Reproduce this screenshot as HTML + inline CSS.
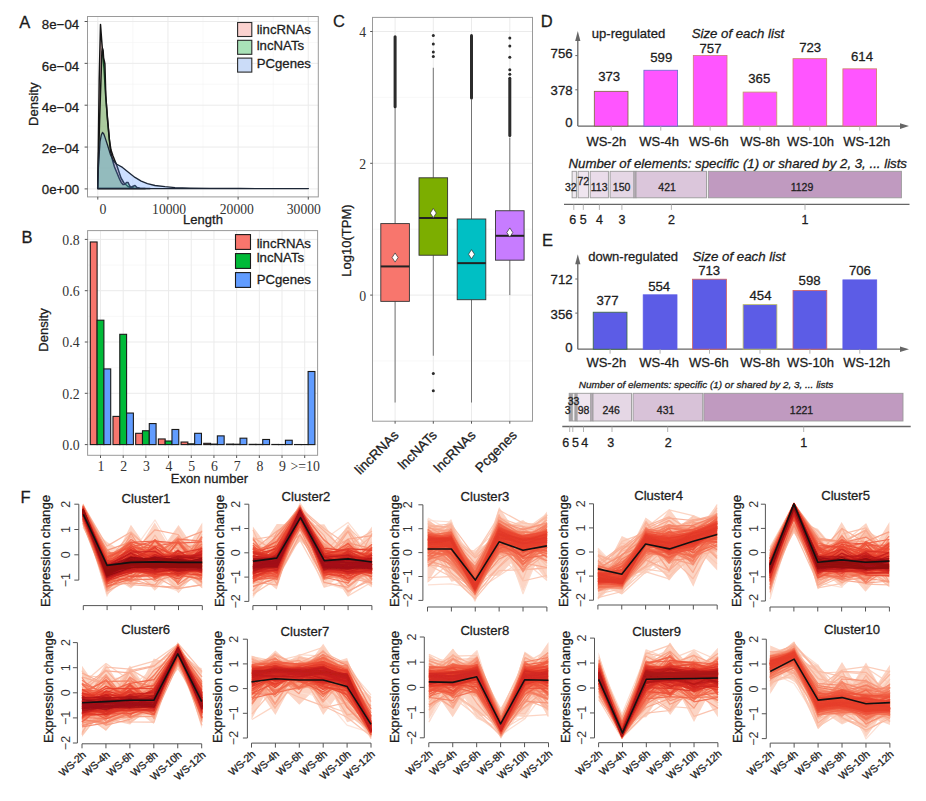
<!DOCTYPE html>
<html><head><meta charset="utf-8"><title>Figure</title>
<style>
html,body{margin:0;padding:0;background:#fff;width:926px;height:801px;overflow:hidden;}
svg{display:block;}
svg text{stroke:#222;stroke-width:0.28px;}
svg text[font-family*="Serif"],svg text.ns{stroke:none;}

</style></head><body>
<svg width="926" height="801" viewBox="0 0 926 801">
<rect x="0" y="0" width="926" height="801" fill="#fff"/>
<defs><filter id="bl" x="-5%" y="-5%" width="110%" height="110%"><feGaussianBlur stdDeviation="0.45"/></filter></defs>
<line x1="132.88" y1="16.50" x2="132.88" y2="196.90" stroke="#f4f4f4" stroke-width="0.6"/>
<line x1="203.03" y1="16.50" x2="203.03" y2="196.90" stroke="#f4f4f4" stroke-width="0.6"/>
<line x1="273.18" y1="16.50" x2="273.18" y2="196.90" stroke="#f4f4f4" stroke-width="0.6"/>
<line x1="87.50" y1="167.97" x2="318.30" y2="167.97" stroke="#f4f4f4" stroke-width="0.6"/>
<line x1="87.50" y1="126.13" x2="318.30" y2="126.13" stroke="#f4f4f4" stroke-width="0.6"/>
<line x1="87.50" y1="84.28" x2="318.30" y2="84.28" stroke="#f4f4f4" stroke-width="0.6"/>
<line x1="87.50" y1="42.43" x2="318.30" y2="42.43" stroke="#f4f4f4" stroke-width="0.6"/>
<line x1="97.80" y1="16.50" x2="97.80" y2="196.90" stroke="#ebebeb" stroke-width="1"/>
<line x1="167.95" y1="16.50" x2="167.95" y2="196.90" stroke="#ebebeb" stroke-width="1"/>
<line x1="238.10" y1="16.50" x2="238.10" y2="196.90" stroke="#ebebeb" stroke-width="1"/>
<line x1="308.25" y1="16.50" x2="308.25" y2="196.90" stroke="#ebebeb" stroke-width="1"/>
<line x1="87.50" y1="188.90" x2="318.30" y2="188.90" stroke="#ebebeb" stroke-width="1"/>
<line x1="87.50" y1="147.05" x2="318.30" y2="147.05" stroke="#ebebeb" stroke-width="1"/>
<line x1="87.50" y1="105.20" x2="318.30" y2="105.20" stroke="#ebebeb" stroke-width="1"/>
<line x1="87.50" y1="63.35" x2="318.30" y2="63.35" stroke="#ebebeb" stroke-width="1"/>
<line x1="87.50" y1="21.50" x2="318.30" y2="21.50" stroke="#ebebeb" stroke-width="1"/>
<path d="M97.7,188.6 L98.3,150.0 L99.2,80.0 L100.5,24.5 L101.5,38.0 L102.6,52.0 L104.0,68.0 L105.6,95.0 L107.5,118.0 L109.4,140.0 L111.0,150.0 L113.0,156.0 L115.0,161.0 L117.0,166.0 L119.0,172.0 L121.0,178.0 L124.0,183.0 L128.0,186.5 L134.0,188.2 L145.0,188.6 Z" fill="rgba(248,118,109,0.33)" stroke="#151515" stroke-width="1.5" stroke-linejoin="round"/>
<path d="M97.7,188.6 L99.6,120.0 L101.2,72.0 L101.9,52.0 L102.5,48.5 L103.1,50.5 L103.6,58.0 L104.3,61.0 L104.9,64.0 L105.8,96.0 L107.5,120.0 L109.4,140.0 L110.6,152.0 L112.5,160.0 L114.5,167.0 L117.0,173.0 L119.5,179.0 L121.2,182.4 L123.0,184.5 L125.0,184.2 L126.5,182.6 L128.0,182.4 L129.5,185.5 L130.6,187.4 L132.5,186.5 L135.0,185.5 L137.0,187.5 L140.0,188.3 L150.0,188.6 Z" fill="rgba(0,186,56,0.32)" stroke="#151515" stroke-width="1.5" stroke-linejoin="round"/>
<path d="M97.7,188.6 L98.5,165.0 L100.0,142.0 L101.3,135.0 L102.5,132.4 L103.8,134.0 L105.0,137.4 L107.5,145.0 L110.6,155.0 L113.7,161.0 L116.8,164.3 L122.5,167.4 L128.7,172.4 L135.0,177.4 L141.2,181.1 L147.4,183.6 L155.0,185.5 L165.0,186.7 L175.0,187.6 L190.0,188.1 L210.0,188.4 L240.0,188.5 L280.0,188.6 L308.4,188.6 Z" fill="rgba(97,156,255,0.32)" stroke="#1c2636" stroke-width="1.3" stroke-linejoin="round"/>
<rect x="87.50" y="16.50" width="230.80" height="180.40" fill="none" stroke="#9a9a9a" stroke-width="1"/>
<line x1="84.60" y1="188.90" x2="87.50" y2="188.90" stroke="#555" stroke-width="1"/>
<text x="79.20" y="194.19" font-size="13.3" text-anchor="end" font-family='"Liberation Sans", sans-serif' fill="#1a1a1a">0e+00</text>
<line x1="84.60" y1="147.05" x2="87.50" y2="147.05" stroke="#555" stroke-width="1"/>
<text x="79.20" y="152.79" font-size="13.3" text-anchor="end" font-family='"Liberation Sans", sans-serif' fill="#1a1a1a">2e−04</text>
<line x1="84.60" y1="105.20" x2="87.50" y2="105.20" stroke="#555" stroke-width="1"/>
<text x="79.20" y="112.49" font-size="13.3" text-anchor="end" font-family='"Liberation Sans", sans-serif' fill="#1a1a1a">4e−04</text>
<line x1="84.60" y1="63.35" x2="87.50" y2="63.35" stroke="#555" stroke-width="1"/>
<text x="79.20" y="70.79" font-size="13.3" text-anchor="end" font-family='"Liberation Sans", sans-serif' fill="#1a1a1a">6e−04</text>
<line x1="84.60" y1="21.50" x2="87.50" y2="21.50" stroke="#555" stroke-width="1"/>
<text x="79.20" y="28.69" font-size="13.3" text-anchor="end" font-family='"Liberation Sans", sans-serif' fill="#1a1a1a">8e−04</text>
<line x1="97.80" y1="196.90" x2="97.80" y2="199.60" stroke="#555" stroke-width="1"/>
<text x="102.90" y="213.77" font-size="13.8" text-anchor="middle" font-family='"Liberation Serif", serif' fill="#333">0</text>
<line x1="167.95" y1="196.90" x2="167.95" y2="199.60" stroke="#555" stroke-width="1"/>
<text x="169.10" y="213.77" font-size="13.8" text-anchor="middle" font-family='"Liberation Serif", serif' fill="#333" textLength="34.0" lengthAdjust="spacingAndGlyphs">10000</text>
<line x1="238.10" y1="196.90" x2="238.10" y2="199.60" stroke="#555" stroke-width="1"/>
<text x="236.80" y="213.77" font-size="13.8" text-anchor="middle" font-family='"Liberation Serif", serif' fill="#333" textLength="34.0" lengthAdjust="spacingAndGlyphs">20000</text>
<line x1="308.25" y1="196.90" x2="308.25" y2="199.60" stroke="#555" stroke-width="1"/>
<text x="303.80" y="213.77" font-size="13.8" text-anchor="middle" font-family='"Liberation Serif", serif' fill="#333" textLength="34.0" lengthAdjust="spacingAndGlyphs">30000</text>
<text x="203.00" y="223.98" font-size="13" text-anchor="middle" font-family='"Liberation Sans", sans-serif' fill="#1a1a1a">Length</text>
<text x="33.20" y="108.88" font-size="13" text-anchor="middle" font-family='"Liberation Sans", sans-serif' fill="#1a1a1a" transform="rotate(-90 33.20 104.20)">Density</text>
<rect x="237.60" y="22.50" width="14.20" height="14.00" fill="#fbd2cf" stroke="#2a2a2a" stroke-width="1.1"/>
<text x="256.70" y="34.15" font-size="13.2" text-anchor="start" font-family='"Liberation Sans", sans-serif' fill="#1a1a1a">lincRNAs</text>
<rect x="237.60" y="40.30" width="14.20" height="14.00" fill="#a9e2b8" stroke="#2a2a2a" stroke-width="1.1"/>
<text x="256.70" y="49.55" font-size="13.2" text-anchor="start" font-family='"Liberation Sans", sans-serif' fill="#1a1a1a">lncNATs</text>
<rect x="237.60" y="58.10" width="14.20" height="14.00" fill="#cbdcf8" stroke="#2a2a2a" stroke-width="1.1"/>
<text x="256.70" y="67.75" font-size="13.2" text-anchor="start" font-family='"Liberation Sans", sans-serif' fill="#1a1a1a">PCgenes</text>
<text x="24.70" y="27.94" font-size="16.5" text-anchor="middle" font-family='"Liberation Sans", sans-serif' fill="#1a1a1a">A</text>
<line x1="87.60" y1="418.95" x2="317.60" y2="418.95" stroke="#f4f4f4" stroke-width="0.6"/>
<line x1="87.60" y1="367.65" x2="317.60" y2="367.65" stroke="#f4f4f4" stroke-width="0.6"/>
<line x1="87.60" y1="316.35" x2="317.60" y2="316.35" stroke="#f4f4f4" stroke-width="0.6"/>
<line x1="87.60" y1="265.05" x2="317.60" y2="265.05" stroke="#f4f4f4" stroke-width="0.6"/>
<line x1="87.60" y1="444.60" x2="317.60" y2="444.60" stroke="#ebebeb" stroke-width="1"/>
<line x1="87.60" y1="393.30" x2="317.60" y2="393.30" stroke="#ebebeb" stroke-width="1"/>
<line x1="87.60" y1="342.00" x2="317.60" y2="342.00" stroke="#ebebeb" stroke-width="1"/>
<line x1="87.60" y1="290.70" x2="317.60" y2="290.70" stroke="#ebebeb" stroke-width="1"/>
<line x1="87.60" y1="239.40" x2="317.60" y2="239.40" stroke="#ebebeb" stroke-width="1"/>
<line x1="100.50" y1="230.60" x2="100.50" y2="455.30" stroke="#ebebeb" stroke-width="1"/>
<line x1="123.19" y1="230.60" x2="123.19" y2="455.30" stroke="#ebebeb" stroke-width="1"/>
<line x1="145.88" y1="230.60" x2="145.88" y2="455.30" stroke="#ebebeb" stroke-width="1"/>
<line x1="168.57" y1="230.60" x2="168.57" y2="455.30" stroke="#ebebeb" stroke-width="1"/>
<line x1="191.26" y1="230.60" x2="191.26" y2="455.30" stroke="#ebebeb" stroke-width="1"/>
<line x1="213.95" y1="230.60" x2="213.95" y2="455.30" stroke="#ebebeb" stroke-width="1"/>
<line x1="236.64" y1="230.60" x2="236.64" y2="455.30" stroke="#ebebeb" stroke-width="1"/>
<line x1="259.33" y1="230.60" x2="259.33" y2="455.30" stroke="#ebebeb" stroke-width="1"/>
<line x1="282.02" y1="230.60" x2="282.02" y2="455.30" stroke="#ebebeb" stroke-width="1"/>
<line x1="304.71" y1="230.60" x2="304.71" y2="455.30" stroke="#ebebeb" stroke-width="1"/>
<rect x="90.30" y="241.97" width="6.80" height="202.63" fill="#f8766d" stroke="#1a1a1a" stroke-width="1.1"/>
<rect x="97.10" y="320.20" width="6.80" height="124.40" fill="#00ba38" stroke="#1a1a1a" stroke-width="1.1"/>
<rect x="103.90" y="368.93" width="6.80" height="75.67" fill="#619cff" stroke="#1a1a1a" stroke-width="1.1"/>
<rect x="112.99" y="416.39" width="6.80" height="28.21" fill="#f8766d" stroke="#1a1a1a" stroke-width="1.1"/>
<rect x="119.79" y="334.31" width="6.80" height="110.29" fill="#00ba38" stroke="#1a1a1a" stroke-width="1.1"/>
<rect x="126.59" y="413.05" width="6.80" height="31.55" fill="#619cff" stroke="#1a1a1a" stroke-width="1.1"/>
<rect x="135.68" y="433.31" width="6.80" height="11.29" fill="#f8766d" stroke="#1a1a1a" stroke-width="1.1"/>
<rect x="142.48" y="430.75" width="6.80" height="13.85" fill="#00ba38" stroke="#1a1a1a" stroke-width="1.1"/>
<rect x="149.28" y="423.57" width="6.80" height="21.03" fill="#619cff" stroke="#1a1a1a" stroke-width="1.1"/>
<rect x="158.37" y="438.96" width="6.80" height="5.64" fill="#f8766d" stroke="#1a1a1a" stroke-width="1.1"/>
<rect x="165.17" y="441.01" width="6.80" height="3.59" fill="#00ba38" stroke="#1a1a1a" stroke-width="1.1"/>
<rect x="171.97" y="429.47" width="6.80" height="15.13" fill="#619cff" stroke="#1a1a1a" stroke-width="1.1"/>
<rect x="181.06" y="442.04" width="6.80" height="2.56" fill="#f8766d" stroke="#1a1a1a" stroke-width="1.1"/>
<rect x="187.86" y="443.83" width="6.80" height="0.77" fill="#00ba38" stroke="#1a1a1a" stroke-width="1.1"/>
<rect x="194.66" y="433.31" width="6.80" height="11.29" fill="#619cff" stroke="#1a1a1a" stroke-width="1.1"/>
<rect x="203.75" y="443.32" width="6.80" height="1.28" fill="#f8766d" stroke="#1a1a1a" stroke-width="1.1"/>
<rect x="210.55" y="444.09" width="6.80" height="0.51" fill="#00ba38" stroke="#1a1a1a" stroke-width="1.1"/>
<rect x="217.35" y="435.88" width="6.80" height="8.72" fill="#619cff" stroke="#1a1a1a" stroke-width="1.1"/>
<rect x="226.44" y="444.09" width="6.80" height="0.51" fill="#f8766d" stroke="#1a1a1a" stroke-width="1.1"/>
<rect x="233.24" y="444.22" width="6.80" height="0.38" fill="#00ba38" stroke="#1a1a1a" stroke-width="1.1"/>
<rect x="240.04" y="438.19" width="6.80" height="6.41" fill="#619cff" stroke="#1a1a1a" stroke-width="1.1"/>
<rect x="249.13" y="444.34" width="6.80" height="0.26" fill="#f8766d" stroke="#1a1a1a" stroke-width="1.1"/>
<rect x="255.93" y="444.39" width="6.80" height="0.21" fill="#00ba38" stroke="#1a1a1a" stroke-width="1.1"/>
<rect x="262.73" y="439.47" width="6.80" height="5.13" fill="#619cff" stroke="#1a1a1a" stroke-width="1.1"/>
<rect x="271.82" y="444.45" width="6.80" height="0.15" fill="#f8766d" stroke="#1a1a1a" stroke-width="1.1"/>
<rect x="278.62" y="444.50" width="6.80" height="0.10" fill="#00ba38" stroke="#1a1a1a" stroke-width="1.1"/>
<rect x="285.42" y="440.24" width="6.80" height="4.36" fill="#619cff" stroke="#1a1a1a" stroke-width="1.1"/>
<rect x="294.51" y="444.52" width="6.80" height="0.08" fill="#f8766d" stroke="#1a1a1a" stroke-width="1.1"/>
<rect x="301.31" y="444.55" width="6.80" height="0.05" fill="#00ba38" stroke="#1a1a1a" stroke-width="1.1"/>
<rect x="308.11" y="371.50" width="6.80" height="73.10" fill="#619cff" stroke="#1a1a1a" stroke-width="1.1"/>
<rect x="87.60" y="230.60" width="230.00" height="224.70" fill="none" stroke="#9a9a9a" stroke-width="1"/>
<line x1="84.80" y1="444.60" x2="87.60" y2="444.60" stroke="#555" stroke-width="1"/>
<text x="79.60" y="450.07" font-size="13.8" text-anchor="end" font-family='"Liberation Serif", serif' fill="#333">0.0</text>
<line x1="84.80" y1="393.30" x2="87.60" y2="393.30" stroke="#555" stroke-width="1"/>
<text x="79.60" y="398.77" font-size="13.8" text-anchor="end" font-family='"Liberation Serif", serif' fill="#333">0.2</text>
<line x1="84.80" y1="342.00" x2="87.60" y2="342.00" stroke="#555" stroke-width="1"/>
<text x="79.60" y="347.47" font-size="13.8" text-anchor="end" font-family='"Liberation Serif", serif' fill="#333">0.4</text>
<line x1="84.80" y1="290.70" x2="87.60" y2="290.70" stroke="#555" stroke-width="1"/>
<text x="79.60" y="296.17" font-size="13.8" text-anchor="end" font-family='"Liberation Serif", serif' fill="#333">0.6</text>
<line x1="84.80" y1="239.40" x2="87.60" y2="239.40" stroke="#555" stroke-width="1"/>
<text x="79.60" y="244.87" font-size="13.8" text-anchor="end" font-family='"Liberation Serif", serif' fill="#333">0.8</text>
<line x1="100.50" y1="455.30" x2="100.50" y2="458.00" stroke="#555" stroke-width="1"/>
<text x="101.00" y="471.27" font-size="13.8" text-anchor="middle" font-family='"Liberation Serif", serif' fill="#333">1</text>
<line x1="123.19" y1="455.30" x2="123.19" y2="458.00" stroke="#555" stroke-width="1"/>
<text x="123.69" y="471.27" font-size="13.8" text-anchor="middle" font-family='"Liberation Serif", serif' fill="#333">2</text>
<line x1="145.88" y1="455.30" x2="145.88" y2="458.00" stroke="#555" stroke-width="1"/>
<text x="146.38" y="471.27" font-size="13.8" text-anchor="middle" font-family='"Liberation Serif", serif' fill="#333">3</text>
<line x1="168.57" y1="455.30" x2="168.57" y2="458.00" stroke="#555" stroke-width="1"/>
<text x="169.07" y="471.27" font-size="13.8" text-anchor="middle" font-family='"Liberation Serif", serif' fill="#333">4</text>
<line x1="191.26" y1="455.30" x2="191.26" y2="458.00" stroke="#555" stroke-width="1"/>
<text x="191.76" y="471.27" font-size="13.8" text-anchor="middle" font-family='"Liberation Serif", serif' fill="#333">5</text>
<line x1="213.95" y1="455.30" x2="213.95" y2="458.00" stroke="#555" stroke-width="1"/>
<text x="214.45" y="471.27" font-size="13.8" text-anchor="middle" font-family='"Liberation Serif", serif' fill="#333">6</text>
<line x1="236.64" y1="455.30" x2="236.64" y2="458.00" stroke="#555" stroke-width="1"/>
<text x="237.14" y="471.27" font-size="13.8" text-anchor="middle" font-family='"Liberation Serif", serif' fill="#333">7</text>
<line x1="259.33" y1="455.30" x2="259.33" y2="458.00" stroke="#555" stroke-width="1"/>
<text x="259.83" y="471.27" font-size="13.8" text-anchor="middle" font-family='"Liberation Serif", serif' fill="#333">8</text>
<line x1="282.02" y1="455.30" x2="282.02" y2="458.00" stroke="#555" stroke-width="1"/>
<text x="282.52" y="471.27" font-size="13.8" text-anchor="middle" font-family='"Liberation Serif", serif' fill="#333">9</text>
<line x1="304.71" y1="455.30" x2="304.71" y2="458.00" stroke="#555" stroke-width="1"/>
<text x="305.21" y="471.27" font-size="13.8" text-anchor="middle" font-family='"Liberation Serif", serif' fill="#333">&gt;=10</text>
<text x="209.50" y="483.28" font-size="13" text-anchor="middle" font-family='"Liberation Sans", sans-serif' fill="#1a1a1a">Exon number</text>
<text x="43.60" y="334.68" font-size="13" text-anchor="middle" font-family='"Liberation Sans", sans-serif' fill="#1a1a1a" transform="rotate(-90 43.60 330.00)">Density</text>
<rect x="235.50" y="234.60" width="15.00" height="14.80" fill="#f8766d" stroke="#1a1a1a" stroke-width="1.1"/>
<text x="256.70" y="247.95" font-size="13.2" text-anchor="start" font-family='"Liberation Sans", sans-serif' fill="#1a1a1a">lincRNAs</text>
<rect x="235.50" y="253.60" width="15.00" height="14.80" fill="#00ba38" stroke="#1a1a1a" stroke-width="1.1"/>
<text x="256.70" y="262.35" font-size="13.2" text-anchor="start" font-family='"Liberation Sans", sans-serif' fill="#1a1a1a">lncNATs</text>
<rect x="235.50" y="272.60" width="15.00" height="14.80" fill="#619cff" stroke="#1a1a1a" stroke-width="1.1"/>
<text x="256.70" y="283.75" font-size="13.2" text-anchor="start" font-family='"Liberation Sans", sans-serif' fill="#1a1a1a">PCgenes</text>
<text x="27.00" y="243.24" font-size="16.5" text-anchor="middle" font-family='"Liberation Sans", sans-serif' fill="#1a1a1a">B</text>
<line x1="372.50" y1="361.00" x2="532.50" y2="361.00" stroke="#f4f4f4" stroke-width="0.6"/>
<line x1="372.50" y1="229.20" x2="532.50" y2="229.20" stroke="#f4f4f4" stroke-width="0.6"/>
<line x1="372.50" y1="97.40" x2="532.50" y2="97.40" stroke="#f4f4f4" stroke-width="0.6"/>
<line x1="372.50" y1="295.10" x2="532.50" y2="295.10" stroke="#ebebeb" stroke-width="1"/>
<line x1="372.50" y1="163.30" x2="532.50" y2="163.30" stroke="#ebebeb" stroke-width="1"/>
<line x1="372.50" y1="31.50" x2="532.50" y2="31.50" stroke="#ebebeb" stroke-width="1"/>
<line x1="395.10" y1="17.40" x2="395.10" y2="421.20" stroke="#ebebeb" stroke-width="1"/>
<line x1="433.30" y1="17.40" x2="433.30" y2="421.20" stroke="#ebebeb" stroke-width="1"/>
<line x1="471.50" y1="17.40" x2="471.50" y2="421.20" stroke="#ebebeb" stroke-width="1"/>
<line x1="509.80" y1="17.40" x2="509.80" y2="421.20" stroke="#ebebeb" stroke-width="1"/>
<line x1="395.10" y1="107.94" x2="395.10" y2="223.60" stroke="#666" stroke-width="0.9"/>
<line x1="395.10" y1="301.36" x2="395.10" y2="402.52" stroke="#666" stroke-width="0.9"/>
<rect x="380.80" y="223.60" width="28.60" height="77.76" fill="#f8766d" stroke="#333" stroke-width="0.9"/>
<line x1="380.80" y1="266.43" x2="409.40" y2="266.43" stroke="#222" stroke-width="2.0"/>
<path d="M395.10,252.94 L398.10,257.54 L395.10,262.14 L392.10,257.54 Z" fill="#fff" stroke="#333" stroke-width="0.7"/>
<line x1="395.10" y1="36.77" x2="395.10" y2="106.63" stroke="#2b2b2b" stroke-width="3" stroke-linecap="round"/>
<line x1="433.30" y1="67.75" x2="433.30" y2="177.80" stroke="#666" stroke-width="0.9"/>
<line x1="433.30" y1="255.23" x2="433.30" y2="355.73" stroke="#666" stroke-width="0.9"/>
<rect x="419.00" y="177.80" width="28.60" height="77.43" fill="#7cae00" stroke="#333" stroke-width="0.9"/>
<line x1="419.00" y1="218.00" x2="447.60" y2="218.00" stroke="#222" stroke-width="2.0"/>
<path d="M433.30,208.45 L436.30,213.05 L433.30,217.65 L430.30,213.05 Z" fill="#fff" stroke="#333" stroke-width="0.7"/>
<circle cx="433.30" cy="56.54" r="1.5" fill="#2b2b2b"/>
<circle cx="433.30" cy="51.93" r="1.5" fill="#2b2b2b"/>
<circle cx="433.30" cy="44.02" r="1.5" fill="#2b2b2b"/>
<circle cx="433.30" cy="35.45" r="1.5" fill="#2b2b2b"/>
<circle cx="433.30" cy="373.52" r="1.5" fill="#2b2b2b"/>
<circle cx="433.30" cy="390.66" r="1.5" fill="#2b2b2b"/>
<line x1="471.50" y1="99.38" x2="471.50" y2="218.99" stroke="#666" stroke-width="0.9"/>
<line x1="471.50" y1="299.71" x2="471.50" y2="402.52" stroke="#666" stroke-width="0.9"/>
<rect x="457.20" y="218.99" width="28.60" height="80.73" fill="#00bfc4" stroke="#333" stroke-width="0.9"/>
<line x1="457.20" y1="263.14" x2="485.80" y2="263.14" stroke="#222" stroke-width="2.0"/>
<path d="M471.50,249.64 L474.50,254.24 L471.50,258.84 L468.50,254.24 Z" fill="#fff" stroke="#333" stroke-width="0.7"/>
<line x1="471.50" y1="35.45" x2="471.50" y2="98.06" stroke="#2b2b2b" stroke-width="3" stroke-linecap="round"/>
<line x1="509.80" y1="137.60" x2="509.80" y2="210.75" stroke="#666" stroke-width="0.9"/>
<line x1="509.80" y1="260.17" x2="509.80" y2="295.10" stroke="#666" stroke-width="0.9"/>
<rect x="495.50" y="210.75" width="28.60" height="49.42" fill="#c77cff" stroke="#333" stroke-width="0.9"/>
<line x1="495.50" y1="235.79" x2="524.10" y2="235.79" stroke="#222" stroke-width="2.0"/>
<path d="M509.80,227.90 L512.80,232.50 L509.80,237.09 L506.80,232.50 Z" fill="#fff" stroke="#333" stroke-width="0.7"/>
<line x1="509.80" y1="78.29" x2="509.80" y2="135.62" stroke="#2b2b2b" stroke-width="3" stroke-linecap="round"/>
<circle cx="509.80" cy="74.34" r="1.5" fill="#2b2b2b"/>
<circle cx="509.80" cy="69.72" r="1.5" fill="#2b2b2b"/>
<circle cx="509.80" cy="57.20" r="1.5" fill="#2b2b2b"/>
<circle cx="509.80" cy="46.00" r="1.5" fill="#2b2b2b"/>
<circle cx="509.80" cy="38.09" r="1.5" fill="#2b2b2b"/>
<rect x="372.50" y="17.40" width="160.00" height="403.80" fill="none" stroke="#9a9a9a" stroke-width="1"/>
<line x1="370.20" y1="295.10" x2="372.50" y2="295.10" stroke="#555" stroke-width="1"/>
<text x="362.80" y="300.87" font-size="13.8" text-anchor="middle" font-family='"Liberation Serif", serif' fill="#333">0</text>
<line x1="370.20" y1="163.30" x2="372.50" y2="163.30" stroke="#555" stroke-width="1"/>
<text x="362.80" y="169.07" font-size="13.8" text-anchor="middle" font-family='"Liberation Serif", serif' fill="#333">2</text>
<line x1="370.20" y1="31.50" x2="372.50" y2="31.50" stroke="#555" stroke-width="1"/>
<text x="362.80" y="37.27" font-size="13.8" text-anchor="middle" font-family='"Liberation Serif", serif' fill="#333">4</text>
<line x1="395.10" y1="421.20" x2="395.10" y2="423.70" stroke="#555" stroke-width="1"/>
<line x1="433.30" y1="421.20" x2="433.30" y2="423.70" stroke="#555" stroke-width="1"/>
<line x1="471.50" y1="421.20" x2="471.50" y2="423.70" stroke="#555" stroke-width="1"/>
<line x1="509.80" y1="421.20" x2="509.80" y2="423.70" stroke="#555" stroke-width="1"/>
<text x="399.60" y="436.00" font-size="13.5" text-anchor="end" font-family='"Liberation Sans", sans-serif' fill="#1a1a1a" transform="rotate(-45 399.60 436.0)">lincRNAs</text>
<text x="437.80" y="436.00" font-size="13.5" text-anchor="end" font-family='"Liberation Sans", sans-serif' fill="#1a1a1a" transform="rotate(-45 437.80 436.0)">lncNATs</text>
<text x="476.50" y="436.00" font-size="13.5" text-anchor="end" font-family='"Liberation Sans", sans-serif' fill="#1a1a1a" transform="rotate(-45 476.50 436.0)">lncRNAs</text>
<text x="517.80" y="436.00" font-size="13.5" text-anchor="end" font-family='"Liberation Sans", sans-serif' fill="#1a1a1a" transform="rotate(-45 517.80 436.0)">Pcgenes</text>
<text x="346.00" y="245.18" font-size="13" text-anchor="middle" font-family='"Liberation Sans", sans-serif' fill="#1a1a1a" transform="rotate(-90 346.00 240.50)">Log10(TPM)</text>
<text x="338.90" y="26.84" font-size="16.5" text-anchor="middle" font-family='"Liberation Sans", sans-serif' fill="#1a1a1a">C</text>
<text x="546.60" y="27.14" font-size="16.5" text-anchor="middle" font-family='"Liberation Sans", sans-serif' fill="#1a1a1a">D</text>
<line x1="577.80" y1="126.10" x2="577.80" y2="38.10" stroke="#666" stroke-width="1.3"/>
<path d="M575.20,41.10 L577.80,31.10 L580.40,41.10 Z" fill="#666"/>
<line x1="577.80" y1="126.10" x2="902.00" y2="126.10" stroke="#666" stroke-width="1.3"/>
<path d="M900.00,123.30 L909.00,126.10 L900.00,128.90 Z" fill="#666"/>
<line x1="575.30" y1="55.60" x2="577.80" y2="55.60" stroke="#666" stroke-width="1"/>
<text x="572.60" y="58.15" font-size="13.2" text-anchor="end" font-family='"Liberation Sans", sans-serif' fill="#1a1a1a">756</text>
<line x1="575.30" y1="89.80" x2="577.80" y2="89.80" stroke="#666" stroke-width="1"/>
<text x="572.60" y="95.05" font-size="13.2" text-anchor="end" font-family='"Liberation Sans", sans-serif' fill="#1a1a1a">378</text>
<text x="572.60" y="126.95" font-size="13.2" text-anchor="end" font-family='"Liberation Sans", sans-serif' fill="#1a1a1a">0</text>
<rect x="594.30" y="91.32" width="33.70" height="34.78" fill="#ff55ff" stroke="#7a6a3a" stroke-width="0.8"/>
<text x="609.20" y="80.85" font-size="13.2" text-anchor="middle" font-family='"Liberation Sans", sans-serif' fill="#1a1a1a">373</text>
<rect x="643.90" y="70.24" width="33.70" height="55.86" fill="#ff55ff" stroke="#6a6ad0" stroke-width="0.8"/>
<text x="661.30" y="61.65" font-size="13.2" text-anchor="middle" font-family='"Liberation Sans", sans-serif' fill="#1a1a1a">599</text>
<rect x="693.30" y="55.51" width="33.70" height="70.59" fill="#ff55ff" stroke="#d07a7a" stroke-width="0.8"/>
<text x="710.50" y="52.55" font-size="13.2" text-anchor="middle" font-family='"Liberation Sans", sans-serif' fill="#1a1a1a">757</text>
<rect x="743.10" y="92.06" width="33.70" height="34.04" fill="#ff55ff" stroke="#c0a060" stroke-width="0.8"/>
<text x="759.30" y="82.75" font-size="13.2" text-anchor="middle" font-family='"Liberation Sans", sans-serif' fill="#1a1a1a">365</text>
<rect x="793.00" y="58.68" width="33.70" height="67.42" fill="#ff55ff" stroke="#d08060" stroke-width="0.8"/>
<text x="810.20" y="51.95" font-size="13.2" text-anchor="middle" font-family='"Liberation Sans", sans-serif' fill="#1a1a1a">723</text>
<rect x="842.90" y="68.84" width="33.70" height="57.26" fill="#ff55ff" stroke="#d08060" stroke-width="0.8"/>
<text x="862.00" y="61.15" font-size="13.2" text-anchor="middle" font-family='"Liberation Sans", sans-serif' fill="#1a1a1a">614</text>
<line x1="611.15" y1="126.10" x2="611.15" y2="130.60" stroke="#aaa" stroke-width="0.9"/>
<text x="606.30" y="146.08" font-size="13" text-anchor="middle" font-family='"Liberation Sans", sans-serif' fill="#1a1a1a">WS-2h</text>
<line x1="660.75" y1="126.10" x2="660.75" y2="130.60" stroke="#aaa" stroke-width="0.9"/>
<text x="659.20" y="146.08" font-size="13" text-anchor="middle" font-family='"Liberation Sans", sans-serif' fill="#1a1a1a">WS-4h</text>
<line x1="710.15" y1="126.10" x2="710.15" y2="130.60" stroke="#aaa" stroke-width="0.9"/>
<text x="708.80" y="146.08" font-size="13" text-anchor="middle" font-family='"Liberation Sans", sans-serif' fill="#1a1a1a">WS-6h</text>
<line x1="759.95" y1="126.10" x2="759.95" y2="130.60" stroke="#aaa" stroke-width="0.9"/>
<text x="760.00" y="146.08" font-size="13" text-anchor="middle" font-family='"Liberation Sans", sans-serif' fill="#1a1a1a">WS-8h</text>
<line x1="809.85" y1="126.10" x2="809.85" y2="130.60" stroke="#aaa" stroke-width="0.9"/>
<text x="810.60" y="146.08" font-size="13" text-anchor="middle" font-family='"Liberation Sans", sans-serif' fill="#1a1a1a">WS-10h</text>
<line x1="859.75" y1="126.10" x2="859.75" y2="130.60" stroke="#aaa" stroke-width="0.9"/>
<text x="866.80" y="146.08" font-size="13" text-anchor="middle" font-family='"Liberation Sans", sans-serif' fill="#1a1a1a">WS-12h</text>
<text x="591.80" y="38.28" font-size="13" text-anchor="start" font-family='"Liberation Sans", sans-serif' fill="#1a1a1a" textLength="73.5" lengthAdjust="spacingAndGlyphs">up-regulated</text>
<text x="691.70" y="38.28" font-size="13" text-anchor="start" font-family='"Liberation Sans", sans-serif' fill="#1a1a1a" font-style="italic" textLength="92.5" lengthAdjust="spacingAndGlyphs">Size of each list</text>
<text x="568.50" y="168.18" font-size="13" text-anchor="start" font-family='"Liberation Sans", sans-serif' fill="#1a1a1a" font-style="italic" textLength="338.5" lengthAdjust="spacingAndGlyphs">Number of elements: specific (1) or shared by 2, 3, ... lists</text>
<rect x="572.10" y="171.30" width="4.30" height="26.50" fill="#efe9ef" stroke="#9a9a9a" stroke-width="0.9"/>
<rect x="578.10" y="171.30" width="10.40" height="26.50" fill="#efe5ef" stroke="#9a9a9a" stroke-width="0.9"/>
<rect x="590.20" y="171.30" width="18.20" height="26.50" fill="#eadcea" stroke="#9a9a9a" stroke-width="0.9"/>
<rect x="610.10" y="171.30" width="23.90" height="26.50" fill="#e5d7e5" stroke="#9a9a9a" stroke-width="0.9"/>
<rect x="634.00" y="171.30" width="2.00" height="26.50" fill="#c9b9c9" stroke="#9a9a9a" stroke-width="0.9"/>
<rect x="636.00" y="171.30" width="70.50" height="26.50" fill="#dbc6db" stroke="#9a9a9a" stroke-width="0.9"/>
<rect x="708.30" y="171.30" width="193.10" height="26.50" fill="#c09ac0" stroke="#9a9a9a" stroke-width="0.9"/>
<text x="570.80" y="190.88" font-size="10.5" text-anchor="middle" font-family='"Liberation Sans", sans-serif' fill="#1a1a1a">32</text>
<text x="583.30" y="184.88" font-size="10.5" text-anchor="middle" font-family='"Liberation Sans", sans-serif' fill="#1a1a1a">72</text>
<text x="599.20" y="190.88" font-size="10.5" text-anchor="middle" font-family='"Liberation Sans", sans-serif' fill="#1a1a1a">113</text>
<text x="621.60" y="190.88" font-size="10.5" text-anchor="middle" font-family='"Liberation Sans", sans-serif' fill="#1a1a1a">150</text>
<text x="667.10" y="190.88" font-size="10.5" text-anchor="middle" font-family='"Liberation Sans", sans-serif' fill="#1a1a1a">421</text>
<text x="802.00" y="190.88" font-size="10.5" text-anchor="middle" font-family='"Liberation Sans", sans-serif' fill="#1a1a1a">1129</text>
<line x1="564.00" y1="204.40" x2="909.50" y2="204.40" stroke="#666" stroke-width="1.3"/>
<line x1="573.80" y1="204.40" x2="573.80" y2="209.90" stroke="#aaa" stroke-width="0.9"/>
<text x="572.80" y="224.30" font-size="12.5" text-anchor="middle" font-family='"Liberation Sans", sans-serif' fill="#1a1a1a">6</text>
<line x1="583.30" y1="204.40" x2="583.30" y2="209.90" stroke="#aaa" stroke-width="0.9"/>
<text x="583.30" y="224.30" font-size="12.5" text-anchor="middle" font-family='"Liberation Sans", sans-serif' fill="#1a1a1a">5</text>
<line x1="599.40" y1="204.40" x2="599.40" y2="209.90" stroke="#aaa" stroke-width="0.9"/>
<text x="599.40" y="224.30" font-size="12.5" text-anchor="middle" font-family='"Liberation Sans", sans-serif' fill="#1a1a1a">4</text>
<line x1="621.90" y1="204.40" x2="621.90" y2="209.90" stroke="#aaa" stroke-width="0.9"/>
<text x="621.90" y="224.30" font-size="12.5" text-anchor="middle" font-family='"Liberation Sans", sans-serif' fill="#1a1a1a">3</text>
<line x1="671.40" y1="204.40" x2="671.40" y2="209.90" stroke="#aaa" stroke-width="0.9"/>
<text x="671.40" y="224.30" font-size="12.5" text-anchor="middle" font-family='"Liberation Sans", sans-serif' fill="#1a1a1a">2</text>
<line x1="805.00" y1="204.40" x2="805.00" y2="209.90" stroke="#aaa" stroke-width="0.9"/>
<text x="805.00" y="224.30" font-size="12.5" text-anchor="middle" font-family='"Liberation Sans", sans-serif' fill="#1a1a1a">1</text>
<text x="547.50" y="245.94" font-size="16.5" text-anchor="middle" font-family='"Liberation Sans", sans-serif' fill="#1a1a1a">E</text>
<line x1="577.80" y1="349.20" x2="577.80" y2="261.20" stroke="#666" stroke-width="1.3"/>
<path d="M575.20,264.20 L577.80,254.20 L580.40,264.20 Z" fill="#666"/>
<line x1="577.80" y1="349.20" x2="902.00" y2="349.20" stroke="#666" stroke-width="1.3"/>
<path d="M900.00,346.40 L909.00,349.20 L900.00,352.00 Z" fill="#666"/>
<line x1="575.30" y1="279.00" x2="577.80" y2="279.00" stroke="#666" stroke-width="1"/>
<text x="572.60" y="284.15" font-size="13.2" text-anchor="end" font-family='"Liberation Sans", sans-serif' fill="#1a1a1a">712</text>
<line x1="575.30" y1="313.10" x2="577.80" y2="313.10" stroke="#666" stroke-width="1"/>
<text x="572.60" y="318.65" font-size="13.2" text-anchor="end" font-family='"Liberation Sans", sans-serif' fill="#1a1a1a">356</text>
<text x="572.60" y="351.55" font-size="13.2" text-anchor="end" font-family='"Liberation Sans", sans-serif' fill="#1a1a1a">0</text>
<rect x="593.20" y="312.19" width="33.80" height="37.01" fill="#5c5ce6" stroke="#3a6a3a" stroke-width="0.8"/>
<text x="607.50" y="304.85" font-size="13.2" text-anchor="middle" font-family='"Liberation Sans", sans-serif' fill="#1a1a1a">377</text>
<rect x="643.20" y="294.81" width="33.80" height="54.39" fill="#5c5ce6" stroke="#5c5ce6" stroke-width="0.8"/>
<text x="659.20" y="290.65" font-size="13.2" text-anchor="middle" font-family='"Liberation Sans", sans-serif' fill="#1a1a1a">554</text>
<rect x="692.60" y="279.20" width="33.80" height="70.00" fill="#5c5ce6" stroke="#d06060" stroke-width="0.8"/>
<text x="709.20" y="274.95" font-size="13.2" text-anchor="middle" font-family='"Liberation Sans", sans-serif' fill="#1a1a1a">713</text>
<rect x="743.10" y="304.63" width="33.80" height="44.57" fill="#5c5ce6" stroke="#c0c060" stroke-width="0.8"/>
<text x="760.50" y="300.25" font-size="13.2" text-anchor="middle" font-family='"Liberation Sans", sans-serif' fill="#1a1a1a">454</text>
<rect x="793.00" y="290.49" width="33.80" height="58.71" fill="#5c5ce6" stroke="#d06060" stroke-width="0.8"/>
<text x="809.60" y="285.05" font-size="13.2" text-anchor="middle" font-family='"Liberation Sans", sans-serif' fill="#1a1a1a">598</text>
<rect x="842.90" y="279.89" width="33.80" height="69.31" fill="#5c5ce6" stroke="#5c5ce6" stroke-width="0.8"/>
<text x="859.90" y="275.15" font-size="13.2" text-anchor="middle" font-family='"Liberation Sans", sans-serif' fill="#1a1a1a">706</text>
<line x1="610.10" y1="349.20" x2="610.10" y2="353.70" stroke="#aaa" stroke-width="0.9"/>
<text x="606.30" y="366.58" font-size="13" text-anchor="middle" font-family='"Liberation Sans", sans-serif' fill="#1a1a1a">WS-2h</text>
<line x1="660.10" y1="349.20" x2="660.10" y2="353.70" stroke="#aaa" stroke-width="0.9"/>
<text x="659.20" y="366.58" font-size="13" text-anchor="middle" font-family='"Liberation Sans", sans-serif' fill="#1a1a1a">WS-4h</text>
<line x1="709.50" y1="349.20" x2="709.50" y2="353.70" stroke="#aaa" stroke-width="0.9"/>
<text x="708.80" y="366.58" font-size="13" text-anchor="middle" font-family='"Liberation Sans", sans-serif' fill="#1a1a1a">WS-6h</text>
<line x1="760.00" y1="349.20" x2="760.00" y2="353.70" stroke="#aaa" stroke-width="0.9"/>
<text x="760.00" y="366.58" font-size="13" text-anchor="middle" font-family='"Liberation Sans", sans-serif' fill="#1a1a1a">WS-8h</text>
<line x1="809.90" y1="349.20" x2="809.90" y2="353.70" stroke="#aaa" stroke-width="0.9"/>
<text x="810.60" y="366.58" font-size="13" text-anchor="middle" font-family='"Liberation Sans", sans-serif' fill="#1a1a1a">WS-10h</text>
<line x1="859.80" y1="349.20" x2="859.80" y2="353.70" stroke="#aaa" stroke-width="0.9"/>
<text x="866.80" y="366.58" font-size="13" text-anchor="middle" font-family='"Liberation Sans", sans-serif' fill="#1a1a1a">WS-12h</text>
<text x="588.20" y="261.38" font-size="13" text-anchor="start" font-family='"Liberation Sans", sans-serif' fill="#1a1a1a" textLength="89.8" lengthAdjust="spacingAndGlyphs">down-regulated</text>
<text x="692.50" y="261.38" font-size="13" text-anchor="start" font-family='"Liberation Sans", sans-serif' fill="#1a1a1a" font-style="italic" textLength="93.0" lengthAdjust="spacingAndGlyphs">Size of each list</text>
<text x="578.80" y="388.13" font-size="9.8" text-anchor="start" font-family='"Liberation Sans", sans-serif' fill="#1a1a1a" font-style="italic" textLength="254.5" lengthAdjust="spacingAndGlyphs">Number of elements: specific (1) or shared by 2, 3, ... lists</text>
<rect x="569.20" y="393.30" width="2.20" height="27.70" fill="#a8a0a8" stroke="#9a9a9a" stroke-width="0.9"/>
<rect x="572.30" y="393.30" width="2.60" height="27.70" fill="#f0ecf0" stroke="#9a9a9a" stroke-width="0.9"/>
<rect x="575.40" y="393.30" width="1.70" height="27.70" fill="#b8aeb8" stroke="#9a9a9a" stroke-width="0.9"/>
<rect x="577.10" y="393.30" width="13.80" height="27.70" fill="#efe5ef" stroke="#9a9a9a" stroke-width="0.9"/>
<rect x="590.90" y="393.30" width="2.10" height="27.70" fill="#c0b2c0" stroke="#9a9a9a" stroke-width="0.9"/>
<rect x="593.00" y="393.30" width="38.50" height="27.70" fill="#e5d7e5" stroke="#9a9a9a" stroke-width="0.9"/>
<rect x="633.10" y="393.30" width="69.60" height="27.70" fill="#d8c2d8" stroke="#9a9a9a" stroke-width="0.9"/>
<rect x="703.90" y="393.30" width="199.10" height="27.70" fill="#c09ac0" stroke="#9a9a9a" stroke-width="0.9"/>
<text x="583.60" y="413.78" font-size="10.5" text-anchor="middle" font-family='"Liberation Sans", sans-serif' fill="#1a1a1a">98</text>
<text x="611.20" y="413.78" font-size="10.5" text-anchor="middle" font-family='"Liberation Sans", sans-serif' fill="#1a1a1a">246</text>
<text x="665.60" y="413.78" font-size="10.5" text-anchor="middle" font-family='"Liberation Sans", sans-serif' fill="#1a1a1a">431</text>
<text x="801.50" y="413.78" font-size="10.5" text-anchor="middle" font-family='"Liberation Sans", sans-serif' fill="#1a1a1a">1221</text>
<line x1="562.30" y1="426.50" x2="910.70" y2="426.50" stroke="#666" stroke-width="1.3"/>
<line x1="569.70" y1="426.50" x2="569.70" y2="432.00" stroke="#aaa" stroke-width="0.9"/>
<text x="565.70" y="446.50" font-size="12.5" text-anchor="middle" font-family='"Liberation Sans", sans-serif' fill="#1a1a1a">6</text>
<line x1="572.80" y1="426.50" x2="572.80" y2="432.00" stroke="#aaa" stroke-width="0.9"/>
<text x="575.40" y="446.50" font-size="12.5" text-anchor="middle" font-family='"Liberation Sans", sans-serif' fill="#1a1a1a">5</text>
<line x1="583.50" y1="426.50" x2="583.50" y2="432.00" stroke="#aaa" stroke-width="0.9"/>
<text x="584.70" y="446.50" font-size="12.5" text-anchor="middle" font-family='"Liberation Sans", sans-serif' fill="#1a1a1a">4</text>
<line x1="612.00" y1="426.50" x2="612.00" y2="432.00" stroke="#aaa" stroke-width="0.9"/>
<text x="610.80" y="446.50" font-size="12.5" text-anchor="middle" font-family='"Liberation Sans", sans-serif' fill="#1a1a1a">3</text>
<line x1="667.70" y1="426.50" x2="667.70" y2="432.00" stroke="#aaa" stroke-width="0.9"/>
<text x="668.20" y="446.50" font-size="12.5" text-anchor="middle" font-family='"Liberation Sans", sans-serif' fill="#1a1a1a">2</text>
<line x1="803.70" y1="426.50" x2="803.70" y2="432.00" stroke="#aaa" stroke-width="0.9"/>
<text x="803.70" y="446.50" font-size="12.5" text-anchor="middle" font-family='"Liberation Sans", sans-serif' fill="#1a1a1a">1</text>
<text x="567.60" y="413.78" font-size="10.5" text-anchor="middle" font-family='"Liberation Sans", sans-serif' fill="#1a1a1a">3</text>
<text x="573.60" y="404.88" font-size="10.5" text-anchor="middle" font-family='"Liberation Sans", sans-serif' fill="#1a1a1a">33</text>
<text x="25.60" y="502.54" font-size="16.5" text-anchor="middle" font-family='"Liberation Sans", sans-serif' fill="#1a1a1a">F</text>
<polygon points="83.3,503.5 95.2,531.2 107.1,541.9 119.0,549.0 130.9,524.8 142.8,541.7 154.7,522.5 166.6,542.0 178.5,524.9 190.4,542.3 202.3,522.6 202.3,588.4 190.4,579.2 178.5,593.2 166.6,579.5 154.7,590.7 142.8,577.9 130.9,588.4 119.0,581.0 107.1,594.9 95.2,552.5 83.3,528.2" fill="#fcd5c5" filter="url(#bl)"/>
<polygon points="83.3,506.7 95.2,534.4 107.1,556.1 119.0,555.0 130.9,542.8 142.8,548.6 154.7,541.5 166.6,549.0 178.5,543.4 190.4,549.4 202.3,542.1 202.3,577.6 190.4,574.7 178.5,580.1 166.6,574.7 154.7,578.2 142.8,573.4 130.9,576.9 119.0,576.9 107.1,584.5 95.2,549.0 83.3,520.0" fill="#f7a083" filter="url(#bl)"/>
<g fill="none" stroke-width="1.25" stroke-linejoin="round" stroke-opacity="0.9" filter="url(#bl)">
<polyline points="83,508.8 107,560.3 131,553.8 155,520.0 178,558.9 202,556.3" stroke="#fcded1"/>
<polyline points="83,510.1 107,571.1 131,567.5 155,582.9 178,591.0 202,567.7" stroke="#fcded1"/>
<polyline points="83,506.1 107,546.7 131,555.8 155,582.2 178,579.4 202,555.5" stroke="#fcddd0"/>
<polyline points="83,507.5 107,596.1 131,540.9 155,576.9 178,572.7 202,553.7" stroke="#fcdcce"/>
<polyline points="83,507.6 107,568.9 131,573.8 155,535.9 178,561.8 202,578.5" stroke="#fcdbcd"/>
<polyline points="83,509.0 107,565.1 131,557.4 155,575.6 178,558.9 202,572.4" stroke="#fcdacb"/>
<polyline points="83,507.9 107,574.9 131,576.7 155,574.1 178,568.7 202,560.2" stroke="#fcd8c9"/>
<polyline points="83,527.1 107,565.2 131,559.6 155,568.7 178,563.6 202,573.2" stroke="#fcd3c2"/>
<polyline points="83,508.2 107,591.3 131,575.6 155,551.8 178,588.5 202,557.5" stroke="#fcd0bd"/>
<polyline points="83,509.4 107,585.2 131,566.3 155,567.5 178,589.3 202,558.1" stroke="#fccfbd"/>
<polyline points="83,506.0 107,563.7 131,566.6 155,564.4 178,528.1 202,571.5" stroke="#fbcebb"/>
<polyline points="83,510.9 107,565.5 131,561.3 155,548.3 178,547.0 202,570.7" stroke="#fbccb9"/>
<polyline points="83,514.4 107,562.8 131,577.7 155,574.5 178,562.0 202,584.1" stroke="#fbcab6"/>
<polyline points="83,517.6 107,558.3 131,558.7 155,557.7 178,574.0 202,534.2" stroke="#fbc8b2"/>
<polyline points="83,516.2 107,593.9 131,574.0 155,570.0 178,565.7 202,587.4" stroke="#fbc7b2"/>
<polyline points="83,523.4 107,583.4 131,559.1 155,554.8 178,569.4 202,582.6" stroke="#fbc7b1"/>
<polyline points="83,510.6 107,561.6 131,547.7 155,546.7 178,549.7 202,571.1" stroke="#fbc4ae"/>
<polyline points="83,509.4 107,579.1 131,557.8 155,578.7 178,564.1 202,571.6" stroke="#fbc3ad"/>
<polyline points="83,509.6 107,582.0 131,576.0 155,573.8 178,568.7 202,575.2" stroke="#fbc3ac"/>
<polyline points="83,510.3 107,570.5 131,586.5 155,564.2 178,588.5 202,584.6" stroke="#fabfa9"/>
<polyline points="83,504.1 107,561.7 131,551.6 155,560.4 178,581.2 202,554.7" stroke="#fabda5"/>
<polyline points="83,507.5 107,563.5 131,572.8 155,535.2 178,571.5 202,569.0" stroke="#fab9a1"/>
<polyline points="83,518.5 107,582.7 131,546.0 155,567.2 178,567.7 202,574.0" stroke="#f9b59c"/>
<polyline points="83,512.2 107,561.4 131,533.0 155,553.4 178,559.7 202,545.6" stroke="#f9b39b"/>
<polyline points="83,518.1 107,569.7 131,564.5 155,574.6 178,570.2 202,570.6" stroke="#f9b39a"/>
<polyline points="83,509.8 107,576.7 131,581.8 155,539.2 178,559.5 202,544.7" stroke="#f9b198"/>
<polyline points="83,518.8 107,588.3 131,572.5 155,587.0 178,563.9 202,567.9" stroke="#f9b097"/>
<polyline points="83,522.0 107,585.0 131,564.4 155,565.1 178,573.0 202,547.0" stroke="#f9b097"/>
<polyline points="83,505.0 107,546.1 131,532.0 155,554.6 178,569.9 202,563.6" stroke="#f9b097"/>
<polyline points="83,512.2 107,558.5 131,566.2 155,543.7 178,558.0 202,556.0" stroke="#f9af96"/>
<polyline points="83,508.6 107,557.6 131,545.3 155,576.6 178,553.5 202,548.5" stroke="#f9ae94"/>
<polyline points="83,511.0 107,563.3 131,584.6 155,586.3 178,586.9 202,572.7" stroke="#f9ad93"/>
<polyline points="83,517.2 107,566.7 131,536.5 155,573.8 178,549.0 202,554.3" stroke="#f8ac92"/>
<polyline points="83,516.8 107,558.3 131,571.3 155,576.6 178,588.7 202,584.8" stroke="#f8ac92"/>
<polyline points="83,515.4 107,582.8 131,556.4 155,579.7 178,559.7 202,557.3" stroke="#f8ab91"/>
<polyline points="83,513.1 107,591.2 131,579.1 155,586.0 178,588.6 202,563.0" stroke="#f8aa90"/>
<polyline points="83,509.3 107,579.2 131,549.7 155,562.9 178,538.0 202,568.6" stroke="#f8a88e"/>
<polyline points="83,510.3 107,578.2 131,574.8 155,565.2 178,555.2 202,577.0" stroke="#f8a88d"/>
<polyline points="83,511.3 107,559.3 131,554.2 155,529.8 178,534.5 202,565.8" stroke="#f8a78d"/>
<polyline points="83,512.7 107,550.5 131,566.0 155,569.8 178,571.6 202,530.8" stroke="#f8a388"/>
<polyline points="83,510.4 107,559.4 131,551.7 155,559.6 178,569.5 202,555.4" stroke="#f8a287"/>
<polyline points="83,505.8 107,590.3 131,568.5 155,577.6 178,574.1 202,556.7" stroke="#f8a286"/>
<polyline points="83,509.3 107,557.5 131,568.8 155,563.8 178,564.3 202,541.1" stroke="#f7a185"/>
<polyline points="83,521.0 107,560.9 131,548.5 155,555.6 178,542.4 202,561.9" stroke="#f79f83"/>
<polyline points="83,510.0 107,585.2 131,559.4 155,571.7 178,540.9 202,531.7" stroke="#f79f83"/>
<polyline points="83,524.3 107,585.7 131,582.9 155,584.8 178,555.6 202,583.3" stroke="#f79e82"/>
<polyline points="83,505.9 107,575.6 131,533.7 155,570.9 178,552.2 202,556.5" stroke="#f79c80"/>
<polyline points="83,522.7 107,581.3 131,572.2 155,564.7 178,574.0 202,576.3" stroke="#f79a7e"/>
<polyline points="83,507.7 107,574.1 131,555.5 155,558.4 178,536.7 202,565.7" stroke="#f79a7e"/>
<polyline points="83,518.5 107,573.2 131,560.8 155,570.5 178,575.3 202,575.0" stroke="#f7987c"/>
<polyline points="83,505.2 107,569.9 131,553.9 155,550.2 178,573.3 202,569.7" stroke="#f6977b"/>
<polyline points="83,516.1 107,549.6 131,570.4 155,540.1 178,548.2 202,544.5" stroke="#f69579"/>
<polyline points="83,513.3 107,554.0 131,570.3 155,564.1 178,572.1 202,569.0" stroke="#f69477"/>
<polyline points="83,505.3 107,550.4 131,541.8 155,550.0 178,563.5 202,552.8" stroke="#f69377"/>
<polyline points="83,511.8 107,555.6 131,565.0 155,581.2 178,574.4 202,551.9" stroke="#f69377"/>
<polyline points="83,519.4 107,589.0 131,571.6 155,548.5 178,568.6 202,566.3" stroke="#f69175"/>
<polyline points="83,509.8 107,558.6 131,548.6 155,576.3 178,559.0 202,557.2" stroke="#f69073"/>
<polyline points="83,513.8 107,570.2 131,581.7 155,569.8 178,560.0 202,545.8" stroke="#f68e72"/>
<polyline points="83,515.6 107,566.9 131,549.4 155,559.0 178,573.8 202,561.3" stroke="#f58c70"/>
<polyline points="83,521.5 107,575.1 131,559.6 155,574.3 178,557.1 202,559.4" stroke="#f58c6f"/>
<polyline points="83,509.9 107,581.0 131,556.5 155,548.2 178,570.1 202,577.6" stroke="#f58b6e"/>
<polyline points="83,509.3 107,556.0 131,550.8 155,552.9 178,557.2 202,566.4" stroke="#f58a6e"/>
<polyline points="83,507.9 107,584.4 131,554.0 155,566.1 178,543.5 202,560.1" stroke="#f58a6e"/>
<polyline points="83,515.2 107,583.3 131,548.9 155,551.0 178,572.8 202,553.8" stroke="#f58a6e"/>
<polyline points="83,508.3 107,566.1 131,567.6 155,567.6 178,569.3 202,581.6" stroke="#f5886b"/>
<polyline points="83,508.5 107,551.8 131,567.4 155,562.8 178,581.1 202,548.7" stroke="#f5886b"/>
<polyline points="83,523.0 107,567.9 131,573.9 155,548.2 178,560.2 202,567.1" stroke="#f5876b"/>
<polyline points="83,507.4 107,563.3 131,565.2 155,573.5 178,565.8 202,568.7" stroke="#f5866a"/>
<polyline points="83,510.4 107,555.8 131,545.8 155,553.5 178,538.4 202,556.6" stroke="#f58669"/>
<polyline points="83,518.0 107,578.5 131,558.9 155,556.0 178,582.1 202,556.0" stroke="#f58568"/>
<polyline points="83,508.1 107,563.5 131,567.6 155,568.7 178,555.1 202,556.8" stroke="#f58367"/>
<polyline points="83,507.6 107,577.3 131,547.7 155,566.5 178,565.9 202,536.5" stroke="#f48366"/>
<polyline points="83,515.4 107,575.6 131,580.8 155,567.5 178,561.1 202,571.4" stroke="#f48366"/>
<polyline points="83,520.4 107,566.6 131,572.6 155,547.6 178,584.5 202,567.8" stroke="#f48366"/>
<polyline points="83,508.0 107,566.5 131,558.9 155,557.8 178,572.8 202,568.4" stroke="#f48165"/>
<polyline points="83,509.7 107,575.8 131,562.2 155,565.8 178,574.1 202,538.5" stroke="#f47b5e"/>
<polyline points="83,510.4 107,587.4 131,564.1 155,562.9 178,567.1 202,554.7" stroke="#f47b5e"/>
<polyline points="83,506.2 107,576.5 131,570.3 155,540.2 178,574.3 202,536.9" stroke="#f4795c"/>
<polyline points="83,510.3 107,577.9 131,579.8 155,579.2 178,568.2 202,575.1" stroke="#f3775a"/>
<polyline points="83,506.5 107,554.4 131,548.2 155,575.1 178,562.4 202,544.0" stroke="#f37558"/>
<polyline points="83,510.6 107,556.7 131,542.6 155,565.4 178,539.2 202,541.2" stroke="#f37457"/>
<polyline points="83,508.4 107,586.9 131,575.3 155,569.4 178,567.6 202,572.6" stroke="#f37457"/>
<polyline points="83,512.1 107,571.7 131,559.8 155,564.7 178,583.1 202,549.3" stroke="#f37457"/>
<polyline points="83,516.3 107,562.4 131,571.4 155,573.6 178,574.9 202,559.8" stroke="#f37457"/>
<polyline points="83,514.9 107,583.8 131,568.0 155,564.0 178,560.6 202,572.8" stroke="#f37356"/>
<polyline points="83,509.7 107,567.0 131,569.1 155,557.3 178,560.5 202,568.3" stroke="#f37255"/>
<polyline points="83,509.4 107,583.8 131,567.4 155,558.3 178,574.0 202,579.9" stroke="#f37255"/>
<polyline points="83,508.7 107,568.3 131,573.4 155,555.5 178,560.6 202,562.7" stroke="#f37053"/>
<polyline points="83,506.1 107,553.2 131,552.6 155,551.2 178,558.1 202,549.1" stroke="#f37053"/>
<polyline points="83,509.0 107,564.6 131,539.5 155,554.4 178,540.0 202,567.6" stroke="#f26e51"/>
<polyline points="83,507.0 107,559.3 131,577.5 155,571.9 178,541.4 202,566.9" stroke="#f26d50"/>
<polyline points="83,519.9 107,586.3 131,578.9 155,563.4 178,571.5 202,573.1" stroke="#f26c4f"/>
<polyline points="83,510.5 107,569.9 131,556.6 155,554.2 178,574.5 202,571.3" stroke="#f2694c"/>
<polyline points="83,515.6 107,562.6 131,556.0 155,539.7 178,560.1 202,548.0" stroke="#f2684b"/>
<polyline points="83,506.3 107,561.7 131,558.8 155,559.5 178,554.2 202,555.3" stroke="#f2684b"/>
<polyline points="83,516.0 107,578.1 131,558.9 155,565.2 178,567.4 202,567.7" stroke="#f1684b"/>
<polyline points="83,511.2 107,569.5 131,551.4 155,579.2 178,564.1 202,578.1" stroke="#f1664a"/>
<polyline points="83,511.1 107,574.7 131,576.3 155,575.3 178,562.9 202,566.7" stroke="#f16449"/>
<polyline points="83,510.3 107,574.0 131,548.4 155,546.8 178,575.3 202,578.7" stroke="#f16448"/>
<polyline points="83,509.1 107,563.8 131,554.4 155,568.9 178,567.1 202,564.8" stroke="#f16448"/>
<polyline points="83,509.1 107,564.8 131,543.1 155,556.2 178,551.6 202,553.6" stroke="#f06448"/>
<polyline points="83,507.9 107,565.6 131,565.4 155,561.1 178,571.2 202,567.6" stroke="#f06347"/>
<polyline points="83,511.8 107,578.5 131,550.7 155,549.4 178,553.8 202,557.2" stroke="#f06347"/>
<polyline points="83,520.8 107,581.7 131,578.0 155,553.3 178,567.5 202,571.2" stroke="#f06347"/>
<polyline points="83,512.5 107,572.0 131,565.7 155,573.1 178,541.7 202,570.5" stroke="#f06347"/>
<polyline points="83,511.4 107,560.6 131,542.1 155,546.3 178,542.0 202,571.3" stroke="#f06146"/>
<polyline points="83,508.9 107,557.9 131,565.9 155,570.0 178,542.2 202,574.3" stroke="#f06045"/>
<polyline points="83,514.3 107,564.3 131,565.2 155,576.8 178,567.2 202,576.1" stroke="#ef5f44"/>
<polyline points="83,510.2 107,572.9 131,569.9 155,540.5 178,563.8 202,563.2" stroke="#ef5e44"/>
<polyline points="83,514.5 107,564.9 131,542.3 155,541.0 178,560.3 202,546.8" stroke="#ee5b41"/>
<polyline points="83,510.2 107,572.9 131,560.4 155,550.3 178,575.6 202,557.9" stroke="#ee5b41"/>
<polyline points="83,506.8 107,556.8 131,547.0 155,541.2 178,543.1 202,541.8" stroke="#ee5a41"/>
<polyline points="83,508.7 107,569.5 131,569.3 155,556.0 178,561.5 202,553.9" stroke="#ee5a41"/>
<polyline points="83,509.8 107,567.3 131,559.8 155,552.1 178,567.0 202,550.4" stroke="#ee5a40"/>
<polyline points="83,520.0 107,578.4 131,549.7 155,573.2 178,568.7 202,569.3" stroke="#ee593f"/>
<polyline points="83,509.4 107,569.7 131,565.2 155,558.6 178,555.5 202,563.8" stroke="#ee583f"/>
<polyline points="83,514.2 107,569.4 131,564.1 155,562.2 178,566.6 202,568.7" stroke="#ed563e"/>
<polyline points="83,509.4 107,568.3 131,567.5 155,552.0 178,564.7 202,575.5" stroke="#ed563e"/>
<polyline points="83,507.9 107,573.8 131,557.7 155,550.1 178,568.8 202,564.4" stroke="#ed563d"/>
<polyline points="83,506.8 107,569.9 131,551.2 155,570.0 178,576.9 202,565.1" stroke="#ed553c"/>
<polyline points="83,512.1 107,564.9 131,560.5 155,574.1 178,575.5 202,564.1" stroke="#ed543c"/>
<polyline points="83,510.3 107,560.4 131,550.9 155,556.2 178,568.2 202,569.0" stroke="#ed543c"/>
<polyline points="83,510.0 107,558.3 131,546.0 155,553.8 178,562.7 202,553.0" stroke="#ed533b"/>
<polyline points="83,509.7 107,575.7 131,573.5 155,559.0 178,551.7 202,569.7" stroke="#ec533b"/>
<polyline points="83,512.7 107,584.0 131,576.0 155,575.9 178,574.0 202,567.4" stroke="#ec533b"/>
<polyline points="83,519.0 107,575.5 131,566.8 155,577.5 178,567.5 202,561.9" stroke="#ec523a"/>
<polyline points="83,509.8 107,578.1 131,564.9 155,577.5 178,567.2 202,559.8" stroke="#ec523a"/>
<polyline points="83,510.4 107,579.3 131,555.4 155,573.1 178,568.7 202,557.5" stroke="#ec5038"/>
<polyline points="83,513.8 107,580.1 131,558.8 155,570.6 178,578.9 202,563.3" stroke="#eb4f38"/>
<polyline points="83,510.0 107,575.0 131,544.5 155,574.1 178,559.4 202,564.6" stroke="#eb4e37"/>
<polyline points="83,510.6 107,562.9 131,568.5 155,561.3 178,566.8 202,565.8" stroke="#eb4d36"/>
<polyline points="83,512.1 107,569.0 131,568.0 155,566.6 178,564.4 202,556.3" stroke="#ea4a34"/>
<polyline points="83,507.2 107,564.3 131,557.1 155,552.7 178,557.6 202,559.4" stroke="#ea4832"/>
<polyline points="83,518.2 107,576.5 131,559.5 155,576.3 178,572.2 202,570.4" stroke="#ea4832"/>
<polyline points="83,514.8 107,582.7 131,557.0 155,572.4 178,574.6 202,559.6" stroke="#e94530"/>
<polyline points="83,510.4 107,567.8 131,569.7 155,564.1 178,573.0 202,557.3" stroke="#e94530"/>
<polyline points="83,508.7 107,568.8 131,564.6 155,557.8 178,570.7 202,552.4" stroke="#e9442f"/>
<polyline points="83,518.4 107,568.6 131,570.5 155,568.6 178,572.4 202,566.7" stroke="#e9422e"/>
<polyline points="83,518.4 107,576.1 131,571.9 155,571.9 178,569.3 202,568.3" stroke="#e9422e"/>
<polyline points="83,510.2 107,560.9 131,560.3 155,546.2 178,557.3 202,572.0" stroke="#e9422e"/>
<polyline points="83,510.2 107,572.0 131,559.5 155,573.8 178,553.1 202,570.0" stroke="#e8412d"/>
<polyline points="83,510.3 107,573.3 131,560.4 155,570.7 178,564.5 202,554.5" stroke="#e8412d"/>
<polyline points="83,516.1 107,581.5 131,565.2 155,561.9 178,573.1 202,575.2" stroke="#e8412c"/>
<polyline points="83,508.7 107,574.4 131,568.9 155,556.4 178,565.0 202,558.2" stroke="#e8402c"/>
<polyline points="83,509.1 107,576.2 131,566.2 155,551.7 178,568.8 202,566.6" stroke="#e8402c"/>
<polyline points="83,509.5 107,561.6 131,564.4 155,565.6 178,558.1 202,555.9" stroke="#e63e2b"/>
<polyline points="83,510.0 107,572.4 131,565.3 155,569.9 178,567.0 202,553.0" stroke="#e63d2b"/>
<polyline points="83,518.0 107,572.4 131,571.9 155,566.6 178,567.0 202,572.7" stroke="#e53d2b"/>
<polyline points="83,509.1 107,567.1 131,547.5 155,562.0 178,567.9 202,557.7" stroke="#e53c2a"/>
<polyline points="83,513.5 107,572.5 131,556.8 155,554.4 178,562.0 202,555.4" stroke="#e43c2a"/>
<polyline points="83,508.7 107,571.2 131,558.0 155,571.3 178,564.5 202,572.3" stroke="#e43c2a"/>
<polyline points="83,512.0 107,563.8 131,569.1 155,560.3 178,569.4 202,547.7" stroke="#e23a29"/>
<polyline points="83,511.6 107,579.4 131,562.0 155,565.9 178,563.6 202,565.6" stroke="#e23a29"/>
<polyline points="83,516.7 107,575.4 131,565.1 155,564.8 178,572.9 202,562.1" stroke="#e23a29"/>
<polyline points="83,517.0 107,564.5 131,568.2 155,555.8 178,554.7 202,559.9" stroke="#e13929"/>
<polyline points="83,514.1 107,570.7 131,564.7 155,569.7 178,566.1 202,563.2" stroke="#e03828"/>
<polyline points="83,515.3 107,573.7 131,570.7 155,574.3 178,573.1 202,569.9" stroke="#e03828"/>
<polyline points="83,509.2 107,560.7 131,565.3 155,569.4 178,557.7 202,561.6" stroke="#e03828"/>
<polyline points="83,509.7 107,573.7 131,560.4 155,547.6 178,566.3 202,551.4" stroke="#df3728"/>
<polyline points="83,513.2 107,576.0 131,567.5 155,562.4 178,553.5 202,548.6" stroke="#de3627"/>
<polyline points="83,512.7 107,569.4 131,565.7 155,570.8 178,564.9 202,561.8" stroke="#de3527"/>
<polyline points="83,510.1 107,576.7 131,568.9 155,565.6 178,567.7 202,566.6" stroke="#dd3427"/>
<polyline points="83,509.9 107,574.3 131,565.2 155,564.9 178,566.8 202,559.6" stroke="#dd3427"/>
<polyline points="83,510.0 107,572.4 131,571.4 155,572.4 178,569.4 202,565.0" stroke="#dc3426"/>
<polyline points="83,510.3 107,580.9 131,572.9 155,564.6 178,575.5 202,566.6" stroke="#dc3426"/>
<polyline points="83,508.5 107,573.1 131,554.8 155,568.8 178,550.1 202,569.5" stroke="#db3226"/>
<polyline points="83,508.6 107,574.2 131,553.5 155,563.8 178,564.0 202,567.2" stroke="#da3226"/>
<polyline points="83,514.1 107,573.0 131,567.6 155,573.6 178,550.9 202,564.2" stroke="#da3226"/>
<polyline points="83,510.5 107,563.8 131,549.5 155,558.0 178,556.2 202,554.0" stroke="#da3225"/>
<polyline points="83,508.8 107,573.9 131,558.9 155,563.3 178,569.5 202,562.9" stroke="#d82f24"/>
<polyline points="83,510.3 107,572.8 131,560.5 155,557.2 178,568.2 202,551.2" stroke="#d82f24"/>
<polyline points="83,511.4 107,566.9 131,565.7 155,560.0 178,561.4 202,563.5" stroke="#d72f24"/>
<polyline points="83,512.8 107,580.2 131,566.5 155,573.2 178,566.8 202,550.0" stroke="#d72f24"/>
<polyline points="83,509.7 107,567.0 131,550.1 155,561.9 178,567.5 202,562.8" stroke="#d62e24"/>
<polyline points="83,513.0 107,573.2 131,571.8 155,566.8 178,563.4 202,568.5" stroke="#d52d23"/>
<polyline points="83,510.3 107,574.4 131,567.4 155,569.1 178,565.8 202,568.7" stroke="#d42b23"/>
<polyline points="83,516.0 107,574.7 131,563.9 155,568.4 178,571.2 202,564.8" stroke="#d42b22"/>
<polyline points="83,513.3 107,566.3 131,559.4 155,566.3 178,563.3 202,572.7" stroke="#d42b22"/>
<polyline points="83,516.4 107,571.9 131,568.2 155,570.2 178,567.4 202,565.6" stroke="#d32b22"/>
<polyline points="83,509.0 107,572.9 131,565.5 155,561.0 178,574.0 202,565.0" stroke="#d12921"/>
<polyline points="83,509.6 107,562.9 131,571.4 155,554.7 178,563.7 202,563.4" stroke="#d02721"/>
<polyline points="83,513.8 107,577.5 131,570.5 155,560.7 178,561.4 202,569.7" stroke="#d02721"/>
<polyline points="83,509.6 107,566.1 131,565.6 155,568.3 178,561.6 202,551.7" stroke="#cf2620"/>
<polyline points="83,514.9 107,579.4 131,570.6 155,572.0 178,569.7 202,560.9" stroke="#ce2520"/>
<polyline points="83,510.2 107,573.1 131,559.0 155,565.1 178,559.1 202,563.8" stroke="#cd241f"/>
<polyline points="83,510.1 107,565.8 131,565.2 155,561.3 178,568.4 202,558.8" stroke="#cd241f"/>
<polyline points="83,509.6 107,577.6 131,571.1 155,565.4 178,571.0 202,570.7" stroke="#cd241f"/>
<polyline points="83,515.6 107,567.0 131,571.1 155,569.2 178,569.5 202,567.8" stroke="#cd241f"/>
<polyline points="83,509.3 107,564.7 131,563.5 155,569.1 178,563.3 202,553.5" stroke="#cd241f"/>
<polyline points="83,510.8 107,570.1 131,552.1 155,551.4 178,565.3 202,564.9" stroke="#cc231f"/>
<polyline points="83,510.0 107,568.3 131,556.1 155,561.8 178,563.4 202,569.0" stroke="#cc231f"/>
<polyline points="83,510.6 107,573.2 131,566.6 155,569.6 178,564.7 202,558.9" stroke="#cc231f"/>
<polyline points="83,510.5 107,564.7 131,564.5 155,554.7 178,564.3 202,559.1" stroke="#cc231f"/>
<polyline points="83,508.5 107,569.1 131,564.2 155,561.0 178,565.9 202,560.0" stroke="#cb221e"/>
<polyline points="83,510.3 107,574.6 131,567.6 155,564.0 178,562.8 202,564.2" stroke="#cb221e"/>
<polyline points="83,510.2 107,572.9 131,567.9 155,566.4 178,560.2 202,567.2" stroke="#cb221e"/>
<polyline points="83,515.3 107,576.9 131,564.0 155,568.6 178,558.3 202,571.6" stroke="#c9201e"/>
<polyline points="83,510.1 107,575.0 131,566.7 155,571.2 178,570.0 202,559.5" stroke="#c81f1d"/>
<polyline points="83,514.1 107,575.1 131,562.4 155,562.0 178,570.2 202,570.6" stroke="#c81f1d"/>
<polyline points="83,510.4 107,565.1 131,553.0 155,563.0 178,559.0 202,554.4" stroke="#c61e1d"/>
<polyline points="83,509.1 107,565.9 131,553.3 155,570.2 178,559.4 202,564.5" stroke="#c41d1c"/>
<polyline points="83,511.9 107,575.8 131,566.7 155,566.2 178,559.0 202,563.3" stroke="#c31d1c"/>
<polyline points="83,515.2 107,573.2 131,561.8 155,560.1 178,565.7 202,567.1" stroke="#c21d1c"/>
<polyline points="83,512.3 107,566.3 131,565.3 155,561.1 178,565.3 202,562.1" stroke="#c11c1b"/>
<polyline points="83,511.5 107,575.3 131,567.4 155,567.6 178,567.7 202,566.7" stroke="#c01c1b"/>
<polyline points="83,511.1 107,569.5 131,566.0 155,557.0 178,555.9 202,555.9" stroke="#bf1c1b"/>
<polyline points="83,509.2 107,567.3 131,569.9 155,565.3 178,562.8 202,570.9" stroke="#be1b1b"/>
<polyline points="83,512.3 107,575.2 131,565.2 155,562.3 178,570.6 202,565.7" stroke="#bd1b1b"/>
<polyline points="83,509.5 107,570.8 131,564.3 155,561.7 178,563.3 202,561.3" stroke="#bd1b1b"/>
<polyline points="83,511.8 107,574.7 131,564.7 155,559.4 178,567.8 202,557.5" stroke="#bc1b1a"/>
<polyline points="83,510.9 107,576.7 131,568.6 155,560.2 178,565.6 202,565.6" stroke="#bc1b1a"/>
<polyline points="83,510.9 107,570.0 131,568.4 155,565.6 178,562.5 202,568.3" stroke="#bb1a1a"/>
<polyline points="83,510.4 107,572.8 131,564.1 155,563.1 178,557.0 202,566.6" stroke="#bb1a1a"/>
<polyline points="83,510.5 107,565.0 131,566.6 155,564.1 178,565.0 202,564.9" stroke="#bb1a1a"/>
<polyline points="83,510.5 107,575.3 131,559.2 155,564.0 178,571.7 202,567.4" stroke="#b91a1a"/>
<polyline points="83,509.8 107,568.2 131,558.9 155,558.9 178,562.3 202,560.1" stroke="#b9191a"/>
<polyline points="83,512.5 107,577.8 131,567.5 155,561.3 178,568.9 202,566.1" stroke="#b81919"/>
<polyline points="83,510.1 107,574.9 131,559.9 155,560.3 178,562.8 202,565.9" stroke="#b81919"/>
<polyline points="83,511.5 107,570.4 131,564.3 155,565.6 178,570.3 202,569.0" stroke="#b71919"/>
<polyline points="83,511.6 107,574.4 131,564.2 155,564.7 178,566.0 202,567.9" stroke="#b51819"/>
<polyline points="83,509.0 107,571.7 131,565.9 155,566.1 178,570.5 202,562.3" stroke="#b41819"/>
<polyline points="83,509.7 107,572.9 131,564.4 155,556.7 178,567.5 202,565.6" stroke="#b41818"/>
<polyline points="83,511.9 107,572.7 131,564.6 155,568.3 178,559.3 202,566.0" stroke="#b31718"/>
<polyline points="83,510.8 107,574.5 131,558.6 155,562.8 178,565.9 202,567.6" stroke="#b31718"/>
<polyline points="83,510.9 107,574.8 131,562.9 155,559.3 178,565.8 202,569.2" stroke="#b21718"/>
<polyline points="83,513.1 107,569.0 131,560.7 155,564.4 178,566.7 202,570.1" stroke="#b11718"/>
<polyline points="83,510.3 107,576.1 131,565.1 155,566.2 178,557.3 202,557.3" stroke="#b11718"/>
<polyline points="83,509.0 107,565.7 131,558.7 155,564.0 178,556.1 202,560.1" stroke="#b01618"/>
<polyline points="83,510.4 107,572.8 131,562.5 155,559.9 178,557.4 202,565.3" stroke="#ad1517"/>
<polyline points="83,513.4 107,571.6 131,566.6 155,566.7 178,565.0 202,562.1" stroke="#ad1517"/>
<polyline points="83,509.6 107,577.2 131,561.6 155,558.5 178,562.1 202,562.9" stroke="#ac1517"/>
<polyline points="83,509.0 107,570.2 131,565.0 155,560.8 178,565.4 202,561.5" stroke="#ab1517"/>
<polyline points="83,509.9 107,566.1 131,557.3 155,560.1 178,561.8 202,566.4" stroke="#ab1416"/>
<polyline points="83,510.5 107,571.9 131,565.0 155,565.3 178,560.6 202,564.3" stroke="#a91416"/>
<polyline points="83,514.1 107,576.0 131,562.0 155,566.5 178,567.7 202,568.5" stroke="#a81416"/>
<polyline points="83,510.1 107,571.6 131,562.2 155,563.7 178,564.3 202,562.0" stroke="#a51215"/>
<polyline points="83,510.6 107,572.0 131,563.3 155,557.9 178,561.5 202,561.7" stroke="#a41215"/>
<polyline points="83,512.7 107,575.1 131,561.0 155,563.9 178,564.8 202,568.8" stroke="#a41215"/>
<polyline points="83,509.2 107,575.2 131,560.5 155,568.8 178,559.1 202,567.0" stroke="#a31215"/>
<polyline points="83,510.0 107,567.2 131,557.2 155,565.6 178,566.5 202,565.3" stroke="#a31215"/>
<polyline points="83,510.3 107,572.2 131,563.7 155,563.9 178,562.5 202,568.5" stroke="#a31215"/>
<polyline points="83,510.5 107,572.5 131,558.0 155,563.0 178,559.1 202,562.6" stroke="#a11114"/>
<polyline points="83,512.5 107,568.2 131,568.0 155,562.9 178,561.7 202,564.2" stroke="#9b0f13"/>
<polyline points="83,509.3 107,567.2 131,562.9 155,562.9 178,562.1 202,568.6" stroke="#9a0e13"/>
<polyline points="83,513.5 107,573.9 131,560.8 155,558.9 178,561.3 202,563.6" stroke="#990e12"/>
<polyline points="83,510.9 107,570.4 131,565.9 155,561.0 178,559.4 202,565.0" stroke="#990e12"/>
<polyline points="83,512.2 107,567.4 131,563.5 155,564.9 178,564.0 202,564.6" stroke="#970d12"/>
<polyline points="83,511.1 107,574.1 131,563.9 155,566.8 178,567.4 202,566.2" stroke="#970d12"/>
<polyline points="83,511.9 107,572.7 131,565.2 155,564.8 178,566.7 202,567.4" stroke="#970d12"/>
<polyline points="83,510.6 107,572.7 131,557.3 155,559.3 178,565.7 202,565.0" stroke="#950d12"/>
<polyline points="83,510.3 107,567.8 131,562.6 155,557.2 178,560.2 202,562.9" stroke="#950c12"/>
<polyline points="83,510.2 107,574.7 131,564.5 155,565.6 178,565.4 202,559.9" stroke="#950c12"/>
<polyline points="83,510.2 107,570.1 131,560.4 155,561.5 178,562.9 202,564.3" stroke="#940c11"/>
<polyline points="83,511.8 107,571.3 131,567.4 155,566.8 178,567.1 202,566.2" stroke="#940c11"/>
<polyline points="83,510.3 107,570.3 131,559.6 155,564.5 178,567.6 202,566.3" stroke="#940c11"/>
<polyline points="83,510.2 107,571.9 131,562.6 155,562.3 178,565.0 202,563.3" stroke="#920c11"/>
<polyline points="83,510.8 107,576.0 131,567.5 155,566.5 178,565.2 202,566.9" stroke="#920b11"/>
<polyline points="83,509.7 107,573.3 131,560.9 155,566.7 178,563.8 202,558.3" stroke="#920b11"/>
<polyline points="83,509.8 107,571.6 131,564.4 155,562.8 178,567.4 202,561.4" stroke="#920b11"/>
<polyline points="83,511.0 107,570.0 131,563.7 155,564.1 178,564.7 202,566.6" stroke="#910b11"/>
</g>
<polyline points="83.3,514.3 107.1,565.4 130.9,562.4 154.7,561.9 178.5,562.4 202.3,562.4" fill="none" stroke="#111" stroke-width="1.6" stroke-linejoin="round"/>
<line x1="78.80" y1="504.20" x2="78.80" y2="580.10" stroke="#555" stroke-width="1"/>
<line x1="74.30" y1="504.20" x2="78.80" y2="504.20" stroke="#555" stroke-width="1"/>
<text class="ns" x="65.30" y="504.20" font-size="12.5" text-anchor="middle" font-family='"Liberation Sans", sans-serif' fill="#333" transform="rotate(-90 65.30 504.20)" dy="4.4">2</text>
<line x1="74.30" y1="529.50" x2="78.80" y2="529.50" stroke="#555" stroke-width="1"/>
<text class="ns" x="65.30" y="529.50" font-size="12.5" text-anchor="middle" font-family='"Liberation Sans", sans-serif' fill="#333" transform="rotate(-90 65.30 529.50)" dy="4.4">1</text>
<line x1="74.30" y1="554.80" x2="78.80" y2="554.80" stroke="#555" stroke-width="1"/>
<text class="ns" x="65.30" y="554.80" font-size="12.5" text-anchor="middle" font-family='"Liberation Sans", sans-serif' fill="#333" transform="rotate(-90 65.30 554.80)" dy="4.4">0</text>
<line x1="74.30" y1="580.10" x2="78.80" y2="580.10" stroke="#555" stroke-width="1"/>
<text class="ns" x="65.30" y="580.10" font-size="12.5" text-anchor="middle" font-family='"Liberation Sans", sans-serif' fill="#333" transform="rotate(-90 65.30 580.10)" dy="4.4">−1</text>
<line x1="83.30" y1="605.60" x2="202.30" y2="605.60" stroke="#555" stroke-width="1"/>
<line x1="83.30" y1="605.60" x2="83.30" y2="610.10" stroke="#555" stroke-width="1"/>
<line x1="107.10" y1="605.60" x2="107.10" y2="610.10" stroke="#555" stroke-width="1"/>
<line x1="130.90" y1="605.60" x2="130.90" y2="610.10" stroke="#555" stroke-width="1"/>
<line x1="154.70" y1="605.60" x2="154.70" y2="610.10" stroke="#555" stroke-width="1"/>
<line x1="178.50" y1="605.60" x2="178.50" y2="610.10" stroke="#555" stroke-width="1"/>
<line x1="202.30" y1="605.60" x2="202.30" y2="610.10" stroke="#555" stroke-width="1"/>
<text x="146.00" y="502.72" font-size="13.1" text-anchor="middle" font-family='"Liberation Sans", sans-serif' fill="#1a1a1a">Cluster1</text>
<text x="45.60" y="551.00" font-size="13.2" text-anchor="middle" font-family='"Liberation Sans", sans-serif' fill="#1a1a1a" transform="rotate(-90 45.60 551.00)" dy="4.75">Expression change</text>
<polygon points="252.9,526.5 264.8,542.6 276.7,524.1 288.6,524.3 300.5,503.6 312.4,524.9 324.3,524.3 336.2,542.3 348.1,524.2 360.0,542.9 371.9,526.5 371.9,587.5 360.0,579.6 348.1,596.5 336.2,579.6 324.3,587.5 312.4,552.5 300.5,540.9 288.6,552.5 276.7,589.6 264.8,579.9 252.9,596.6" fill="#fcd5c5" filter="url(#bl)"/>
<polygon points="252.9,544.3 264.8,549.3 276.7,541.9 288.6,528.3 300.5,507.2 312.4,529.1 324.3,543.1 336.2,549.2 348.1,542.5 360.0,549.7 371.9,544.3 371.9,577.1 360.0,574.8 348.1,581.4 336.2,574.8 324.3,577.1 312.4,548.0 300.5,527.3 288.6,547.6 276.7,577.1 264.8,574.8 252.9,582.0" fill="#f7a083" filter="url(#bl)"/>
<g fill="none" stroke-width="1.25" stroke-linejoin="round" stroke-opacity="0.9" filter="url(#bl)">
<polyline points="253,597.5 277,559.8 300,526.3 324,582.3 348,590.4 372,562.9" stroke="#fddfd2"/>
<polyline points="253,539.2 277,558.1 300,503.2 324,539.5 348,522.4 372,552.3" stroke="#fcdacb"/>
<polyline points="253,569.1 277,564.1 300,507.2 324,561.4 348,526.2 372,569.2" stroke="#fcd7c8"/>
<polyline points="253,548.0 277,556.1 300,530.1 324,550.0 348,560.4 372,555.2" stroke="#fcd3c2"/>
<polyline points="253,574.8 277,549.1 300,504.6 324,577.3 348,563.5 372,577.8" stroke="#fcd0be"/>
<polyline points="253,548.5 277,554.7 300,529.9 324,587.1 348,580.4 372,551.9" stroke="#fccfbd"/>
<polyline points="253,569.1 277,579.3 300,529.8 324,558.0 348,595.9 372,582.0" stroke="#fccfbc"/>
<polyline points="253,555.4 277,576.7 300,516.4 324,582.0 348,589.0 372,561.0" stroke="#fccfbc"/>
<polyline points="253,595.7 277,567.7 300,540.1 324,583.5 348,544.6 372,568.9" stroke="#fbcbb6"/>
<polyline points="253,591.2 277,547.3 300,526.1 324,549.8 348,558.3 372,542.0" stroke="#fbcab5"/>
<polyline points="253,562.8 277,551.1 300,512.2 324,570.0 348,573.1 372,548.7" stroke="#fbc9b4"/>
<polyline points="253,549.0 277,571.1 300,508.9 324,568.3 348,527.2 372,550.4" stroke="#fbc1aa"/>
<polyline points="253,594.1 277,579.0 300,537.6 324,570.8 348,576.1 372,581.1" stroke="#fac0a9"/>
<polyline points="253,568.6 277,553.9 300,517.5 324,553.2 348,527.3 372,576.0" stroke="#fac0a9"/>
<polyline points="253,530.1 277,583.9 300,514.4 324,568.3 348,565.5 372,551.2" stroke="#fabda6"/>
<polyline points="253,551.9 277,574.5 300,515.4 324,576.6 348,573.3 372,565.5" stroke="#fabca4"/>
<polyline points="253,562.3 277,580.2 300,510.8 324,547.2 348,556.5 372,585.1" stroke="#fabaa2"/>
<polyline points="253,539.7 277,535.5 300,507.8 324,528.5 348,545.3 372,531.2" stroke="#fabaa2"/>
<polyline points="253,551.1 277,555.7 300,506.8 324,571.9 348,557.7 372,567.8" stroke="#fab8a0"/>
<polyline points="253,577.0 277,557.9 300,509.3 324,574.4 348,565.3 372,577.1" stroke="#fab8a0"/>
<polyline points="253,572.6 277,535.5 300,506.4 324,572.1 348,556.2 372,535.6" stroke="#f9b39b"/>
<polyline points="253,558.0 277,577.2 300,516.3 324,561.2 348,592.0 372,577.4" stroke="#f9b29a"/>
<polyline points="253,545.4 277,562.0 300,511.0 324,535.4 348,582.9 372,554.8" stroke="#f9b299"/>
<polyline points="253,537.3 277,552.6 300,510.8 324,559.6 348,570.1 372,555.3" stroke="#f9ae95"/>
<polyline points="253,579.5 277,567.5 300,508.6 324,575.1 348,567.4 372,565.2" stroke="#f9ad93"/>
<polyline points="253,560.8 277,556.6 300,525.3 324,560.1 348,530.6 372,560.4" stroke="#f9ad93"/>
<polyline points="253,568.6 277,561.4 300,508.9 324,530.9 348,553.7 372,574.6" stroke="#f9ad93"/>
<polyline points="253,581.2 277,558.8 300,511.2 324,567.3 348,556.1 372,563.3" stroke="#f9ac92"/>
<polyline points="253,581.7 277,585.1 300,511.5 324,565.2 348,591.0 372,579.6" stroke="#f8ab92"/>
<polyline points="253,583.4 277,574.6 300,525.7 324,572.1 348,572.1 372,562.0" stroke="#f8ab91"/>
<polyline points="253,586.1 277,577.7 300,510.6 324,540.7 348,570.6 372,583.7" stroke="#f8ab91"/>
<polyline points="253,550.3 277,531.1 300,516.9 324,570.6 348,569.7 372,572.3" stroke="#f8a98e"/>
<polyline points="253,590.8 277,565.4 300,522.6 324,556.7 348,581.2 372,566.9" stroke="#f8a88e"/>
<polyline points="253,565.0 277,555.5 300,510.1 324,560.1 348,578.0 372,533.5" stroke="#f8a88e"/>
<polyline points="253,546.0 277,549.3 300,535.3 324,565.9 348,531.7 372,576.4" stroke="#f8a78c"/>
<polyline points="253,576.8 277,562.0 300,507.2 324,564.4 348,559.9 372,583.1" stroke="#f8a58a"/>
<polyline points="253,557.0 277,564.6 300,507.9 324,545.8 348,560.8 372,570.1" stroke="#f8a489"/>
<polyline points="253,573.7 277,536.0 300,506.6 324,553.7 348,539.2 372,535.6" stroke="#f8a489"/>
<polyline points="253,548.6 277,584.1 300,518.9 324,575.6 348,578.0 372,582.9" stroke="#f8a489"/>
<polyline points="253,556.2 277,539.0 300,505.9 324,572.0 348,579.8 372,574.7" stroke="#f8a287"/>
<polyline points="253,578.6 277,532.4 300,509.5 324,565.1 348,563.1 372,573.3" stroke="#f8a186"/>
<polyline points="253,549.5 277,570.8 300,508.1 324,564.5 348,578.2 372,559.7" stroke="#f7a186"/>
<polyline points="253,561.4 277,574.8 300,507.9 324,560.5 348,583.5 372,547.2" stroke="#f7a186"/>
<polyline points="253,565.9 277,578.6 300,534.4 324,579.3 348,540.7 372,573.8" stroke="#f7a185"/>
<polyline points="253,551.5 277,571.6 300,528.7 324,567.5 348,569.3 372,566.9" stroke="#f7a084"/>
<polyline points="253,569.7 277,571.6 300,512.3 324,582.4 348,587.3 372,568.5" stroke="#f79f84"/>
<polyline points="253,581.7 277,570.9 300,525.9 324,576.1 348,569.3 372,575.3" stroke="#f79f83"/>
<polyline points="253,549.4 277,571.6 300,511.2 324,565.5 348,566.2 372,556.0" stroke="#f79c80"/>
<polyline points="253,564.5 277,574.6 300,520.4 324,566.1 348,563.1 372,574.7" stroke="#f79b7f"/>
<polyline points="253,577.4 277,562.7 300,505.5 324,570.0 348,564.8 372,573.7" stroke="#f79b7f"/>
<polyline points="253,568.9 277,557.7 300,511.1 324,565.1 348,551.1 372,562.2" stroke="#f79b7f"/>
<polyline points="253,575.0 277,546.4 300,507.0 324,577.8 348,564.7 372,573.4" stroke="#f7997d"/>
<polyline points="253,554.4 277,549.1 300,508.7 324,564.6 348,539.1 372,569.3" stroke="#f7977b"/>
<polyline points="253,566.1 277,577.7 300,523.4 324,563.0 348,585.9 372,568.3" stroke="#f69377"/>
<polyline points="253,563.2 277,571.9 300,509.5 324,567.1 348,542.9 372,548.7" stroke="#f69377"/>
<polyline points="253,566.8 277,570.2 300,509.3 324,571.0 348,546.8 372,569.3" stroke="#f69074"/>
<polyline points="253,545.6 277,566.9 300,509.0 324,563.8 348,567.4 372,547.8" stroke="#f68f72"/>
<polyline points="253,572.3 277,573.9 300,528.9 324,579.4 348,573.4 372,576.1" stroke="#f58c70"/>
<polyline points="253,582.8 277,565.0 300,513.9 324,573.8 348,580.4 372,571.6" stroke="#f58b6f"/>
<polyline points="253,553.7 277,556.5 300,506.0 324,566.6 348,566.5 372,557.9" stroke="#f5896c"/>
<polyline points="253,555.5 277,579.8 300,513.7 324,568.0 348,550.7 372,580.1" stroke="#f5886c"/>
<polyline points="253,538.4 277,571.9 300,509.9 324,570.1 348,566.8 372,566.9" stroke="#f5876b"/>
<polyline points="253,586.7 277,578.1 300,510.9 324,568.2 348,547.2 372,579.0" stroke="#f5866a"/>
<polyline points="253,557.5 277,536.1 300,508.2 324,550.8 348,554.0 372,567.5" stroke="#f5866a"/>
<polyline points="253,551.4 277,564.2 300,515.7 324,574.0 348,574.3 372,568.2" stroke="#f5866a"/>
<polyline points="253,583.5 277,542.1 300,507.8 324,555.7 348,559.0 372,550.5" stroke="#f48366"/>
<polyline points="253,556.8 277,566.4 300,508.4 324,566.0 348,558.9 372,562.6" stroke="#f48165"/>
<polyline points="253,558.2 277,555.5 300,507.2 324,560.0 348,559.2 372,562.7" stroke="#f47e62"/>
<polyline points="253,539.6 277,568.3 300,510.7 324,546.9 348,553.3 372,573.1" stroke="#f47e62"/>
<polyline points="253,573.5 277,560.7 300,519.1 324,563.7 348,544.6 372,567.6" stroke="#f47d61"/>
<polyline points="253,565.6 277,564.6 300,509.9 324,558.7 348,561.7 372,560.0" stroke="#f47d60"/>
<polyline points="253,577.9 277,555.3 300,517.4 324,576.1 348,543.1 372,569.9" stroke="#f47b5f"/>
<polyline points="253,563.5 277,551.0 300,508.5 324,567.2 348,574.0 372,550.2" stroke="#f37558"/>
<polyline points="253,572.1 277,579.5 300,519.3 324,564.5 348,549.4 372,572.7" stroke="#f37558"/>
<polyline points="253,551.6 277,558.5 300,511.5 324,565.3 348,570.7 372,565.4" stroke="#f37458"/>
<polyline points="253,560.1 277,571.4 300,517.9 324,565.8 348,564.2 372,563.0" stroke="#f37357"/>
<polyline points="253,572.3 277,568.4 300,509.5 324,539.8 348,560.0 372,555.0" stroke="#f37255"/>
<polyline points="253,570.9 277,564.3 300,510.6 324,552.1 348,559.6 372,565.2" stroke="#f37154"/>
<polyline points="253,567.2 277,571.8 300,511.3 324,577.0 348,583.0 372,557.3" stroke="#f26f52"/>
<polyline points="253,568.6 277,570.8 300,510.7 324,578.6 348,568.8 372,565.5" stroke="#f26e51"/>
<polyline points="253,552.1 277,541.7 300,512.6 324,572.8 348,556.1 372,552.5" stroke="#f2694d"/>
<polyline points="253,579.2 277,573.7 300,516.7 324,572.7 348,564.0 372,572.6" stroke="#f1664a"/>
<polyline points="253,578.8 277,562.3 300,509.7 324,571.1 348,562.3 372,553.2" stroke="#f1664a"/>
<polyline points="253,568.9 277,572.0 300,515.7 324,568.3 348,568.7 372,564.7" stroke="#f1664a"/>
<polyline points="253,543.1 277,563.4 300,508.2 324,552.5 348,561.8 372,553.2" stroke="#f16549"/>
<polyline points="253,556.2 277,540.9 300,507.0 324,567.2 348,546.2 372,559.9" stroke="#f16448"/>
<polyline points="253,564.0 277,562.0 300,515.7 324,577.6 348,550.9 372,569.1" stroke="#f06448"/>
<polyline points="253,579.8 277,577.7 300,515.8 324,573.1 348,567.1 372,565.2" stroke="#f06348"/>
<polyline points="253,577.9 277,564.8 300,526.7 324,567.4 348,554.2 372,558.5" stroke="#f06347"/>
<polyline points="253,568.5 277,550.0 300,510.0 324,571.9 348,557.3 372,555.5" stroke="#f06046"/>
<polyline points="253,559.2 277,559.5 300,511.6 324,562.8 348,550.2 372,548.6" stroke="#f06045"/>
<polyline points="253,572.9 277,546.2 300,509.4 324,569.1 348,566.4 372,558.2" stroke="#ef5e44"/>
<polyline points="253,556.0 277,560.0 300,520.5 324,559.6 348,564.9 372,544.3" stroke="#ef5e44"/>
<polyline points="253,570.5 277,576.8 300,510.5 324,558.3 348,562.0 372,566.3" stroke="#ef5d43"/>
<polyline points="253,558.4 277,566.3 300,521.7 324,566.1 348,565.4 372,561.4" stroke="#ef5d43"/>
<polyline points="253,581.6 277,569.3 300,514.0 324,569.0 348,564.5 372,571.8" stroke="#ef5c42"/>
<polyline points="253,571.5 277,559.6 300,517.7 324,556.8 348,552.5 372,569.4" stroke="#ef5c42"/>
<polyline points="253,579.1 277,566.5 300,523.6 324,569.1 348,567.2 372,562.6" stroke="#ee5a41"/>
<polyline points="253,559.1 277,563.6 300,516.5 324,566.7 348,566.7 372,563.3" stroke="#ee5a41"/>
<polyline points="253,566.9 277,572.9 300,517.9 324,574.2 348,558.8 372,568.8" stroke="#ee5a41"/>
<polyline points="253,565.6 277,558.1 300,520.9 324,567.3 348,580.8 372,564.4" stroke="#ee5a40"/>
<polyline points="253,564.3 277,563.2 300,510.0 324,572.0 348,557.6 372,566.2" stroke="#ee5940"/>
<polyline points="253,563.7 277,562.7 300,511.1 324,567.0 348,553.6 372,564.6" stroke="#ee5940"/>
<polyline points="253,575.1 277,576.5 300,512.6 324,569.7 348,569.2 372,576.6" stroke="#ee593f"/>
<polyline points="253,556.6 277,557.4 300,512.1 324,560.2 348,570.8 372,568.0" stroke="#ee583f"/>
<polyline points="253,545.2 277,569.1 300,514.0 324,558.6 348,543.5 372,565.3" stroke="#ee583f"/>
<polyline points="253,581.1 277,573.9 300,518.3 324,575.7 348,568.5 372,563.5" stroke="#ee583f"/>
<polyline points="253,571.3 277,557.8 300,519.8 324,565.6 348,575.3 372,555.0" stroke="#ee583f"/>
<polyline points="253,563.8 277,576.3 300,518.5 324,569.8 348,554.7 372,569.6" stroke="#ed573e"/>
<polyline points="253,559.8 277,555.9 300,517.8 324,553.0 348,567.4 372,560.8" stroke="#ed543c"/>
<polyline points="253,566.9 277,548.4 300,510.9 324,566.7 348,553.4 372,571.2" stroke="#ed533b"/>
<polyline points="253,560.3 277,554.4 300,511.2 324,558.6 348,556.3 372,570.1" stroke="#ec523a"/>
<polyline points="253,573.9 277,551.1 300,511.3 324,566.6 348,574.8 372,560.8" stroke="#ec523a"/>
<polyline points="253,567.1 277,567.2 300,522.3 324,565.6 348,578.5 372,558.3" stroke="#ec5139"/>
<polyline points="253,569.6 277,564.9 300,525.5 324,566.8 348,560.0 372,573.5" stroke="#ec5039"/>
<polyline points="253,571.7 277,555.4 300,509.8 324,554.3 348,552.9 372,570.3" stroke="#ec5039"/>
<polyline points="253,574.1 277,563.2 300,516.9 324,575.6 348,567.8 372,571.8" stroke="#eb4e37"/>
<polyline points="253,558.3 277,547.8 300,507.8 324,553.3 348,570.0 372,546.9" stroke="#eb4e37"/>
<polyline points="253,567.8 277,568.7 300,510.3 324,569.7 348,567.7 372,571.2" stroke="#eb4d36"/>
<polyline points="253,574.8 277,572.9 300,517.1 324,564.4 348,578.9 372,568.8" stroke="#eb4d36"/>
<polyline points="253,561.7 277,555.9 300,511.1 324,549.8 348,566.4 372,559.9" stroke="#eb4c35"/>
<polyline points="253,558.0 277,557.9 300,511.3 324,557.6 348,560.1 372,566.0" stroke="#eb4b35"/>
<polyline points="253,576.7 277,549.7 300,509.8 324,556.2 348,569.3 372,561.1" stroke="#eb4b35"/>
<polyline points="253,547.5 277,555.5 300,509.1 324,549.7 348,555.3 372,569.3" stroke="#eb4b34"/>
<polyline points="253,547.5 277,566.1 300,513.3 324,562.1 348,555.3 372,563.3" stroke="#eb4b34"/>
<polyline points="253,565.2 277,552.1 300,514.3 324,562.8 348,565.7 372,556.0" stroke="#ea4a34"/>
<polyline points="253,567.1 277,549.5 300,514.2 324,550.6 348,558.3 372,569.5" stroke="#ea4a34"/>
<polyline points="253,579.2 277,562.0 300,514.9 324,573.0 348,578.5 372,568.1" stroke="#ea4a34"/>
<polyline points="253,551.1 277,558.2 300,522.7 324,568.1 348,550.9 372,554.7" stroke="#ea4933"/>
<polyline points="253,548.2 277,565.8 300,510.4 324,566.4 348,566.3 372,569.2" stroke="#ea4833"/>
<polyline points="253,552.9 277,545.5 300,508.0 324,563.6 348,566.4 372,559.6" stroke="#ea4832"/>
<polyline points="253,562.3 277,562.8 300,515.5 324,568.0 348,562.4 372,564.9" stroke="#ea4732"/>
<polyline points="253,560.4 277,563.1 300,511.1 324,561.8 348,559.7 372,556.3" stroke="#ea4731"/>
<polyline points="253,570.2 277,560.7 300,509.4 324,551.1 348,552.3 372,570.7" stroke="#e94631"/>
<polyline points="253,566.6 277,566.1 300,508.1 324,562.8 348,572.5 372,548.5" stroke="#e94530"/>
<polyline points="253,570.6 277,564.6 300,518.1 324,560.7 348,571.1 372,568.8" stroke="#e9442f"/>
<polyline points="253,556.2 277,568.4 300,511.1 324,565.4 348,557.9 372,564.9" stroke="#e9442f"/>
<polyline points="253,568.9 277,551.0 300,509.7 324,572.0 348,564.5 372,568.3" stroke="#e9432f"/>
<polyline points="253,566.1 277,572.5 300,516.0 324,564.1 348,568.7 372,567.2" stroke="#e9432e"/>
<polyline points="253,562.8 277,546.5 300,511.4 324,558.5 348,569.3 372,552.7" stroke="#e9432e"/>
<polyline points="253,549.2 277,567.8 300,514.8 324,559.9 348,556.1 372,568.9" stroke="#e8412d"/>
<polyline points="253,574.7 277,554.0 300,512.1 324,548.3 348,550.5 372,561.7" stroke="#e8412d"/>
<polyline points="253,577.8 277,569.5 300,509.3 324,568.2 348,574.2 372,566.3" stroke="#e8402c"/>
<polyline points="253,570.5 277,569.5 300,511.2 324,559.0 348,567.4 372,562.7" stroke="#e8402c"/>
<polyline points="253,564.5 277,568.6 300,514.6 324,567.3 348,552.3 372,570.7" stroke="#e73f2c"/>
<polyline points="253,561.8 277,559.2 300,509.4 324,565.0 348,554.4 372,566.9" stroke="#e73f2c"/>
<polyline points="253,566.2 277,562.5 300,512.4 324,571.6 348,574.0 372,570.8" stroke="#e73f2c"/>
<polyline points="253,556.3 277,566.3 300,516.5 324,565.0 348,573.4 372,564.1" stroke="#e73f2c"/>
<polyline points="253,566.9 277,555.8 300,510.2 324,566.3 348,568.5 372,573.9" stroke="#e63e2b"/>
<polyline points="253,564.0 277,559.9 300,513.0 324,556.5 348,563.0 372,573.8" stroke="#e53d2b"/>
<polyline points="253,559.2 277,573.1 300,515.2 324,573.8 348,576.2 372,567.8" stroke="#e53d2b"/>
<polyline points="253,551.3 277,561.6 300,517.5 324,565.5 348,565.2 372,564.3" stroke="#e43c2a"/>
<polyline points="253,562.0 277,556.9 300,513.4 324,567.5 348,564.1 372,571.7" stroke="#e33b2a"/>
<polyline points="253,552.7 277,558.9 300,518.9 324,554.0 348,548.7 372,550.3" stroke="#e33b2a"/>
<polyline points="253,560.2 277,571.7 300,516.7 324,563.0 348,563.5 372,560.7" stroke="#e23a29"/>
<polyline points="253,563.6 277,566.8 300,509.9 324,566.4 348,555.8 372,563.3" stroke="#e23929"/>
<polyline points="253,557.0 277,567.4 300,510.7 324,567.7 348,565.6 372,563.8" stroke="#e13929"/>
<polyline points="253,576.6 277,568.0 300,515.0 324,571.8 348,567.6 372,570.6" stroke="#e13929"/>
<polyline points="253,556.4 277,562.1 300,511.9 324,564.0 348,562.8 372,568.3" stroke="#e03828"/>
<polyline points="253,555.5 277,560.2 300,514.8 324,557.2 348,555.5 372,565.6" stroke="#e03828"/>
<polyline points="253,560.9 277,553.1 300,508.6 324,553.9 348,549.3 372,557.7" stroke="#e03728"/>
<polyline points="253,565.7 277,551.8 300,514.3 324,571.7 348,571.5 372,562.3" stroke="#df3728"/>
<polyline points="253,555.0 277,548.7 300,517.7 324,560.5 348,563.7 372,559.9" stroke="#df3628"/>
<polyline points="253,568.8 277,556.3 300,509.2 324,554.3 348,565.0 372,563.6" stroke="#de3628"/>
<polyline points="253,568.1 277,549.7 300,515.8 324,561.5 348,563.9 372,570.0" stroke="#de3627"/>
<polyline points="253,567.3 277,563.9 300,509.1 324,565.0 348,554.2 372,563.0" stroke="#de3627"/>
<polyline points="253,552.6 277,564.1 300,510.9 324,555.4 348,555.9 372,565.1" stroke="#de3527"/>
<polyline points="253,573.0 277,569.2 300,517.5 324,567.0 348,569.8 372,566.2" stroke="#dd3527"/>
<polyline points="253,560.5 277,568.0 300,509.1 324,555.1 348,554.4 372,558.9" stroke="#dd3527"/>
<polyline points="253,557.9 277,565.1 300,510.4 324,566.0 348,568.6 372,572.8" stroke="#dd3427"/>
<polyline points="253,564.4 277,563.5 300,511.0 324,562.6 348,552.6 372,565.0" stroke="#dc3427"/>
<polyline points="253,551.6 277,556.3 300,510.3 324,552.9 348,559.1 372,565.5" stroke="#dc3426"/>
<polyline points="253,571.5 277,565.8 300,513.0 324,572.8 348,568.5 372,565.8" stroke="#dc3426"/>
<polyline points="253,565.5 277,564.1 300,510.1 324,563.1 348,556.4 372,565.4" stroke="#db3326"/>
<polyline points="253,575.8 277,568.6 300,512.1 324,568.3 348,568.9 372,570.8" stroke="#db3326"/>
<polyline points="253,570.6 277,555.7 300,510.6 324,559.8 348,552.8 372,567.6" stroke="#db3226"/>
<polyline points="253,566.0 277,564.1 300,511.2 324,561.2 348,560.3 372,563.2" stroke="#db3226"/>
<polyline points="253,561.0 277,559.4 300,510.2 324,568.0 348,562.4 372,566.5" stroke="#da3226"/>
<polyline points="253,573.3 277,566.9 300,521.4 324,570.2 348,573.3 372,572.5" stroke="#da3225"/>
<polyline points="253,569.4 277,560.7 300,511.0 324,557.0 348,572.4 372,566.4" stroke="#d93125"/>
<polyline points="253,568.4 277,555.2 300,510.7 324,556.1 348,574.0 372,560.7" stroke="#d93025"/>
<polyline points="253,566.8 277,556.4 300,510.7 324,564.4 348,558.7 372,563.6" stroke="#d93025"/>
<polyline points="253,552.4 277,560.6 300,508.9 324,566.3 348,550.9 372,563.5" stroke="#d83025"/>
<polyline points="253,567.4 277,563.7 300,511.6 324,567.3 348,568.1 372,568.9" stroke="#d82f24"/>
<polyline points="253,570.1 277,560.1 300,510.4 324,567.1 348,564.1 372,563.9" stroke="#d72f24"/>
<polyline points="253,568.2 277,564.9 300,509.7 324,559.3 348,561.3 372,565.0" stroke="#d72e24"/>
<polyline points="253,553.1 277,557.5 300,511.2 324,565.8 348,563.7 372,554.6" stroke="#d52c23"/>
<polyline points="253,563.7 277,567.0 300,511.5 324,562.5 348,563.8 372,566.9" stroke="#d42b22"/>
<polyline points="253,565.2 277,565.7 300,510.2 324,558.8 348,564.4 372,561.6" stroke="#d32a22"/>
<polyline points="253,564.2 277,557.7 300,511.2 324,570.1 348,554.7 372,567.6" stroke="#d22a22"/>
<polyline points="253,557.8 277,555.9 300,509.6 324,560.2 348,559.4 372,568.5" stroke="#d22922"/>
<polyline points="253,574.2 277,561.0 300,511.3 324,569.9 348,570.9 372,554.7" stroke="#d12921"/>
<polyline points="253,568.0 277,568.2 300,512.1 324,569.5 348,566.2 372,571.5" stroke="#d12821"/>
<polyline points="253,571.7 277,570.3 300,514.3 324,560.9 348,573.1 372,570.3" stroke="#d02821"/>
<polyline points="253,563.3 277,562.9 300,516.1 324,563.7 348,562.9 372,565.8" stroke="#cf2620"/>
<polyline points="253,560.4 277,570.1 300,513.5 324,555.3 348,558.0 372,565.1" stroke="#cf2620"/>
<polyline points="253,564.2 277,562.8 300,514.1 324,559.9 348,559.6 372,566.0" stroke="#cf2620"/>
<polyline points="253,561.1 277,562.3 300,511.1 324,567.1 348,568.3 372,566.4" stroke="#cf2620"/>
<polyline points="253,564.1 277,567.1 300,518.9 324,566.2 348,560.2 372,566.2" stroke="#cd241f"/>
<polyline points="253,567.6 277,564.2 300,512.6 324,565.9 348,554.4 372,563.8" stroke="#cd241f"/>
<polyline points="253,572.3 277,553.8 300,516.8 324,569.5 348,559.5 372,567.6" stroke="#cd241f"/>
<polyline points="253,560.4 277,564.4 300,511.0 324,565.5 348,564.7 372,565.3" stroke="#cc231f"/>
<polyline points="253,573.4 277,565.3 300,518.2 324,565.0 348,572.0 372,570.4" stroke="#cc231f"/>
<polyline points="253,573.3 277,553.5 300,511.4 324,566.8 348,565.6 372,570.9" stroke="#cc231f"/>
<polyline points="253,559.7 277,556.8 300,510.1 324,563.1 348,564.1 372,561.8" stroke="#c9201e"/>
<polyline points="253,565.3 277,565.3 300,512.2 324,569.1 348,561.3 372,557.6" stroke="#c81f1d"/>
<polyline points="253,564.7 277,565.5 300,511.0 324,570.5 348,561.5 372,562.2" stroke="#c81f1d"/>
<polyline points="253,565.7 277,559.2 300,511.9 324,565.0 348,556.0 372,559.0" stroke="#c81f1d"/>
<polyline points="253,570.4 277,567.2 300,518.1 324,562.1 348,563.7 372,569.0" stroke="#c71f1d"/>
<polyline points="253,559.7 277,561.7 300,517.3 324,569.7 348,559.2 372,560.6" stroke="#c71f1d"/>
<polyline points="253,565.2 277,560.7 300,512.6 324,566.6 348,562.1 372,559.1" stroke="#c71e1d"/>
<polyline points="253,561.8 277,563.4 300,512.3 324,565.9 348,563.7 372,562.7" stroke="#c51e1c"/>
<polyline points="253,561.2 277,561.3 300,510.3 324,560.2 348,563.9 372,565.7" stroke="#c51e1c"/>
<polyline points="253,566.8 277,562.3 300,515.4 324,567.4 348,560.8 372,567.2" stroke="#c41e1c"/>
<polyline points="253,569.8 277,563.8 300,517.9 324,567.7 348,571.5 372,566.1" stroke="#c41d1c"/>
<polyline points="253,555.9 277,559.8 300,511.5 324,556.9 348,563.9 372,562.5" stroke="#c31d1c"/>
<polyline points="253,565.7 277,565.7 300,511.2 324,566.9 348,563.6 372,565.9" stroke="#c31d1c"/>
<polyline points="253,562.9 277,563.3 300,511.7 324,557.2 348,564.8 372,567.2" stroke="#c11d1c"/>
<polyline points="253,572.0 277,560.9 300,511.3 324,564.4 348,562.3 372,569.7" stroke="#c11c1b"/>
<polyline points="253,559.8 277,564.6 300,511.0 324,563.3 348,560.6 372,561.8" stroke="#bf1c1b"/>
<polyline points="253,563.5 277,564.0 300,510.5 324,559.8 348,566.6 372,561.6" stroke="#bf1c1b"/>
<polyline points="253,568.7 277,559.6 300,516.4 324,568.9 348,569.0 372,567.6" stroke="#bd1b1b"/>
<polyline points="253,560.1 277,556.6 300,514.3 324,557.3 348,555.1 372,569.1" stroke="#bc1b1a"/>
<polyline points="253,562.4 277,560.9 300,510.5 324,556.1 348,567.8 372,565.8" stroke="#bc1b1a"/>
<polyline points="253,561.6 277,565.1 300,511.3 324,562.6 348,564.0 372,568.3" stroke="#bc1b1a"/>
<polyline points="253,565.5 277,555.4 300,514.2 324,562.8 348,560.7 372,564.3" stroke="#bb1a1a"/>
<polyline points="253,565.4 277,560.2 300,510.7 324,564.2 348,559.6 372,562.5" stroke="#b91a1a"/>
<polyline points="253,567.0 277,559.4 300,511.3 324,560.7 348,566.2 372,564.5" stroke="#b9191a"/>
<polyline points="253,566.3 277,564.2 300,516.8 324,564.3 348,566.0 372,565.3" stroke="#b9191a"/>
<polyline points="253,565.8 277,560.9 300,511.0 324,562.7 348,558.1 372,562.2" stroke="#b71919"/>
<polyline points="253,567.0 277,561.9 300,513.4 324,568.8 348,559.2 372,564.7" stroke="#b61919"/>
<polyline points="253,567.6 277,561.6 300,511.1 324,562.2 348,562.9 372,561.3" stroke="#b61819"/>
<polyline points="253,560.7 277,565.1 300,512.3 324,567.4 348,568.5 372,560.9" stroke="#b51819"/>
<polyline points="253,562.8 277,561.3 300,515.3 324,569.2 348,567.7 372,565.4" stroke="#b41819"/>
<polyline points="253,571.0 277,563.3 300,514.5 324,563.9 348,557.9 372,565.3" stroke="#b31818"/>
<polyline points="253,560.1 277,564.2 300,515.4 324,564.1 348,565.5 372,565.9" stroke="#b21718"/>
<polyline points="253,567.5 277,564.3 300,511.3 324,564.0 348,561.4 372,558.6" stroke="#b21718"/>
<polyline points="253,566.7 277,566.9 300,514.1 324,567.0 348,562.5 372,564.6" stroke="#b11718"/>
<polyline points="253,565.4 277,565.6 300,511.4 324,567.9 348,568.4 372,562.8" stroke="#b01618"/>
<polyline points="253,563.0 277,560.0 300,514.7 324,563.6 348,559.8 372,565.4" stroke="#b01618"/>
<polyline points="253,570.1 277,562.6 300,512.2 324,565.4 348,566.2 372,567.3" stroke="#b01618"/>
<polyline points="253,567.6 277,567.4 300,515.1 324,563.7 348,568.0 372,568.7" stroke="#ab1517"/>
<polyline points="253,563.1 277,561.6 300,510.9 324,563.9 348,566.6 372,565.5" stroke="#aa1416"/>
<polyline points="253,567.2 277,563.8 300,512.1 324,562.9 348,564.7 372,566.8" stroke="#a81316"/>
<polyline points="253,568.6 277,565.4 300,510.9 324,567.0 348,564.4 372,563.1" stroke="#a81316"/>
<polyline points="253,560.3 277,562.3 300,511.1 324,565.1 348,563.6 372,566.3" stroke="#a71316"/>
<polyline points="253,564.8 277,556.7 300,510.7 324,564.8 348,567.4 372,565.6" stroke="#a71316"/>
<polyline points="253,566.3 277,560.3 300,513.4 324,564.0 348,560.1 372,564.1" stroke="#a71316"/>
<polyline points="253,558.5 277,558.6 300,512.4 324,562.4 348,562.7 372,561.4" stroke="#a61315"/>
<polyline points="253,566.7 277,564.3 300,515.2 324,568.7 348,565.9 372,568.2" stroke="#a61315"/>
<polyline points="253,560.7 277,563.0 300,511.5 324,566.0 348,564.4 372,564.3" stroke="#a61315"/>
<polyline points="253,561.6 277,565.5 300,515.9 324,564.9 348,566.4 372,567.1" stroke="#a51215"/>
<polyline points="253,563.1 277,560.9 300,511.3 324,567.4 348,569.1 372,564.9" stroke="#a41215"/>
<polyline points="253,565.4 277,566.8 300,510.2 324,566.9 348,567.7 372,568.6" stroke="#a41215"/>
<polyline points="253,567.1 277,557.2 300,511.3 324,562.2 348,562.0 372,564.8" stroke="#a41215"/>
<polyline points="253,561.4 277,564.4 300,512.7 324,565.3 348,564.6 372,565.4" stroke="#a31215"/>
<polyline points="253,567.7 277,565.9 300,511.8 324,561.1 348,566.6 372,566.6" stroke="#a31115"/>
<polyline points="253,559.4 277,562.4 300,512.7 324,562.2 348,559.5 372,562.4" stroke="#a01114"/>
<polyline points="253,565.3 277,563.2 300,516.0 324,566.3 348,567.8 372,563.6" stroke="#a01114"/>
<polyline points="253,567.7 277,560.2 300,510.9 324,560.5 348,562.6 372,563.2" stroke="#9e1013"/>
</g>
<polyline points="252.9,561.3 276.7,558.1 300.5,517.6 324.3,560.6 348.1,558.9 371.9,562.0" fill="none" stroke="#111" stroke-width="1.6" stroke-linejoin="round"/>
<line x1="248.80" y1="504.20" x2="248.80" y2="601.40" stroke="#555" stroke-width="1"/>
<line x1="244.30" y1="504.20" x2="248.80" y2="504.20" stroke="#555" stroke-width="1"/>
<text class="ns" x="235.30" y="504.20" font-size="12.5" text-anchor="middle" font-family='"Liberation Sans", sans-serif' fill="#333" transform="rotate(-90 235.30 504.20)" dy="4.4">2</text>
<line x1="244.30" y1="528.50" x2="248.80" y2="528.50" stroke="#555" stroke-width="1"/>
<text class="ns" x="235.30" y="528.50" font-size="12.5" text-anchor="middle" font-family='"Liberation Sans", sans-serif' fill="#333" transform="rotate(-90 235.30 528.50)" dy="4.4">1</text>
<line x1="244.30" y1="552.80" x2="248.80" y2="552.80" stroke="#555" stroke-width="1"/>
<text class="ns" x="235.30" y="552.80" font-size="12.5" text-anchor="middle" font-family='"Liberation Sans", sans-serif' fill="#333" transform="rotate(-90 235.30 552.80)" dy="4.4">0</text>
<line x1="244.30" y1="577.10" x2="248.80" y2="577.10" stroke="#555" stroke-width="1"/>
<text class="ns" x="235.30" y="577.10" font-size="12.5" text-anchor="middle" font-family='"Liberation Sans", sans-serif' fill="#333" transform="rotate(-90 235.30 577.10)" dy="4.4">−1</text>
<line x1="244.30" y1="601.40" x2="248.80" y2="601.40" stroke="#555" stroke-width="1"/>
<text class="ns" x="235.30" y="601.40" font-size="12.5" text-anchor="middle" font-family='"Liberation Sans", sans-serif' fill="#333" transform="rotate(-90 235.30 601.40)" dy="4.4">−2</text>
<line x1="252.90" y1="605.60" x2="371.90" y2="605.60" stroke="#555" stroke-width="1"/>
<line x1="252.90" y1="605.60" x2="252.90" y2="610.10" stroke="#555" stroke-width="1"/>
<line x1="276.70" y1="605.60" x2="276.70" y2="610.10" stroke="#555" stroke-width="1"/>
<line x1="300.50" y1="605.60" x2="300.50" y2="610.10" stroke="#555" stroke-width="1"/>
<line x1="324.30" y1="605.60" x2="324.30" y2="610.10" stroke="#555" stroke-width="1"/>
<line x1="348.10" y1="605.60" x2="348.10" y2="610.10" stroke="#555" stroke-width="1"/>
<line x1="371.90" y1="605.60" x2="371.90" y2="610.10" stroke="#555" stroke-width="1"/>
<text x="306.00" y="500.72" font-size="13.1" text-anchor="middle" font-family='"Liberation Sans", sans-serif' fill="#1a1a1a">Cluster2</text>
<text x="219.70" y="551.00" font-size="13.2" text-anchor="middle" font-family='"Liberation Sans", sans-serif' fill="#1a1a1a" transform="rotate(-90 219.70 551.00)" dy="4.75">Expression change</text>
<polygon points="427.5,518.4 439.4,529.0 451.4,520.6 463.3,548.4 475.3,550.6 487.2,543.2 499.1,506.9 511.1,524.8 523.0,520.7 535.0,526.9 546.9,511.6 546.9,580.5 535.0,565.4 523.0,591.9 511.1,563.3 499.1,575.8 487.2,575.9 475.3,600.6 463.3,578.9 451.4,581.8 439.4,563.6 427.5,582.9" fill="#fcd5c5" filter="url(#bl)"/>
<polygon points="427.5,528.7 439.4,532.7 451.4,529.9 463.3,553.3 475.3,567.5 487.2,548.8 499.1,519.7 511.1,529.1 523.0,530.5 535.0,531.1 546.9,523.9 546.9,561.0 535.0,557.4 523.0,568.7 511.1,555.4 499.1,556.8 487.2,571.2 475.3,594.4 463.3,574.2 451.4,562.8 439.4,556.3 427.5,563.4" fill="#f7a083" filter="url(#bl)"/>
<g fill="none" stroke-width="1.25" stroke-linejoin="round" stroke-opacity="0.9" filter="url(#bl)">
<polyline points="428,531.8 451,527.7 475,588.3 499,548.2 523,546.8 547,557.2" stroke="#fde4d9"/>
<polyline points="428,518.1 451,531.0 475,565.9 499,528.0 523,532.1 547,528.2" stroke="#fde0d4"/>
<polyline points="428,584.9 451,583.8 475,588.1 499,548.2 523,568.5 547,533.5" stroke="#fcddcf"/>
<polyline points="428,520.5 451,521.8 475,581.2 499,523.5 523,524.8 547,522.8" stroke="#fcdbcd"/>
<polyline points="428,541.3 451,552.8 475,601.1 499,531.6 523,547.6 547,547.8" stroke="#fcdbcc"/>
<polyline points="428,544.9 451,519.9 475,589.2 499,524.0 523,593.7 547,533.8" stroke="#fcdbcc"/>
<polyline points="428,539.1 451,575.1 475,549.8 499,530.0 523,532.9 547,524.8" stroke="#fcd8c8"/>
<polyline points="428,533.9 451,531.8 475,556.3 499,530.7 523,520.5 547,553.9" stroke="#fcd6c5"/>
<polyline points="428,525.1 451,528.0 475,589.0 499,521.1 523,582.8 547,546.1" stroke="#fcd5c4"/>
<polyline points="428,544.8 451,541.1 475,583.7 499,548.6 523,548.7 547,526.8" stroke="#fcd5c4"/>
<polyline points="428,534.1 451,534.8 475,581.2 499,554.3 523,579.6 547,523.9" stroke="#fcd4c3"/>
<polyline points="428,534.9 451,562.7 475,591.4 499,575.7 523,560.1 547,580.4" stroke="#fcd4c3"/>
<polyline points="428,565.3 451,548.7 475,584.2 499,542.3 523,541.5 547,564.1" stroke="#fcd3c2"/>
<polyline points="428,550.7 451,534.4 475,600.4 499,528.4 523,545.2 547,558.5" stroke="#fcd2c0"/>
<polyline points="428,581.8 451,561.8 475,585.2 499,550.7 523,531.1 547,513.9" stroke="#fcd0be"/>
<polyline points="428,538.8 451,523.6 475,566.8 499,562.0 523,542.1 547,560.7" stroke="#fcd0be"/>
<polyline points="428,526.3 451,538.8 475,575.3 499,535.1 523,521.6 547,531.7" stroke="#fccebb"/>
<polyline points="428,558.9 451,545.4 475,577.8 499,518.5 523,532.9 547,577.6" stroke="#fbcbb6"/>
<polyline points="428,539.4 451,539.2 475,555.1 499,520.2 523,531.9 547,525.6" stroke="#fbc9b5"/>
<polyline points="428,552.0 451,561.3 475,586.1 499,535.9 523,529.0 547,531.1" stroke="#fbc8b3"/>
<polyline points="428,554.3 451,522.5 475,587.6 499,528.2 523,535.8 547,514.7" stroke="#fbc8b2"/>
<polyline points="428,522.9 451,535.9 475,554.2 499,516.1 523,533.0 547,529.3" stroke="#fbc7b1"/>
<polyline points="428,550.3 451,551.9 475,566.8 499,532.7 523,540.9 547,544.6" stroke="#fbc7b1"/>
<polyline points="428,553.3 451,540.5 475,591.7 499,547.9 523,540.4 547,536.4" stroke="#fbc6b1"/>
<polyline points="428,523.0 451,535.6 475,586.8 499,521.7 523,526.6 547,531.3" stroke="#fbc5af"/>
<polyline points="428,540.6 451,543.9 475,588.2 499,510.0 523,523.1 547,525.7" stroke="#fbc5af"/>
<polyline points="428,532.6 451,537.5 475,585.4 499,535.3 523,579.5 547,514.7" stroke="#fbc4ae"/>
<polyline points="428,526.6 451,534.1 475,575.8 499,516.5 523,536.4 547,529.4" stroke="#fbc3ad"/>
<polyline points="428,564.8 451,576.8 475,591.9 499,539.2 523,581.0 547,575.4" stroke="#fbc3ad"/>
<polyline points="428,553.7 451,549.8 475,593.2 499,551.5 523,542.0 547,566.2" stroke="#fbc3ac"/>
<polyline points="428,577.5 451,576.6 475,598.9 499,570.6 523,569.6 547,568.3" stroke="#fbc2ac"/>
<polyline points="428,521.4 451,534.3 475,581.2 499,517.7 523,526.1 547,527.3" stroke="#fbc1aa"/>
<polyline points="428,523.0 451,537.9 475,580.5 499,562.2 523,534.0 547,515.3" stroke="#fac0a9"/>
<polyline points="428,538.3 451,523.7 475,573.4 499,527.6 523,538.4 547,531.0" stroke="#fabea6"/>
<polyline points="428,545.3 451,575.3 475,598.5 499,542.6 523,565.4 547,549.1" stroke="#fabda5"/>
<polyline points="428,526.4 451,524.0 475,556.7 499,531.2 523,531.2 547,522.3" stroke="#fabba4"/>
<polyline points="428,542.2 451,526.1 475,584.3 499,536.0 523,545.6 547,517.8" stroke="#fabba3"/>
<polyline points="428,543.7 451,559.5 475,587.9 499,545.3 523,562.0 547,532.0" stroke="#fab79f"/>
<polyline points="428,555.7 451,559.9 475,588.6 499,524.2 523,570.0 547,567.5" stroke="#fab69e"/>
<polyline points="428,532.4 451,536.4 475,572.3 499,518.4 523,536.4 547,532.6" stroke="#f9b69d"/>
<polyline points="428,532.9 451,524.6 475,590.5 499,546.8 523,533.3 547,516.9" stroke="#f9b69d"/>
<polyline points="428,524.3 451,535.9 475,557.9 499,540.5 523,531.6 547,516.9" stroke="#f9b69d"/>
<polyline points="428,553.3 451,543.3 475,594.7 499,516.5 523,557.5 547,544.3" stroke="#f9b59d"/>
<polyline points="428,559.8 451,573.3 475,589.3 499,567.3 523,545.8 547,563.1" stroke="#f9b59c"/>
<polyline points="428,532.1 451,524.8 475,579.9 499,534.0 523,529.4 547,538.6" stroke="#f9b49c"/>
<polyline points="428,527.0 451,534.5 475,585.1 499,553.2 523,541.4 547,552.1" stroke="#f9b49c"/>
<polyline points="428,554.2 451,531.9 475,582.4 499,548.0 523,537.0 547,558.0" stroke="#f9b49b"/>
<polyline points="428,538.3 451,539.7 475,592.5 499,538.6 523,535.9 547,556.5" stroke="#f9b39b"/>
<polyline points="428,564.6 451,568.1 475,582.6 499,520.3 523,558.9 547,555.0" stroke="#f9b39a"/>
<polyline points="428,538.0 451,572.4 475,596.1 499,566.4 523,541.5 547,535.8" stroke="#f9b198"/>
<polyline points="428,525.9 451,527.1 475,582.5 499,514.6 523,571.3 547,553.4" stroke="#f9af96"/>
<polyline points="428,561.4 451,556.8 475,575.7 499,557.6 523,539.1 547,539.6" stroke="#f9ad94"/>
<polyline points="428,535.5 451,553.1 475,588.9 499,523.2 523,535.5 547,541.8" stroke="#f9ad93"/>
<polyline points="428,537.2 451,548.5 475,580.6 499,546.4 523,550.6 547,534.1" stroke="#f9ac92"/>
<polyline points="428,534.1 451,528.6 475,590.5 499,548.4 523,528.6 547,524.7" stroke="#f8ab91"/>
<polyline points="428,534.2 451,546.1 475,583.8 499,554.2 523,554.5 547,550.1" stroke="#f8aa90"/>
<polyline points="428,565.1 451,535.9 475,563.3 499,523.9 523,526.5 547,534.9" stroke="#f8aa90"/>
<polyline points="428,560.4 451,530.0 475,586.3 499,533.4 523,549.1 547,532.2" stroke="#f8a98f"/>
<polyline points="428,551.7 451,564.1 475,593.6 499,539.3 523,549.0 547,539.1" stroke="#f8a98f"/>
<polyline points="428,540.1 451,528.3 475,587.5 499,528.7 523,538.8 547,526.3" stroke="#f8a78d"/>
<polyline points="428,538.9 451,536.6 475,587.3 499,523.9 523,560.3 547,531.6" stroke="#f8a78c"/>
<polyline points="428,536.0 451,537.9 475,589.3 499,545.0 523,534.8 547,557.3" stroke="#f8a58a"/>
<polyline points="428,556.6 451,546.8 475,588.0 499,527.9 523,538.6 547,538.1" stroke="#f8a48a"/>
<polyline points="428,539.9 451,534.1 475,590.0 499,531.3 523,562.8 547,567.5" stroke="#f8a48a"/>
<polyline points="428,552.8 451,540.4 475,588.8 499,536.6 523,540.6 547,519.8" stroke="#f8a48a"/>
<polyline points="428,548.5 451,530.1 475,594.3 499,517.3 523,532.9 547,557.6" stroke="#f8a388"/>
<polyline points="428,542.0 451,533.3 475,591.3 499,529.5 523,553.9 547,532.0" stroke="#f8a388"/>
<polyline points="428,538.9 451,563.2 475,586.7 499,550.5 523,539.7 547,535.2" stroke="#f8a388"/>
<polyline points="428,535.9 451,534.6 475,590.0 499,547.3 523,536.1 547,541.8" stroke="#f8a287"/>
<polyline points="428,528.2 451,531.7 475,576.4 499,523.2 523,543.1 547,525.8" stroke="#f8a286"/>
<polyline points="428,537.7 451,540.7 475,568.3 499,543.0 523,527.7 547,548.3" stroke="#f8a186"/>
<polyline points="428,540.4 451,529.9 475,572.6 499,535.2 523,531.6 547,537.3" stroke="#f7a185"/>
<polyline points="428,560.4 451,568.0 475,589.1 499,553.5 523,551.4 547,532.1" stroke="#f7a085"/>
<polyline points="428,556.5 451,536.3 475,592.6 499,537.7 523,538.0 547,529.5" stroke="#f7a085"/>
<polyline points="428,526.7 451,539.3 475,577.8 499,551.6 523,536.6 547,530.8" stroke="#f79e82"/>
<polyline points="428,534.2 451,535.4 475,590.3 499,534.9 523,544.5 547,530.1" stroke="#f79b7f"/>
<polyline points="428,535.1 451,549.2 475,579.9 499,537.5 523,549.5 547,525.7" stroke="#f79a7e"/>
<polyline points="428,543.8 451,566.3 475,589.4 499,535.2 523,535.0 547,553.0" stroke="#f7997d"/>
<polyline points="428,532.1 451,537.9 475,578.6 499,530.1 523,541.4 547,523.0" stroke="#f7997d"/>
<polyline points="428,540.8 451,544.6 475,594.6 499,549.7 523,534.7 547,541.3" stroke="#f7987c"/>
<polyline points="428,542.7 451,562.5 475,590.2 499,553.3 523,538.7 547,547.8" stroke="#f6977b"/>
<polyline points="428,546.1 451,565.8 475,594.4 499,549.6 523,556.6 547,535.0" stroke="#f6977a"/>
<polyline points="428,536.0 451,543.6 475,589.7 499,535.1 523,543.3 547,535.2" stroke="#f6967a"/>
<polyline points="428,566.4 451,547.7 475,590.2 499,527.8 523,567.0 547,552.6" stroke="#f6967a"/>
<polyline points="428,531.4 451,537.9 475,588.7 499,528.0 523,572.0 547,531.4" stroke="#f6967a"/>
<polyline points="428,539.3 451,538.8 475,588.4 499,522.4 523,537.5 547,534.0" stroke="#f69579"/>
<polyline points="428,545.8 451,562.7 475,579.3 499,530.1 523,550.0 547,535.6" stroke="#f69478"/>
<polyline points="428,548.9 451,540.4 475,581.5 499,532.5 523,538.7 547,533.3" stroke="#f69377"/>
<polyline points="428,539.4 451,549.6 475,587.9 499,559.1 523,547.4 547,560.7" stroke="#f69276"/>
<polyline points="428,555.6 451,561.0 475,589.2 499,538.3 523,540.8 547,531.0" stroke="#f69175"/>
<polyline points="428,534.1 451,533.7 475,583.8 499,528.5 523,536.9 547,530.2" stroke="#f68f73"/>
<polyline points="428,565.2 451,548.5 475,591.7 499,533.1 523,550.0 547,542.6" stroke="#f68f73"/>
<polyline points="428,537.3 451,535.3 475,589.9 499,521.5 523,529.7 547,522.8" stroke="#f68f73"/>
<polyline points="428,547.5 451,542.0 475,566.0 499,526.4 523,543.2 547,543.5" stroke="#f68f73"/>
<polyline points="428,553.6 451,545.8 475,589.3 499,542.9 523,570.7 547,539.9" stroke="#f68e72"/>
<polyline points="428,551.0 451,529.3 475,589.7 499,529.8 523,539.0 547,532.9" stroke="#f58d70"/>
<polyline points="428,547.5 451,542.3 475,591.7 499,523.9 523,537.0 547,539.6" stroke="#f58c70"/>
<polyline points="428,555.3 451,563.8 475,593.6 499,544.2 523,553.4 547,533.6" stroke="#f58c6f"/>
<polyline points="428,556.1 451,541.6 475,590.3 499,519.8 523,536.1 547,531.7" stroke="#f58b6f"/>
<polyline points="428,545.2 451,544.2 475,566.8 499,530.1 523,554.7 547,523.4" stroke="#f58a6e"/>
<polyline points="428,529.4 451,548.3 475,585.1 499,527.9 523,533.1 547,551.4" stroke="#f5896c"/>
<polyline points="428,538.6 451,544.6 475,591.7 499,541.4 523,531.3 547,535.5" stroke="#f5896c"/>
<polyline points="428,534.4 451,536.3 475,590.3 499,537.6 523,547.1 547,540.3" stroke="#f5886c"/>
<polyline points="428,538.9 451,555.1 475,581.3 499,546.0 523,569.0 547,536.3" stroke="#f5886c"/>
<polyline points="428,547.1 451,546.4 475,590.3 499,540.2 523,548.4 547,526.6" stroke="#f5876b"/>
<polyline points="428,539.2 451,548.9 475,591.9 499,538.9 523,545.3 547,537.0" stroke="#f5866a"/>
<polyline points="428,545.0 451,531.8 475,590.7 499,524.5 523,551.2 547,561.0" stroke="#f5866a"/>
<polyline points="428,538.1 451,548.5 475,592.3 499,543.4 523,561.3 547,542.4" stroke="#f58569"/>
<polyline points="428,536.6 451,537.1 475,584.5 499,525.6 523,539.1 547,524.1" stroke="#f58468"/>
<polyline points="428,542.0 451,562.3 475,587.5 499,536.2 523,558.1 547,539.0" stroke="#f58367"/>
<polyline points="428,540.1 451,545.0 475,585.2 499,528.9 523,554.5 547,540.9" stroke="#f58367"/>
<polyline points="428,549.2 451,538.1 475,570.4 499,520.7 523,534.6 547,551.4" stroke="#f48366"/>
<polyline points="428,539.5 451,539.0 475,588.4 499,543.7 523,548.5 547,538.0" stroke="#f48266"/>
<polyline points="428,537.0 451,537.8 475,568.4 499,523.9 523,538.1 547,534.9" stroke="#f48164"/>
<polyline points="428,536.6 451,534.9 475,590.8 499,529.8 523,543.7 547,531.1" stroke="#f47f63"/>
<polyline points="428,542.2 451,546.7 475,587.9 499,548.4 523,538.6 547,536.2" stroke="#f47f62"/>
<polyline points="428,546.9 451,543.0 475,568.8 499,537.4 523,550.1 547,534.0" stroke="#f47e62"/>
<polyline points="428,547.5 451,538.5 475,582.1 499,530.1 523,532.3 547,531.7" stroke="#f47e61"/>
<polyline points="428,529.6 451,549.1 475,573.3 499,526.5 523,537.5 547,525.0" stroke="#f47d60"/>
<polyline points="428,538.5 451,551.2 475,587.8 499,550.6 523,539.5 547,547.8" stroke="#f47d60"/>
<polyline points="428,552.3 451,538.3 475,593.9 499,550.2 523,552.5 547,546.8" stroke="#f47c60"/>
<polyline points="428,537.6 451,538.1 475,579.0 499,530.3 523,536.9 547,529.6" stroke="#f47b5f"/>
<polyline points="428,538.3 451,534.7 475,593.8 499,531.9 523,536.7 547,547.4" stroke="#f47b5f"/>
<polyline points="428,536.3 451,532.1 475,574.5 499,533.4 523,542.1 547,536.2" stroke="#f47b5e"/>
<polyline points="428,550.6 451,539.5 475,590.7 499,531.0 523,539.2 547,533.3" stroke="#f47b5e"/>
<polyline points="428,548.1 451,536.4 475,591.3 499,534.9 523,534.3 547,534.6" stroke="#f47a5e"/>
<polyline points="428,540.1 451,545.7 475,585.5 499,544.7 523,543.2 547,525.4" stroke="#f4795d"/>
<polyline points="428,560.6 451,542.1 475,589.6 499,534.5 523,539.9 547,548.1" stroke="#f3775b"/>
<polyline points="428,538.0 451,544.5 475,589.1 499,551.3 523,558.0 547,551.2" stroke="#f3775a"/>
<polyline points="428,541.3 451,552.4 475,592.1 499,524.0 523,537.1 547,546.1" stroke="#f3765a"/>
<polyline points="428,532.4 451,559.5 475,589.8 499,543.6 523,541.2 547,545.4" stroke="#f37659"/>
<polyline points="428,550.7 451,556.5 475,593.4 499,534.5 523,565.0 547,535.3" stroke="#f37559"/>
<polyline points="428,553.3 451,534.3 475,575.1 499,550.6 523,541.0 547,537.0" stroke="#f37558"/>
<polyline points="428,548.8 451,543.6 475,581.4 499,549.0 523,537.4 547,537.7" stroke="#f37458"/>
<polyline points="428,559.4 451,552.8 475,591.5 499,529.8 523,542.0 547,536.3" stroke="#f37457"/>
<polyline points="428,534.5 451,539.1 475,589.0 499,542.0 523,564.5 547,547.2" stroke="#f37356"/>
<polyline points="428,550.6 451,540.9 475,580.2 499,529.9 523,538.1 547,544.9" stroke="#f37356"/>
<polyline points="428,541.1 451,541.7 475,580.7 499,524.6 523,536.1 547,538.7" stroke="#f37255"/>
<polyline points="428,556.2 451,552.7 475,589.7 499,538.2 523,542.4 547,557.1" stroke="#f37255"/>
<polyline points="428,548.5 451,552.6 475,588.8 499,530.0 523,564.0 547,542.3" stroke="#f37154"/>
<polyline points="428,544.6 451,555.7 475,588.0 499,541.2 523,555.2 547,539.1" stroke="#f37154"/>
<polyline points="428,546.4 451,543.0 475,576.6 499,533.8 523,536.0 547,533.8" stroke="#f37053"/>
<polyline points="428,540.1 451,558.7 475,586.3 499,552.8 523,540.2 547,537.7" stroke="#f37053"/>
<polyline points="428,537.8 451,539.2 475,583.9 499,539.5 523,546.5 547,527.6" stroke="#f37053"/>
<polyline points="428,543.5 451,534.3 475,589.5 499,536.0 523,537.0 547,543.9" stroke="#f37053"/>
<polyline points="428,545.6 451,544.5 475,585.9 499,528.8 523,539.0 547,535.1" stroke="#f26f52"/>
<polyline points="428,535.4 451,532.0 475,578.2 499,532.8 523,536.3 547,532.4" stroke="#f26e51"/>
<polyline points="428,533.2 451,539.2 475,575.7 499,538.7 523,545.8 547,538.1" stroke="#f26d50"/>
<polyline points="428,558.5 451,545.8 475,592.9 499,538.4 523,547.5 547,551.2" stroke="#f26d50"/>
<polyline points="428,538.7 451,543.1 475,588.5 499,530.5 523,540.4 547,544.1" stroke="#f26d50"/>
<polyline points="428,544.0 451,540.0 475,571.8 499,534.2 523,561.9 547,538.0" stroke="#f26c4f"/>
<polyline points="428,548.6 451,547.9 475,579.6 499,536.0 523,550.2 547,547.3" stroke="#f26c4f"/>
<polyline points="428,552.9 451,554.4 475,586.5 499,537.7 523,536.8 547,542.3" stroke="#f26a4d"/>
<polyline points="428,542.7 451,532.4 475,587.9 499,523.3 523,539.5 547,529.2" stroke="#f26a4d"/>
<polyline points="428,539.3 451,544.5 475,585.4 499,549.0 523,549.5 547,542.6" stroke="#f26a4d"/>
<polyline points="428,539.7 451,557.3 475,591.4 499,551.3 523,549.9 547,546.4" stroke="#f2694c"/>
<polyline points="428,538.9 451,554.5 475,589.3 499,537.1 523,546.8 547,553.7" stroke="#f2694c"/>
<polyline points="428,540.2 451,532.6 475,572.5 499,527.9 523,540.3 547,533.9" stroke="#f2694c"/>
<polyline points="428,536.7 451,540.8 475,588.5 499,532.8 523,539.5 547,537.1" stroke="#f2694c"/>
<polyline points="428,540.0 451,535.2 475,583.7 499,533.5 523,552.2 547,540.3" stroke="#f2684c"/>
<polyline points="428,544.2 451,536.0 475,588.6 499,530.7 523,549.3 547,532.1" stroke="#f1684b"/>
<polyline points="428,541.3 451,539.9 475,591.1 499,544.7 523,541.6 547,543.6" stroke="#f1684b"/>
<polyline points="428,552.7 451,539.8 475,587.5 499,533.8 523,558.3 547,555.0" stroke="#f1674b"/>
<polyline points="428,549.4 451,539.1 475,582.0 499,524.8 523,537.5 547,536.6" stroke="#f1674b"/>
<polyline points="428,537.8 451,551.3 475,572.8 499,523.7 523,541.2 547,536.9" stroke="#f1674b"/>
<polyline points="428,538.7 451,542.4 475,581.1 499,527.4 523,540.4 547,532.0" stroke="#f1664a"/>
<polyline points="428,555.7 451,540.2 475,590.3 499,545.8 523,553.3 547,533.5" stroke="#f1664a"/>
<polyline points="428,538.0 451,541.7 475,582.8 499,533.4 523,540.0 547,544.2" stroke="#f16449"/>
<polyline points="428,538.1 451,539.9 475,583.5 499,549.3 523,536.6 547,549.2" stroke="#f16448"/>
<polyline points="428,537.8 451,538.4 475,574.2 499,524.2 523,546.4 547,529.5" stroke="#f16448"/>
<polyline points="428,537.9 451,535.8 475,587.7 499,546.2 523,538.5 547,533.9" stroke="#f16448"/>
<polyline points="428,544.5 451,539.4 475,589.9 499,524.5 523,537.6 547,540.6" stroke="#f06347"/>
<polyline points="428,532.5 451,538.7 475,590.1 499,535.1 523,538.9 547,535.8" stroke="#f06247"/>
<polyline points="428,538.2 451,534.0 475,590.7 499,539.3 523,544.7 547,534.0" stroke="#f06146"/>
<polyline points="428,546.2 451,538.5 475,583.3 499,526.3 523,541.9 547,543.2" stroke="#f06045"/>
<polyline points="428,545.9 451,554.0 475,584.2 499,533.6 523,542.0 547,542.4" stroke="#ef5f44"/>
<polyline points="428,534.6 451,545.9 475,576.0 499,536.7 523,544.9 547,532.1" stroke="#ef5e44"/>
<polyline points="428,539.5 451,546.1 475,589.7 499,540.0 523,546.6 547,550.1" stroke="#ef5e44"/>
<polyline points="428,539.0 451,537.3 475,577.2 499,530.3 523,536.1 547,536.5" stroke="#ef5e43"/>
<polyline points="428,539.9 451,547.1 475,582.7 499,534.9 523,537.4 547,538.3" stroke="#ef5e43"/>
<polyline points="428,537.9 451,536.9 475,589.3 499,526.3 523,551.2 547,550.7" stroke="#ef5d43"/>
<polyline points="428,534.9 451,537.1 475,589.9 499,527.6 523,536.6 547,537.2" stroke="#ee5b41"/>
<polyline points="428,539.3 451,554.1 475,587.9 499,532.0 523,536.2 547,531.0" stroke="#ee5b41"/>
<polyline points="428,545.8 451,547.4 475,589.9 499,548.1 523,543.0 547,545.3" stroke="#ee5b41"/>
<polyline points="428,541.5 451,546.3 475,591.6 499,532.0 523,549.2 547,532.4" stroke="#ee5a40"/>
<polyline points="428,535.2 451,553.2 475,585.2 499,537.0 523,540.0 547,540.3" stroke="#ed573e"/>
<polyline points="428,543.0 451,535.7 475,587.5 499,526.3 523,547.0 547,535.3" stroke="#ed563e"/>
<polyline points="428,541.6 451,537.1 475,580.4 499,531.4 523,539.3 547,537.5" stroke="#ed563e"/>
<polyline points="428,550.1 451,544.2 475,588.4 499,535.3 523,542.7 547,548.2" stroke="#ed563d"/>
<polyline points="428,538.6 451,552.8 475,583.8 499,539.9 523,545.6 547,543.0" stroke="#ed563d"/>
<polyline points="428,540.6 451,537.0 475,587.1 499,530.5 523,548.5 547,546.2" stroke="#ed563d"/>
<polyline points="428,544.8 451,541.1 475,586.2 499,543.7 523,556.7 547,541.6" stroke="#ed553d"/>
<polyline points="428,542.4 451,537.9 475,589.3 499,529.6 523,542.8 547,544.1" stroke="#ed553c"/>
<polyline points="428,546.1 451,543.3 475,585.7 499,534.7 523,538.8 547,532.0" stroke="#ed553c"/>
<polyline points="428,544.9 451,544.6 475,580.4 499,532.8 523,535.7 547,531.9" stroke="#ed543c"/>
<polyline points="428,549.2 451,548.0 475,590.1 499,537.8 523,556.4 547,545.3" stroke="#ed543c"/>
<polyline points="428,540.1 451,534.9 475,588.0 499,539.9 523,540.5 547,530.6" stroke="#ed533b"/>
<polyline points="428,543.0 451,540.4 475,587.5 499,540.7 523,545.0 547,534.6" stroke="#ec523a"/>
<polyline points="428,546.0 451,539.2 475,586.0 499,537.3 523,548.4 547,546.3" stroke="#ec523a"/>
<polyline points="428,539.0 451,540.3 475,586.7 499,534.1 523,541.4 547,541.4" stroke="#ec523a"/>
<polyline points="428,545.1 451,544.9 475,591.0 499,538.9 523,550.3 547,540.0" stroke="#ec523a"/>
<polyline points="428,539.6 451,535.5 475,580.1 499,533.5 523,540.7 547,536.5" stroke="#ec513a"/>
<polyline points="428,534.6 451,537.5 475,590.3 499,527.1 523,542.0 547,534.8" stroke="#ec5139"/>
<polyline points="428,548.4 451,546.0 475,583.3 499,533.3 523,540.8 547,541.5" stroke="#ec4f38"/>
<polyline points="428,538.2 451,545.9 475,585.0 499,545.2 523,538.7 547,538.3" stroke="#ec4f38"/>
<polyline points="428,538.7 451,545.6 475,584.9 499,528.1 523,537.8 547,537.4" stroke="#ec4f38"/>
<polyline points="428,535.6 451,540.0 475,581.8 499,538.1 523,536.3 547,533.8" stroke="#eb4f37"/>
<polyline points="428,543.3 451,537.0 475,586.1 499,527.7 523,536.5 547,531.5" stroke="#eb4e37"/>
<polyline points="428,541.7 451,546.0 475,587.4 499,545.2 523,542.9 547,544.2" stroke="#eb4d37"/>
<polyline points="428,540.1 451,542.9 475,584.5 499,538.5 523,542.5 547,537.1" stroke="#eb4b35"/>
<polyline points="428,540.2 451,539.5 475,586.7 499,540.8 523,545.8 547,531.8" stroke="#eb4b35"/>
<polyline points="428,539.0 451,537.8 475,584.7 499,528.1 523,540.3 547,540.4" stroke="#eb4b34"/>
<polyline points="428,546.0 451,549.7 475,582.8 499,537.5 523,542.6 547,540.6" stroke="#ea4933"/>
<polyline points="428,545.3 451,536.2 475,581.7 499,528.3 523,537.0 547,541.1" stroke="#ea4933"/>
<polyline points="428,543.9 451,543.8 475,589.8 499,530.8 523,541.1 547,537.9" stroke="#ea4832"/>
<polyline points="428,536.7 451,538.0 475,586.4 499,530.4 523,543.5 547,533.1" stroke="#ea4832"/>
<polyline points="428,543.9 451,538.5 475,585.8 499,535.9 523,540.5 547,536.9" stroke="#ea4732"/>
<polyline points="428,538.8 451,537.3 475,587.3 499,533.5 523,552.1 547,540.6" stroke="#ea4631"/>
<polyline points="428,541.5 451,538.3 475,589.3 499,529.0 523,541.6 547,539.6" stroke="#e94631"/>
<polyline points="428,543.4 451,540.2 475,588.1 499,532.2 523,549.5 547,540.1" stroke="#e94530"/>
<polyline points="428,539.8 451,540.2 475,588.6 499,533.9 523,538.9 547,541.6" stroke="#e94530"/>
<polyline points="428,539.6 451,537.6 475,585.0 499,529.5 523,539.2 547,534.8" stroke="#e94530"/>
<polyline points="428,542.9 451,542.4 475,585.0 499,536.9 523,540.8 547,537.9" stroke="#e9442f"/>
<polyline points="428,549.4 451,543.2 475,590.0 499,541.0 523,548.6 547,547.0" stroke="#e9442f"/>
<polyline points="428,541.2 451,539.5 475,585.3 499,533.8 523,538.9 547,538.3" stroke="#e9442f"/>
<polyline points="428,537.4 451,539.5 475,580.0 499,528.9 523,537.5 547,538.1" stroke="#e9442f"/>
<polyline points="428,542.5 451,542.4 475,585.1 499,537.5 523,539.7 547,540.1" stroke="#e9442f"/>
<polyline points="428,536.3 451,539.9 475,585.9 499,534.3 523,539.4 547,533.7" stroke="#e9432f"/>
<polyline points="428,543.2 451,544.6 475,584.1 499,532.7 523,543.1 547,538.8" stroke="#e9432e"/>
<polyline points="428,539.8 451,548.2 475,588.0 499,540.7 523,547.5 547,546.7" stroke="#e9432e"/>
<polyline points="428,539.6 451,540.4 475,589.9 499,538.5 523,541.8 547,538.2" stroke="#e9432e"/>
<polyline points="428,543.4 451,542.3 475,586.5 499,532.8 523,548.1 547,534.4" stroke="#e9432e"/>
<polyline points="428,537.5 451,538.1 475,586.5 499,529.7 523,548.0 547,538.4" stroke="#e9432e"/>
<polyline points="428,540.6 451,543.7 475,588.1 499,531.7 523,543.8 547,539.2" stroke="#e9432e"/>
<polyline points="428,541.3 451,541.0 475,588.2 499,536.8 523,539.1 547,542.8" stroke="#e9432e"/>
<polyline points="428,544.9 451,538.6 475,589.0 499,534.6 523,546.8 547,544.0" stroke="#e9432e"/>
<polyline points="428,537.9 451,538.0 475,587.6 499,535.6 523,540.5 547,545.7" stroke="#e9432e"/>
<polyline points="428,537.0 451,540.2 475,584.6 499,536.4 523,537.7 547,536.8" stroke="#e9422e"/>
<polyline points="428,545.1 451,545.7 475,588.1 499,538.7 523,547.7 547,541.9" stroke="#e8422e"/>
<polyline points="428,538.7 451,539.4 475,580.3 499,538.3 523,539.7 547,537.7" stroke="#e8412d"/>
<polyline points="428,543.3 451,538.3 475,581.9 499,531.5 523,545.8 547,537.2" stroke="#e8402c"/>
<polyline points="428,540.5 451,546.8 475,588.6 499,542.2 523,543.7 547,537.9" stroke="#e8402c"/>
<polyline points="428,547.5 451,545.1 475,582.8 499,530.5 523,546.4 547,545.0" stroke="#e8402c"/>
<polyline points="428,543.0 451,537.0 475,586.9 499,535.5 523,539.6 547,541.2" stroke="#e73f2c"/>
<polyline points="428,548.3 451,538.4 475,587.6 499,532.2 523,544.9 547,545.9" stroke="#e73f2c"/>
<polyline points="428,538.7 451,540.6 475,588.5 499,538.7 523,542.8 547,540.4" stroke="#e73f2c"/>
<polyline points="428,543.6 451,543.1 475,587.4 499,530.0 523,549.9 547,537.9" stroke="#e63e2b"/>
<polyline points="428,536.8 451,547.8 475,589.6 499,532.2 523,540.6 547,539.3" stroke="#e63e2b"/>
<polyline points="428,539.1 451,539.5 475,587.3 499,535.9 523,540.1 547,540.5" stroke="#e63e2b"/>
<polyline points="428,544.1 451,544.8 475,588.4 499,539.8 523,546.8 547,542.2" stroke="#e63e2b"/>
<polyline points="428,541.5 451,542.4 475,587.3 499,535.5 523,540.1 547,541.5" stroke="#e53d2a"/>
<polyline points="428,539.7 451,539.6 475,589.5 499,534.0 523,546.1 547,539.8" stroke="#e53c2a"/>
<polyline points="428,545.5 451,539.7 475,585.8 499,538.9 523,540.1 547,541.2" stroke="#e43c2a"/>
<polyline points="428,547.4 451,546.4 475,589.2 499,536.0 523,543.4 547,540.7" stroke="#e43c2a"/>
<polyline points="428,537.1 451,540.5 475,585.2 499,534.3 523,539.3 547,539.3" stroke="#e43c2a"/>
<polyline points="428,539.3 451,537.4 475,584.2 499,533.2 523,541.2 547,534.0" stroke="#e43c2a"/>
<polyline points="428,540.4 451,538.5 475,586.6 499,530.9 523,540.5 547,534.6" stroke="#e23a29"/>
<polyline points="428,540.6 451,540.2 475,585.3 499,534.2 523,544.2 547,536.5" stroke="#e13929"/>
<polyline points="428,542.8 451,540.6 475,587.5 499,537.6 523,542.6 547,542.6" stroke="#e13929"/>
<polyline points="428,538.5 451,538.8 475,587.6 499,533.6 523,539.7 547,538.4" stroke="#e13829"/>
</g>
<polyline points="427.5,549.0 451.4,549.0 475.3,580.1 499.1,541.8 523.0,550.2 546.9,545.9" fill="none" stroke="#111" stroke-width="1.6" stroke-linejoin="round"/>
<line x1="422.90" y1="504.80" x2="422.90" y2="600.40" stroke="#555" stroke-width="1"/>
<line x1="418.40" y1="504.80" x2="422.90" y2="504.80" stroke="#555" stroke-width="1"/>
<text class="ns" x="407.80" y="504.80" font-size="12.5" text-anchor="middle" font-family='"Liberation Sans", sans-serif' fill="#333" transform="rotate(-90 407.80 504.80)" dy="4.4">2</text>
<line x1="418.40" y1="528.70" x2="422.90" y2="528.70" stroke="#555" stroke-width="1"/>
<text class="ns" x="407.80" y="528.70" font-size="12.5" text-anchor="middle" font-family='"Liberation Sans", sans-serif' fill="#333" transform="rotate(-90 407.80 528.70)" dy="4.4">1</text>
<line x1="418.40" y1="552.60" x2="422.90" y2="552.60" stroke="#555" stroke-width="1"/>
<text class="ns" x="407.80" y="552.60" font-size="12.5" text-anchor="middle" font-family='"Liberation Sans", sans-serif' fill="#333" transform="rotate(-90 407.80 552.60)" dy="4.4">0</text>
<line x1="418.40" y1="576.50" x2="422.90" y2="576.50" stroke="#555" stroke-width="1"/>
<text class="ns" x="407.80" y="576.50" font-size="12.5" text-anchor="middle" font-family='"Liberation Sans", sans-serif' fill="#333" transform="rotate(-90 407.80 576.50)" dy="4.4">−1</text>
<line x1="418.40" y1="600.40" x2="422.90" y2="600.40" stroke="#555" stroke-width="1"/>
<text class="ns" x="407.80" y="600.40" font-size="12.5" text-anchor="middle" font-family='"Liberation Sans", sans-serif' fill="#333" transform="rotate(-90 407.80 600.40)" dy="4.4">−2</text>
<line x1="427.50" y1="607.00" x2="546.90" y2="607.00" stroke="#555" stroke-width="1"/>
<line x1="427.50" y1="607.00" x2="427.50" y2="611.50" stroke="#555" stroke-width="1"/>
<line x1="451.38" y1="607.00" x2="451.38" y2="611.50" stroke="#555" stroke-width="1"/>
<line x1="475.26" y1="607.00" x2="475.26" y2="611.50" stroke="#555" stroke-width="1"/>
<line x1="499.14" y1="607.00" x2="499.14" y2="611.50" stroke="#555" stroke-width="1"/>
<line x1="523.02" y1="607.00" x2="523.02" y2="611.50" stroke="#555" stroke-width="1"/>
<line x1="546.90" y1="607.00" x2="546.90" y2="611.50" stroke="#555" stroke-width="1"/>
<text x="484.90" y="501.32" font-size="13.1" text-anchor="middle" font-family='"Liberation Sans", sans-serif' fill="#1a1a1a">Cluster3</text>
<text x="393.90" y="551.00" font-size="13.2" text-anchor="middle" font-family='"Liberation Sans", sans-serif' fill="#1a1a1a" transform="rotate(-90 393.90 551.00)" dy="4.75">Expression change</text>
<polygon points="597.9,549.4 609.8,559.4 621.8,536.1 633.7,541.6 645.6,517.5 657.5,526.0 669.5,508.9 681.4,524.8 693.3,515.0 705.3,519.8 717.2,504.4 717.2,570.5 705.3,557.7 693.3,586.8 681.4,564.3 669.5,580.6 657.5,561.2 645.6,573.5 633.7,573.1 621.8,594.4 609.8,589.3 597.9,599.8" fill="#fcd5c5" filter="url(#bl)"/>
<polygon points="597.9,562.8 609.8,565.8 621.8,556.8 633.7,547.4 645.6,527.3 657.5,531.0 669.5,525.5 681.4,529.8 693.3,524.9 705.3,523.7 717.2,515.2 717.2,550.8 705.3,549.6 693.3,563.4 681.4,556.8 669.5,564.0 657.5,555.0 645.6,557.4 633.7,568.9 621.8,588.1 609.8,586.3 597.9,590.0" fill="#f7a083" filter="url(#bl)"/>
<g fill="none" stroke-width="1.25" stroke-linejoin="round" stroke-opacity="0.9" filter="url(#bl)">
<polyline points="598,594.5 622,582.6 646,534.4 669,532.9 693,551.4 717,534.7" stroke="#fde0d4"/>
<polyline points="598,548.1 622,572.9 646,533.4 669,556.3 693,531.7 717,547.3" stroke="#fdded1"/>
<polyline points="598,574.7 622,578.9 646,558.3 669,523.7 693,571.5 717,522.5" stroke="#fcddcf"/>
<polyline points="598,589.5 622,579.7 646,572.8 669,560.9 693,535.8 717,550.2" stroke="#fcdacc"/>
<polyline points="598,548.7 622,582.0 646,562.4 669,526.6 693,557.0 717,527.5" stroke="#fcd8c9"/>
<polyline points="598,567.9 622,576.9 646,531.4 669,538.2 693,546.7 717,504.5" stroke="#fcd3c2"/>
<polyline points="598,550.8 622,581.7 646,527.8 669,509.9 693,515.6 717,531.7" stroke="#fcd0be"/>
<polyline points="598,587.4 622,590.0 646,547.6 669,579.6 693,515.7 717,527.2" stroke="#fcd0bd"/>
<polyline points="598,582.5 622,589.3 646,553.8 669,537.8 693,563.9 717,519.8" stroke="#fccebc"/>
<polyline points="598,578.3 622,593.7 646,571.8 669,578.9 693,554.1 717,545.4" stroke="#fbcdba"/>
<polyline points="598,568.4 622,573.2 646,540.3 669,550.8 693,523.4 717,522.9" stroke="#fbcdb9"/>
<polyline points="598,589.4 622,583.8 646,538.2 669,558.6 693,550.9 717,526.7" stroke="#fbcdb9"/>
<polyline points="598,598.6 622,559.2 646,540.0 669,557.5 693,524.5 717,535.3" stroke="#fbccb8"/>
<polyline points="598,584.4 622,548.1 646,532.4 669,552.0 693,568.4 717,513.7" stroke="#fbccb8"/>
<polyline points="598,566.6 622,587.9 646,525.1 669,567.5 693,542.3 717,563.8" stroke="#fbcbb6"/>
<polyline points="598,568.1 622,592.2 646,537.1 669,547.0 693,516.5 717,527.0" stroke="#fbcab6"/>
<polyline points="598,578.1 622,589.5 646,529.9 669,531.7 693,570.9 717,534.1" stroke="#fbc9b4"/>
<polyline points="598,582.6 622,589.7 646,545.9 669,544.3 693,535.7 717,511.1" stroke="#fbc9b4"/>
<polyline points="598,569.0 622,590.5 646,569.2 669,572.5 693,558.3 717,539.2" stroke="#fbc9b4"/>
<polyline points="598,586.2 622,561.0 646,554.7 669,556.6 693,529.2 717,516.2" stroke="#fbc8b3"/>
<polyline points="598,597.7 622,591.5 646,561.4 669,558.4 693,564.7 717,542.3" stroke="#fbc8b2"/>
<polyline points="598,597.8 622,573.7 646,557.0 669,577.2 693,546.4 717,528.2" stroke="#fbc7b2"/>
<polyline points="598,569.4 622,542.9 646,553.4 669,543.5 693,549.4 717,527.4" stroke="#fbc7b1"/>
<polyline points="598,594.0 622,588.7 646,559.7 669,575.9 693,557.6 717,522.5" stroke="#fbc7b1"/>
<polyline points="598,579.2 622,541.3 646,532.4 669,534.5 693,539.2 717,522.8" stroke="#fbc4ae"/>
<polyline points="598,586.1 622,549.9 646,535.8 669,524.4 693,531.0 717,510.3" stroke="#fbc4ae"/>
<polyline points="598,582.3 622,572.4 646,543.0 669,544.5 693,566.2 717,544.1" stroke="#fac1aa"/>
<polyline points="598,582.8 622,583.2 646,531.2 669,559.2 693,547.5 717,507.8" stroke="#fabfa7"/>
<polyline points="598,559.4 622,557.5 646,541.7 669,529.3 693,536.6 717,512.8" stroke="#fabda5"/>
<polyline points="598,582.6 622,589.6 646,551.3 669,555.3 693,578.7 717,538.8" stroke="#fabca5"/>
<polyline points="598,589.3 622,548.5 646,537.8 669,570.3 693,540.0 717,517.5" stroke="#fabba3"/>
<polyline points="598,588.4 622,582.0 646,567.4 669,556.4 693,541.5 717,533.6" stroke="#fabaa2"/>
<polyline points="598,586.2 622,586.4 646,559.3 669,549.2 693,555.3 717,516.9" stroke="#fab9a1"/>
<polyline points="598,578.5 622,570.2 646,549.1 669,551.1 693,552.7 717,541.6" stroke="#fab9a1"/>
<polyline points="598,554.7 622,564.4 646,521.4 669,550.4 693,554.8 717,540.7" stroke="#fab8a0"/>
<polyline points="598,569.6 622,559.5 646,536.2 669,549.2 693,530.0 717,556.2" stroke="#fab79e"/>
<polyline points="598,583.8 622,578.2 646,527.9 669,543.2 693,521.3 717,541.1" stroke="#fab79e"/>
<polyline points="598,570.7 622,551.2 646,543.2 669,527.5 693,545.6 717,518.7" stroke="#f9b69e"/>
<polyline points="598,571.9 622,583.8 646,554.9 669,530.8 693,531.3 717,539.2" stroke="#f9b69e"/>
<polyline points="598,576.4 622,585.3 646,530.0 669,555.0 693,535.3 717,556.5" stroke="#f9b49c"/>
<polyline points="598,555.4 622,564.2 646,528.2 669,544.2 693,519.5 717,516.9" stroke="#f9b49c"/>
<polyline points="598,584.4 622,583.1 646,546.5 669,562.8 693,545.8 717,537.5" stroke="#f9b49b"/>
<polyline points="598,571.8 622,582.2 646,566.1 669,544.9 693,555.5 717,551.5" stroke="#f9b49b"/>
<polyline points="598,563.3 622,546.0 646,549.5 669,529.4 693,519.8 717,517.8" stroke="#f9b299"/>
<polyline points="598,585.5 622,572.6 646,528.7 669,537.1 693,535.9 717,522.5" stroke="#f9b299"/>
<polyline points="598,581.5 622,559.4 646,531.8 669,524.7 693,528.0 717,514.3" stroke="#f9b299"/>
<polyline points="598,555.9 622,576.4 646,526.2 669,516.9 693,532.0 717,519.9" stroke="#f9b299"/>
<polyline points="598,585.8 622,581.9 646,565.7 669,526.0 693,545.1 717,532.2" stroke="#f9b198"/>
<polyline points="598,582.2 622,570.1 646,547.6 669,548.5 693,560.0 717,533.8" stroke="#f9b198"/>
<polyline points="598,573.2 622,586.7 646,538.2 669,536.0 693,525.2 717,548.1" stroke="#f9b096"/>
<polyline points="598,579.0 622,581.5 646,545.9 669,520.3 693,537.6 717,513.2" stroke="#f9af96"/>
<polyline points="598,581.2 622,588.1 646,533.3 669,561.1 693,524.9 717,530.3" stroke="#f9ae95"/>
<polyline points="598,588.0 622,583.9 646,541.0 669,539.7 693,530.2 717,558.7" stroke="#f9ae94"/>
<polyline points="598,585.7 622,582.1 646,549.0 669,551.3 693,551.1 717,527.9" stroke="#f9ae94"/>
<polyline points="598,582.5 622,566.5 646,536.8 669,571.5 693,534.8 717,521.7" stroke="#f9ad93"/>
<polyline points="598,565.7 622,547.6 646,528.5 669,518.1 693,520.5 717,514.3" stroke="#f9ac93"/>
<polyline points="598,589.7 622,587.1 646,522.9 669,551.7 693,561.4 717,526.7" stroke="#f9ac92"/>
<polyline points="598,587.4 622,583.9 646,531.2 669,545.8 693,525.8 717,518.1" stroke="#f9ac92"/>
<polyline points="598,591.1 622,585.9 646,546.3 669,549.9 693,541.9 717,515.5" stroke="#f9ac92"/>
<polyline points="598,568.8 622,581.3 646,557.3 669,535.8 693,534.7 717,528.5" stroke="#f8ab91"/>
<polyline points="598,570.8 622,575.5 646,536.8 669,554.7 693,539.2 717,524.1" stroke="#f8aa90"/>
<polyline points="598,582.8 622,585.3 646,559.9 669,570.6 693,550.1 717,549.9" stroke="#f8aa90"/>
<polyline points="598,567.9 622,571.0 646,533.3 669,563.3 693,523.2 717,520.0" stroke="#f8a98f"/>
<polyline points="598,560.1 622,581.2 646,537.8 669,532.1 693,529.9 717,539.0" stroke="#f8a98f"/>
<polyline points="598,568.4 622,581.6 646,547.3 669,547.2 693,534.0 717,529.5" stroke="#f8a98f"/>
<polyline points="598,569.4 622,565.7 646,535.9 669,540.9 693,572.6 717,522.9" stroke="#f8a88e"/>
<polyline points="598,586.1 622,572.5 646,539.5 669,528.6 693,527.0 717,539.5" stroke="#f8a88e"/>
<polyline points="598,575.9 622,587.8 646,539.5 669,570.3 693,522.3 717,535.2" stroke="#f8a78d"/>
<polyline points="598,581.7 622,587.0 646,540.0 669,549.2 693,547.5 717,533.9" stroke="#f8a68c"/>
<polyline points="598,570.5 622,574.5 646,543.5 669,541.3 693,541.2 717,520.1" stroke="#f8a68b"/>
<polyline points="598,563.2 622,572.5 646,558.2 669,524.8 693,536.6 717,557.7" stroke="#f8a68b"/>
<polyline points="598,582.4 622,549.7 646,530.4 669,529.3 693,521.5 717,515.5" stroke="#f8a58a"/>
<polyline points="598,567.2 622,586.3 646,531.2 669,520.4 693,542.3 717,528.6" stroke="#f8a388"/>
<polyline points="598,579.3 622,585.3 646,533.5 669,538.7 693,542.0 717,517.7" stroke="#f8a287"/>
<polyline points="598,581.4 622,570.7 646,537.5 669,556.6 693,530.5 717,523.2" stroke="#f8a186"/>
<polyline points="598,579.4 622,563.5 646,538.4 669,558.1 693,564.3 717,526.2" stroke="#f7a085"/>
<polyline points="598,587.5 622,582.4 646,549.0 669,548.5 693,556.2 717,538.0" stroke="#f7a084"/>
<polyline points="598,578.5 622,563.1 646,538.4 669,546.1 693,536.5 717,530.0" stroke="#f79f84"/>
<polyline points="598,578.4 622,586.5 646,547.7 669,542.3 693,542.4 717,523.5" stroke="#f79f83"/>
<polyline points="598,580.7 622,573.1 646,531.0 669,541.1 693,549.2 717,533.4" stroke="#f79f83"/>
<polyline points="598,584.5 622,584.4 646,557.6 669,543.5 693,539.8 717,528.1" stroke="#f79e82"/>
<polyline points="598,572.7 622,584.2 646,538.2 669,540.8 693,548.0 717,518.1" stroke="#f7977b"/>
<polyline points="598,582.1 622,570.3 646,550.8 669,549.0 693,551.7 717,525.8" stroke="#f6977b"/>
<polyline points="598,560.8 622,585.1 646,544.1 669,551.5 693,533.0 717,513.6" stroke="#f6967a"/>
<polyline points="598,576.2 622,585.1 646,544.4 669,544.5 693,540.0 717,531.0" stroke="#f69478"/>
<polyline points="598,575.2 622,578.1 646,531.4 669,534.7 693,530.7 717,527.3" stroke="#f69477"/>
<polyline points="598,578.7 622,586.5 646,527.7 669,545.3 693,536.2 717,534.8" stroke="#f69377"/>
<polyline points="598,578.0 622,586.2 646,559.5 669,543.3 693,558.8 717,523.3" stroke="#f69377"/>
<polyline points="598,591.2 622,580.6 646,535.3 669,540.8 693,542.3 717,525.6" stroke="#f69377"/>
<polyline points="598,578.9 622,581.4 646,530.4 669,542.4 693,535.1 717,539.9" stroke="#f69377"/>
<polyline points="598,586.9 622,555.3 646,529.9 669,555.6 693,527.5 717,527.1" stroke="#f69276"/>
<polyline points="598,582.3 622,554.4 646,544.8 669,531.7 693,537.2 717,521.7" stroke="#f69276"/>
<polyline points="598,585.6 622,585.9 646,539.3 669,560.5 693,558.0 717,531.5" stroke="#f68e72"/>
<polyline points="598,578.5 622,580.5 646,541.2 669,540.1 693,539.9 717,521.3" stroke="#f68e72"/>
<polyline points="598,587.0 622,588.7 646,538.2 669,537.1 693,533.0 717,543.2" stroke="#f68e72"/>
<polyline points="598,568.4 622,555.1 646,537.1 669,545.4 693,563.3 717,534.1" stroke="#f68e72"/>
<polyline points="598,570.5 622,571.6 646,531.8 669,524.8 693,530.2 717,516.7" stroke="#f68d71"/>
<polyline points="598,576.0 622,563.8 646,539.0 669,555.2 693,536.9 717,537.3" stroke="#f68d71"/>
<polyline points="598,570.7 622,574.8 646,534.8 669,541.6 693,530.7 717,541.9" stroke="#f68d71"/>
<polyline points="598,569.7 622,583.2 646,535.6 669,546.8 693,533.4 717,514.5" stroke="#f68d71"/>
<polyline points="598,587.5 622,585.9 646,533.3 669,537.9 693,564.9 717,525.9" stroke="#f58c70"/>
<polyline points="598,590.4 622,580.8 646,537.5 669,545.9 693,532.4 717,522.8" stroke="#f58a6e"/>
<polyline points="598,588.7 622,585.9 646,534.7 669,552.9 693,544.0 717,532.7" stroke="#f58a6e"/>
<polyline points="598,569.9 622,577.3 646,538.3 669,524.9 693,532.6 717,539.4" stroke="#f58a6d"/>
<polyline points="598,575.5 622,585.3 646,539.4 669,548.7 693,540.7 717,517.1" stroke="#f5896d"/>
<polyline points="598,586.4 622,585.0 646,539.1 669,542.4 693,541.5 717,536.8" stroke="#f5896c"/>
<polyline points="598,570.8 622,581.8 646,533.5 669,562.5 693,532.3 717,526.6" stroke="#f5886c"/>
<polyline points="598,582.0 622,569.2 646,536.4 669,556.4 693,541.1 717,542.4" stroke="#f5886c"/>
<polyline points="598,581.7 622,576.1 646,539.3 669,553.2 693,541.3 717,528.1" stroke="#f58467"/>
<polyline points="598,584.7 622,559.0 646,545.0 669,560.1 693,534.6 717,540.8" stroke="#f48265"/>
<polyline points="598,571.7 622,577.9 646,536.7 669,526.3 693,525.4 717,515.8" stroke="#f48164"/>
<polyline points="598,565.3 622,573.1 646,527.8 669,556.2 693,536.2 717,549.7" stroke="#f48064"/>
<polyline points="598,573.1 622,571.0 646,532.2 669,545.2 693,529.5 717,515.9" stroke="#f48063"/>
<polyline points="598,579.0 622,563.4 646,547.0 669,548.9 693,540.7 717,519.3" stroke="#f47f62"/>
<polyline points="598,577.4 622,580.0 646,532.5 669,551.1 693,535.3 717,525.9" stroke="#f47e62"/>
<polyline points="598,583.8 622,587.5 646,536.3 669,551.4 693,547.7 717,537.0" stroke="#f47e61"/>
<polyline points="598,579.3 622,567.4 646,537.8 669,562.8 693,536.2 717,533.7" stroke="#f47e61"/>
<polyline points="598,578.7 622,570.7 646,534.7 669,550.3 693,542.6 717,527.8" stroke="#f47e61"/>
<polyline points="598,580.0 622,582.8 646,536.8 669,550.9 693,561.5 717,522.9" stroke="#f47d60"/>
<polyline points="598,585.8 622,585.9 646,547.3 669,540.3 693,525.9 717,538.5" stroke="#f47c5f"/>
<polyline points="598,583.9 622,584.7 646,553.3 669,555.2 693,537.0 717,527.6" stroke="#f47a5e"/>
<polyline points="598,578.6 622,586.2 646,555.5 669,546.4 693,560.7 717,522.0" stroke="#f47a5d"/>
<polyline points="598,573.8 622,561.5 646,549.1 669,535.3 693,537.9 717,535.1" stroke="#f47a5d"/>
<polyline points="598,577.9 622,576.3 646,548.4 669,540.8 693,546.3 717,520.6" stroke="#f4795d"/>
<polyline points="598,588.6 622,564.7 646,548.7 669,553.6 693,554.9 717,541.8" stroke="#f3785b"/>
<polyline points="598,567.6 622,583.9 646,545.8 669,527.8 693,533.2 717,520.7" stroke="#f3785b"/>
<polyline points="598,571.8 622,581.0 646,538.9 669,527.9 693,530.6 717,516.8" stroke="#f3775a"/>
<polyline points="598,572.6 622,582.1 646,553.2 669,544.7 693,534.2 717,520.6" stroke="#f3775a"/>
<polyline points="598,575.2 622,570.9 646,537.3 669,541.6 693,534.5 717,522.8" stroke="#f37457"/>
<polyline points="598,572.8 622,582.4 646,542.0 669,545.0 693,539.0 717,531.2" stroke="#f37457"/>
<polyline points="598,574.5 622,574.3 646,529.1 669,532.6 693,549.4 717,517.2" stroke="#f37356"/>
<polyline points="598,578.5 622,583.2 646,542.6 669,528.7 693,556.8 717,545.9" stroke="#f37256"/>
<polyline points="598,583.3 622,583.6 646,548.0 669,542.2 693,534.5 717,526.8" stroke="#f37255"/>
<polyline points="598,580.7 622,579.0 646,534.5 669,545.2 693,536.8 717,525.0" stroke="#f37255"/>
<polyline points="598,575.0 622,583.7 646,538.6 669,560.6 693,541.1 717,530.1" stroke="#f37154"/>
<polyline points="598,580.9 622,585.2 646,549.6 669,558.8 693,534.8 717,546.5" stroke="#f37053"/>
<polyline points="598,579.4 622,582.8 646,548.5 669,542.3 693,558.1 717,536.5" stroke="#f26f52"/>
<polyline points="598,586.7 622,585.0 646,543.7 669,538.5 693,530.3 717,533.8" stroke="#f26e51"/>
<polyline points="598,566.1 622,572.7 646,533.5 669,541.1 693,539.9 717,528.5" stroke="#f26e51"/>
<polyline points="598,582.1 622,583.1 646,539.1 669,542.3 693,556.2 717,534.5" stroke="#f26e51"/>
<polyline points="598,568.7 622,583.9 646,533.1 669,539.1 693,536.6 717,520.3" stroke="#f26e51"/>
<polyline points="598,570.0 622,578.0 646,531.7 669,548.5 693,532.8 717,539.1" stroke="#f26d50"/>
<polyline points="598,568.1 622,581.3 646,537.9 669,542.5 693,545.5 717,525.9" stroke="#f26d50"/>
<polyline points="598,587.4 622,586.5 646,547.4 669,545.7 693,531.9 717,532.8" stroke="#f26b4e"/>
<polyline points="598,572.9 622,566.5 646,534.1 669,548.7 693,535.6 717,518.2" stroke="#f26a4d"/>
<polyline points="598,584.3 622,572.2 646,538.6 669,540.1 693,545.6 717,537.1" stroke="#f26a4d"/>
<polyline points="598,585.3 622,575.6 646,535.9 669,550.5 693,556.6 717,528.2" stroke="#f26a4d"/>
<polyline points="598,579.6 622,580.6 646,540.0 669,548.1 693,546.5 717,541.5" stroke="#f1674b"/>
<polyline points="598,574.4 622,563.2 646,537.7 669,537.3 693,537.7 717,529.1" stroke="#f1674b"/>
<polyline points="598,572.1 622,584.4 646,530.4 669,535.2 693,532.7 717,530.3" stroke="#f1674b"/>
<polyline points="598,581.3 622,580.5 646,539.8 669,542.6 693,535.2 717,527.5" stroke="#f1674a"/>
<polyline points="598,571.1 622,582.7 646,541.4 669,535.1 693,552.9 717,544.6" stroke="#f1674a"/>
<polyline points="598,579.4 622,583.1 646,546.3 669,544.3 693,543.1 717,536.8" stroke="#f1664a"/>
<polyline points="598,575.1 622,582.4 646,548.2 669,557.3 693,539.7 717,530.2" stroke="#f16549"/>
<polyline points="598,572.7 622,582.6 646,549.8 669,538.4 693,535.5 717,529.8" stroke="#f16549"/>
<polyline points="598,567.5 622,577.6 646,541.2 669,537.8 693,533.2 717,530.3" stroke="#f16448"/>
<polyline points="598,575.3 622,577.6 646,544.0 669,539.3 693,533.9 717,535.3" stroke="#f16448"/>
<polyline points="598,581.8 622,578.5 646,535.2 669,541.4 693,544.2 717,536.6" stroke="#f16448"/>
<polyline points="598,567.9 622,582.1 646,543.7 669,537.6 693,544.7 717,536.2" stroke="#f06348"/>
<polyline points="598,575.9 622,584.5 646,551.7 669,552.3 693,534.9 717,519.1" stroke="#f06348"/>
<polyline points="598,572.9 622,581.8 646,544.6 669,531.4 693,539.9 717,527.1" stroke="#f06348"/>
<polyline points="598,582.1 622,582.0 646,532.4 669,538.3 693,535.5 717,527.4" stroke="#f06247"/>
<polyline points="598,579.5 622,585.5 646,549.0 669,557.9 693,545.6 717,521.4" stroke="#f06247"/>
<polyline points="598,572.3 622,577.8 646,543.8 669,554.1 693,532.3 717,526.6" stroke="#f06247"/>
<polyline points="598,572.2 622,583.3 646,540.0 669,534.1 693,541.4 717,541.9" stroke="#f06146"/>
<polyline points="598,578.1 622,583.7 646,534.1 669,554.6 693,534.9 717,533.1" stroke="#f06146"/>
<polyline points="598,581.2 622,585.8 646,536.9 669,540.2 693,552.4 717,533.1" stroke="#f06146"/>
<polyline points="598,580.5 622,575.9 646,538.5 669,545.4 693,530.0 717,533.3" stroke="#f06045"/>
<polyline points="598,575.7 622,574.2 646,533.9 669,539.1 693,534.7 717,525.9" stroke="#f06045"/>
<polyline points="598,573.6 622,583.7 646,533.6 669,552.0 693,537.2 717,531.7" stroke="#ef5f45"/>
<polyline points="598,569.6 622,583.0 646,550.9 669,532.2 693,543.5 717,523.7" stroke="#ef5f44"/>
<polyline points="598,584.5 622,582.7 646,533.4 669,544.6 693,536.7 717,542.7" stroke="#ef5f44"/>
<polyline points="598,583.2 622,582.2 646,536.0 669,539.6 693,535.6 717,524.0" stroke="#ef5f44"/>
<polyline points="598,570.9 622,571.8 646,538.4 669,545.0 693,533.0 717,537.9" stroke="#ef5f44"/>
<polyline points="598,574.3 622,575.0 646,531.6 669,534.7 693,529.7 717,524.5" stroke="#ef5c42"/>
<polyline points="598,576.1 622,566.1 646,541.3 669,532.9 693,529.3 717,521.3" stroke="#ef5c42"/>
<polyline points="598,581.8 622,584.8 646,544.6 669,543.7 693,541.7 717,523.8" stroke="#ee5b41"/>
<polyline points="598,578.6 622,581.8 646,544.7 669,547.4 693,539.2 717,541.6" stroke="#ee5a40"/>
<polyline points="598,583.3 622,582.2 646,534.4 669,548.2 693,537.1 717,535.8" stroke="#ee5a40"/>
<polyline points="598,576.2 622,582.5 646,542.2 669,548.6 693,538.7 717,527.3" stroke="#ee5940"/>
<polyline points="598,581.0 622,566.7 646,539.5 669,541.0 693,550.2 717,523.6" stroke="#ee593f"/>
<polyline points="598,572.3 622,577.1 646,533.0 669,539.5 693,533.7 717,521.2" stroke="#ee583f"/>
<polyline points="598,579.3 622,581.6 646,537.7 669,545.5 693,538.3 717,529.2" stroke="#ee583f"/>
<polyline points="598,578.5 622,576.8 646,534.6 669,540.0 693,550.0 717,522.6" stroke="#ed573e"/>
<polyline points="598,575.3 622,581.1 646,544.6 669,543.8 693,535.0 717,529.8" stroke="#ed563e"/>
<polyline points="598,576.6 622,574.4 646,536.6 669,544.2 693,534.3 717,525.9" stroke="#ed563e"/>
<polyline points="598,579.4 622,578.2 646,539.8 669,537.2 693,532.9 717,531.4" stroke="#ed563e"/>
<polyline points="598,573.8 622,582.6 646,536.0 669,550.0 693,534.6 717,528.3" stroke="#ed563d"/>
<polyline points="598,576.4 622,582.0 646,537.0 669,546.5 693,546.2 717,537.4" stroke="#ed553d"/>
<polyline points="598,583.7 622,584.9 646,542.9 669,542.8 693,536.8 717,539.7" stroke="#ed553d"/>
<polyline points="598,584.1 622,579.8 646,544.9 669,543.7 693,531.3 717,525.2" stroke="#ed533b"/>
<polyline points="598,577.7 622,581.1 646,545.3 669,550.7 693,544.4 717,533.0" stroke="#ed533b"/>
<polyline points="598,574.9 622,581.6 646,542.7 669,553.0 693,547.4 717,522.6" stroke="#ed533b"/>
<polyline points="598,576.4 622,575.5 646,538.7 669,552.5 693,546.8 717,527.3" stroke="#ed533b"/>
<polyline points="598,581.8 622,573.6 646,535.6 669,541.1 693,543.5 717,533.4" stroke="#ec523a"/>
<polyline points="598,576.2 622,584.7 646,540.7 669,540.0 693,532.3 717,525.0" stroke="#ec523a"/>
<polyline points="598,574.9 622,569.5 646,532.8 669,554.8 693,543.1 717,527.4" stroke="#ec523a"/>
<polyline points="598,577.8 622,577.8 646,536.5 669,544.4 693,546.6 717,521.3" stroke="#ec523a"/>
<polyline points="598,574.4 622,581.9 646,543.6 669,552.9 693,545.1 717,522.5" stroke="#ec523a"/>
<polyline points="598,570.4 622,573.4 646,541.6 669,542.4 693,533.8 717,523.0" stroke="#ec523a"/>
<polyline points="598,579.9 622,584.6 646,537.8 669,554.0 693,549.1 717,529.0" stroke="#ec513a"/>
<polyline points="598,576.6 622,581.5 646,542.5 669,545.7 693,532.5 717,524.8" stroke="#ec5139"/>
<polyline points="598,579.7 622,575.8 646,536.6 669,546.3 693,542.1 717,533.7" stroke="#ec5038"/>
<polyline points="598,572.7 622,573.9 646,536.0 669,538.7 693,546.6 717,527.9" stroke="#ec4f38"/>
<polyline points="598,577.5 622,579.2 646,537.6 669,541.0 693,541.0 717,526.6" stroke="#eb4e37"/>
<polyline points="598,583.7 622,574.2 646,534.5 669,548.8 693,535.0 717,521.8" stroke="#eb4e37"/>
<polyline points="598,581.4 622,570.7 646,541.9 669,539.4 693,541.7 717,527.7" stroke="#eb4e37"/>
<polyline points="598,577.4 622,581.2 646,538.5 669,543.4 693,540.4 717,527.9" stroke="#eb4d37"/>
<polyline points="598,581.6 622,583.2 646,544.2 669,546.1 693,534.0 717,530.1" stroke="#eb4d36"/>
<polyline points="598,573.8 622,569.6 646,535.0 669,544.1 693,536.1 717,523.3" stroke="#eb4d36"/>
<polyline points="598,575.7 622,577.4 646,533.6 669,536.0 693,532.4 717,525.3" stroke="#eb4b35"/>
<polyline points="598,575.1 622,570.0 646,542.0 669,540.2 693,532.3 717,522.2" stroke="#eb4b35"/>
<polyline points="598,579.1 622,584.2 646,539.7 669,544.5 693,539.4 717,523.5" stroke="#eb4b35"/>
<polyline points="598,582.0 622,577.6 646,535.9 669,548.3 693,541.5 717,523.5" stroke="#eb4b34"/>
<polyline points="598,580.1 622,578.2 646,537.3 669,545.9 693,535.1 717,533.5" stroke="#eb4b34"/>
<polyline points="598,573.8 622,574.7 646,534.6 669,545.7 693,539.9 717,527.7" stroke="#ea4a34"/>
<polyline points="598,579.1 622,581.0 646,539.4 669,546.6 693,532.4 717,529.7" stroke="#ea4a34"/>
<polyline points="598,579.2 622,584.1 646,542.6 669,540.7 693,535.6 717,526.6" stroke="#ea4a34"/>
<polyline points="598,573.7 622,579.8 646,540.8 669,543.1 693,539.7 717,532.1" stroke="#ea4933"/>
<polyline points="598,572.9 622,572.4 646,534.3 669,543.3 693,535.5 717,532.2" stroke="#ea4933"/>
<polyline points="598,575.5 622,579.5 646,542.9 669,545.6 693,535.6 717,534.5" stroke="#ea4731"/>
<polyline points="598,574.8 622,580.4 646,536.1 669,537.0 693,536.7 717,523.5" stroke="#e94631"/>
<polyline points="598,573.3 622,581.5 646,535.2 669,545.5 693,535.3 717,524.7" stroke="#e94530"/>
<polyline points="598,580.1 622,581.4 646,540.0 669,541.8 693,544.9 717,533.5" stroke="#e94530"/>
<polyline points="598,577.3 622,575.5 646,536.4 669,543.6 693,531.9 717,523.0" stroke="#e94530"/>
<polyline points="598,575.6 622,577.7 646,541.5 669,543.6 693,538.6 717,526.5" stroke="#e94530"/>
<polyline points="598,582.9 622,581.3 646,538.7 669,550.3 693,543.7 717,529.5" stroke="#e9442f"/>
<polyline points="598,572.6 622,574.2 646,537.5 669,543.8 693,532.0 717,526.9" stroke="#e9442f"/>
<polyline points="598,579.6 622,583.1 646,543.7 669,552.1 693,533.9 717,532.8" stroke="#e9442f"/>
<polyline points="598,572.6 622,581.6 646,538.9 669,546.6 693,537.2 717,527.8" stroke="#e9432f"/>
<polyline points="598,580.8 622,582.1 646,534.8 669,537.6 693,536.6 717,524.4" stroke="#e9432e"/>
<polyline points="598,577.4 622,579.2 646,539.1 669,550.1 693,546.4 717,527.1" stroke="#e9432e"/>
<polyline points="598,580.3 622,579.4 646,539.9 669,544.6 693,546.4 717,529.7" stroke="#e9432e"/>
<polyline points="598,577.1 622,582.6 646,537.3 669,543.4 693,536.1 717,527.6" stroke="#e9422e"/>
<polyline points="598,577.5 622,579.3 646,534.9 669,546.2 693,538.0 717,528.6" stroke="#e8422e"/>
<polyline points="598,577.0 622,580.8 646,538.4 669,550.2 693,535.1 717,529.4" stroke="#e8412d"/>
<polyline points="598,579.5 622,577.8 646,535.7 669,544.9 693,537.7 717,525.6" stroke="#e8402c"/>
<polyline points="598,575.2 622,576.5 646,535.0 669,541.1 693,536.3 717,525.8" stroke="#e8402c"/>
<polyline points="598,576.3 622,581.4 646,539.3 669,549.1 693,536.6 717,533.8" stroke="#e8402c"/>
<polyline points="598,579.5 622,581.2 646,534.9 669,549.4 693,538.6 717,525.6" stroke="#e73f2b"/>
<polyline points="598,573.3 622,579.5 646,539.5 669,539.9 693,536.7 717,529.4" stroke="#e73f2b"/>
<polyline points="598,580.3 622,582.9 646,542.8 669,543.4 693,545.1 717,532.2" stroke="#e63e2b"/>
<polyline points="598,575.1 622,573.4 646,539.1 669,547.0 693,534.2 717,527.4" stroke="#e63d2b"/>
<polyline points="598,579.7 622,582.4 646,538.7 669,545.2 693,539.1 717,526.8" stroke="#e53d2b"/>
<polyline points="598,581.4 622,581.5 646,541.8 669,544.5 693,540.6 717,527.7" stroke="#e53d2b"/>
<polyline points="598,573.6 622,573.4 646,537.2 669,538.7 693,533.1 717,523.9" stroke="#e53d2a"/>
<polyline points="598,577.9 622,579.1 646,537.2 669,543.0 693,536.3 717,534.6" stroke="#e43c2a"/>
<polyline points="598,579.7 622,581.2 646,542.3 669,545.5 693,533.3 717,531.1" stroke="#e43c2a"/>
<polyline points="598,580.4 622,583.1 646,539.7 669,549.8 693,538.2 717,530.9" stroke="#e43b2a"/>
<polyline points="598,576.7 622,578.5 646,541.8 669,550.0 693,543.4 717,533.4" stroke="#e43b2a"/>
<polyline points="598,579.3 622,583.1 646,537.3 669,550.5 693,540.1 717,534.1" stroke="#e33b2a"/>
<polyline points="598,579.2 622,582.4 646,542.1 669,549.4 693,541.4 717,526.5" stroke="#e33b2a"/>
<polyline points="598,574.0 622,580.9 646,535.9 669,544.0 693,535.8 717,530.6" stroke="#e33b2a"/>
<polyline points="598,577.4 622,582.6 646,540.6 669,548.3 693,541.0 717,534.7" stroke="#e33b2a"/>
<polyline points="598,573.9 622,580.8 646,542.3 669,541.3 693,537.0 717,529.1" stroke="#e33b2a"/>
<polyline points="598,581.9 622,582.8 646,540.2 669,546.6 693,533.0 717,528.8" stroke="#e23a29"/>
<polyline points="598,578.0 622,581.3 646,542.2 669,548.7 693,538.3 717,528.3" stroke="#e23a29"/>
<polyline points="598,578.7 622,583.0 646,543.3 669,548.2 693,536.3 717,530.4" stroke="#e13929"/>
<polyline points="598,581.2 622,581.2 646,538.4 669,543.5 693,536.8 717,527.8" stroke="#e13929"/>
<polyline points="598,581.7 622,578.9 646,540.5 669,542.6 693,543.4 717,530.2" stroke="#e13929"/>
</g>
<polyline points="597.9,568.9 621.8,574.2 645.6,544.0 669.5,548.9 693.3,541.2 717.2,534.6" fill="none" stroke="#111" stroke-width="1.6" stroke-linejoin="round"/>
<line x1="593.50" y1="503.80" x2="593.50" y2="600.20" stroke="#555" stroke-width="1"/>
<line x1="589.00" y1="503.80" x2="593.50" y2="503.80" stroke="#555" stroke-width="1"/>
<text class="ns" x="580.40" y="503.80" font-size="12.5" text-anchor="middle" font-family='"Liberation Sans", sans-serif' fill="#333" transform="rotate(-90 580.40 503.80)" dy="4.4">2</text>
<line x1="589.00" y1="527.90" x2="593.50" y2="527.90" stroke="#555" stroke-width="1"/>
<text class="ns" x="580.40" y="527.90" font-size="12.5" text-anchor="middle" font-family='"Liberation Sans", sans-serif' fill="#333" transform="rotate(-90 580.40 527.90)" dy="4.4">1</text>
<line x1="589.00" y1="552.00" x2="593.50" y2="552.00" stroke="#555" stroke-width="1"/>
<text class="ns" x="580.40" y="552.00" font-size="12.5" text-anchor="middle" font-family='"Liberation Sans", sans-serif' fill="#333" transform="rotate(-90 580.40 552.00)" dy="4.4">0</text>
<line x1="589.00" y1="576.10" x2="593.50" y2="576.10" stroke="#555" stroke-width="1"/>
<text class="ns" x="580.40" y="576.10" font-size="12.5" text-anchor="middle" font-family='"Liberation Sans", sans-serif' fill="#333" transform="rotate(-90 580.40 576.10)" dy="4.4">−1</text>
<line x1="589.00" y1="600.20" x2="593.50" y2="600.20" stroke="#555" stroke-width="1"/>
<text class="ns" x="580.40" y="600.20" font-size="12.5" text-anchor="middle" font-family='"Liberation Sans", sans-serif' fill="#333" transform="rotate(-90 580.40 600.20)" dy="4.4">−2</text>
<line x1="597.90" y1="605.00" x2="717.20" y2="605.00" stroke="#555" stroke-width="1"/>
<line x1="597.90" y1="605.00" x2="597.90" y2="609.50" stroke="#555" stroke-width="1"/>
<line x1="621.76" y1="605.00" x2="621.76" y2="609.50" stroke="#555" stroke-width="1"/>
<line x1="645.62" y1="605.00" x2="645.62" y2="609.50" stroke="#555" stroke-width="1"/>
<line x1="669.48" y1="605.00" x2="669.48" y2="609.50" stroke="#555" stroke-width="1"/>
<line x1="693.34" y1="605.00" x2="693.34" y2="609.50" stroke="#555" stroke-width="1"/>
<line x1="717.20" y1="605.00" x2="717.20" y2="609.50" stroke="#555" stroke-width="1"/>
<text x="658.60" y="500.12" font-size="13.1" text-anchor="middle" font-family='"Liberation Sans", sans-serif' fill="#1a1a1a">Cluster4</text>
<text x="563.60" y="551.00" font-size="13.2" text-anchor="middle" font-family='"Liberation Sans", sans-serif' fill="#1a1a1a" transform="rotate(-90 563.60 551.00)" dy="4.75">Expression change</text>
<polygon points="770.0,546.9 781.9,529.8 793.9,503.1 805.8,524.2 817.8,528.7 829.7,542.7 841.6,521.9 853.6,541.5 865.5,524.2 877.5,541.8 889.4,521.9 889.4,587.2 877.5,578.3 865.5,591.7 853.6,578.0 841.6,587.1 829.7,577.4 817.8,589.5 805.8,549.3 793.9,533.5 781.9,552.1 770.0,597.5" fill="#fcd5c5" filter="url(#bl)"/>
<polygon points="770.0,556.2 781.9,531.6 793.9,503.6 805.8,527.5 817.8,545.3 829.7,549.5 841.6,541.1 853.6,548.6 865.5,542.9 877.5,549.0 889.4,541.7 889.4,576.8 877.5,574.0 865.5,579.2 853.6,573.6 841.6,576.2 829.7,573.2 817.8,578.0 805.8,544.6 793.9,519.9 781.9,546.9 770.0,583.5" fill="#f7a083" filter="url(#bl)"/>
<g fill="none" stroke-width="1.25" stroke-linejoin="round" stroke-opacity="0.9" filter="url(#bl)">
<polyline points="770,577.1 794,504.0 818,582.6 842,587.3 866,542.6 889,575.1" stroke="#fddfd2"/>
<polyline points="770,583.5 794,517.8 818,535.7 842,576.8 866,566.0 889,585.6" stroke="#fdded1"/>
<polyline points="770,558.4 794,507.7 818,536.7 842,546.0 866,568.0 889,542.8" stroke="#fcdccf"/>
<polyline points="770,599.1 794,514.5 818,554.2 842,571.7 866,554.7 889,565.6" stroke="#fcdbcd"/>
<polyline points="770,576.3 794,517.7 818,582.0 842,558.7 866,588.3 889,565.8" stroke="#fcd7c8"/>
<polyline points="770,587.2 794,513.4 818,559.6 842,564.7 866,568.4 889,559.7" stroke="#fcd7c7"/>
<polyline points="770,557.9 794,503.3 818,574.6 842,541.0 866,531.4 889,543.1" stroke="#fcd7c7"/>
<polyline points="770,580.6 794,503.5 818,537.5 842,544.8 866,533.4 889,546.5" stroke="#fcd3c2"/>
<polyline points="770,576.0 794,506.4 818,544.6 842,544.0 866,524.0 889,573.8" stroke="#fcd0be"/>
<polyline points="770,569.3 794,504.0 818,573.9 842,540.7 866,588.6 889,550.4" stroke="#fccebc"/>
<polyline points="770,572.9 794,507.5 818,567.3 842,578.8 866,571.4 889,569.4" stroke="#fbcbb7"/>
<polyline points="770,547.3 794,504.0 818,542.7 842,549.2 866,568.2 889,567.1" stroke="#fbcbb6"/>
<polyline points="770,553.8 794,503.5 818,548.9 842,548.4 866,576.2 889,566.4" stroke="#fbcab6"/>
<polyline points="770,564.2 794,504.2 818,563.2 842,584.2 866,529.2 889,558.8" stroke="#fbc6b0"/>
<polyline points="770,580.3 794,503.5 818,557.1 842,537.9 866,564.4 889,566.5" stroke="#fbc5af"/>
<polyline points="770,590.3 794,504.0 818,587.8 842,583.3 866,569.0 889,585.9" stroke="#fbc4ae"/>
<polyline points="770,556.6 794,511.2 818,556.6 842,562.5 866,561.1 889,554.7" stroke="#fac1aa"/>
<polyline points="770,559.4 794,513.8 818,531.2 842,559.4 866,563.7 889,574.9" stroke="#fac0a9"/>
<polyline points="770,554.5 794,527.7 818,577.2 842,573.4 866,575.1 889,531.6" stroke="#fabfa8"/>
<polyline points="770,579.2 794,510.0 818,570.4 842,572.8 866,566.3 889,575.5" stroke="#fabda5"/>
<polyline points="770,580.9 794,503.8 818,561.5 842,553.2 866,563.1 889,565.9" stroke="#fabca4"/>
<polyline points="770,557.6 794,515.0 818,569.0 842,534.2 866,527.9 889,552.7" stroke="#fabba4"/>
<polyline points="770,561.3 794,508.3 818,587.0 842,576.5 866,532.6 889,571.3" stroke="#fabba3"/>
<polyline points="770,550.6 794,510.7 818,563.8 842,582.0 866,535.3 889,556.9" stroke="#fab9a1"/>
<polyline points="770,580.2 794,504.1 818,560.3 842,559.9 866,568.9 889,572.7" stroke="#fab8a0"/>
<polyline points="770,550.6 794,504.1 818,577.0 842,577.4 866,555.4 889,567.9" stroke="#fab8a0"/>
<polyline points="770,581.0 794,530.4 818,583.3 842,574.4 866,584.1 889,584.8" stroke="#fab79f"/>
<polyline points="770,550.9 794,504.1 818,535.5 842,571.0 866,558.7 889,570.3" stroke="#f9b39a"/>
<polyline points="770,568.3 794,504.0 818,569.9 842,560.4 866,557.9 889,569.6" stroke="#f9b299"/>
<polyline points="770,564.3 794,504.1 818,585.2 842,566.4 866,557.6 889,554.1" stroke="#f9b198"/>
<polyline points="770,582.8 794,510.9 818,554.3 842,546.1 866,557.1 889,560.1" stroke="#f9b197"/>
<polyline points="770,579.6 794,515.2 818,580.4 842,528.4 866,575.9 889,544.0" stroke="#f9b197"/>
<polyline points="770,556.2 794,503.4 818,540.0 842,542.8 866,530.0 889,569.8" stroke="#f9af95"/>
<polyline points="770,549.8 794,503.9 818,553.9 842,542.1 866,530.1 889,559.1" stroke="#f9ae94"/>
<polyline points="770,565.4 794,528.9 818,568.6 842,578.0 866,552.9 889,550.5" stroke="#f9ad94"/>
<polyline points="770,559.1 794,503.9 818,575.7 842,568.4 866,557.3 889,576.2" stroke="#f9ad93"/>
<polyline points="770,564.5 794,518.1 818,546.9 842,561.3 866,530.5 889,565.2" stroke="#f8ac92"/>
<polyline points="770,557.7 794,514.8 818,553.2 842,569.5 866,545.6 889,570.1" stroke="#f8ab91"/>
<polyline points="770,556.0 794,503.9 818,553.7 842,528.5 866,543.0 889,576.5" stroke="#f8ab91"/>
<polyline points="770,589.0 794,526.3 818,575.4 842,555.3 866,566.4 889,555.0" stroke="#f8aa90"/>
<polyline points="770,592.4 794,515.3 818,585.1 842,574.0 866,568.3 889,564.5" stroke="#f8a98f"/>
<polyline points="770,556.1 794,503.3 818,577.6 842,556.0 866,564.8 889,546.4" stroke="#f8a88e"/>
<polyline points="770,556.8 794,504.0 818,571.6 842,566.8 866,556.4 889,575.1" stroke="#f8a88d"/>
<polyline points="770,565.6 794,518.4 818,573.2 842,579.2 866,557.6 889,582.9" stroke="#f8a78d"/>
<polyline points="770,556.5 794,511.6 818,565.5 842,557.9 866,543.1 889,568.6" stroke="#f8a78d"/>
<polyline points="770,568.2 794,503.7 818,543.2 842,550.6 866,562.4 889,548.3" stroke="#f8a78c"/>
<polyline points="770,587.8 794,522.0 818,582.6 842,565.9 866,569.4 889,583.2" stroke="#f8a78c"/>
<polyline points="770,575.0 794,511.2 818,566.2 842,582.7 866,569.4 889,572.4" stroke="#f8a58a"/>
<polyline points="770,573.5 794,513.0 818,569.1 842,566.1 866,561.7 889,566.2" stroke="#f8a489"/>
<polyline points="770,559.8 794,503.9 818,545.8 842,571.3 866,566.0 889,564.8" stroke="#f8a388"/>
<polyline points="770,564.3 794,503.9 818,544.5 842,565.1 866,564.9 889,570.8" stroke="#f8a287"/>
<polyline points="770,565.2 794,523.0 818,570.0 842,580.1 866,583.1 889,581.0" stroke="#f7a186"/>
<polyline points="770,565.1 794,513.8 818,538.2 842,541.3 866,548.3 889,550.0" stroke="#f7a084"/>
<polyline points="770,551.5 794,503.3 818,549.8 842,549.8 866,546.5 889,550.7" stroke="#f79c80"/>
<polyline points="770,558.2 794,503.3 818,556.4 842,540.9 866,541.5 889,531.8" stroke="#f79b7f"/>
<polyline points="770,560.7 794,503.9 818,557.8 842,570.4 866,542.5 889,581.9" stroke="#f79a7e"/>
<polyline points="770,567.3 794,516.3 818,570.6 842,562.0 866,574.2 889,545.3" stroke="#f7987b"/>
<polyline points="770,569.7 794,512.7 818,539.4 842,541.6 866,569.6 889,539.2" stroke="#f6977a"/>
<polyline points="770,586.7 794,508.5 818,567.6 842,580.0 866,578.1 889,581.5" stroke="#f69478"/>
<polyline points="770,572.2 794,504.1 818,575.9 842,569.6 866,568.1 889,573.8" stroke="#f69478"/>
<polyline points="770,565.5 794,509.3 818,580.2 842,573.4 866,573.9 889,539.1" stroke="#f69377"/>
<polyline points="770,564.5 794,504.1 818,537.9 842,568.6 866,569.3 889,549.1" stroke="#f69377"/>
<polyline points="770,558.0 794,504.1 818,567.8 842,537.3 866,567.7 889,556.0" stroke="#f69376"/>
<polyline points="770,567.7 794,504.1 818,560.3 842,552.1 866,566.8 889,565.7" stroke="#f69276"/>
<polyline points="770,577.0 794,523.8 818,578.3 842,573.6 866,570.7 889,557.0" stroke="#f69073"/>
<polyline points="770,553.2 794,514.1 818,563.8 842,575.2 866,565.3 889,554.2" stroke="#f69073"/>
<polyline points="770,589.4 794,512.5 818,566.9 842,564.5 866,561.2 889,562.1" stroke="#f68f73"/>
<polyline points="770,582.5 794,525.3 818,573.1 842,573.2 866,566.5 889,567.2" stroke="#f58c6f"/>
<polyline points="770,567.0 794,504.2 818,538.9 842,572.7 866,574.8 889,572.0" stroke="#f58a6e"/>
<polyline points="770,571.6 794,504.1 818,558.4 842,566.9 866,576.6 889,573.2" stroke="#f58a6d"/>
<polyline points="770,570.3 794,516.1 818,553.8 842,540.3 866,551.4 889,567.8" stroke="#f5886c"/>
<polyline points="770,566.1 794,507.7 818,571.0 842,574.1 866,554.8 889,543.5" stroke="#f5876a"/>
<polyline points="770,572.7 794,517.1 818,574.8 842,566.6 866,555.5 889,571.7" stroke="#f5866a"/>
<polyline points="770,555.8 794,505.2 818,565.8 842,578.4 866,552.3 889,563.9" stroke="#f58569"/>
<polyline points="770,573.5 794,507.9 818,578.2 842,561.7 866,562.1 889,576.4" stroke="#f58468"/>
<polyline points="770,578.9 794,515.0 818,550.8 842,539.8 866,557.8 889,567.0" stroke="#f48366"/>
<polyline points="770,581.7 794,505.2 818,553.7 842,570.8 866,571.2 889,572.8" stroke="#f48366"/>
<polyline points="770,588.0 794,514.1 818,571.2 842,561.2 866,583.3 889,567.4" stroke="#f48165"/>
<polyline points="770,562.0 794,503.8 818,559.6 842,542.8 866,537.1 889,553.5" stroke="#f48063"/>
<polyline points="770,577.8 794,503.8 818,541.0 842,557.9 866,564.9 889,569.1" stroke="#f47f63"/>
<polyline points="770,584.6 794,505.3 818,570.5 842,569.8 866,579.1 889,563.7" stroke="#f47f62"/>
<polyline points="770,558.5 794,504.1 818,561.5 842,579.5 866,552.6 889,557.5" stroke="#f47e62"/>
<polyline points="770,563.3 794,505.3 818,558.5 842,548.9 866,554.5 889,574.7" stroke="#f47e61"/>
<polyline points="770,557.3 794,504.2 818,571.1 842,571.4 866,580.0 889,567.4" stroke="#f47d60"/>
<polyline points="770,565.0 794,504.1 818,564.7 842,535.6 866,564.0 889,536.1" stroke="#f47c5f"/>
<polyline points="770,569.9 794,510.1 818,565.4 842,568.2 866,574.4 889,544.5" stroke="#f47a5e"/>
<polyline points="770,569.5 794,503.9 818,574.8 842,568.7 866,559.0 889,557.5" stroke="#f47a5d"/>
<polyline points="770,569.6 794,504.1 818,574.0 842,579.1 866,573.5 889,542.6" stroke="#f4795d"/>
<polyline points="770,561.4 794,516.8 818,557.2 842,559.7 866,551.8 889,550.5" stroke="#f4795c"/>
<polyline points="770,573.2 794,504.1 818,564.7 842,562.5 866,570.5 889,549.6" stroke="#f4795c"/>
<polyline points="770,553.8 794,503.8 818,577.3 842,562.9 866,558.2 889,565.5" stroke="#f3785c"/>
<polyline points="770,566.2 794,503.9 818,569.8 842,571.9 866,567.1 889,541.7" stroke="#f3785b"/>
<polyline points="770,571.7 794,503.8 818,559.6 842,566.0 866,560.8 889,565.4" stroke="#f3785b"/>
<polyline points="770,580.2 794,512.4 818,564.2 842,575.2 866,574.3 889,573.8" stroke="#f37457"/>
<polyline points="770,562.4 794,503.8 818,560.2 842,570.1 866,550.7 889,568.2" stroke="#f37457"/>
<polyline points="770,559.5 794,505.2 818,566.7 842,548.5 866,551.5 889,551.3" stroke="#f37356"/>
<polyline points="770,572.1 794,504.0 818,571.1 842,559.1 866,582.0 889,554.4" stroke="#f37356"/>
<polyline points="770,561.9 794,503.9 818,561.3 842,567.2 866,555.0 889,561.4" stroke="#f37053"/>
<polyline points="770,555.6 794,504.1 818,571.8 842,555.8 866,565.4 889,566.8" stroke="#f37053"/>
<polyline points="770,578.0 794,510.0 818,573.7 842,548.8 866,574.1 889,548.3" stroke="#f26f52"/>
<polyline points="770,571.0 794,505.6 818,574.7 842,577.0 866,573.8 889,572.2" stroke="#f26b4e"/>
<polyline points="770,554.8 794,503.8 818,577.0 842,568.7 866,570.2 889,549.2" stroke="#f26a4d"/>
<polyline points="770,580.7 794,506.9 818,573.6 842,560.4 866,570.8 889,564.9" stroke="#f1684b"/>
<polyline points="770,566.7 794,503.8 818,543.2 842,549.4 866,559.5 889,551.4" stroke="#f1674b"/>
<polyline points="770,568.2 794,504.0 818,563.4 842,556.4 866,566.7 889,564.4" stroke="#f1664a"/>
<polyline points="770,565.6 794,503.5 818,570.9 842,563.5 866,567.8 889,564.0" stroke="#f1664a"/>
<polyline points="770,566.4 794,504.1 818,566.9 842,549.0 866,558.3 889,560.9" stroke="#f1664a"/>
<polyline points="770,561.3 794,503.6 818,550.1 842,563.7 866,543.4 889,539.5" stroke="#f16549"/>
<polyline points="770,584.8 794,517.6 818,555.5 842,572.3 866,571.3 889,546.2" stroke="#f06347"/>
<polyline points="770,561.3 794,510.4 818,577.7 842,569.6 866,568.9 889,572.3" stroke="#f06347"/>
<polyline points="770,576.6 794,514.4 818,569.4 842,566.9 866,575.4 889,576.0" stroke="#f06247"/>
<polyline points="770,558.0 794,511.8 818,564.0 842,569.4 866,541.3 889,555.0" stroke="#f06247"/>
<polyline points="770,559.3 794,503.9 818,566.2 842,540.3 866,563.4 889,566.1" stroke="#f06247"/>
<polyline points="770,573.5 794,503.9 818,558.8 842,539.5 866,553.4 889,546.9" stroke="#f06247"/>
<polyline points="770,563.4 794,507.2 818,556.3 842,556.2 866,559.6 889,552.9" stroke="#ef5f45"/>
<polyline points="770,563.5 794,504.2 818,569.1 842,545.5 866,563.0 889,562.9" stroke="#ef5f44"/>
<polyline points="770,565.3 794,504.2 818,549.4 842,561.9 866,541.9 889,560.5" stroke="#ef5f44"/>
<polyline points="770,570.5 794,503.6 818,558.6 842,566.1 866,562.1 889,564.8" stroke="#ef5d43"/>
<polyline points="770,558.4 794,505.5 818,561.6 842,576.6 866,542.3 889,556.6" stroke="#ef5c42"/>
<polyline points="770,565.4 794,516.7 818,568.9 842,561.6 866,574.3 889,570.7" stroke="#ee5b41"/>
<polyline points="770,574.5 794,508.0 818,547.4 842,571.1 866,560.9 889,570.5" stroke="#ee5a41"/>
<polyline points="770,575.4 794,504.2 818,564.4 842,572.2 866,545.5 889,545.0" stroke="#ee5a41"/>
<polyline points="770,561.5 794,503.6 818,545.1 842,547.3 866,542.6 889,550.2" stroke="#ee5a41"/>
<polyline points="770,560.8 794,503.9 818,566.2 842,566.9 866,549.6 889,565.7" stroke="#ee5940"/>
<polyline points="770,565.1 794,519.6 818,577.8 842,566.0 866,566.5 889,565.5" stroke="#ed563d"/>
<polyline points="770,559.4 794,505.4 818,567.2 842,569.8 866,567.5 889,549.3" stroke="#ed563d"/>
<polyline points="770,568.7 794,507.7 818,554.0 842,553.8 866,563.2 889,566.9" stroke="#ed553d"/>
<polyline points="770,568.1 794,504.1 818,556.0 842,563.8 866,544.0 889,569.4" stroke="#ed543b"/>
<polyline points="770,568.2 794,504.0 818,556.7 842,551.8 866,565.6 889,567.5" stroke="#ed533b"/>
<polyline points="770,568.9 794,511.9 818,552.3 842,553.1 866,567.9 889,562.5" stroke="#ec533b"/>
<polyline points="770,564.2 794,504.0 818,555.1 842,571.4 866,548.4 889,557.4" stroke="#ec5139"/>
<polyline points="770,569.1 794,503.6 818,546.5 842,562.3 866,558.2 889,544.8" stroke="#ec5139"/>
<polyline points="770,580.2 794,503.9 818,568.9 842,564.3 866,564.3 889,543.0" stroke="#ec5139"/>
<polyline points="770,558.3 794,503.7 818,551.0 842,542.4 866,544.2 889,566.7" stroke="#ec5139"/>
<polyline points="770,575.5 794,503.7 818,566.9 842,550.9 866,570.4 889,568.9" stroke="#ec4f38"/>
<polyline points="770,581.6 794,511.0 818,561.0 842,546.6 866,562.3 889,547.8" stroke="#eb4f38"/>
<polyline points="770,565.8 794,504.1 818,575.7 842,556.8 866,568.1 889,567.3" stroke="#eb4e37"/>
<polyline points="770,561.7 794,518.6 818,570.7 842,547.2 866,575.1 889,575.7" stroke="#eb4d36"/>
<polyline points="770,568.6 794,517.9 818,571.0 842,543.8 866,572.4 889,572.7" stroke="#eb4d36"/>
<polyline points="770,558.3 794,507.7 818,563.1 842,559.0 866,562.3 889,549.3" stroke="#eb4d36"/>
<polyline points="770,576.1 794,506.6 818,556.7 842,558.3 866,557.8 889,543.8" stroke="#eb4d36"/>
<polyline points="770,560.6 794,504.0 818,547.2 842,546.7 866,552.1 889,561.1" stroke="#eb4c36"/>
<polyline points="770,573.1 794,512.6 818,547.3 842,556.8 866,568.6 889,554.8" stroke="#eb4c35"/>
<polyline points="770,568.9 794,503.9 818,559.3 842,562.1 866,548.3 889,565.7" stroke="#ea4a34"/>
<polyline points="770,569.3 794,504.1 818,551.4 842,561.0 866,561.6 889,554.7" stroke="#ea4a34"/>
<polyline points="770,574.3 794,508.5 818,571.2 842,570.6 866,572.1 889,571.8" stroke="#ea4933"/>
<polyline points="770,563.6 794,511.6 818,572.9 842,559.2 866,569.6 889,568.3" stroke="#ea4933"/>
<polyline points="770,574.7 794,504.0 818,558.8 842,559.7 866,556.0 889,557.4" stroke="#ea4933"/>
<polyline points="770,558.4 794,510.1 818,569.1 842,567.1 866,553.6 889,547.8" stroke="#ea4833"/>
<polyline points="770,564.5 794,503.8 818,563.4 842,564.0 866,560.9 889,565.3" stroke="#ea4732"/>
<polyline points="770,560.9 794,503.7 818,565.2 842,546.3 866,556.0 889,567.0" stroke="#ea4731"/>
<polyline points="770,558.6 794,503.9 818,556.9 842,544.2 866,550.3 889,553.0" stroke="#ea4731"/>
<polyline points="770,571.1 794,504.1 818,553.6 842,564.1 866,566.9 889,546.1" stroke="#ea4631"/>
<polyline points="770,574.4 794,505.8 818,565.6 842,566.6 866,569.6 889,567.7" stroke="#e94631"/>
<polyline points="770,564.2 794,503.9 818,549.1 842,569.6 866,574.4 889,562.0" stroke="#e94631"/>
<polyline points="770,575.9 794,511.7 818,568.6 842,559.8 866,561.5 889,565.3" stroke="#e94530"/>
<polyline points="770,564.4 794,512.5 818,561.9 842,566.8 866,573.0 889,572.7" stroke="#e94530"/>
<polyline points="770,571.0 794,504.1 818,562.1 842,568.7 866,554.6 889,559.5" stroke="#e94530"/>
<polyline points="770,568.4 794,504.1 818,548.5 842,561.7 866,569.8 889,560.5" stroke="#e9442f"/>
<polyline points="770,567.3 794,504.1 818,558.4 842,568.8 866,564.9 889,566.0" stroke="#e8422d"/>
<polyline points="770,571.3 794,504.1 818,557.0 842,569.5 866,573.2 889,566.1" stroke="#e73f2b"/>
<polyline points="770,563.8 794,503.8 818,558.1 842,557.9 866,563.3 889,556.2" stroke="#e63e2b"/>
<polyline points="770,564.2 794,505.7 818,568.7 842,573.5 866,553.6 889,558.6" stroke="#e63e2b"/>
<polyline points="770,565.3 794,504.0 818,565.0 842,561.4 866,566.6 889,556.4" stroke="#e33b2a"/>
<polyline points="770,576.1 794,510.7 818,567.0 842,563.9 866,568.0 889,553.5" stroke="#e23a29"/>
<polyline points="770,572.2 794,504.1 818,563.2 842,570.3 866,568.4 889,567.1" stroke="#e23a29"/>
<polyline points="770,559.0 794,508.9 818,563.4 842,562.3 866,565.6 889,564.5" stroke="#e23929"/>
<polyline points="770,568.1 794,509.2 818,560.6 842,564.1 866,565.6 889,561.2" stroke="#e03728"/>
<polyline points="770,568.7 794,504.2 818,567.7 842,556.8 866,559.5 889,566.1" stroke="#df3728"/>
<polyline points="770,570.7 794,504.1 818,568.5 842,569.4 866,570.9 889,566.5" stroke="#df3728"/>
<polyline points="770,561.3 794,503.9 818,564.7 842,571.1 866,559.4 889,570.5" stroke="#de3627"/>
<polyline points="770,577.7 794,503.9 818,567.7 842,562.2 866,565.5 889,573.3" stroke="#dd3527"/>
<polyline points="770,574.6 794,504.2 818,565.3 842,558.0 866,556.8 889,566.0" stroke="#dd3527"/>
<polyline points="770,570.3 794,515.3 818,567.5 842,557.1 866,563.8 889,568.3" stroke="#dd3527"/>
<polyline points="770,572.9 794,504.7 818,560.7 842,560.9 866,562.3 889,573.2" stroke="#dd3427"/>
<polyline points="770,569.0 794,504.1 818,561.9 842,568.4 866,563.6 889,567.8" stroke="#dc3427"/>
<polyline points="770,567.0 794,507.0 818,560.8 842,565.1 866,564.4 889,570.5" stroke="#dc3426"/>
<polyline points="770,578.5 794,504.8 818,569.8 842,561.2 866,564.4 889,568.4" stroke="#dc3326"/>
<polyline points="770,572.0 794,504.1 818,557.4 842,549.0 866,560.0 889,560.3" stroke="#db3326"/>
<polyline points="770,569.6 794,504.0 818,566.3 842,552.9 866,570.0 889,564.2" stroke="#db3226"/>
<polyline points="770,562.7 794,504.1 818,559.3 842,564.3 866,551.1 889,552.5" stroke="#da3226"/>
<polyline points="770,570.4 794,514.9 818,571.8 842,555.0 866,560.2 889,571.1" stroke="#da3225"/>
<polyline points="770,576.3 794,504.1 818,561.5 842,568.0 866,560.9 889,569.2" stroke="#da3125"/>
<polyline points="770,564.7 794,504.4 818,566.9 842,560.5 866,569.6 889,565.1" stroke="#d93125"/>
<polyline points="770,564.9 794,511.6 818,563.3 842,568.2 866,560.7 889,560.1" stroke="#d93125"/>
<polyline points="770,574.2 794,506.8 818,570.4 842,572.0 866,568.3 889,571.4" stroke="#d93025"/>
<polyline points="770,568.7 794,513.0 818,573.6 842,561.3 866,573.2 889,572.8" stroke="#d83025"/>
<polyline points="770,577.8 794,511.8 818,565.2 842,562.6 866,563.9 889,558.7" stroke="#d72e24"/>
<polyline points="770,569.4 794,509.0 818,565.9 842,564.1 866,566.1 889,564.4" stroke="#d52d23"/>
<polyline points="770,565.6 794,507.4 818,559.2 842,561.3 866,552.9 889,566.9" stroke="#d52d23"/>
<polyline points="770,566.2 794,504.1 818,561.9 842,567.3 866,560.1 889,561.8" stroke="#d52d23"/>
<polyline points="770,571.2 794,514.1 818,566.9 842,563.0 866,572.9 889,572.3" stroke="#d52c23"/>
<polyline points="770,564.8 794,504.2 818,558.9 842,559.0 866,553.5 889,565.1" stroke="#d52c23"/>
<polyline points="770,569.6 794,506.6 818,568.8 842,564.1 866,563.2 889,565.1" stroke="#d42b23"/>
<polyline points="770,566.5 794,505.4 818,565.7 842,567.5 866,566.4 889,566.5" stroke="#d42b23"/>
<polyline points="770,564.1 794,504.0 818,565.3 842,549.6 866,564.7 889,552.1" stroke="#d42b22"/>
<polyline points="770,566.2 794,503.8 818,557.6 842,566.2 866,564.1 889,561.8" stroke="#d32b22"/>
<polyline points="770,566.9 794,505.2 818,571.8 842,564.4 866,559.0 889,561.7" stroke="#d32a22"/>
<polyline points="770,564.0 794,504.0 818,572.8 842,563.2 866,570.0 889,566.0" stroke="#d22922"/>
<polyline points="770,571.9 794,505.5 818,566.6 842,571.2 866,570.8 889,566.4" stroke="#d22921"/>
<polyline points="770,573.9 794,513.6 818,568.0 842,561.0 866,570.1 889,569.2" stroke="#d12821"/>
<polyline points="770,568.7 794,508.7 818,571.0 842,571.0 866,558.8 889,571.9" stroke="#d02821"/>
<polyline points="770,567.6 794,504.1 818,566.1 842,564.6 866,568.2 889,569.3" stroke="#d02721"/>
<polyline points="770,564.2 794,504.1 818,564.7 842,565.4 866,566.4 889,557.8" stroke="#d02721"/>
<polyline points="770,567.0 794,506.5 818,562.7 842,567.9 866,566.5 889,567.5" stroke="#cf2620"/>
<polyline points="770,565.7 794,505.3 818,566.9 842,568.2 866,568.2 889,570.4" stroke="#cf2620"/>
<polyline points="770,570.1 794,504.1 818,559.6 842,570.4 866,562.4 889,562.0" stroke="#cf2620"/>
<polyline points="770,566.4 794,504.1 818,566.8 842,560.3 866,563.5 889,571.2" stroke="#cf2620"/>
<polyline points="770,571.2 794,504.2 818,568.6 842,562.6 866,563.8 889,563.0" stroke="#ce2520"/>
<polyline points="770,563.3 794,504.1 818,563.3 842,560.2 866,567.4 889,568.1" stroke="#cd241f"/>
<polyline points="770,570.3 794,512.9 818,566.5 842,563.8 866,552.6 889,568.8" stroke="#cc231f"/>
<polyline points="770,569.6 794,509.0 818,559.4 842,568.6 866,562.1 889,566.3" stroke="#cc231f"/>
<polyline points="770,563.5 794,510.5 818,565.2 842,562.3 866,568.7 889,558.0" stroke="#ca211e"/>
<polyline points="770,565.6 794,504.1 818,557.8 842,562.1 866,556.5 889,566.8" stroke="#ca211e"/>
<polyline points="770,571.2 794,504.1 818,568.2 842,567.3 866,557.2 889,570.6" stroke="#c9201d"/>
<polyline points="770,573.6 794,512.3 818,558.5 842,557.3 866,566.2 889,568.0" stroke="#c81f1d"/>
<polyline points="770,563.9 794,509.3 818,559.1 842,566.0 866,561.2 889,552.7" stroke="#c81f1d"/>
<polyline points="770,572.3 794,509.1 818,568.4 842,566.5 866,559.3 889,567.8" stroke="#c81f1d"/>
<polyline points="770,569.7 794,511.4 818,566.8 842,568.3 866,555.5 889,569.5" stroke="#c81f1d"/>
<polyline points="770,569.2 794,504.1 818,561.3 842,567.0 866,554.6 889,564.2" stroke="#c41e1c"/>
<polyline points="770,564.2 794,504.1 818,560.3 842,562.3 866,565.2 889,563.8" stroke="#c21d1c"/>
<polyline points="770,566.8 794,511.0 818,571.2 842,566.2 866,570.7 889,565.6" stroke="#c21d1c"/>
<polyline points="770,564.4 794,504.1 818,569.2 842,563.6 866,569.1 889,559.9" stroke="#c11c1b"/>
<polyline points="770,567.6 794,504.1 818,564.9 842,565.5 866,558.2 889,559.8" stroke="#c11c1b"/>
<polyline points="770,572.7 794,504.1 818,568.1 842,568.5 866,566.9 889,565.1" stroke="#c01c1b"/>
<polyline points="770,571.1 794,509.9 818,571.0 842,564.1 866,562.7 889,569.8" stroke="#bf1c1b"/>
<polyline points="770,565.5 794,504.0 818,568.7 842,562.4 866,564.0 889,565.1" stroke="#bd1b1a"/>
<polyline points="770,567.1 794,504.2 818,565.3 842,566.9 866,567.0 889,561.5" stroke="#bc1b1a"/>
<polyline points="770,565.6 794,504.9 818,570.0 842,569.3 866,561.0 889,559.4" stroke="#bc1a1a"/>
<polyline points="770,563.3 794,504.2 818,560.2 842,564.2 866,556.5 889,565.0" stroke="#ba1a1a"/>
<polyline points="770,565.9 794,504.0 818,568.4 842,553.3 866,563.2 889,568.3" stroke="#ba1a1a"/>
<polyline points="770,568.4 794,504.1 818,556.0 842,556.3 866,555.8 889,560.0" stroke="#b91a1a"/>
<polyline points="770,562.4 794,504.2 818,557.3 842,556.7 866,565.3 889,566.8" stroke="#b61919"/>
<polyline points="770,563.0 794,504.0 818,564.2 842,560.2 866,564.3 889,564.5" stroke="#b61819"/>
<polyline points="770,568.2 794,504.1 818,565.6 842,566.7 866,568.9 889,565.2" stroke="#b41819"/>
<polyline points="770,567.8 794,504.0 818,556.4 842,563.0 866,559.1 889,564.8" stroke="#b41819"/>
<polyline points="770,565.5 794,506.5 818,556.5 842,562.3 866,564.9 889,556.0" stroke="#b31718"/>
<polyline points="770,566.3 794,504.8 818,565.3 842,568.2 866,567.6 889,564.6" stroke="#b11718"/>
<polyline points="770,565.8 794,505.3 818,562.6 842,566.3 866,560.6 889,565.3" stroke="#b11718"/>
<polyline points="770,564.7 794,504.8 818,558.6 842,568.5 866,562.5 889,564.2" stroke="#ac1517"/>
<polyline points="770,571.5 794,505.5 818,566.2 842,561.9 866,564.9 889,566.0" stroke="#a71316"/>
<polyline points="770,571.8 794,504.8 818,565.6 842,564.2 866,568.6 889,561.0" stroke="#a61315"/>
<polyline points="770,565.5 794,504.8 818,565.6 842,560.2 866,559.9 889,560.3" stroke="#a51215"/>
<polyline points="770,572.9 794,504.0 818,566.1 842,568.0 866,563.3 889,561.7" stroke="#a21115"/>
<polyline points="770,572.6 794,506.3 818,566.1 842,567.7 866,567.4 889,568.2" stroke="#a11114"/>
<polyline points="770,566.6 794,504.1 818,562.8 842,559.8 866,561.3 889,561.0" stroke="#a01114"/>
<polyline points="770,570.1 794,505.5 818,565.8 842,562.2 866,563.7 889,564.5" stroke="#a01114"/>
<polyline points="770,568.1 794,508.9 818,562.2 842,564.9 866,565.8 889,564.8" stroke="#9d1013"/>
<polyline points="770,571.6 794,505.2 818,569.1 842,566.4 866,564.2 889,564.9" stroke="#9c0f13"/>
<polyline points="770,566.2 794,504.1 818,564.3 842,560.9 866,566.7 889,560.9" stroke="#9b0f13"/>
<polyline points="770,566.5 794,504.3 818,565.3 842,559.4 866,562.6 889,566.9" stroke="#9a0e13"/>
<polyline points="770,568.0 794,504.1 818,559.8 842,564.2 866,561.6 889,558.5" stroke="#990e12"/>
<polyline points="770,566.4 794,505.6 818,558.6 842,559.5 866,562.4 889,565.8" stroke="#980e12"/>
<polyline points="770,565.9 794,504.2 818,568.0 842,563.8 866,558.6 889,566.0" stroke="#960d12"/>
<polyline points="770,565.8 794,504.2 818,567.9 842,565.6 866,558.6 889,568.3" stroke="#950c11"/>
<polyline points="770,566.7 794,504.2 818,563.3 842,557.5 866,567.8 889,566.4" stroke="#940c11"/>
<polyline points="770,569.4 794,504.0 818,559.6 842,563.4 866,562.5 889,560.5" stroke="#930c11"/>
<polyline points="770,568.7 794,504.2 818,564.9 842,564.7 866,568.9 889,564.5" stroke="#910b11"/>
<polyline points="770,566.9 794,504.2 818,562.8 842,562.4 866,568.1 889,567.4" stroke="#8f0a10"/>
<polyline points="770,570.5 794,507.9 818,566.5 842,567.0 866,568.8 889,568.1" stroke="#8e0a10"/>
</g>
<polyline points="770.0,564.7 793.9,504.2 817.8,562.3 841.6,559.9 865.5,562.3 889.4,561.1" fill="none" stroke="#111" stroke-width="1.6" stroke-linejoin="round"/>
<line x1="765.40" y1="504.20" x2="765.40" y2="601.00" stroke="#555" stroke-width="1"/>
<line x1="760.90" y1="504.20" x2="765.40" y2="504.20" stroke="#555" stroke-width="1"/>
<text class="ns" x="753.30" y="504.20" font-size="12.5" text-anchor="middle" font-family='"Liberation Sans", sans-serif' fill="#333" transform="rotate(-90 753.30 504.20)" dy="4.4">2</text>
<line x1="760.90" y1="528.40" x2="765.40" y2="528.40" stroke="#555" stroke-width="1"/>
<text class="ns" x="753.30" y="528.40" font-size="12.5" text-anchor="middle" font-family='"Liberation Sans", sans-serif' fill="#333" transform="rotate(-90 753.30 528.40)" dy="4.4">1</text>
<line x1="760.90" y1="552.60" x2="765.40" y2="552.60" stroke="#555" stroke-width="1"/>
<text class="ns" x="753.30" y="552.60" font-size="12.5" text-anchor="middle" font-family='"Liberation Sans", sans-serif' fill="#333" transform="rotate(-90 753.30 552.60)" dy="4.4">0</text>
<line x1="760.90" y1="576.80" x2="765.40" y2="576.80" stroke="#555" stroke-width="1"/>
<text class="ns" x="753.30" y="576.80" font-size="12.5" text-anchor="middle" font-family='"Liberation Sans", sans-serif' fill="#333" transform="rotate(-90 753.30 576.80)" dy="4.4">−1</text>
<line x1="760.90" y1="601.00" x2="765.40" y2="601.00" stroke="#555" stroke-width="1"/>
<text class="ns" x="753.30" y="601.00" font-size="12.5" text-anchor="middle" font-family='"Liberation Sans", sans-serif' fill="#333" transform="rotate(-90 753.30 601.00)" dy="4.4">−2</text>
<line x1="770.00" y1="607.00" x2="889.40" y2="607.00" stroke="#555" stroke-width="1"/>
<line x1="770.00" y1="607.00" x2="770.00" y2="611.50" stroke="#555" stroke-width="1"/>
<line x1="793.88" y1="607.00" x2="793.88" y2="611.50" stroke="#555" stroke-width="1"/>
<line x1="817.76" y1="607.00" x2="817.76" y2="611.50" stroke="#555" stroke-width="1"/>
<line x1="841.64" y1="607.00" x2="841.64" y2="611.50" stroke="#555" stroke-width="1"/>
<line x1="865.52" y1="607.00" x2="865.52" y2="611.50" stroke="#555" stroke-width="1"/>
<line x1="889.40" y1="607.00" x2="889.40" y2="611.50" stroke="#555" stroke-width="1"/>
<text x="845.60" y="499.82" font-size="13.1" text-anchor="middle" font-family='"Liberation Sans", sans-serif' fill="#1a1a1a">Cluster5</text>
<text x="736.40" y="551.00" font-size="13.2" text-anchor="middle" font-family='"Liberation Sans", sans-serif' fill="#1a1a1a" transform="rotate(-90 736.40 551.00)" dy="4.75">Expression change</text>
<polygon points="82.0,665.7 94.0,682.9 105.9,663.3 117.9,682.6 129.9,665.6 141.8,681.0 153.8,658.6 165.8,662.0 177.8,641.9 189.7,664.9 201.7,668.0 201.7,728.7 189.7,689.0 177.8,668.7 165.8,687.4 153.8,723.9 141.8,715.0 129.9,723.9 117.9,717.2 105.9,731.0 94.0,721.1 82.0,736.9" fill="#fcd5c5" filter="url(#bl)"/>
<polygon points="82.0,684.0 94.0,690.0 105.9,682.8 117.9,689.6 129.9,683.4 141.8,688.3 153.8,679.6 165.8,666.6 177.8,645.1 189.7,668.8 201.7,685.3 201.7,717.9 189.7,685.2 177.8,659.5 165.8,684.0 153.8,714.8 141.8,711.6 129.9,714.8 117.9,713.3 105.9,719.2 94.0,716.1 82.0,722.3" fill="#f7a083" filter="url(#bl)"/>
<g fill="none" stroke-width="1.25" stroke-linejoin="round" stroke-opacity="0.9" filter="url(#bl)">
<polyline points="82,735.0 106,701.3 130,721.0 154,665.7 178,655.1 202,719.2" stroke="#fde0d4"/>
<polyline points="82,722.0 106,685.2 130,696.4 154,706.2 178,662.5 202,719.9" stroke="#fde0d3"/>
<polyline points="82,729.3 106,692.1 130,705.0 154,714.7 178,657.4 202,705.4" stroke="#fddfd3"/>
<polyline points="82,712.7 106,702.9 130,715.2 154,702.6 178,648.3 202,692.2" stroke="#fcdbcd"/>
<polyline points="82,695.8 106,674.1 130,686.8 154,669.0 178,644.0 202,715.9" stroke="#fcd8c9"/>
<polyline points="82,703.6 106,690.0 130,669.3 154,709.3 178,645.8 202,702.9" stroke="#fcd8c8"/>
<polyline points="82,710.3 106,709.8 130,696.1 154,713.9 178,651.1 202,721.6" stroke="#fcd7c8"/>
<polyline points="82,698.6 106,684.9 130,697.8 154,694.6 178,649.9 202,722.5" stroke="#fcd7c7"/>
<polyline points="82,714.2 106,678.9 130,677.7 154,712.4 178,647.4 202,706.0" stroke="#fcd3c2"/>
<polyline points="82,682.6 106,691.2 130,678.9 154,702.7 178,645.9 202,680.0" stroke="#fcd3c2"/>
<polyline points="82,686.0 106,721.7 130,687.9 154,712.0 178,655.5 202,711.5" stroke="#fcd2c0"/>
<polyline points="82,712.4 106,707.3 130,712.9 154,662.0 178,655.8 202,693.4" stroke="#fccfbd"/>
<polyline points="82,717.7 106,718.3 130,723.9 154,698.5 178,655.4 202,702.9" stroke="#fccfbd"/>
<polyline points="82,684.1 106,663.6 130,680.4 154,693.8 178,668.6 202,706.0" stroke="#fccfbc"/>
<polyline points="82,670.6 106,708.6 130,716.3 154,713.4 178,655.5 202,708.2" stroke="#fbcbb7"/>
<polyline points="82,671.1 106,692.4 130,691.5 154,697.4 178,644.5 202,682.2" stroke="#fbc6b0"/>
<polyline points="82,709.4 106,674.4 130,714.1 154,684.5 178,643.9 202,685.7" stroke="#fbc6b0"/>
<polyline points="82,714.1 106,729.6 130,702.2 154,706.2 178,654.0 202,673.2" stroke="#fbc6b0"/>
<polyline points="82,735.0 106,706.6 130,667.8 154,661.2 178,644.2 202,706.0" stroke="#fbc5af"/>
<polyline points="82,688.2 106,684.7 130,691.2 154,707.9 178,644.7 202,686.7" stroke="#fbc3ad"/>
<polyline points="82,675.0 106,678.0 130,722.6 154,677.4 178,651.2 202,696.2" stroke="#fbc3ac"/>
<polyline points="82,707.6 106,713.5 130,706.1 154,706.3 178,647.5 202,716.4" stroke="#fbc1ab"/>
<polyline points="82,690.7 106,700.9 130,711.7 154,713.9 178,649.3 202,711.1" stroke="#fac0aa"/>
<polyline points="82,712.5 106,716.3 130,717.8 154,711.1 178,656.5 202,709.9" stroke="#fac0a9"/>
<polyline points="82,699.7 106,701.8 130,714.3 154,709.9 178,653.6 202,710.3" stroke="#fac0a9"/>
<polyline points="82,734.1 106,687.0 130,721.9 154,722.2 178,652.1 202,712.5" stroke="#fabea7"/>
<polyline points="82,708.0 106,667.2 130,669.1 154,683.2 178,643.5 202,671.4" stroke="#fabda6"/>
<polyline points="82,712.7 106,720.3 130,722.1 154,707.3 178,652.4 202,708.6" stroke="#fabda6"/>
<polyline points="82,710.1 106,711.6 130,672.1 154,694.5 178,645.2 202,703.3" stroke="#fabda5"/>
<polyline points="82,694.6 106,725.2 130,712.5 154,708.8 178,647.2 202,696.2" stroke="#fabda5"/>
<polyline points="82,708.9 106,710.4 130,699.5 154,701.7 178,650.5 202,671.8" stroke="#fabaa3"/>
<polyline points="82,712.0 106,725.2 130,704.5 154,704.8 178,648.2 202,708.8" stroke="#fabaa2"/>
<polyline points="82,701.0 106,718.4 130,714.2 154,690.2 178,646.0 202,701.9" stroke="#fab8a0"/>
<polyline points="82,710.1 106,706.9 130,670.1 154,706.6 178,654.9 202,717.9" stroke="#fab79f"/>
<polyline points="82,712.5 106,723.5 130,716.6 154,705.3 178,650.8 202,703.9" stroke="#f9b69e"/>
<polyline points="82,682.6 106,707.2 130,708.3 154,710.3 178,659.5 202,691.5" stroke="#f9b59c"/>
<polyline points="82,703.6 106,708.1 130,683.2 154,712.9 178,657.0 202,722.2" stroke="#f9b49c"/>
<polyline points="82,707.7 106,717.8 130,670.6 154,665.7 178,648.2 202,704.6" stroke="#f9b49b"/>
<polyline points="82,732.5 106,695.9 130,705.7 154,675.3 178,647.1 202,695.6" stroke="#f9b299"/>
<polyline points="82,717.6 106,710.2 130,692.6 154,698.5 178,655.1 202,725.4" stroke="#f9b198"/>
<polyline points="82,704.7 106,720.0 130,686.1 154,686.2 178,646.9 202,705.9" stroke="#f9b097"/>
<polyline points="82,689.5 106,695.3 130,683.6 154,688.8 178,648.2 202,700.3" stroke="#f9b096"/>
<polyline points="82,688.0 106,670.1 130,696.2 154,696.6 178,647.2 202,699.7" stroke="#f9ad93"/>
<polyline points="82,692.6 106,717.9 130,713.7 154,709.3 178,661.5 202,687.4" stroke="#f9ad93"/>
<polyline points="82,676.8 106,684.7 130,672.0 154,666.4 178,644.7 202,697.6" stroke="#f8ac92"/>
<polyline points="82,713.6 106,695.1 130,713.1 154,711.2 178,647.6 202,711.1" stroke="#f8ab91"/>
<polyline points="82,692.2 106,670.9 130,672.8 154,706.4 178,647.1 202,718.9" stroke="#f8a98f"/>
<polyline points="82,721.5 106,678.5 130,716.1 154,675.4 178,645.3 202,698.0" stroke="#f8a98f"/>
<polyline points="82,673.0 106,684.6 130,692.4 154,687.5 178,653.7 202,713.5" stroke="#f8a88e"/>
<polyline points="82,716.1 106,717.1 130,707.3 154,702.5 178,648.1 202,709.9" stroke="#f8a88d"/>
<polyline points="82,724.7 106,692.3 130,706.7 154,688.2 178,650.4 202,708.6" stroke="#f8a48a"/>
<polyline points="82,707.0 106,688.3 130,716.2 154,682.7 178,651.6 202,706.8" stroke="#f8a489"/>
<polyline points="82,720.0 106,707.1 130,706.5 154,708.4 178,648.8 202,718.2" stroke="#f8a286"/>
<polyline points="82,711.1 106,712.9 130,709.5 154,705.0 178,646.1 202,706.9" stroke="#f7a085"/>
<polyline points="82,708.8 106,725.2 130,719.3 154,707.3 178,664.1 202,703.7" stroke="#f79f84"/>
<polyline points="82,692.5 106,688.2 130,698.8 154,701.6 178,646.8 202,683.2" stroke="#f79f84"/>
<polyline points="82,692.9 106,706.0 130,682.6 154,718.7 178,648.6 202,698.4" stroke="#f79f84"/>
<polyline points="82,723.0 106,715.6 130,690.1 154,716.5 178,664.2 202,715.1" stroke="#f79f84"/>
<polyline points="82,702.3 106,704.2 130,692.0 154,690.1 178,652.0 202,687.3" stroke="#f79e83"/>
<polyline points="82,698.9 106,674.7 130,705.1 154,696.0 178,647.7 202,676.8" stroke="#f79d82"/>
<polyline points="82,719.5 106,708.0 130,710.9 154,686.8 178,656.0 202,710.3" stroke="#f79d81"/>
<polyline points="82,703.5 106,718.4 130,716.8 154,716.4 178,653.1 202,694.2" stroke="#f79c80"/>
<polyline points="82,719.6 106,711.6 130,702.3 154,703.7 178,655.8 202,719.1" stroke="#f79b7f"/>
<polyline points="82,697.2 106,718.9 130,681.7 154,705.4 178,661.9 202,703.8" stroke="#f79b7f"/>
<polyline points="82,709.8 106,710.7 130,703.3 154,699.5 178,646.3 202,710.5" stroke="#f7997d"/>
<polyline points="82,717.0 106,705.4 130,701.6 154,670.1 178,655.0 202,709.7" stroke="#f7997d"/>
<polyline points="82,725.0 106,717.5 130,688.8 154,706.3 178,651.8 202,718.0" stroke="#f7997d"/>
<polyline points="82,717.0 106,706.8 130,677.7 154,694.4 178,650.1 202,688.7" stroke="#f7987b"/>
<polyline points="82,705.0 106,688.9 130,694.5 154,709.7 178,648.2 202,697.9" stroke="#f6967a"/>
<polyline points="82,719.1 106,724.1 130,691.6 154,707.9 178,645.7 202,720.9" stroke="#f69377"/>
<polyline points="82,702.9 106,697.6 130,695.1 154,704.6 178,651.1 202,697.7" stroke="#f69276"/>
<polyline points="82,710.5 106,696.6 130,703.7 154,689.9 178,652.0 202,698.5" stroke="#f69276"/>
<polyline points="82,723.1 106,718.1 130,711.7 154,712.9 178,648.7 202,719.9" stroke="#f69174"/>
<polyline points="82,712.0 106,708.3 130,707.0 154,710.9 178,646.6 202,703.7" stroke="#f69074"/>
<polyline points="82,690.4 106,713.9 130,676.9 154,694.4 178,649.2 202,713.0" stroke="#f58c70"/>
<polyline points="82,677.5 106,713.3 130,695.9 154,711.1 178,651.8 202,687.7" stroke="#f58b6f"/>
<polyline points="82,714.0 106,700.1 130,710.7 154,686.9 178,660.5 202,687.2" stroke="#f58a6e"/>
<polyline points="82,701.2 106,706.5 130,687.9 154,710.7 178,647.3 202,698.2" stroke="#f5896d"/>
<polyline points="82,695.1 106,721.5 130,712.8 154,707.6 178,661.2 202,708.8" stroke="#f5886c"/>
<polyline points="82,683.6 106,701.6 130,678.6 154,707.1 178,645.1 202,708.8" stroke="#f5876a"/>
<polyline points="82,721.7 106,695.1 130,717.7 154,707.7 178,649.9 202,715.5" stroke="#f5876a"/>
<polyline points="82,706.6 106,676.6 130,702.9 154,710.3 178,647.9 202,699.2" stroke="#f58669"/>
<polyline points="82,725.9 106,718.9 130,706.4 154,714.2 178,649.2 202,707.4" stroke="#f58569"/>
<polyline points="82,726.9 106,722.9 130,712.2 154,706.9 178,662.4 202,706.5" stroke="#f58569"/>
<polyline points="82,714.4 106,693.5 130,696.9 154,688.2 178,659.3 202,699.3" stroke="#f58468"/>
<polyline points="82,703.0 106,710.0 130,698.0 154,714.1 178,646.8 202,707.6" stroke="#f58467"/>
<polyline points="82,694.4 106,698.6 130,709.7 154,712.8 178,647.9 202,695.8" stroke="#f48265"/>
<polyline points="82,719.7 106,722.5 130,714.1 154,700.0 178,655.3 202,714.0" stroke="#f48164"/>
<polyline points="82,699.7 106,717.9 130,690.7 154,695.0 178,655.9 202,706.3" stroke="#f48063"/>
<polyline points="82,714.6 106,709.4 130,708.2 154,705.9 178,650.3 202,689.7" stroke="#f47f63"/>
<polyline points="82,708.7 106,704.9 130,717.2 154,707.6 178,656.8 202,706.8" stroke="#f47e62"/>
<polyline points="82,703.7 106,681.6 130,680.8 154,686.9 178,648.3 202,684.7" stroke="#f47e61"/>
<polyline points="82,700.1 106,709.9 130,695.9 154,701.0 178,646.9 202,701.1" stroke="#f47c60"/>
<polyline points="82,717.5 106,718.6 130,695.7 154,712.9 178,655.1 202,700.5" stroke="#f3785c"/>
<polyline points="82,712.7 106,715.1 130,710.6 154,688.7 178,653.6 202,711.8" stroke="#f3785c"/>
<polyline points="82,700.9 106,707.2 130,693.8 154,707.9 178,651.3 202,695.8" stroke="#f3785b"/>
<polyline points="82,703.6 106,694.7 130,696.7 154,675.3 178,645.3 202,718.3" stroke="#f3775a"/>
<polyline points="82,680.3 106,695.9 130,691.4 154,696.9 178,648.4 202,681.7" stroke="#f3765a"/>
<polyline points="82,701.1 106,703.6 130,686.8 154,704.7 178,650.1 202,692.0" stroke="#f37659"/>
<polyline points="82,707.4 106,702.2 130,686.1 154,701.6 178,646.9 202,694.7" stroke="#f37558"/>
<polyline points="82,705.4 106,685.8 130,695.4 154,694.4 178,647.4 202,706.7" stroke="#f37457"/>
<polyline points="82,718.6 106,704.7 130,716.3 154,683.9 178,647.7 202,701.6" stroke="#f37154"/>
<polyline points="82,694.5 106,679.7 130,702.7 154,703.4 178,644.6 202,691.2" stroke="#f37053"/>
<polyline points="82,683.7 106,692.8 130,702.6 154,690.1 178,645.2 202,688.5" stroke="#f37053"/>
<polyline points="82,708.6 106,708.5 130,709.0 154,704.2 178,648.4 202,717.2" stroke="#f26a4d"/>
<polyline points="82,692.4 106,680.7 130,706.5 154,691.7 178,656.2 202,684.2" stroke="#f26a4d"/>
<polyline points="82,684.2 106,705.5 130,703.2 154,693.3 178,649.6 202,703.6" stroke="#f16549"/>
<polyline points="82,707.0 106,702.8 130,703.1 154,693.8 178,647.9 202,699.7" stroke="#f16549"/>
<polyline points="82,697.0 106,696.3 130,690.9 154,709.7 178,646.4 202,705.1" stroke="#f16448"/>
<polyline points="82,709.3 106,695.8 130,709.4 154,709.8 178,647.1 202,713.9" stroke="#f06348"/>
<polyline points="82,704.6 106,705.2 130,699.4 154,708.0 178,653.9 202,706.9" stroke="#f06045"/>
<polyline points="82,705.6 106,712.4 130,696.3 154,704.6 178,645.1 202,707.1" stroke="#ef5f45"/>
<polyline points="82,700.9 106,702.4 130,684.6 154,701.1 178,650.1 202,716.9" stroke="#ef5f45"/>
<polyline points="82,706.4 106,706.3 130,707.9 154,699.1 178,648.9 202,706.9" stroke="#ef5f45"/>
<polyline points="82,717.5 106,706.1 130,707.7 154,711.0 178,657.6 202,700.3" stroke="#ef5f45"/>
<polyline points="82,713.2 106,711.8 130,705.0 154,694.4 178,647.9 202,702.2" stroke="#ef5f44"/>
<polyline points="82,690.6 106,694.5 130,710.1 154,704.8 178,650.7 202,709.8" stroke="#ef5e44"/>
<polyline points="82,716.4 106,713.7 130,710.0 154,714.8 178,659.5 202,717.9" stroke="#ef5e44"/>
<polyline points="82,689.3 106,692.3 130,683.4 154,679.6 178,648.0 202,702.0" stroke="#ef5e43"/>
<polyline points="82,708.8 106,711.2 130,706.7 154,706.6 178,651.6 202,708.8" stroke="#ef5d43"/>
<polyline points="82,718.7 106,693.8 130,702.7 154,700.7 178,648.7 202,702.4" stroke="#ef5d43"/>
<polyline points="82,722.0 106,703.2 130,705.0 154,706.5 178,655.1 202,703.8" stroke="#ef5c42"/>
<polyline points="82,707.6 106,710.1 130,707.5 154,689.5 178,650.9 202,701.8" stroke="#ef5c42"/>
<polyline points="82,708.2 106,718.8 130,710.1 154,701.3 178,655.5 202,710.9" stroke="#ee5b41"/>
<polyline points="82,697.2 106,713.3 130,683.9 154,709.7 178,654.7 202,709.0" stroke="#ee5b41"/>
<polyline points="82,701.0 106,702.7 130,714.3 154,704.8 178,659.1 202,713.4" stroke="#ee583f"/>
<polyline points="82,703.9 106,706.1 130,707.3 154,708.1 178,652.4 202,686.4" stroke="#ed573e"/>
<polyline points="82,706.0 106,712.2 130,705.3 154,704.2 178,647.9 202,692.5" stroke="#ed573e"/>
<polyline points="82,703.5 106,698.0 130,704.9 154,703.4 178,658.0 202,711.2" stroke="#ed563e"/>
<polyline points="82,698.2 106,706.0 130,705.4 154,695.3 178,654.7 202,715.2" stroke="#ed563e"/>
<polyline points="82,696.9 106,707.2 130,684.8 154,705.6 178,647.5 202,696.3" stroke="#ed563d"/>
<polyline points="82,696.4 106,712.5 130,700.6 154,714.1 178,649.6 202,712.5" stroke="#ed563d"/>
<polyline points="82,692.9 106,708.4 130,704.9 154,710.3 178,656.0 202,697.8" stroke="#ed553d"/>
<polyline points="82,693.9 106,691.9 130,692.6 154,705.1 178,651.4 202,712.5" stroke="#ed543c"/>
<polyline points="82,694.8 106,716.7 130,700.1 154,697.8 178,648.7 202,700.2" stroke="#ec533b"/>
<polyline points="82,702.0 106,708.5 130,685.4 154,704.9 178,649.6 202,710.2" stroke="#ec523a"/>
<polyline points="82,697.2 106,713.9 130,713.5 154,707.9 178,652.2 202,707.1" stroke="#ec4f38"/>
<polyline points="82,692.2 106,702.9 130,695.1 154,706.6 178,646.3 202,704.7" stroke="#eb4c35"/>
<polyline points="82,700.5 106,686.3 130,696.3 154,701.7 178,652.2 202,698.1" stroke="#eb4b34"/>
<polyline points="82,717.7 106,697.9 130,702.1 154,704.6 178,648.7 202,709.5" stroke="#ea4933"/>
<polyline points="82,693.7 106,705.2 130,689.3 154,685.5 178,647.5 202,697.0" stroke="#ea4933"/>
<polyline points="82,712.0 106,699.9 130,693.6 154,707.6 178,648.0 202,701.1" stroke="#ea4933"/>
<polyline points="82,707.9 106,693.0 130,699.9 154,703.0 178,651.8 202,705.5" stroke="#ea4833"/>
<polyline points="82,694.9 106,698.6 130,699.7 154,699.2 178,647.1 202,709.6" stroke="#ea4732"/>
<polyline points="82,699.3 106,698.3 130,709.7 154,695.7 178,648.4 202,694.5" stroke="#ea4731"/>
<polyline points="82,702.8 106,700.5 130,691.0 154,698.6 178,657.5 202,709.9" stroke="#ea4731"/>
<polyline points="82,706.5 106,691.8 130,701.9 154,708.5 178,646.0 202,702.2" stroke="#e94530"/>
<polyline points="82,695.5 106,697.1 130,705.2 154,705.1 178,653.6 202,713.3" stroke="#e94530"/>
<polyline points="82,715.2 106,710.5 130,707.4 154,694.5 178,654.2 202,711.5" stroke="#e94530"/>
<polyline points="82,705.5 106,712.0 130,698.7 154,696.7 178,649.3 202,704.6" stroke="#e9442f"/>
<polyline points="82,707.6 106,710.6 130,709.9 154,705.2 178,657.3 202,701.9" stroke="#e9442f"/>
<polyline points="82,706.2 106,708.9 130,695.7 154,692.8 178,657.3 202,701.4" stroke="#e9442f"/>
<polyline points="82,694.4 106,694.4 130,695.6 154,705.2 178,650.9 202,703.2" stroke="#e9422e"/>
<polyline points="82,701.3 106,708.6 130,703.4 154,693.4 178,647.3 202,713.1" stroke="#e8412d"/>
<polyline points="82,702.5 106,703.5 130,706.2 154,704.7 178,656.3 202,690.1" stroke="#e8402c"/>
<polyline points="82,689.4 106,702.1 130,697.9 154,700.2 178,648.7 202,695.8" stroke="#e8402c"/>
<polyline points="82,709.8 106,706.1 130,702.3 154,706.5 178,655.2 202,709.7" stroke="#e8402c"/>
<polyline points="82,714.0 106,708.5 130,707.5 154,703.8 178,647.0 202,693.9" stroke="#e73f2c"/>
<polyline points="82,713.4 106,700.6 130,702.2 154,693.6 178,655.6 202,693.0" stroke="#e73f2c"/>
<polyline points="82,715.0 106,714.6 130,705.7 154,704.2 178,650.3 202,712.3" stroke="#e73f2c"/>
<polyline points="82,701.6 106,688.5 130,688.7 154,688.4 178,651.3 202,698.0" stroke="#e73f2c"/>
<polyline points="82,704.1 106,709.0 130,711.1 154,704.2 178,651.4 202,707.0" stroke="#e73f2b"/>
<polyline points="82,705.4 106,708.4 130,704.0 154,697.0 178,650.3 202,708.0" stroke="#e63e2b"/>
<polyline points="82,705.5 106,695.3 130,705.9 154,688.8 178,647.1 202,696.0" stroke="#e63e2b"/>
<polyline points="82,708.4 106,705.7 130,702.8 154,707.6 178,648.5 202,706.6" stroke="#e63e2b"/>
<polyline points="82,693.1 106,708.1 130,705.5 154,690.5 178,655.7 202,693.4" stroke="#e53d2b"/>
<polyline points="82,702.1 106,691.7 130,704.1 154,698.6 178,649.1 202,697.0" stroke="#e53d2a"/>
<polyline points="82,707.5 106,702.2 130,695.1 154,706.9 178,655.3 202,706.2" stroke="#e53c2a"/>
<polyline points="82,693.6 106,699.6 130,700.9 154,700.7 178,647.8 202,699.2" stroke="#e43c2a"/>
<polyline points="82,705.1 106,703.2 130,708.0 154,690.8 178,649.2 202,705.1" stroke="#e43b2a"/>
<polyline points="82,703.8 106,703.8 130,689.7 154,709.5 178,649.1 202,708.4" stroke="#e33b2a"/>
<polyline points="82,702.2 106,703.1 130,703.9 154,705.9 178,647.9 202,700.8" stroke="#e33b2a"/>
<polyline points="82,695.0 106,714.8 130,707.2 154,704.1 178,653.8 202,693.3" stroke="#e13829"/>
<polyline points="82,716.5 106,700.5 130,707.5 154,707.7 178,647.0 202,695.2" stroke="#e03728"/>
<polyline points="82,707.1 106,702.5 130,701.2 154,708.5 178,652.1 202,700.5" stroke="#df3728"/>
<polyline points="82,698.7 106,701.9 130,691.8 154,702.5 178,655.5 202,704.2" stroke="#df3728"/>
<polyline points="82,703.6 106,700.8 130,695.1 154,697.2 178,648.4 202,707.2" stroke="#df3628"/>
<polyline points="82,697.0 106,698.1 130,705.8 154,693.8 178,647.6 202,698.4" stroke="#de3628"/>
<polyline points="82,713.8 106,714.4 130,703.5 154,699.0 178,654.7 202,694.0" stroke="#de3527"/>
<polyline points="82,710.8 106,711.6 130,709.8 154,711.1 178,652.5 202,708.9" stroke="#de3527"/>
<polyline points="82,703.2 106,708.1 130,698.1 154,705.6 178,647.3 202,708.6" stroke="#dd3527"/>
<polyline points="82,713.7 106,690.7 130,698.0 154,704.0 178,647.0 202,712.3" stroke="#dd3427"/>
<polyline points="82,704.0 106,707.1 130,705.5 154,699.7 178,648.4 202,703.2" stroke="#dd3427"/>
<polyline points="82,706.9 106,696.0 130,708.0 154,706.5 178,648.5 202,704.5" stroke="#dc3426"/>
<polyline points="82,693.0 106,698.9 130,704.4 154,700.3 178,648.1 202,692.5" stroke="#dc3326"/>
<polyline points="82,707.6 106,713.8 130,696.1 154,704.6 178,649.1 202,707.1" stroke="#db3326"/>
<polyline points="82,704.5 106,703.3 130,695.1 154,706.8 178,649.8 202,692.8" stroke="#da3225"/>
<polyline points="82,707.6 106,711.4 130,702.2 154,709.2 178,648.0 202,706.8" stroke="#da3225"/>
<polyline points="82,699.7 106,713.7 130,698.6 154,703.3 178,651.3 202,707.5" stroke="#d83025"/>
<polyline points="82,706.0 106,706.7 130,699.8 154,689.5 178,649.3 202,707.5" stroke="#d72e24"/>
<polyline points="82,702.0 106,703.2 130,698.1 154,704.1 178,649.1 202,708.8" stroke="#d62e24"/>
<polyline points="82,710.9 106,704.3 130,707.3 154,703.5 178,647.6 202,694.9" stroke="#d52c23"/>
<polyline points="82,698.3 106,704.6 130,698.8 154,699.9 178,653.3 202,703.2" stroke="#d42c23"/>
<polyline points="82,703.1 106,706.1 130,707.1 154,697.8 178,649.7 202,706.2" stroke="#d42b23"/>
<polyline points="82,705.9 106,704.9 130,704.3 154,703.3 178,648.5 202,707.4" stroke="#d32b22"/>
<polyline points="82,713.4 106,708.4 130,708.5 154,710.1 178,650.3 202,708.2" stroke="#d32a22"/>
<polyline points="82,712.5 106,695.0 130,705.0 154,708.8 178,649.8 202,706.2" stroke="#d22921"/>
<polyline points="82,703.1 106,707.3 130,705.3 154,704.1 178,649.3 202,708.5" stroke="#d12821"/>
<polyline points="82,705.4 106,694.4 130,697.9 154,699.9 178,649.3 202,707.6" stroke="#d12821"/>
<polyline points="82,706.1 106,706.3 130,698.4 154,691.0 178,651.0 202,705.7" stroke="#d02821"/>
<polyline points="82,704.3 106,706.0 130,701.6 154,706.4 178,648.2 202,701.8" stroke="#d02721"/>
<polyline points="82,708.6 106,697.8 130,705.8 154,708.2 178,654.3 202,708.1" stroke="#ce2620"/>
<polyline points="82,710.2 106,705.7 130,694.9 154,704.7 178,653.9 202,709.4" stroke="#ce2520"/>
<polyline points="82,697.2 106,710.9 130,698.7 154,701.4 178,648.0 202,705.6" stroke="#cd241f"/>
<polyline points="82,701.4 106,701.4 130,704.9 154,704.3 178,650.3 202,700.4" stroke="#cd241f"/>
<polyline points="82,708.6 106,704.0 130,702.7 154,705.0 178,650.7 202,703.8" stroke="#cb221f"/>
<polyline points="82,702.5 106,708.1 130,700.4 154,700.8 178,649.8 202,706.7" stroke="#ca211e"/>
<polyline points="82,700.3 106,695.2 130,706.0 154,707.4 178,648.3 202,707.6" stroke="#ca211e"/>
<polyline points="82,704.3 106,709.5 130,694.3 154,692.7 178,648.7 202,706.7" stroke="#ca211e"/>
<polyline points="82,708.0 106,708.6 130,698.5 154,706.0 178,651.7 202,706.2" stroke="#c9201e"/>
<polyline points="82,702.1 106,694.8 130,705.3 154,705.7 178,649.3 202,702.3" stroke="#c9201d"/>
<polyline points="82,712.8 106,702.5 130,701.2 154,704.6 178,649.2 202,703.1" stroke="#c81f1d"/>
<polyline points="82,708.7 106,706.9 130,706.7 154,701.5 178,653.7 202,709.0" stroke="#c61e1d"/>
<polyline points="82,699.3 106,702.9 130,699.0 154,704.0 178,648.1 202,698.4" stroke="#c61e1c"/>
<polyline points="82,712.9 106,706.3 130,707.8 154,702.8 178,653.0 202,704.7" stroke="#c51e1c"/>
<polyline points="82,705.0 106,701.1 130,700.0 154,704.3 178,650.7 202,703.1" stroke="#c31d1c"/>
<polyline points="82,705.6 106,707.9 130,700.9 154,703.4 178,647.9 202,696.7" stroke="#c21d1c"/>
<polyline points="82,696.2 106,705.8 130,695.7 154,702.5 178,648.7 202,702.4" stroke="#c11d1b"/>
<polyline points="82,708.5 106,698.9 130,708.0 154,705.7 178,652.8 202,706.1" stroke="#c01c1b"/>
<polyline points="82,704.1 106,703.3 130,703.2 154,700.3 178,650.8 202,707.5" stroke="#bf1c1b"/>
<polyline points="82,706.9 106,703.2 130,704.8 154,698.3 178,648.8 202,704.3" stroke="#bf1c1b"/>
<polyline points="82,711.5 106,706.3 130,706.6 154,706.3 178,647.8 202,710.5" stroke="#bd1b1b"/>
<polyline points="82,698.7 106,706.0 130,702.4 154,700.6 178,647.8 202,703.8" stroke="#bb1a1a"/>
<polyline points="82,702.7 106,697.6 130,706.9 154,699.8 178,647.9 202,700.7" stroke="#bb1a1a"/>
<polyline points="82,702.4 106,708.9 130,696.6 154,704.8 178,648.1 202,708.7" stroke="#b81919"/>
<polyline points="82,698.1 106,705.9 130,704.3 154,700.2 178,649.9 202,703.7" stroke="#b81919"/>
<polyline points="82,703.0 106,703.2 130,706.6 154,701.5 178,651.4 202,697.7" stroke="#b71919"/>
<polyline points="82,699.3 106,699.9 130,700.0 154,696.2 178,647.9 202,698.7" stroke="#b71919"/>
<polyline points="82,705.9 106,704.0 130,705.0 154,706.4 178,651.7 202,707.5" stroke="#b61819"/>
<polyline points="82,703.1 106,701.9 130,705.0 154,704.4 178,650.7 202,703.8" stroke="#b51819"/>
<polyline points="82,702.7 106,708.6 130,704.6 154,700.7 178,650.7 202,705.0" stroke="#b41819"/>
<polyline points="82,697.5 106,697.1 130,705.7 154,703.0 178,648.0 202,700.6" stroke="#b41819"/>
<polyline points="82,706.8 106,701.8 130,696.6 154,695.5 178,650.4 202,702.6" stroke="#b21718"/>
<polyline points="82,704.1 106,706.7 130,706.5 154,701.8 178,650.6 202,707.7" stroke="#b21718"/>
<polyline points="82,705.7 106,700.6 130,703.4 154,695.5 178,647.8 202,707.0" stroke="#b01618"/>
<polyline points="82,701.4 106,705.4 130,702.1 154,697.6 178,648.7 202,704.1" stroke="#b01618"/>
<polyline points="82,703.6 106,700.5 130,705.2 154,704.0 178,648.8 202,705.5" stroke="#ae1617"/>
<polyline points="82,701.9 106,697.8 130,697.1 154,699.7 178,650.0 202,699.9" stroke="#ae1517"/>
<polyline points="82,708.1 106,700.1 130,705.8 154,704.9 178,648.3 202,706.1" stroke="#ac1517"/>
<polyline points="82,703.2 106,705.8 130,706.4 154,705.1 178,649.1 202,706.6" stroke="#aa1416"/>
<polyline points="82,703.1 106,707.3 130,704.2 154,706.4 178,649.8 202,701.1" stroke="#aa1416"/>
<polyline points="82,709.1 106,700.5 130,707.5 154,706.1 178,648.8 202,702.4" stroke="#a91416"/>
<polyline points="82,707.2 106,706.6 130,702.4 154,707.0 178,650.6 202,704.8" stroke="#a91416"/>
<polyline points="82,707.5 106,707.4 130,707.5 154,706.9 178,649.4 202,708.7" stroke="#a91416"/>
<polyline points="82,707.1 106,707.1 130,705.9 154,697.4 178,650.9 202,708.8" stroke="#a81316"/>
<polyline points="82,705.2 106,699.1 130,707.4 154,705.5 178,651.5 202,706.0" stroke="#a71316"/>
<polyline points="82,703.4 106,705.0 130,701.5 154,705.4 178,649.7 202,704.7" stroke="#a61315"/>
<polyline points="82,707.0 106,706.8 130,703.6 154,705.5 178,648.8 202,706.6" stroke="#a61315"/>
<polyline points="82,703.2 106,707.3 130,702.9 154,707.4 178,650.2 202,707.5" stroke="#a61315"/>
<polyline points="82,705.1 106,707.3 130,706.7 154,698.3 178,650.6 202,706.6" stroke="#a41215"/>
<polyline points="82,703.8 106,707.9 130,704.5 154,705.6 178,650.5 202,707.9" stroke="#a41215"/>
<polyline points="82,710.5 106,707.0 130,705.3 154,705.0 178,650.4 202,704.4" stroke="#a31215"/>
<polyline points="82,706.3 106,709.4 130,703.1 154,703.8 178,651.1 202,705.3" stroke="#a21114"/>
<polyline points="82,703.8 106,700.6 130,699.4 154,699.3 178,649.6 202,705.3" stroke="#a11114"/>
<polyline points="82,708.8 106,702.3 130,704.0 154,705.0 178,648.4 202,701.3" stroke="#a01114"/>
<polyline points="82,709.2 106,706.5 130,704.6 154,706.4 178,651.5 202,708.3" stroke="#9e1014"/>
<polyline points="82,704.5 106,706.2 130,703.8 154,702.2 178,648.6 202,706.6" stroke="#9e1014"/>
<polyline points="82,699.3 106,703.3 130,701.6 154,706.7 178,647.8 202,704.1" stroke="#9d1013"/>
<polyline points="82,704.4 106,703.5 130,698.3 154,705.1 178,648.6 202,706.3" stroke="#9d1013"/>
<polyline points="82,708.2 106,705.9 130,704.3 154,705.9 178,648.6 202,706.6" stroke="#9d0f13"/>
</g>
<polyline points="82.0,702.8 105.9,701.6 129.9,700.3 153.8,700.3 177.8,653.9 201.7,701.6" fill="none" stroke="#111" stroke-width="1.6" stroke-linejoin="round"/>
<line x1="77.40" y1="642.60" x2="77.40" y2="743.00" stroke="#555" stroke-width="1"/>
<line x1="72.90" y1="642.60" x2="77.40" y2="642.60" stroke="#555" stroke-width="1"/>
<text class="ns" x="66.00" y="642.60" font-size="12.5" text-anchor="middle" font-family='"Liberation Sans", sans-serif' fill="#333" transform="rotate(-90 66.00 642.60)" dy="4.4">2</text>
<line x1="72.90" y1="667.70" x2="77.40" y2="667.70" stroke="#555" stroke-width="1"/>
<text class="ns" x="66.00" y="667.70" font-size="12.5" text-anchor="middle" font-family='"Liberation Sans", sans-serif' fill="#333" transform="rotate(-90 66.00 667.70)" dy="4.4">1</text>
<line x1="72.90" y1="692.80" x2="77.40" y2="692.80" stroke="#555" stroke-width="1"/>
<text class="ns" x="66.00" y="692.80" font-size="12.5" text-anchor="middle" font-family='"Liberation Sans", sans-serif' fill="#333" transform="rotate(-90 66.00 692.80)" dy="4.4">0</text>
<line x1="72.90" y1="717.90" x2="77.40" y2="717.90" stroke="#555" stroke-width="1"/>
<text class="ns" x="66.00" y="717.90" font-size="12.5" text-anchor="middle" font-family='"Liberation Sans", sans-serif' fill="#333" transform="rotate(-90 66.00 717.90)" dy="4.4">−1</text>
<line x1="72.90" y1="743.00" x2="77.40" y2="743.00" stroke="#555" stroke-width="1"/>
<text class="ns" x="66.00" y="743.00" font-size="12.5" text-anchor="middle" font-family='"Liberation Sans", sans-serif' fill="#333" transform="rotate(-90 66.00 743.00)" dy="4.4">−2</text>
<line x1="82.00" y1="743.80" x2="201.70" y2="743.80" stroke="#555" stroke-width="1"/>
<line x1="82.00" y1="743.80" x2="82.00" y2="748.30" stroke="#555" stroke-width="1"/>
<text x="86.50" y="755.80" font-size="10.4" text-anchor="end" font-family='"Liberation Sans", sans-serif' fill="#1a1a1a" transform="rotate(-42 86.50 755.80)">WS-2h</text>
<line x1="105.94" y1="743.80" x2="105.94" y2="748.30" stroke="#555" stroke-width="1"/>
<text x="110.44" y="755.80" font-size="10.4" text-anchor="end" font-family='"Liberation Sans", sans-serif' fill="#1a1a1a" transform="rotate(-42 110.44 755.80)">WS-4h</text>
<line x1="129.88" y1="743.80" x2="129.88" y2="748.30" stroke="#555" stroke-width="1"/>
<text x="134.38" y="755.80" font-size="10.4" text-anchor="end" font-family='"Liberation Sans", sans-serif' fill="#1a1a1a" transform="rotate(-42 134.38 755.80)">WS-6h</text>
<line x1="153.82" y1="743.80" x2="153.82" y2="748.30" stroke="#555" stroke-width="1"/>
<text x="158.32" y="755.80" font-size="10.4" text-anchor="end" font-family='"Liberation Sans", sans-serif' fill="#1a1a1a" transform="rotate(-42 158.32 755.80)">WS-8h</text>
<line x1="177.76" y1="743.80" x2="177.76" y2="748.30" stroke="#555" stroke-width="1"/>
<text x="182.26" y="755.80" font-size="10.4" text-anchor="end" font-family='"Liberation Sans", sans-serif' fill="#1a1a1a" transform="rotate(-42 182.26 755.80)">WS-10h</text>
<line x1="201.70" y1="743.80" x2="201.70" y2="748.30" stroke="#555" stroke-width="1"/>
<text x="206.20" y="755.80" font-size="10.4" text-anchor="end" font-family='"Liberation Sans", sans-serif' fill="#1a1a1a" transform="rotate(-42 206.20 755.80)">WS-12h</text>
<text x="145.70" y="633.72" font-size="13.1" text-anchor="middle" font-family='"Liberation Sans", sans-serif' fill="#1a1a1a">Cluster6</text>
<text x="48.50" y="687.00" font-size="13.2" text-anchor="middle" font-family='"Liberation Sans", sans-serif' fill="#1a1a1a" transform="rotate(-90 48.50 687.00)" dy="4.75">Expression change</text>
<polygon points="251.5,655.4 263.4,661.8 275.4,650.6 287.4,661.5 299.3,655.3 311.2,659.9 323.2,643.8 335.1,661.7 347.1,658.0 359.1,689.2 371.0,696.1 371.0,738.6 359.1,718.6 347.1,722.3 335.1,699.0 323.2,715.0 311.2,693.1 299.3,704.7 287.4,692.8 275.4,715.0 263.4,697.2 251.5,719.7" fill="#fcd5c5" filter="url(#bl)"/>
<polygon points="251.5,663.9 263.4,665.2 275.4,660.2 287.4,664.8 299.3,663.3 311.2,663.9 323.2,657.1 335.1,665.9 347.1,667.0 359.1,693.9 371.0,712.1 371.0,734.9 359.1,714.0 347.1,701.6 335.1,691.4 323.2,695.4 311.2,686.6 299.3,689.8 287.4,686.2 275.4,694.8 263.4,689.4 251.5,698.5" fill="#f7a083" filter="url(#bl)"/>
<g fill="none" stroke-width="1.25" stroke-linejoin="round" stroke-opacity="0.9" filter="url(#bl)">
<polyline points="252,672.0 275,677.1 299,692.5 323,697.0 347,725.2 371,732.9" stroke="#fde1d5"/>
<polyline points="252,672.9 275,658.4 299,665.6 323,670.7 347,667.8 371,728.5" stroke="#fddfd3"/>
<polyline points="252,685.8 275,705.8 299,669.3 323,689.2 347,682.6 371,735.6" stroke="#fdded1"/>
<polyline points="252,664.4 275,671.5 299,668.6 323,670.1 347,663.8 371,733.5" stroke="#fcd9ca"/>
<polyline points="252,669.5 275,672.6 299,654.7 323,656.1 347,667.2 371,694.9" stroke="#fcd8c9"/>
<polyline points="252,675.9 275,698.6 299,668.4 323,656.3 347,672.7 371,731.2" stroke="#fcd7c7"/>
<polyline points="252,668.8 275,694.8 299,671.6 323,694.5 347,674.5 371,707.6" stroke="#fcd7c7"/>
<polyline points="252,681.6 275,691.9 299,676.8 323,690.7 347,663.0 371,724.6" stroke="#fcd6c6"/>
<polyline points="252,702.0 275,677.2 299,661.5 323,677.2 347,711.8 371,729.6" stroke="#fcd4c3"/>
<polyline points="252,709.4 275,668.9 299,688.0 323,663.9 347,693.7 371,738.6" stroke="#fcd2c0"/>
<polyline points="252,719.5 275,705.6 299,673.3 323,662.1 347,683.4 371,706.5" stroke="#fcd0be"/>
<polyline points="252,677.8 275,698.8 299,687.7 323,647.0 347,692.0 371,714.4" stroke="#fcd0be"/>
<polyline points="252,656.5 275,661.4 299,655.5 323,647.4 347,672.7 371,718.9" stroke="#fcd0bd"/>
<polyline points="252,656.6 275,699.7 299,678.1 323,665.4 347,670.5 371,732.0" stroke="#fccebb"/>
<polyline points="252,705.7 275,660.4 299,677.7 323,669.4 347,676.2 371,738.5" stroke="#fbcebb"/>
<polyline points="252,668.9 275,665.6 299,657.9 323,697.8 347,676.4 371,732.4" stroke="#fbceba"/>
<polyline points="252,702.3 275,684.0 299,682.4 323,662.1 347,677.2 371,733.1" stroke="#fbcdba"/>
<polyline points="252,680.9 275,662.8 299,658.7 323,666.9 347,665.0 371,716.3" stroke="#fbcab5"/>
<polyline points="252,687.0 275,695.8 299,656.9 323,661.2 347,707.3 371,736.5" stroke="#fbc9b5"/>
<polyline points="252,693.6 275,678.2 299,665.2 323,679.6 347,671.7 371,698.0" stroke="#fbc8b3"/>
<polyline points="252,656.4 275,665.4 299,667.5 323,704.5 347,712.9 371,730.8" stroke="#fbc8b3"/>
<polyline points="252,669.9 275,693.2 299,667.5 323,671.4 347,715.4 371,725.6" stroke="#fbc7b2"/>
<polyline points="252,690.7 275,669.4 299,669.8 323,658.2 347,713.4 371,732.1" stroke="#fbc6b0"/>
<polyline points="252,677.5 275,663.5 299,683.1 323,683.4 347,666.9 371,717.7" stroke="#fbc2ac"/>
<polyline points="252,714.0 275,687.8 299,670.4 323,654.9 347,673.7 371,732.6" stroke="#fbc2ab"/>
<polyline points="252,696.6 275,686.8 299,697.2 323,705.8 347,717.2 371,736.2" stroke="#fabda5"/>
<polyline points="252,695.3 275,664.7 299,677.3 323,679.9 347,671.1 371,711.2" stroke="#fabda5"/>
<polyline points="252,672.8 275,708.5 299,657.3 323,663.9 347,704.0 371,731.9" stroke="#fabca5"/>
<polyline points="252,669.6 275,665.5 299,667.7 323,670.2 347,673.4 371,719.0" stroke="#fabba4"/>
<polyline points="252,663.7 275,659.7 299,661.8 323,658.7 347,675.6 371,723.1" stroke="#fabba3"/>
<polyline points="252,657.7 275,669.9 299,677.9 323,677.9 347,669.0 371,732.1" stroke="#fabaa3"/>
<polyline points="252,665.2 275,677.2 299,672.1 323,662.8 347,661.4 371,709.6" stroke="#fab9a2"/>
<polyline points="252,681.5 275,653.5 299,666.4 323,654.3 347,684.3 371,732.2" stroke="#fab8a0"/>
<polyline points="252,672.4 275,689.0 299,675.2 323,650.2 347,678.1 371,732.3" stroke="#fab79f"/>
<polyline points="252,691.4 275,676.9 299,670.5 323,670.1 347,673.6 371,730.1" stroke="#f9b59c"/>
<polyline points="252,661.8 275,669.8 299,671.7 323,675.9 347,673.5 371,731.7" stroke="#f9b49c"/>
<polyline points="252,658.3 275,703.5 299,667.9 323,689.9 347,662.4 371,701.6" stroke="#f9b39a"/>
<polyline points="252,670.1 275,675.2 299,676.5 323,676.7 347,714.9 371,710.1" stroke="#f9b299"/>
<polyline points="252,704.3 275,671.1 299,671.5 323,708.0 347,702.4 371,735.4" stroke="#f9b299"/>
<polyline points="252,673.3 275,707.6 299,677.7 323,686.1 347,704.1 371,733.7" stroke="#f9b198"/>
<polyline points="252,683.3 275,667.6 299,683.5 323,674.4 347,666.6 371,737.2" stroke="#f9b097"/>
<polyline points="252,660.7 275,685.5 299,662.9 323,652.3 347,664.0 371,729.9" stroke="#f9af96"/>
<polyline points="252,673.3 275,674.1 299,678.1 323,667.0 347,678.2 371,724.8" stroke="#f9af96"/>
<polyline points="252,664.0 275,669.7 299,666.2 323,670.6 347,706.1 371,721.5" stroke="#f9ad94"/>
<polyline points="252,658.9 275,677.0 299,669.8 323,665.4 347,675.1 371,712.8" stroke="#f9ad94"/>
<polyline points="252,668.2 275,654.6 299,679.3 323,670.2 347,661.7 371,736.1" stroke="#f9ad93"/>
<polyline points="252,671.1 275,669.7 299,677.6 323,670.9 347,668.7 371,724.9" stroke="#f8ab91"/>
<polyline points="252,700.3 275,669.4 299,669.3 323,658.2 347,671.2 371,732.8" stroke="#f8a98e"/>
<polyline points="252,681.5 275,672.7 299,686.9 323,669.1 347,690.5 371,731.0" stroke="#f8a88d"/>
<polyline points="252,673.0 275,655.2 299,665.4 323,671.8 347,666.6 371,724.4" stroke="#f8a78d"/>
<polyline points="252,659.4 275,666.8 299,670.0 323,658.4 347,676.3 371,708.9" stroke="#f8a78d"/>
<polyline points="252,662.9 275,657.4 299,684.0 323,692.9 347,674.6 371,726.3" stroke="#f8a58a"/>
<polyline points="252,672.1 275,704.6 299,664.8 323,672.0 347,707.6 371,729.0" stroke="#f8a489"/>
<polyline points="252,694.4 275,688.0 299,669.2 323,692.1 347,676.6 371,725.8" stroke="#f8a388"/>
<polyline points="252,665.9 275,674.0 299,671.2 323,670.4 347,673.9 371,713.1" stroke="#f8a387"/>
<polyline points="252,690.7 275,694.1 299,677.3 323,686.8 347,682.8 371,731.1" stroke="#f8a286"/>
<polyline points="252,669.4 275,703.6 299,668.4 323,702.2 347,675.7 371,736.3" stroke="#f7a084"/>
<polyline points="252,671.3 275,666.8 299,671.5 323,651.3 347,673.1 371,727.4" stroke="#f79f84"/>
<polyline points="252,683.4 275,675.0 299,677.5 323,682.0 347,675.4 371,734.6" stroke="#f79f83"/>
<polyline points="252,671.3 275,671.9 299,668.6 323,662.9 347,691.2 371,732.7" stroke="#f79e83"/>
<polyline points="252,669.4 275,668.0 299,685.5 323,658.6 347,691.6 371,726.7" stroke="#f79e82"/>
<polyline points="252,684.6 275,666.0 299,671.1 323,666.9 347,686.7 371,705.8" stroke="#f79c80"/>
<polyline points="252,671.8 275,661.9 299,683.0 323,662.5 347,670.4 371,728.7" stroke="#f79c80"/>
<polyline points="252,670.5 275,689.7 299,688.8 323,669.1 347,691.3 371,729.1" stroke="#f79b7f"/>
<polyline points="252,681.8 275,663.7 299,660.3 323,675.1 347,673.8 371,727.7" stroke="#f79a7e"/>
<polyline points="252,674.6 275,684.9 299,673.4 323,671.0 347,674.2 371,728.7" stroke="#f79a7e"/>
<polyline points="252,693.3 275,668.7 299,669.9 323,678.9 347,674.8 371,735.4" stroke="#f7997d"/>
<polyline points="252,673.6 275,667.3 299,680.8 323,695.0 347,676.7 371,723.0" stroke="#f6977b"/>
<polyline points="252,666.7 275,670.7 299,681.7 323,662.4 347,667.1 371,731.7" stroke="#f6967a"/>
<polyline points="252,692.1 275,666.6 299,667.3 323,700.4 347,664.9 371,724.3" stroke="#f69679"/>
<polyline points="252,667.3 275,680.9 299,688.8 323,657.7 347,676.3 371,716.7" stroke="#f69679"/>
<polyline points="252,679.7 275,670.5 299,681.2 323,678.6 347,692.7 371,731.5" stroke="#f69579"/>
<polyline points="252,661.9 275,667.9 299,678.5 323,654.0 347,678.0 371,721.3" stroke="#f69579"/>
<polyline points="252,676.6 275,662.8 299,668.4 323,685.7 347,678.9 371,714.8" stroke="#f69579"/>
<polyline points="252,686.5 275,674.2 299,693.7 323,656.2 347,669.2 371,734.4" stroke="#f69579"/>
<polyline points="252,685.0 275,691.5 299,676.5 323,683.2 347,694.5 371,730.9" stroke="#f69478"/>
<polyline points="252,671.3 275,668.8 299,665.5 323,676.7 347,672.3 371,731.9" stroke="#f58d71"/>
<polyline points="252,704.2 275,674.0 299,664.8 323,679.5 347,670.3 371,732.1" stroke="#f58c6f"/>
<polyline points="252,672.9 275,696.8 299,675.0 323,662.8 347,707.0 371,732.2" stroke="#f58b6f"/>
<polyline points="252,694.4 275,668.5 299,688.6 323,668.4 347,695.5 371,729.1" stroke="#f58a6d"/>
<polyline points="252,683.3 275,666.6 299,682.2 323,664.6 347,675.5 371,733.2" stroke="#f5886c"/>
<polyline points="252,666.0 275,679.5 299,667.8 323,671.4 347,674.0 371,725.4" stroke="#f5886c"/>
<polyline points="252,673.8 275,673.1 299,668.6 323,676.6 347,692.2 371,733.7" stroke="#f5866a"/>
<polyline points="252,664.4 275,661.2 299,667.2 323,670.8 347,673.3 371,729.0" stroke="#f58568"/>
<polyline points="252,677.8 275,669.8 299,672.5 323,664.5 347,665.7 371,729.9" stroke="#f58468"/>
<polyline points="252,667.6 275,658.3 299,673.9 323,675.4 347,684.5 371,734.4" stroke="#f58467"/>
<polyline points="252,670.3 275,690.4 299,681.7 323,674.0 347,683.8 371,731.9" stroke="#f58367"/>
<polyline points="252,702.6 275,676.6 299,666.9 323,655.1 347,679.0 371,723.3" stroke="#f48366"/>
<polyline points="252,665.0 275,658.6 299,672.3 323,654.6 347,665.3 371,709.0" stroke="#f48266"/>
<polyline points="252,673.2 275,690.5 299,680.3 323,683.0 347,682.1 371,730.7" stroke="#f48164"/>
<polyline points="252,673.7 275,669.5 299,670.5 323,674.4 347,676.4 371,720.1" stroke="#f48164"/>
<polyline points="252,672.3 275,661.4 299,670.0 323,685.0 347,692.3 371,730.1" stroke="#f47f63"/>
<polyline points="252,693.1 275,669.8 299,663.2 323,660.4 347,672.5 371,731.0" stroke="#f47f62"/>
<polyline points="252,679.6 275,658.7 299,672.7 323,685.2 347,694.4 371,723.0" stroke="#f47e61"/>
<polyline points="252,670.1 275,669.8 299,670.1 323,679.4 347,672.2 371,729.8" stroke="#f47d60"/>
<polyline points="252,691.4 275,670.6 299,669.8 323,679.6 347,674.2 371,720.4" stroke="#f47d60"/>
<polyline points="252,683.9 275,663.2 299,665.0 323,663.7 347,667.7 371,731.5" stroke="#f47c5f"/>
<polyline points="252,673.9 275,670.8 299,674.7 323,672.1 347,691.8 371,727.1" stroke="#f47c5f"/>
<polyline points="252,673.6 275,675.3 299,688.9 323,665.6 347,679.2 371,731.7" stroke="#f47b5e"/>
<polyline points="252,667.9 275,670.3 299,671.5 323,683.0 347,676.8 371,731.2" stroke="#f47a5d"/>
<polyline points="252,672.8 275,669.6 299,675.2 323,663.1 347,685.9 371,732.5" stroke="#f47a5d"/>
<polyline points="252,700.3 275,668.0 299,681.7 323,671.1 347,674.0 371,712.6" stroke="#f37559"/>
<polyline points="252,670.8 275,669.2 299,688.5 323,680.9 347,687.5 371,732.0" stroke="#f37457"/>
<polyline points="252,664.8 275,686.0 299,675.5 323,696.8 347,672.6 371,731.3" stroke="#f37457"/>
<polyline points="252,670.4 275,669.1 299,673.7 323,676.6 347,681.6 371,729.6" stroke="#f37255"/>
<polyline points="252,682.3 275,670.1 299,668.4 323,665.7 347,677.7 371,734.6" stroke="#f37255"/>
<polyline points="252,673.2 275,666.2 299,688.9 323,666.1 347,678.7 371,731.9" stroke="#f37154"/>
<polyline points="252,666.3 275,666.7 299,672.5 323,685.0 347,681.2 371,717.1" stroke="#f37154"/>
<polyline points="252,673.1 275,665.4 299,665.9 323,664.8 347,671.8 371,732.5" stroke="#f37154"/>
<polyline points="252,670.0 275,667.1 299,675.6 323,683.7 347,683.3 371,734.7" stroke="#f37053"/>
<polyline points="252,686.0 275,682.2 299,672.1 323,693.8 347,679.2 371,731.3" stroke="#f26e51"/>
<polyline points="252,673.0 275,691.7 299,678.6 323,680.9 347,691.5 371,727.3" stroke="#f26e51"/>
<polyline points="252,674.0 275,663.5 299,681.7 323,688.6 347,668.7 371,722.5" stroke="#f26d50"/>
<polyline points="252,676.2 275,667.1 299,666.2 323,657.5 347,676.7 371,724.5" stroke="#f26d50"/>
<polyline points="252,682.6 275,665.5 299,677.2 323,670.1 347,675.5 371,733.1" stroke="#f26d50"/>
<polyline points="252,693.5 275,694.5 299,666.6 323,675.6 347,686.5 371,725.5" stroke="#f26c4f"/>
<polyline points="252,677.0 275,673.3 299,680.1 323,658.5 347,686.3 371,727.3" stroke="#f26c4f"/>
<polyline points="252,698.5 275,692.9 299,687.5 323,681.1 347,694.9 371,734.9" stroke="#f26b4e"/>
<polyline points="252,688.1 275,675.4 299,672.4 323,668.2 347,681.0 371,731.6" stroke="#f26b4e"/>
<polyline points="252,671.9 275,670.3 299,686.9 323,666.0 347,674.9 371,726.1" stroke="#f26a4d"/>
<polyline points="252,667.0 275,669.3 299,672.0 323,657.5 347,669.2 371,716.5" stroke="#f26a4d"/>
<polyline points="252,669.3 275,677.7 299,670.3 323,657.3 347,670.7 371,726.2" stroke="#f26a4d"/>
<polyline points="252,666.2 275,694.1 299,674.7 323,688.5 347,689.6 371,731.6" stroke="#f1684b"/>
<polyline points="252,697.7 275,680.2 299,669.4 323,694.2 347,681.4 371,722.8" stroke="#f1674b"/>
<polyline points="252,670.4 275,666.0 299,669.4 323,666.3 347,674.4 371,729.3" stroke="#f1674b"/>
<polyline points="252,667.1 275,675.1 299,668.7 323,680.5 347,677.0 371,723.7" stroke="#f16549"/>
<polyline points="252,675.7 275,668.6 299,671.1 323,676.7 347,669.3 371,730.8" stroke="#f16449"/>
<polyline points="252,664.5 275,662.7 299,663.8 323,665.6 347,674.0 371,732.6" stroke="#f16448"/>
<polyline points="252,684.1 275,665.7 299,676.0 323,671.0 347,687.3 371,729.1" stroke="#f06448"/>
<polyline points="252,680.9 275,671.9 299,671.2 323,678.5 347,690.6 371,733.0" stroke="#f06247"/>
<polyline points="252,682.4 275,675.4 299,672.0 323,683.9 347,670.1 371,731.8" stroke="#f06146"/>
<polyline points="252,680.6 275,677.1 299,678.1 323,672.7 347,694.5 371,734.5" stroke="#f06045"/>
<polyline points="252,671.7 275,661.4 299,664.2 323,662.8 347,673.1 371,729.9" stroke="#f06045"/>
<polyline points="252,665.6 275,663.1 299,664.3 323,661.4 347,676.6 371,732.3" stroke="#ef5f44"/>
<polyline points="252,670.5 275,663.9 299,667.8 323,669.8 347,671.7 371,723.0" stroke="#ef5e43"/>
<polyline points="252,665.1 275,671.1 299,664.4 323,663.3 347,682.0 371,715.6" stroke="#ef5e43"/>
<polyline points="252,690.5 275,664.3 299,671.9 323,674.3 347,698.3 371,731.1" stroke="#ef5c42"/>
<polyline points="252,674.0 275,671.1 299,669.5 323,674.7 347,673.4 371,725.2" stroke="#ee5b41"/>
<polyline points="252,673.8 275,687.3 299,671.3 323,666.8 347,677.1 371,715.6" stroke="#ee5b41"/>
<polyline points="252,680.5 275,680.5 299,670.7 323,689.3 347,683.4 371,731.4" stroke="#ee5a40"/>
<polyline points="252,672.0 275,666.6 299,670.2 323,676.0 347,682.4 371,731.0" stroke="#ee5a40"/>
<polyline points="252,690.9 275,676.6 299,677.7 323,674.9 347,675.1 371,724.1" stroke="#ee593f"/>
<polyline points="252,694.5 275,673.1 299,680.9 323,691.7 347,676.6 371,732.0" stroke="#ee593f"/>
<polyline points="252,676.0 275,678.7 299,675.2 323,681.9 347,676.7 371,733.6" stroke="#ed563e"/>
<polyline points="252,672.6 275,668.7 299,666.4 323,678.3 347,675.2 371,732.0" stroke="#ed563d"/>
<polyline points="252,665.7 275,676.3 299,665.0 323,669.0 347,670.5 371,725.7" stroke="#ed563d"/>
<polyline points="252,672.0 275,674.0 299,671.2 323,664.9 347,692.2 371,730.8" stroke="#ed563d"/>
<polyline points="252,674.0 275,678.6 299,668.3 323,676.7 347,678.6 371,718.1" stroke="#ed553d"/>
<polyline points="252,672.9 275,665.9 299,667.8 323,669.2 347,673.1 371,723.8" stroke="#ed543c"/>
<polyline points="252,693.4 275,682.7 299,670.5 323,682.8 347,677.4 371,731.1" stroke="#ed543c"/>
<polyline points="252,680.9 275,675.6 299,681.2 323,686.1 347,683.2 371,732.4" stroke="#ec523a"/>
<polyline points="252,677.6 275,670.7 299,681.2 323,682.2 347,688.8 371,732.8" stroke="#ec5139"/>
<polyline points="252,676.6 275,672.0 299,676.0 323,677.1 347,670.1 371,716.4" stroke="#ec5039"/>
<polyline points="252,686.7 275,666.2 299,670.1 323,689.8 347,670.9 371,726.2" stroke="#ec4f38"/>
<polyline points="252,685.1 275,671.6 299,670.9 323,674.5 347,695.1 371,731.6" stroke="#eb4c36"/>
<polyline points="252,669.8 275,663.3 299,669.5 323,661.6 347,670.0 371,722.1" stroke="#eb4b35"/>
<polyline points="252,673.2 275,671.8 299,678.1 323,685.6 347,694.6 371,732.9" stroke="#ea4a34"/>
<polyline points="252,666.8 275,666.0 299,671.0 323,669.8 347,670.0 371,719.1" stroke="#ea4a34"/>
<polyline points="252,673.1 275,684.2 299,666.0 323,661.7 347,673.1 371,727.4" stroke="#ea4933"/>
<polyline points="252,672.1 275,687.5 299,669.4 323,664.5 347,674.7 371,728.3" stroke="#ea4933"/>
<polyline points="252,675.6 275,675.4 299,670.8 323,661.8 347,671.9 371,731.5" stroke="#ea4933"/>
<polyline points="252,672.0 275,669.1 299,672.4 323,677.4 347,680.9 371,722.3" stroke="#ea4833"/>
<polyline points="252,668.6 275,667.8 299,675.4 323,662.8 347,673.5 371,732.2" stroke="#ea4832"/>
<polyline points="252,671.5 275,669.2 299,673.0 323,670.9 347,688.2 371,723.1" stroke="#ea4832"/>
<polyline points="252,669.0 275,673.4 299,668.9 323,666.4 347,683.3 371,730.7" stroke="#ea4732"/>
<polyline points="252,672.1 275,670.5 299,666.6 323,674.0 347,672.2 371,726.8" stroke="#ea4731"/>
<polyline points="252,673.2 275,669.2 299,670.3 323,672.4 347,682.8 371,728.0" stroke="#ea4731"/>
<polyline points="252,680.3 275,673.5 299,676.0 323,678.6 347,671.9 371,731.4" stroke="#ea4731"/>
<polyline points="252,672.3 275,669.6 299,670.8 323,671.8 347,684.8 371,723.0" stroke="#e94530"/>
<polyline points="252,689.0 275,677.4 299,676.1 323,678.7 347,684.2 371,732.0" stroke="#e94530"/>
<polyline points="252,669.2 275,668.6 299,669.1 323,669.5 347,670.6 371,723.2" stroke="#e9442f"/>
<polyline points="252,669.6 275,680.1 299,673.7 323,682.6 347,675.5 371,722.1" stroke="#e9442f"/>
<polyline points="252,673.5 275,673.4 299,670.4 323,668.5 347,676.9 371,727.0" stroke="#e9432f"/>
<polyline points="252,673.4 275,681.1 299,670.7 323,677.0 347,680.9 371,732.3" stroke="#e9432e"/>
<polyline points="252,671.7 275,685.6 299,669.3 323,665.1 347,678.3 371,731.0" stroke="#e9432e"/>
<polyline points="252,671.1 275,667.2 299,679.0 323,668.4 347,684.8 371,732.0" stroke="#e8422d"/>
<polyline points="252,678.3 275,675.0 299,672.6 323,686.9 347,690.7 371,731.3" stroke="#e8412d"/>
<polyline points="252,679.2 275,680.3 299,675.6 323,683.2 347,687.3 371,731.7" stroke="#e73f2c"/>
<polyline points="252,673.2 275,678.6 299,676.4 323,683.0 347,678.9 371,721.4" stroke="#e73f2b"/>
<polyline points="252,669.6 275,670.3 299,672.3 323,665.7 347,671.3 371,726.4" stroke="#e53d2a"/>
<polyline points="252,679.4 275,665.7 299,669.3 323,671.6 347,681.6 371,724.1" stroke="#e53d2a"/>
<polyline points="252,677.0 275,670.4 299,676.8 323,677.6 347,677.4 371,731.2" stroke="#e53d2a"/>
<polyline points="252,671.5 275,684.1 299,676.1 323,666.2 347,686.3 371,724.6" stroke="#e53c2a"/>
<polyline points="252,670.6 275,668.9 299,675.4 323,669.6 347,675.9 371,724.6" stroke="#e43c2a"/>
<polyline points="252,668.1 275,666.8 299,673.5 323,676.9 347,677.2 371,722.6" stroke="#e33b2a"/>
<polyline points="252,668.2 275,669.9 299,671.6 323,674.5 347,683.7 371,731.3" stroke="#e33a29"/>
<polyline points="252,673.2 275,668.0 299,672.8 323,683.2 347,674.6 371,730.1" stroke="#e23a29"/>
<polyline points="252,674.4 275,670.3 299,674.6 323,684.6 347,677.0 371,729.7" stroke="#e13929"/>
<polyline points="252,669.9 275,668.7 299,667.5 323,664.1 347,675.3 371,728.4" stroke="#e13929"/>
<polyline points="252,673.3 275,669.7 299,669.1 323,670.8 347,684.8 371,720.6" stroke="#e03728"/>
<polyline points="252,676.0 275,665.4 299,673.9 323,671.0 347,676.0 371,723.9" stroke="#df3628"/>
<polyline points="252,686.4 275,676.8 299,679.6 323,679.2 347,677.8 371,731.3" stroke="#dd3527"/>
<polyline points="252,674.6 275,675.1 299,667.8 323,668.9 347,681.3 371,727.8" stroke="#dd3527"/>
<polyline points="252,668.8 275,670.0 299,668.4 323,677.9 347,674.2 371,726.6" stroke="#dd3427"/>
<polyline points="252,672.7 275,675.7 299,670.8 323,666.3 347,680.0 371,724.1" stroke="#dd3427"/>
<polyline points="252,673.2 275,669.9 299,677.2 323,678.8 347,673.6 371,731.4" stroke="#dc3326"/>
<polyline points="252,671.5 275,669.3 299,672.8 323,669.7 347,677.2 371,731.9" stroke="#dc3326"/>
<polyline points="252,670.1 275,673.1 299,669.4 323,670.1 347,676.4 371,721.4" stroke="#db3326"/>
<polyline points="252,676.1 275,672.8 299,676.7 323,672.1 347,682.8 371,725.5" stroke="#db3326"/>
<polyline points="252,669.1 275,665.9 299,674.5 323,673.7 347,678.4 371,731.6" stroke="#db3326"/>
<polyline points="252,681.1 275,669.4 299,668.1 323,676.6 347,673.2 371,730.4" stroke="#da3226"/>
<polyline points="252,673.4 275,675.0 299,680.0 323,677.8 347,675.1 371,731.4" stroke="#d93125"/>
<polyline points="252,685.4 275,671.2 299,673.3 323,672.9 347,688.8 371,731.2" stroke="#d93025"/>
<polyline points="252,676.8 275,670.9 299,668.2 323,669.1 347,683.0 371,725.3" stroke="#d83025"/>
<polyline points="252,671.6 275,671.1 299,671.5 323,667.0 347,682.7 371,729.9" stroke="#d83025"/>
<polyline points="252,673.3 275,668.7 299,671.4 323,670.6 347,675.7 371,723.9" stroke="#d82f24"/>
<polyline points="252,674.1 275,671.4 299,678.1 323,683.0 347,680.8 371,729.0" stroke="#d82f24"/>
<polyline points="252,680.8 275,673.0 299,670.7 323,677.9 347,674.1 371,727.7" stroke="#d72f24"/>
<polyline points="252,669.4 275,669.7 299,669.5 323,667.2 347,683.3 371,727.4" stroke="#d72e24"/>
<polyline points="252,680.5 275,678.0 299,673.7 323,674.6 347,680.9 371,731.9" stroke="#d72e24"/>
<polyline points="252,678.2 275,668.7 299,668.9 323,674.6 347,681.9 371,731.2" stroke="#d72e24"/>
<polyline points="252,676.1 275,678.7 299,675.7 323,670.9 347,676.4 371,730.1" stroke="#d62d24"/>
<polyline points="252,672.6 275,680.9 299,679.8 323,678.3 347,681.3 371,732.0" stroke="#d62d23"/>
<polyline points="252,679.2 275,670.2 299,672.3 323,674.4 347,683.8 371,731.9" stroke="#d52c23"/>
<polyline points="252,671.5 275,678.0 299,670.5 323,672.3 347,676.3 371,730.7" stroke="#d52c23"/>
<polyline points="252,674.3 275,677.2 299,673.0 323,678.2 347,677.4 371,729.0" stroke="#d52c23"/>
<polyline points="252,672.4 275,671.7 299,669.1 323,677.8 347,679.9 371,728.3" stroke="#d42c23"/>
<polyline points="252,674.3 275,679.8 299,675.2 323,682.2 347,680.3 371,732.2" stroke="#d42b23"/>
<polyline points="252,673.1 275,674.0 299,672.5 323,672.8 347,687.1 371,731.2" stroke="#d32b22"/>
<polyline points="252,671.1 275,675.0 299,672.4 323,669.8 347,677.6 371,730.1" stroke="#d32a22"/>
<polyline points="252,678.1 275,673.9 299,671.9 323,672.4 347,684.1 371,730.5" stroke="#d22a22"/>
<polyline points="252,674.4 275,671.2 299,679.5 323,670.4 347,676.5 371,731.4" stroke="#d22922"/>
<polyline points="252,674.5 275,672.3 299,671.9 323,666.5 347,680.5 371,731.1" stroke="#d22922"/>
<polyline points="252,683.7 275,669.5 299,671.6 323,672.5 347,680.5 371,730.9" stroke="#d22921"/>
<polyline points="252,673.6 275,675.2 299,673.3 323,670.6 347,678.1 371,726.5" stroke="#d12921"/>
<polyline points="252,679.0 275,672.6 299,675.8 323,670.1 347,680.7 371,732.3" stroke="#d12921"/>
<polyline points="252,680.3 275,671.7 299,672.9 323,675.7 347,681.7 371,732.3" stroke="#d12821"/>
<polyline points="252,672.9 275,670.2 299,668.9 323,666.7 347,678.3 371,731.1" stroke="#d02821"/>
<polyline points="252,673.4 275,668.5 299,672.5 323,681.4 347,676.3 371,728.3" stroke="#d02721"/>
<polyline points="252,673.1 275,669.6 299,671.4 323,677.8 347,676.7 371,730.8" stroke="#d02721"/>
<polyline points="252,676.1 275,671.9 299,679.2 323,666.6 347,679.5 371,729.7" stroke="#d02721"/>
<polyline points="252,672.5 275,673.4 299,669.9 323,671.5 347,679.6 371,729.0" stroke="#d02721"/>
<polyline points="252,672.6 275,673.0 299,673.9 323,668.8 347,677.5 371,726.0" stroke="#d02721"/>
<polyline points="252,672.7 275,668.7 299,671.5 323,671.0 347,681.6 371,731.4" stroke="#cf2620"/>
<polyline points="252,676.4 275,672.7 299,671.1 323,673.9 347,682.6 371,730.7" stroke="#ce2620"/>
<polyline points="252,675.1 275,667.2 299,670.3 323,671.3 347,680.2 371,726.8" stroke="#ce2520"/>
<polyline points="252,672.1 275,670.3 299,675.8 323,670.8 347,677.0 371,729.2" stroke="#cd241f"/>
<polyline points="252,673.7 275,670.6 299,671.4 323,667.1 347,676.3 371,728.1" stroke="#cd241f"/>
<polyline points="252,682.5 275,671.6 299,674.6 323,680.6 347,679.2 371,730.1" stroke="#cc231f"/>
<polyline points="252,680.4 275,672.6 299,674.0 323,673.8 347,681.2 371,730.6" stroke="#cc231f"/>
<polyline points="252,677.5 275,675.5 299,672.3 323,672.0 347,683.2 371,731.7" stroke="#cc231f"/>
<polyline points="252,672.5 275,669.4 299,672.2 323,668.2 347,676.6 371,730.2" stroke="#cb221f"/>
<polyline points="252,673.8 275,668.6 299,670.3 323,673.4 347,681.8 371,724.5" stroke="#ca211e"/>
<polyline points="252,671.2 275,670.8 299,672.5 323,670.8 347,677.5 371,730.7" stroke="#ca211e"/>
<polyline points="252,680.0 275,671.4 299,676.0 323,674.0 347,678.3 371,730.5" stroke="#c9211e"/>
<polyline points="252,673.3 275,668.8 299,676.4 323,670.1 347,674.1 371,724.8" stroke="#c9201d"/>
<polyline points="252,675.6 275,671.3 299,672.9 323,672.5 347,685.2 371,730.9" stroke="#c81f1d"/>
<polyline points="252,675.6 275,677.2 299,672.9 323,672.9 347,677.5 371,730.1" stroke="#c81f1d"/>
<polyline points="252,677.4 275,669.5 299,672.5 323,674.7 347,681.4 371,730.7" stroke="#c71f1d"/>
<polyline points="252,677.6 275,669.6 299,671.6 323,678.9 347,681.0 371,730.5" stroke="#c61e1d"/>
<polyline points="252,674.5 275,672.4 299,670.7 323,672.6 347,677.5 371,730.9" stroke="#c61e1d"/>
<polyline points="252,675.7 275,670.5 299,671.4 323,667.9 347,676.6 371,726.3" stroke="#c51e1c"/>
<polyline points="252,673.0 275,670.6 299,670.3 323,671.7 347,678.0 371,729.4" stroke="#c41e1c"/>
<polyline points="252,675.9 275,670.5 299,674.0 323,673.9 347,678.6 371,731.4" stroke="#c41e1c"/>
<polyline points="252,671.4 275,670.2 299,670.7 323,668.3 347,675.1 371,730.6" stroke="#c41d1c"/>
<polyline points="252,673.0 275,669.8 299,670.1 323,671.6 347,674.4 371,730.4" stroke="#c41d1c"/>
<polyline points="252,674.5 275,669.9 299,674.4 323,670.3 347,676.0 371,731.0" stroke="#c41d1c"/>
<polyline points="252,671.0 275,670.6 299,671.1 323,670.5 347,676.4 371,729.9" stroke="#c01c1b"/>
<polyline points="252,674.9 275,676.1 299,677.0 323,671.9 347,676.9 371,730.9" stroke="#c01c1b"/>
<polyline points="252,673.7 275,669.7 299,672.0 323,673.1 347,674.5 371,729.1" stroke="#bf1c1b"/>
</g>
<polyline points="251.5,681.9 275.4,678.7 299.3,680.0 323.2,680.0 347.1,686.6 371.0,724.4" fill="none" stroke="#111" stroke-width="1.6" stroke-linejoin="round"/>
<line x1="247.40" y1="639.20" x2="247.40" y2="738.00" stroke="#555" stroke-width="1"/>
<line x1="242.90" y1="639.20" x2="247.40" y2="639.20" stroke="#555" stroke-width="1"/>
<text class="ns" x="233.40" y="639.20" font-size="12.5" text-anchor="middle" font-family='"Liberation Sans", sans-serif' fill="#333" transform="rotate(-90 233.40 639.20)" dy="4.4">2</text>
<line x1="242.90" y1="663.90" x2="247.40" y2="663.90" stroke="#555" stroke-width="1"/>
<text class="ns" x="233.40" y="663.90" font-size="12.5" text-anchor="middle" font-family='"Liberation Sans", sans-serif' fill="#333" transform="rotate(-90 233.40 663.90)" dy="4.4">1</text>
<line x1="242.90" y1="688.60" x2="247.40" y2="688.60" stroke="#555" stroke-width="1"/>
<text class="ns" x="233.40" y="688.60" font-size="12.5" text-anchor="middle" font-family='"Liberation Sans", sans-serif' fill="#333" transform="rotate(-90 233.40 688.60)" dy="4.4">0</text>
<line x1="242.90" y1="713.30" x2="247.40" y2="713.30" stroke="#555" stroke-width="1"/>
<text class="ns" x="233.40" y="713.30" font-size="12.5" text-anchor="middle" font-family='"Liberation Sans", sans-serif' fill="#333" transform="rotate(-90 233.40 713.30)" dy="4.4">−1</text>
<line x1="242.90" y1="738.00" x2="247.40" y2="738.00" stroke="#555" stroke-width="1"/>
<text class="ns" x="233.40" y="738.00" font-size="12.5" text-anchor="middle" font-family='"Liberation Sans", sans-serif' fill="#333" transform="rotate(-90 233.40 738.00)" dy="4.4">−2</text>
<line x1="251.50" y1="743.10" x2="371.00" y2="743.10" stroke="#555" stroke-width="1"/>
<line x1="251.50" y1="743.10" x2="251.50" y2="747.60" stroke="#555" stroke-width="1"/>
<text x="256.00" y="755.10" font-size="10.4" text-anchor="end" font-family='"Liberation Sans", sans-serif' fill="#1a1a1a" transform="rotate(-42 256.00 755.10)">WS-2h</text>
<line x1="275.40" y1="743.10" x2="275.40" y2="747.60" stroke="#555" stroke-width="1"/>
<text x="279.90" y="755.10" font-size="10.4" text-anchor="end" font-family='"Liberation Sans", sans-serif' fill="#1a1a1a" transform="rotate(-42 279.90 755.10)">WS-4h</text>
<line x1="299.30" y1="743.10" x2="299.30" y2="747.60" stroke="#555" stroke-width="1"/>
<text x="303.80" y="755.10" font-size="10.4" text-anchor="end" font-family='"Liberation Sans", sans-serif' fill="#1a1a1a" transform="rotate(-42 303.80 755.10)">WS-6h</text>
<line x1="323.20" y1="743.10" x2="323.20" y2="747.60" stroke="#555" stroke-width="1"/>
<text x="327.70" y="755.10" font-size="10.4" text-anchor="end" font-family='"Liberation Sans", sans-serif' fill="#1a1a1a" transform="rotate(-42 327.70 755.10)">WS-8h</text>
<line x1="347.10" y1="743.10" x2="347.10" y2="747.60" stroke="#555" stroke-width="1"/>
<text x="351.60" y="755.10" font-size="10.4" text-anchor="end" font-family='"Liberation Sans", sans-serif' fill="#1a1a1a" transform="rotate(-42 351.60 755.10)">WS-10h</text>
<line x1="371.00" y1="743.10" x2="371.00" y2="747.60" stroke="#555" stroke-width="1"/>
<text x="375.50" y="755.10" font-size="10.4" text-anchor="end" font-family='"Liberation Sans", sans-serif' fill="#1a1a1a" transform="rotate(-42 375.50 755.10)">WS-12h</text>
<text x="305.00" y="635.52" font-size="13.1" text-anchor="middle" font-family='"Liberation Sans", sans-serif' fill="#1a1a1a">Cluster7</text>
<text x="217.40" y="687.00" font-size="13.2" text-anchor="middle" font-family='"Liberation Sans", sans-serif' fill="#1a1a1a" transform="rotate(-90 217.40 687.00)" dy="4.75">Expression change</text>
<polygon points="428.8,653.9 440.8,663.1 452.7,649.2 464.7,661.3 476.7,651.2 488.6,689.4 500.6,709.1 512.6,690.0 524.6,651.4 536.5,659.6 548.5,642.1 548.5,717.1 536.5,698.3 524.6,717.0 512.6,716.1 500.6,738.4 488.6,715.5 476.7,716.8 464.7,698.0 452.7,717.2 440.8,699.9 428.8,719.5" fill="#fcd5c5" filter="url(#bl)"/>
<polygon points="428.8,664.7 440.8,667.6 452.7,662.2 464.7,665.5 476.7,660.9 488.6,692.9 500.6,718.3 512.6,693.7 524.6,662.2 536.5,664.6 548.5,657.8 548.5,698.1 536.5,691.1 524.6,697.5 512.6,711.6 500.6,734.0 488.6,710.8 476.7,696.2 464.7,690.7 452.7,698.7 440.8,692.8 428.8,700.0" fill="#f7a083" filter="url(#bl)"/>
<g fill="none" stroke-width="1.25" stroke-linejoin="round" stroke-opacity="0.9" filter="url(#bl)">
<polyline points="429,660.1 453,659.6 477,663.2 501,713.7 525,667.6 548,704.3" stroke="#fde3d7"/>
<polyline points="429,722.3 453,669.0 477,690.3 501,733.6 525,658.5 548,659.0" stroke="#fde1d5"/>
<polyline points="429,721.7 453,680.9 477,685.8 501,733.2 525,681.6 548,686.2" stroke="#fcddd0"/>
<polyline points="429,692.9 453,700.3 477,677.8 501,720.4 525,670.0 548,691.7" stroke="#fcdbcd"/>
<polyline points="429,701.0 453,679.2 477,714.3 501,735.0 525,718.7 548,687.6" stroke="#fcdacc"/>
<polyline points="429,677.7 453,672.8 477,650.7 501,728.3 525,658.6 548,670.0" stroke="#fcd9cb"/>
<polyline points="429,672.0 453,699.6 477,669.7 501,720.2 525,718.5 548,671.9" stroke="#fcd9cb"/>
<polyline points="429,703.9 453,690.9 477,718.1 501,728.3 525,673.4 548,659.4" stroke="#fcd8c8"/>
<polyline points="429,668.1 453,710.2 477,683.4 501,708.6 525,671.5 548,673.8" stroke="#fcd7c7"/>
<polyline points="429,665.9 453,676.0 477,659.7 501,712.6 525,675.4 548,683.1" stroke="#fcd6c6"/>
<polyline points="429,665.8 453,666.7 477,686.3 501,723.6 525,669.4 548,670.7" stroke="#fcd6c6"/>
<polyline points="429,696.8 453,669.9 477,688.6 501,736.6 525,706.1 548,683.9" stroke="#fcd4c3"/>
<polyline points="429,669.6 453,665.5 477,688.2 501,729.4 525,694.8 548,656.6" stroke="#fcd3c2"/>
<polyline points="429,680.4 453,685.8 477,683.2 501,732.3 525,665.3 548,692.7" stroke="#fcd3c2"/>
<polyline points="429,665.8 453,693.3 477,661.7 501,730.9 525,658.3 548,668.6" stroke="#fcd2c0"/>
<polyline points="429,676.7 453,649.4 477,716.4 501,733.5 525,679.5 548,654.7" stroke="#fcd1bf"/>
<polyline points="429,704.7 453,649.5 477,684.1 501,713.0 525,675.8 548,676.7" stroke="#fcd1bf"/>
<polyline points="429,679.3 453,691.1 477,659.4 501,732.3 525,660.9 548,716.6" stroke="#fcd1bf"/>
<polyline points="429,676.2 453,686.0 477,690.8 501,709.3 525,673.7 548,704.3" stroke="#fcd0be"/>
<polyline points="429,654.2 453,665.5 477,666.2 501,709.3 525,663.1 548,650.4" stroke="#fcd0be"/>
<polyline points="429,669.2 453,678.2 477,688.5 501,735.4 525,664.9 548,659.5" stroke="#fcd0be"/>
<polyline points="429,703.3 453,696.5 477,689.2 501,730.3 525,716.2 548,714.6" stroke="#fccfbd"/>
<polyline points="429,697.6 453,697.3 477,715.9 501,732.1 525,673.0 548,675.3" stroke="#fccfbc"/>
<polyline points="429,694.9 453,687.6 477,661.8 501,731.0 525,682.0 548,658.9" stroke="#fccfbc"/>
<polyline points="429,687.0 453,699.4 477,665.6 501,729.9 525,672.1 548,672.2" stroke="#fbccb9"/>
<polyline points="429,695.6 453,662.1 477,666.8 501,737.9 525,690.0 548,685.4" stroke="#fbcab6"/>
<polyline points="429,657.9 453,679.6 477,673.2 501,728.4 525,653.2 548,672.4" stroke="#fbcab6"/>
<polyline points="429,696.5 453,656.1 477,655.5 501,732.0 525,673.8 548,679.6" stroke="#fbc9b4"/>
<polyline points="429,693.7 453,686.2 477,670.3 501,725.8 525,689.5 548,685.8" stroke="#fbc9b3"/>
<polyline points="429,666.0 453,701.1 477,670.1 501,729.9 525,659.0 548,670.2" stroke="#fbc7b2"/>
<polyline points="429,699.0 453,691.2 477,685.2 501,727.0 525,707.5 548,695.5" stroke="#fbc7b1"/>
<polyline points="429,704.4 453,678.4 477,667.6 501,713.1 525,713.5 548,681.3" stroke="#fbc6b1"/>
<polyline points="429,660.2 453,690.2 477,666.2 501,733.2 525,687.8 548,660.9" stroke="#fbc6b0"/>
<polyline points="429,704.0 453,670.8 477,656.8 501,727.3 525,653.6 548,670.1" stroke="#fbc4ad"/>
<polyline points="429,672.2 453,690.6 477,664.7 501,719.7 525,658.9 548,690.9" stroke="#fbc2ac"/>
<polyline points="429,686.1 453,677.4 477,682.5 501,729.0 525,671.7 548,705.8" stroke="#fbc1ab"/>
<polyline points="429,675.9 453,659.4 477,685.0 501,711.2 525,659.4 548,671.3" stroke="#fbc1ab"/>
<polyline points="429,709.9 453,657.9 477,689.8 501,732.9 525,680.5 548,669.5" stroke="#fbc1aa"/>
<polyline points="429,656.5 453,669.6 477,657.4 501,722.8 525,678.3 548,670.7" stroke="#fac1aa"/>
<polyline points="429,689.6 453,693.9 477,711.4 501,736.4 525,674.9 548,694.6" stroke="#fabea7"/>
<polyline points="429,674.5 453,695.4 477,669.0 501,725.7 525,678.2 548,656.4" stroke="#fabea7"/>
<polyline points="429,674.6 453,691.4 477,687.2 501,729.1 525,702.9 548,683.9" stroke="#fabea7"/>
<polyline points="429,686.4 453,659.6 477,658.5 501,713.7 525,666.1 548,693.8" stroke="#fabda6"/>
<polyline points="429,673.5 453,683.8 477,663.6 501,718.7 525,679.9 548,658.1" stroke="#fabda5"/>
<polyline points="429,672.2 453,705.1 477,674.8 501,730.1 525,680.7 548,690.2" stroke="#fabba3"/>
<polyline points="429,673.5 453,679.1 477,667.0 501,727.3 525,689.6 548,684.1" stroke="#fabaa2"/>
<polyline points="429,680.4 453,669.3 477,671.8 501,731.6 525,665.5 548,662.4" stroke="#fab9a2"/>
<polyline points="429,683.5 453,672.7 477,687.3 501,735.8 525,674.7 548,657.8" stroke="#fab9a1"/>
<polyline points="429,662.9 453,675.4 477,671.5 501,721.8 525,669.8 548,674.2" stroke="#fab9a1"/>
<polyline points="429,690.8 453,692.9 477,710.1 501,729.6 525,695.2 548,674.7" stroke="#fab9a1"/>
<polyline points="429,662.7 453,686.9 477,689.7 501,722.9 525,679.8 548,671.7" stroke="#fab8a0"/>
<polyline points="429,710.4 453,683.8 477,674.4 501,729.2 525,697.0 548,660.9" stroke="#fab79f"/>
<polyline points="429,699.1 453,665.2 477,660.8 501,729.6 525,668.1 548,679.5" stroke="#fab79f"/>
<polyline points="429,668.5 453,704.9 477,668.1 501,732.4 525,680.2 548,664.9" stroke="#fab69e"/>
<polyline points="429,671.1 453,698.6 477,662.4 501,729.5 525,687.1 548,710.3" stroke="#f9b69e"/>
<polyline points="429,671.8 453,673.9 477,678.9 501,730.6 525,707.0 548,693.0" stroke="#f9b59d"/>
<polyline points="429,706.9 453,692.8 477,687.1 501,732.6 525,686.9 548,708.4" stroke="#f9b39b"/>
<polyline points="429,705.0 453,693.9 477,677.9 501,725.0 525,691.9 548,675.4" stroke="#f9b39a"/>
<polyline points="429,684.2 453,654.3 477,685.1 501,724.4 525,672.0 548,671.4" stroke="#f9b39a"/>
<polyline points="429,702.2 453,675.2 477,673.6 501,731.0 525,670.2 548,670.4" stroke="#f9b198"/>
<polyline points="429,687.0 453,671.7 477,686.5 501,728.2 525,674.4 548,682.1" stroke="#f9b198"/>
<polyline points="429,664.1 453,687.4 477,693.8 501,733.0 525,686.8 548,687.9" stroke="#f9b198"/>
<polyline points="429,667.2 453,670.1 477,662.0 501,721.5 525,669.0 548,697.1" stroke="#f9b097"/>
<polyline points="429,693.6 453,707.3 477,664.2 501,713.0 525,671.1 548,667.8" stroke="#f9b097"/>
<polyline points="429,707.2 453,677.0 477,670.3 501,731.1 525,691.0 548,698.7" stroke="#f9af96"/>
<polyline points="429,670.4 453,655.6 477,666.3 501,729.7 525,694.3 548,676.3" stroke="#f9ae94"/>
<polyline points="429,686.4 453,687.2 477,696.7 501,736.4 525,699.4 548,708.5" stroke="#f9ae94"/>
<polyline points="429,687.5 453,672.7 477,693.9 501,730.5 525,668.9 548,678.3" stroke="#f9ad93"/>
<polyline points="429,659.2 453,663.8 477,673.9 501,732.7 525,672.9 548,678.5" stroke="#f9ad93"/>
<polyline points="429,679.5 453,676.1 477,668.1 501,715.9 525,670.9 548,657.0" stroke="#f9ac93"/>
<polyline points="429,675.9 453,687.5 477,670.9 501,718.9 525,694.8 548,678.4" stroke="#f9ac92"/>
<polyline points="429,690.1 453,708.3 477,668.0 501,719.4 525,677.3 548,695.0" stroke="#f8ab92"/>
<polyline points="429,681.2 453,668.0 477,703.5 501,731.7 525,693.5 548,673.1" stroke="#f8ab91"/>
<polyline points="429,692.4 453,681.5 477,672.4 501,725.7 525,683.0 548,706.9" stroke="#f8aa90"/>
<polyline points="429,677.8 453,691.1 477,664.1 501,735.4 525,690.7 548,695.3" stroke="#f8a88d"/>
<polyline points="429,671.9 453,659.2 477,681.7 501,722.4 525,706.5 548,687.9" stroke="#f8a78c"/>
<polyline points="429,689.7 453,677.1 477,682.9 501,726.8 525,678.9 548,680.9" stroke="#f8a68b"/>
<polyline points="429,692.3 453,683.2 477,668.8 501,714.5 525,674.3 548,682.9" stroke="#f8a58a"/>
<polyline points="429,668.4 453,669.3 477,677.6 501,716.9 525,688.6 548,699.9" stroke="#f8a48a"/>
<polyline points="429,676.2 453,675.9 477,674.8 501,726.7 525,657.6 548,668.4" stroke="#f8a489"/>
<polyline points="429,673.4 453,706.6 477,664.3 501,721.4 525,683.7 548,654.6" stroke="#f8a489"/>
<polyline points="429,672.2 453,682.9 477,656.9 501,731.8 525,667.6 548,673.0" stroke="#f8a388"/>
<polyline points="429,668.5 453,665.9 477,662.6 501,726.8 525,668.4 548,690.6" stroke="#f8a287"/>
<polyline points="429,660.7 453,669.4 477,676.5 501,717.1 525,672.1 548,658.4" stroke="#f7a084"/>
<polyline points="429,669.3 453,668.3 477,695.6 501,732.7 525,680.7 548,660.5" stroke="#f79f84"/>
<polyline points="429,694.0 453,682.7 477,664.9 501,732.7 525,682.8 548,697.7" stroke="#f79f83"/>
<polyline points="429,660.9 453,669.7 477,665.7 501,725.4 525,668.6 548,687.8" stroke="#f79e82"/>
<polyline points="429,676.1 453,672.0 477,686.6 501,731.9 525,664.2 548,676.1" stroke="#f79e82"/>
<polyline points="429,682.2 453,674.2 477,688.3 501,735.5 525,686.9 548,691.1" stroke="#f79d81"/>
<polyline points="429,684.2 453,673.9 477,670.3 501,715.1 525,689.7 548,663.7" stroke="#f79d81"/>
<polyline points="429,679.8 453,674.1 477,657.7 501,715.4 525,695.1 548,668.0" stroke="#f79d81"/>
<polyline points="429,674.9 453,657.9 477,681.9 501,729.9 525,680.5 548,652.5" stroke="#f79d81"/>
<polyline points="429,672.8 453,667.6 477,665.5 501,722.7 525,669.2 548,652.8" stroke="#f79b7f"/>
<polyline points="429,677.3 453,687.3 477,669.0 501,730.3 525,694.0 548,689.8" stroke="#f79a7e"/>
<polyline points="429,683.4 453,673.8 477,686.3 501,726.2 525,665.3 548,667.4" stroke="#f7987c"/>
<polyline points="429,672.0 453,672.0 477,663.2 501,721.8 525,686.5 548,656.4" stroke="#f7977b"/>
<polyline points="429,668.2 453,676.6 477,658.1 501,719.2 525,675.0 548,703.5" stroke="#f7977b"/>
<polyline points="429,688.4 453,695.1 477,658.3 501,718.7 525,702.7 548,673.2" stroke="#f69579"/>
<polyline points="429,685.7 453,658.9 477,670.2 501,730.9 525,668.8 548,684.7" stroke="#f69477"/>
<polyline points="429,704.9 453,690.7 477,682.4 501,735.1 525,701.4 548,702.8" stroke="#f69377"/>
<polyline points="429,675.8 453,690.7 477,671.5 501,729.7 525,676.6 548,682.7" stroke="#f69276"/>
<polyline points="429,680.7 453,703.1 477,675.0 501,735.0 525,702.1 548,667.4" stroke="#f69175"/>
<polyline points="429,676.2 453,679.4 477,686.6 501,727.0 525,669.0 548,664.5" stroke="#f68f73"/>
<polyline points="429,678.4 453,667.8 477,670.4 501,728.6 525,670.9 548,681.1" stroke="#f68f72"/>
<polyline points="429,671.2 453,665.7 477,674.8 501,734.8 525,674.8 548,669.4" stroke="#f68e71"/>
<polyline points="429,663.6 453,676.9 477,675.5 501,718.7 525,678.1 548,686.3" stroke="#f68d71"/>
<polyline points="429,680.9 453,684.5 477,663.1 501,730.6 525,671.7 548,681.1" stroke="#f58c70"/>
<polyline points="429,685.6 453,695.9 477,686.9 501,730.7 525,692.2 548,695.6" stroke="#f58a6d"/>
<polyline points="429,681.1 453,682.0 477,672.5 501,731.7 525,677.2 548,683.0" stroke="#f5886b"/>
<polyline points="429,686.9 453,672.3 477,668.5 501,726.1 525,688.7 548,692.6" stroke="#f5876a"/>
<polyline points="429,677.3 453,681.9 477,664.0 501,729.3 525,672.7 548,661.0" stroke="#f58669"/>
<polyline points="429,670.2 453,675.4 477,674.4 501,734.5 525,670.8 548,687.0" stroke="#f48366"/>
<polyline points="429,674.1 453,673.6 477,662.0 501,718.0 525,665.7 548,675.0" stroke="#f48266"/>
<polyline points="429,687.1 453,682.4 477,685.0 501,728.5 525,680.8 548,699.1" stroke="#f48266"/>
<polyline points="429,697.3 453,700.7 477,669.3 501,734.4 525,690.8 548,699.4" stroke="#f48266"/>
<polyline points="429,677.0 453,682.4 477,669.8 501,718.7 525,665.7 548,666.6" stroke="#f47f63"/>
<polyline points="429,672.4 453,664.2 477,684.0 501,731.3 525,661.5 548,694.7" stroke="#f47d61"/>
<polyline points="429,668.5 453,675.0 477,672.1 501,729.7 525,689.1 548,688.2" stroke="#f47c5f"/>
<polyline points="429,674.7 453,682.5 477,690.7 501,731.0 525,698.3 548,669.8" stroke="#f47b5f"/>
<polyline points="429,677.2 453,668.7 477,667.5 501,720.0 525,666.8 548,667.9" stroke="#f47b5e"/>
<polyline points="429,677.6 453,667.2 477,670.4 501,726.6 525,670.2 548,683.4" stroke="#f47b5e"/>
<polyline points="429,675.4 453,694.6 477,660.6 501,724.3 525,671.2 548,693.3" stroke="#f47a5d"/>
<polyline points="429,669.2 453,694.4 477,677.0 501,730.6 525,689.3 548,698.8" stroke="#f47a5d"/>
<polyline points="429,673.7 453,666.7 477,693.7 501,725.8 525,674.0 548,676.1" stroke="#f47a5d"/>
<polyline points="429,673.8 453,681.5 477,670.0 501,729.6 525,662.0 548,657.5" stroke="#f3795c"/>
<polyline points="429,696.2 453,689.0 477,672.0 501,730.4 525,672.2 548,674.0" stroke="#f37457"/>
<polyline points="429,685.2 453,675.8 477,671.8 501,730.6 525,662.4 548,677.0" stroke="#f37457"/>
<polyline points="429,690.3 453,664.0 477,668.3 501,718.5 525,668.4 548,683.2" stroke="#f37357"/>
<polyline points="429,669.1 453,679.8 477,673.2 501,733.8 525,686.1 548,687.4" stroke="#f37154"/>
<polyline points="429,681.9 453,669.9 477,664.9 501,718.8 525,666.9 548,666.6" stroke="#f37053"/>
<polyline points="429,687.6 453,680.6 477,692.4 501,726.4 525,686.1 548,675.1" stroke="#f37053"/>
<polyline points="429,677.5 453,697.4 477,690.4 501,730.3 525,681.3 548,689.5" stroke="#f26e51"/>
<polyline points="429,690.7 453,673.7 477,677.7 501,731.2 525,670.1 548,666.2" stroke="#f26e51"/>
<polyline points="429,687.7 453,695.8 477,671.3 501,728.7 525,679.4 548,682.9" stroke="#f26c4f"/>
<polyline points="429,679.6 453,691.2 477,670.3 501,729.9 525,674.6 548,675.0" stroke="#f26b4e"/>
<polyline points="429,670.3 453,679.9 477,671.8 501,719.6 525,679.5 548,659.4" stroke="#f26b4e"/>
<polyline points="429,682.3 453,675.1 477,673.7 501,732.0 525,674.0 548,684.3" stroke="#f26a4d"/>
<polyline points="429,669.8 453,682.2 477,691.7 501,730.8 525,688.2 548,672.2" stroke="#f26a4d"/>
<polyline points="429,686.9 453,680.5 477,676.9 501,730.7 525,669.8 548,667.5" stroke="#f2694c"/>
<polyline points="429,679.7 453,674.4 477,665.7 501,723.0 525,676.4 548,672.0" stroke="#f2694c"/>
<polyline points="429,674.5 453,664.0 477,671.9 501,722.5 525,663.7 548,672.1" stroke="#f1684b"/>
<polyline points="429,697.3 453,679.1 477,675.4 501,727.7 525,672.6 548,693.9" stroke="#f1674b"/>
<polyline points="429,676.3 453,696.1 477,673.9 501,729.4 525,675.0 548,671.1" stroke="#f1674b"/>
<polyline points="429,672.9 453,686.6 477,666.4 501,727.6 525,676.8 548,693.3" stroke="#f1674a"/>
<polyline points="429,666.3 453,667.8 477,683.3 501,727.0 525,671.3 548,666.2" stroke="#f1674a"/>
<polyline points="429,681.0 453,686.8 477,693.1 501,733.4 525,673.0 548,695.2" stroke="#f1664a"/>
<polyline points="429,688.8 453,691.1 477,675.0 501,730.8 525,676.5 548,677.9" stroke="#f16649"/>
<polyline points="429,691.9 453,677.3 477,686.1 501,730.5 525,686.3 548,675.8" stroke="#f16549"/>
<polyline points="429,675.2 453,691.1 477,677.7 501,721.0 525,678.2 548,662.0" stroke="#f16549"/>
<polyline points="429,677.8 453,672.3 477,683.2 501,732.1 525,694.1 548,680.6" stroke="#f16448"/>
<polyline points="429,682.8 453,669.7 477,675.3 501,729.7 525,667.9 548,663.0" stroke="#f16448"/>
<polyline points="429,685.5 453,677.6 477,681.7 501,729.7 525,670.8 548,686.5" stroke="#f06348"/>
<polyline points="429,668.2 453,671.1 477,665.0 501,723.8 525,687.4 548,670.8" stroke="#f06347"/>
<polyline points="429,674.8 453,673.0 477,685.9 501,728.9 525,671.9 548,660.9" stroke="#f06247"/>
<polyline points="429,691.7 453,682.3 477,671.3 501,729.0 525,675.8 548,675.7" stroke="#f06146"/>
<polyline points="429,676.1 453,668.8 477,675.6 501,726.6 525,668.6 548,663.0" stroke="#ef5f44"/>
<polyline points="429,676.2 453,680.8 477,669.7 501,733.0 525,677.9 548,678.2" stroke="#ef5e44"/>
<polyline points="429,675.7 453,673.4 477,664.6 501,720.5 525,673.3 548,661.5" stroke="#ef5e44"/>
<polyline points="429,676.1 453,665.3 477,666.1 501,724.3 525,664.8 548,661.5" stroke="#ef5e44"/>
<polyline points="429,674.2 453,666.5 477,666.5 501,726.0 525,670.6 548,661.6" stroke="#ef5e44"/>
<polyline points="429,688.6 453,666.9 477,691.3 501,727.2 525,671.9 548,682.7" stroke="#ef5e44"/>
<polyline points="429,667.4 453,667.3 477,667.6 501,726.3 525,677.6 548,670.1" stroke="#ef5d43"/>
<polyline points="429,676.2 453,681.6 477,669.8 501,727.8 525,673.6 548,669.3" stroke="#ef5d43"/>
<polyline points="429,678.7 453,675.6 477,680.4 501,726.5 525,682.4 548,676.2" stroke="#ef5c42"/>
<polyline points="429,671.1 453,681.7 477,676.8 501,730.8 525,668.8 548,662.0" stroke="#ef5c42"/>
<polyline points="429,674.8 453,676.7 477,670.2 501,725.9 525,672.7 548,681.9" stroke="#ef5c42"/>
<polyline points="429,685.3 453,693.8 477,666.1 501,729.5 525,677.6 548,685.5" stroke="#ee5b41"/>
<polyline points="429,681.4 453,675.1 477,672.8 501,729.5 525,670.1 548,667.1" stroke="#ee5b41"/>
<polyline points="429,682.9 453,682.3 477,669.2 501,728.6 525,672.1 548,666.6" stroke="#ee5b41"/>
<polyline points="429,670.1 453,679.0 477,671.0 501,729.9 525,675.7 548,681.9" stroke="#ee5b41"/>
<polyline points="429,677.2 453,678.8 477,667.3 501,726.5 525,669.9 548,674.3" stroke="#ee5a40"/>
<polyline points="429,694.4 453,682.6 477,680.7 501,729.6 525,678.6 548,681.6" stroke="#ee5a40"/>
<polyline points="429,670.0 453,675.4 477,669.4 501,727.7 525,687.5 548,680.5" stroke="#ee5940"/>
<polyline points="429,691.9 453,680.3 477,665.7 501,732.7 525,674.6 548,668.4" stroke="#ee593f"/>
<polyline points="429,690.7 453,678.2 477,689.9 501,730.5 525,679.0 548,688.9" stroke="#ee583f"/>
<polyline points="429,689.9 453,692.9 477,672.9 501,732.6 525,680.3 548,692.1" stroke="#ee573e"/>
<polyline points="429,681.1 453,677.8 477,678.8 501,732.6 525,685.6 548,680.6" stroke="#ed573e"/>
<polyline points="429,676.0 453,678.0 477,679.9 501,731.9 525,691.2 548,671.1" stroke="#ed573e"/>
<polyline points="429,685.9 453,671.8 477,679.3 501,724.0 525,686.6 548,676.0" stroke="#ed553d"/>
<polyline points="429,692.2 453,678.4 477,684.7 501,728.4 525,673.1 548,674.2" stroke="#ed553c"/>
<polyline points="429,676.6 453,679.4 477,665.0 501,731.5 525,677.0 548,674.5" stroke="#ed543c"/>
<polyline points="429,683.0 453,688.1 477,670.8 501,730.4 525,688.1 548,688.6" stroke="#ed543c"/>
<polyline points="429,684.9 453,673.0 477,664.6 501,731.4 525,678.6 548,682.4" stroke="#ed543c"/>
<polyline points="429,682.5 453,685.0 477,670.8 501,729.4 525,684.4 548,667.8" stroke="#ed543c"/>
<polyline points="429,672.0 453,677.9 477,667.5 501,730.7 525,666.3 548,686.3" stroke="#ec513a"/>
<polyline points="429,681.5 453,677.8 477,676.8 501,730.6 525,672.1 548,674.3" stroke="#ec513a"/>
<polyline points="429,682.9 453,680.0 477,668.1 501,731.6 525,683.6 548,686.4" stroke="#ec5139"/>
<polyline points="429,676.8 453,691.6 477,668.3 501,731.2 525,673.0 548,672.6" stroke="#ec5039"/>
<polyline points="429,675.1 453,667.3 477,669.9 501,726.2 525,668.0 548,670.0" stroke="#ec5039"/>
<polyline points="429,676.1 453,680.6 477,671.1 501,730.5 525,689.5 548,675.7" stroke="#eb4f37"/>
<polyline points="429,681.1 453,680.1 477,667.0 501,722.1 525,667.2 548,667.7" stroke="#eb4e37"/>
<polyline points="429,681.6 453,677.3 477,670.3 501,730.7 525,670.3 548,678.1" stroke="#eb4d36"/>
<polyline points="429,673.2 453,668.1 477,680.6 501,726.1 525,673.7 548,683.6" stroke="#eb4c35"/>
<polyline points="429,675.0 453,678.5 477,672.2 501,724.6 525,674.6 548,686.2" stroke="#eb4c35"/>
<polyline points="429,677.4 453,680.1 477,669.8 501,730.8 525,669.6 548,683.5" stroke="#eb4b35"/>
<polyline points="429,673.2 453,678.6 477,677.1 501,730.9 525,675.6 548,679.4" stroke="#eb4b34"/>
<polyline points="429,673.0 453,684.5 477,686.9 501,730.9 525,682.1 548,683.1" stroke="#ea4a34"/>
<polyline points="429,678.6 453,673.0 477,673.2 501,729.1 525,674.4 548,675.6" stroke="#ea4933"/>
<polyline points="429,676.1 453,673.8 477,669.0 501,725.8 525,685.2 548,675.0" stroke="#ea4933"/>
<polyline points="429,675.4 453,674.7 477,676.7 501,724.2 525,681.2 548,677.8" stroke="#ea4731"/>
<polyline points="429,681.1 453,679.3 477,671.5 501,729.6 525,676.0 548,674.8" stroke="#ea4731"/>
<polyline points="429,671.3 453,674.0 477,667.2 501,726.8 525,670.8 548,665.6" stroke="#e94631"/>
<polyline points="429,676.0 453,682.0 477,682.4 501,724.8 525,671.6 548,670.6" stroke="#e94631"/>
<polyline points="429,679.9 453,680.5 477,670.8 501,729.1 525,678.0 548,683.9" stroke="#e94530"/>
<polyline points="429,674.6 453,682.9 477,677.3 501,723.0 525,674.4 548,681.8" stroke="#e94530"/>
<polyline points="429,674.2 453,674.4 477,677.2 501,728.3 525,672.7 548,674.6" stroke="#e9442f"/>
<polyline points="429,686.9 453,684.7 477,674.9 501,731.1 525,675.8 548,686.3" stroke="#e9442f"/>
<polyline points="429,671.0 453,686.3 477,679.3 501,730.6 525,670.4 548,674.7" stroke="#e9432f"/>
<polyline points="429,675.1 453,678.1 477,666.1 501,730.3 525,683.3 548,672.1" stroke="#e9432f"/>
<polyline points="429,676.7 453,675.8 477,670.7 501,723.2 525,673.7 548,675.7" stroke="#e9432e"/>
<polyline points="429,685.2 453,684.3 477,678.4 501,731.7 525,678.5 548,674.0" stroke="#e9432e"/>
<polyline points="429,670.6 453,671.6 477,671.4 501,728.2 525,673.0 548,678.6" stroke="#e8422e"/>
<polyline points="429,676.2 453,682.0 477,671.9 501,730.4 525,673.4 548,683.7" stroke="#e8412d"/>
<polyline points="429,674.4 453,675.3 477,668.0 501,729.0 525,671.5 548,673.8" stroke="#e8412d"/>
<polyline points="429,672.6 453,676.9 477,669.7 501,723.5 525,668.3 548,673.4" stroke="#e8402c"/>
<polyline points="429,675.1 453,676.9 477,669.8 501,728.2 525,675.9 548,669.2" stroke="#e73f2c"/>
<polyline points="429,677.4 453,676.5 477,672.1 501,729.5 525,682.9 548,670.2" stroke="#e73f2b"/>
<polyline points="429,682.3 453,674.2 477,672.7 501,723.8 525,675.5 548,674.8" stroke="#e63e2b"/>
<polyline points="429,680.7 453,678.3 477,671.0 501,729.5 525,683.4 548,675.0" stroke="#e53d2b"/>
<polyline points="429,680.1 453,675.5 477,680.6 501,724.2 525,683.1 548,678.4" stroke="#e53d2b"/>
<polyline points="429,675.5 453,675.5 477,675.2 501,727.7 525,669.6 548,673.8" stroke="#e33b2a"/>
<polyline points="429,678.8 453,683.0 477,676.5 501,731.1 525,676.7 548,672.8" stroke="#e23a29"/>
<polyline points="429,673.5 453,672.7 477,667.4 501,727.6 525,675.0 548,674.9" stroke="#e23a29"/>
<polyline points="429,686.2 453,683.3 477,679.2 501,730.9 525,672.6 548,681.6" stroke="#e23a29"/>
<polyline points="429,683.2 453,679.2 477,673.3 501,728.9 525,671.4 548,677.3" stroke="#e23a29"/>
<polyline points="429,677.5 453,675.7 477,672.6 501,730.1 525,670.0 548,676.6" stroke="#e03828"/>
<polyline points="429,675.7 453,684.7 477,679.5 501,730.2 525,684.5 548,678.0" stroke="#e03728"/>
<polyline points="429,675.6 453,679.1 477,667.5 501,729.7 525,672.5 548,675.8" stroke="#df3728"/>
<polyline points="429,680.1 453,678.8 477,673.9 501,729.6 525,673.0 548,674.0" stroke="#df3728"/>
<polyline points="429,683.2 453,673.9 477,671.5 501,726.5 525,675.5 548,672.3" stroke="#dd3527"/>
<polyline points="429,679.2 453,671.5 477,679.5 501,730.6 525,672.8 548,668.8" stroke="#dd3427"/>
<polyline points="429,680.2 453,678.9 477,672.6 501,731.0 525,672.5 548,682.2" stroke="#dc3427"/>
<polyline points="429,673.3 453,671.9 477,669.0 501,726.9 525,674.1 548,671.5" stroke="#dc3426"/>
<polyline points="429,680.6 453,685.6 477,678.8 501,729.9 525,674.3 548,673.6" stroke="#dc3326"/>
<polyline points="429,676.2 453,676.0 477,669.2 501,728.5 525,670.8 548,673.1" stroke="#dc3326"/>
<polyline points="429,677.5 453,672.2 477,671.1 501,729.6 525,670.1 548,676.7" stroke="#da3226"/>
<polyline points="429,675.3 453,680.3 477,677.9 501,729.5 525,674.6 548,673.8" stroke="#da3226"/>
<polyline points="429,679.5 453,671.8 477,670.8 501,729.8 525,675.6 548,672.7" stroke="#da3125"/>
<polyline points="429,682.9 453,681.5 477,671.7 501,729.8 525,680.4 548,679.3" stroke="#da3125"/>
<polyline points="429,677.3 453,675.4 477,670.2 501,726.7 525,677.7 548,680.1" stroke="#d93125"/>
<polyline points="429,674.4 453,685.0 477,678.8 501,730.3 525,679.7 548,677.5" stroke="#d93025"/>
<polyline points="429,684.4 453,680.2 477,675.1 501,730.1 525,676.6 548,679.5" stroke="#d93025"/>
<polyline points="429,680.6 453,683.8 477,672.4 501,728.5 525,678.5 548,677.8" stroke="#d72e24"/>
<polyline points="429,673.7 453,673.4 477,672.1 501,726.3 525,674.1 548,677.6" stroke="#d72e24"/>
<polyline points="429,676.1 453,683.6 477,673.7 501,728.0 525,680.0 548,674.2" stroke="#d62d24"/>
<polyline points="429,677.2 453,681.2 477,676.8 501,727.6 525,678.3 548,673.5" stroke="#d62d23"/>
<polyline points="429,679.5 453,676.6 477,670.8 501,729.8 525,674.4 548,678.9" stroke="#d52d23"/>
<polyline points="429,681.7 453,681.7 477,671.6 501,730.3 525,679.0 548,670.1" stroke="#d52d23"/>
<polyline points="429,681.9 453,677.3 477,671.7 501,729.7 525,674.1 548,681.7" stroke="#d52c23"/>
<polyline points="429,679.6 453,677.0 477,675.2 501,728.3 525,678.6 548,675.9" stroke="#d42c23"/>
<polyline points="429,676.7 453,676.9 477,670.2 501,727.5 525,675.0 548,672.6" stroke="#d42b23"/>
<polyline points="429,677.1 453,680.3 477,671.7 501,729.5 525,681.2 548,671.0" stroke="#d42b23"/>
<polyline points="429,675.2 453,672.6 477,670.6 501,726.6 525,675.1 548,678.7" stroke="#d42b23"/>
<polyline points="429,680.7 453,678.9 477,673.9 501,729.4 525,674.5 548,672.1" stroke="#d32b22"/>
<polyline points="429,684.3 453,678.8 477,673.1 501,727.1 525,675.2 548,672.5" stroke="#d32a22"/>
<polyline points="429,676.8 453,681.1 477,673.9 501,730.3 525,671.1 548,674.7" stroke="#d32a22"/>
<polyline points="429,676.3 453,675.9 477,671.1 501,728.7 525,681.0 548,676.9" stroke="#d22a22"/>
<polyline points="429,675.5 453,675.8 477,679.3 501,728.5 525,676.8 548,682.5" stroke="#d12921"/>
<polyline points="429,675.7 453,679.1 477,673.4 501,729.9 525,679.7 548,676.0" stroke="#d12821"/>
<polyline points="429,673.7 453,676.5 477,672.1 501,729.7 525,676.7 548,673.8" stroke="#d02821"/>
</g>
<polyline points="428.8,681.9 452.7,682.4 476.7,676.8 500.6,723.9 524.6,679.8 548.5,680.3" fill="none" stroke="#111" stroke-width="1.6" stroke-linejoin="round"/>
<line x1="424.30" y1="637.00" x2="424.30" y2="737.80" stroke="#555" stroke-width="1"/>
<line x1="419.80" y1="637.00" x2="424.30" y2="637.00" stroke="#555" stroke-width="1"/>
<text class="ns" x="411.20" y="637.00" font-size="12.5" text-anchor="middle" font-family='"Liberation Sans", sans-serif' fill="#333" transform="rotate(-90 411.20 637.00)" dy="4.4">2</text>
<line x1="419.80" y1="662.20" x2="424.30" y2="662.20" stroke="#555" stroke-width="1"/>
<text class="ns" x="411.20" y="662.20" font-size="12.5" text-anchor="middle" font-family='"Liberation Sans", sans-serif' fill="#333" transform="rotate(-90 411.20 662.20)" dy="4.4">1</text>
<line x1="419.80" y1="687.40" x2="424.30" y2="687.40" stroke="#555" stroke-width="1"/>
<text class="ns" x="411.20" y="687.40" font-size="12.5" text-anchor="middle" font-family='"Liberation Sans", sans-serif' fill="#333" transform="rotate(-90 411.20 687.40)" dy="4.4">0</text>
<line x1="419.80" y1="712.60" x2="424.30" y2="712.60" stroke="#555" stroke-width="1"/>
<text class="ns" x="411.20" y="712.60" font-size="12.5" text-anchor="middle" font-family='"Liberation Sans", sans-serif' fill="#333" transform="rotate(-90 411.20 712.60)" dy="4.4">−1</text>
<line x1="419.80" y1="737.80" x2="424.30" y2="737.80" stroke="#555" stroke-width="1"/>
<text class="ns" x="411.20" y="737.80" font-size="12.5" text-anchor="middle" font-family='"Liberation Sans", sans-serif' fill="#333" transform="rotate(-90 411.20 737.80)" dy="4.4">−2</text>
<line x1="428.80" y1="742.70" x2="548.50" y2="742.70" stroke="#555" stroke-width="1"/>
<line x1="428.80" y1="742.70" x2="428.80" y2="747.20" stroke="#555" stroke-width="1"/>
<text x="433.30" y="754.70" font-size="10.4" text-anchor="end" font-family='"Liberation Sans", sans-serif' fill="#1a1a1a" transform="rotate(-42 433.30 754.70)">WS-2h</text>
<line x1="452.74" y1="742.70" x2="452.74" y2="747.20" stroke="#555" stroke-width="1"/>
<text x="457.24" y="754.70" font-size="10.4" text-anchor="end" font-family='"Liberation Sans", sans-serif' fill="#1a1a1a" transform="rotate(-42 457.24 754.70)">WS-4h</text>
<line x1="476.68" y1="742.70" x2="476.68" y2="747.20" stroke="#555" stroke-width="1"/>
<text x="481.18" y="754.70" font-size="10.4" text-anchor="end" font-family='"Liberation Sans", sans-serif' fill="#1a1a1a" transform="rotate(-42 481.18 754.70)">WS-6h</text>
<line x1="500.62" y1="742.70" x2="500.62" y2="747.20" stroke="#555" stroke-width="1"/>
<text x="505.12" y="754.70" font-size="10.4" text-anchor="end" font-family='"Liberation Sans", sans-serif' fill="#1a1a1a" transform="rotate(-42 505.12 754.70)">WS-8h</text>
<line x1="524.56" y1="742.70" x2="524.56" y2="747.20" stroke="#555" stroke-width="1"/>
<text x="529.06" y="754.70" font-size="10.4" text-anchor="end" font-family='"Liberation Sans", sans-serif' fill="#1a1a1a" transform="rotate(-42 529.06 754.70)">WS-10h</text>
<line x1="548.50" y1="742.70" x2="548.50" y2="747.20" stroke="#555" stroke-width="1"/>
<text x="553.00" y="754.70" font-size="10.4" text-anchor="end" font-family='"Liberation Sans", sans-serif' fill="#1a1a1a" transform="rotate(-42 553.00 754.70)">WS-12h</text>
<text x="484.80" y="634.92" font-size="13.1" text-anchor="middle" font-family='"Liberation Sans", sans-serif' fill="#1a1a1a">Cluster8</text>
<text x="394.00" y="687.00" font-size="13.2" text-anchor="middle" font-family='"Liberation Sans", sans-serif' fill="#1a1a1a" transform="rotate(-90 394.00 687.00)" dy="4.75">Expression change</text>
<polygon points="598.6,652.3 610.5,693.3 622.5,714.5 634.4,692.7 646.3,650.0 658.2,659.6 670.2,643.0 682.1,659.6 694.0,650.0 706.0,660.8 717.9,647.7 717.9,717.3 706.0,699.8 694.0,721.9 682.1,699.1 670.2,715.0 658.2,697.9 646.3,717.3 634.4,717.9 622.5,738.9 610.5,713.4 598.6,701.0" fill="#fcd5c5" filter="url(#bl)"/>
<polygon points="598.6,663.1 610.5,697.2 622.5,724.2 634.4,696.7 646.3,661.8 658.2,664.6 670.2,658.1 682.1,664.6 694.0,661.8 706.0,665.5 717.9,660.6 717.9,698.0 706.0,692.1 694.0,700.5 682.1,691.7 670.2,696.7 658.2,690.8 646.3,698.0 634.4,714.0 622.5,737.3 610.5,710.9 598.6,689.2" fill="#f7a083" filter="url(#bl)"/>
<g fill="none" stroke-width="1.25" stroke-linejoin="round" stroke-opacity="0.9" filter="url(#bl)">
<polyline points="599,663.3 622,714.2 646,655.2 670,693.6 694,676.7 718,681.0" stroke="#fcd8c9"/>
<polyline points="599,659.3 622,736.3 646,662.5 670,656.7 694,685.9 718,658.9" stroke="#fcd5c5"/>
<polyline points="599,673.0 622,737.0 646,690.3 670,671.8 694,696.6 718,672.0" stroke="#fcd5c4"/>
<polyline points="599,662.4 622,732.1 646,649.8 670,659.3 694,649.8 718,660.2" stroke="#fcd1c0"/>
<polyline points="599,657.0 622,721.1 646,680.9 670,643.3 694,683.0 718,682.4" stroke="#fccfbc"/>
<polyline points="599,668.1 622,717.9 646,660.1 670,649.8 694,673.9 718,705.8" stroke="#fbccb8"/>
<polyline points="599,662.4 622,723.5 646,706.3 670,687.6 694,669.7 718,678.3" stroke="#fbccb8"/>
<polyline points="599,668.1 622,735.4 646,676.7 670,680.0 694,686.1 718,682.6" stroke="#fbc9b4"/>
<polyline points="599,684.0 622,730.9 646,703.5 670,695.9 694,683.1 718,667.0" stroke="#fbc9b4"/>
<polyline points="599,693.0 622,728.6 646,668.9 670,657.2 694,673.9 718,675.2" stroke="#fbc9b4"/>
<polyline points="599,689.0 622,735.7 646,675.6 670,644.4 694,692.3 718,669.0" stroke="#fbc9b4"/>
<polyline points="599,667.6 622,725.4 646,715.4 670,699.8 694,681.7 718,702.7" stroke="#fbc8b3"/>
<polyline points="599,699.8 622,738.5 646,660.6 670,695.6 694,676.4 718,694.1" stroke="#fbc8b3"/>
<polyline points="599,692.3 622,733.1 646,661.6 670,706.5 694,708.4 718,656.5" stroke="#fbc8b2"/>
<polyline points="599,667.7 622,724.4 646,677.7 670,701.3 694,695.4 718,666.3" stroke="#fbc8b2"/>
<polyline points="599,678.1 622,737.9 646,714.0 670,680.2 694,667.4 718,692.5" stroke="#fbc7b1"/>
<polyline points="599,683.3 622,724.6 646,655.3 670,665.8 694,668.1 718,658.0" stroke="#fbc6b1"/>
<polyline points="599,696.5 622,733.4 646,679.0 670,698.6 694,673.2 718,688.5" stroke="#fbc6b0"/>
<polyline points="599,673.2 622,730.2 646,653.7 670,645.1 694,671.9 718,658.3" stroke="#fbc5af"/>
<polyline points="599,674.9 622,737.3 646,708.3 670,690.4 694,692.4 718,690.9" stroke="#fbc4ad"/>
<polyline points="599,666.0 622,732.4 646,684.4 670,659.8 694,705.8 718,681.6" stroke="#fac0a9"/>
<polyline points="599,664.4 622,734.5 646,661.7 670,674.2 694,664.2 718,699.0" stroke="#fabfa8"/>
<polyline points="599,667.5 622,735.5 646,661.1 670,665.5 694,688.4 718,663.2" stroke="#fabfa8"/>
<polyline points="599,673.2 622,736.6 646,696.5 670,711.2 694,686.9 718,699.8" stroke="#fabda6"/>
<polyline points="599,681.3 622,735.6 646,682.7 670,672.8 694,716.3 718,708.2" stroke="#fabda6"/>
<polyline points="599,675.1 622,737.3 646,713.2 670,710.5 694,677.1 718,672.2" stroke="#fabda5"/>
<polyline points="599,670.8 622,735.0 646,664.7 670,662.2 694,692.3 718,688.3" stroke="#fabda5"/>
<polyline points="599,693.9 622,726.2 646,666.6 670,676.6 694,684.0 718,702.9" stroke="#fabca5"/>
<polyline points="599,690.8 622,736.9 646,665.6 670,671.0 694,664.5 718,656.8" stroke="#fabaa3"/>
<polyline points="599,683.3 622,737.5 646,692.2 670,686.1 694,655.9 718,682.3" stroke="#fabaa2"/>
<polyline points="599,665.0 622,727.6 646,697.9 670,678.3 694,665.0 718,685.6" stroke="#fabaa2"/>
<polyline points="599,661.0 622,724.3 646,695.7 670,660.3 694,673.8 718,671.8" stroke="#fabaa2"/>
<polyline points="599,669.2 622,726.7 646,653.0 670,658.1 694,665.4 718,685.9" stroke="#fab8a0"/>
<polyline points="599,662.8 622,733.7 646,685.5 670,666.5 694,673.8 718,682.2" stroke="#fab8a0"/>
<polyline points="599,688.0 622,734.0 646,698.6 670,673.1 694,674.8 718,697.4" stroke="#f9b59d"/>
<polyline points="599,691.9 622,731.9 646,678.7 670,697.4 694,659.0 718,679.9" stroke="#f9b49b"/>
<polyline points="599,666.2 622,717.4 646,692.9 670,672.7 694,661.0 718,669.6" stroke="#f9b49b"/>
<polyline points="599,671.6 622,738.4 646,693.8 670,709.6 694,666.3 718,670.7" stroke="#f9b49b"/>
<polyline points="599,696.7 622,732.5 646,664.5 670,686.7 694,694.1 718,675.8" stroke="#f9ad93"/>
<polyline points="599,671.8 622,718.1 646,661.1 670,671.7 694,679.2 718,696.8" stroke="#f9ac92"/>
<polyline points="599,667.4 622,738.3 646,680.6 670,667.1 694,675.3 718,685.2" stroke="#f8ab92"/>
<polyline points="599,665.1 622,737.2 646,704.6 670,664.7 694,655.2 718,682.3" stroke="#f8a88e"/>
<polyline points="599,675.0 622,727.9 646,693.7 670,686.6 694,685.2 718,674.0" stroke="#f8a78d"/>
<polyline points="599,663.5 622,719.0 646,670.7 670,696.1 694,671.2 718,694.6" stroke="#f8a78c"/>
<polyline points="599,679.1 622,732.3 646,670.0 670,659.8 694,670.4 718,653.4" stroke="#f8a68b"/>
<polyline points="599,685.3 622,736.4 646,698.0 670,673.9 694,678.7 718,669.4" stroke="#f8a58a"/>
<polyline points="599,681.5 622,720.7 646,693.0 670,673.9 694,667.0 718,678.5" stroke="#f8a58a"/>
<polyline points="599,661.9 622,727.1 646,685.1 670,664.5 694,655.5 718,665.5" stroke="#f8a489"/>
<polyline points="599,695.6 622,736.6 646,689.1 670,688.6 694,692.8 718,708.3" stroke="#f8a389"/>
<polyline points="599,669.4 622,730.1 646,685.7 670,665.9 694,687.2 718,687.1" stroke="#f8a287"/>
<polyline points="599,669.1 622,731.9 646,707.5 670,698.3 694,692.7 718,700.6" stroke="#f7a084"/>
<polyline points="599,673.5 622,735.2 646,673.9 670,660.5 694,667.7 718,663.6" stroke="#f79f83"/>
<polyline points="599,693.4 622,726.0 646,695.2 670,682.2 694,660.6 718,674.4" stroke="#f79e82"/>
<polyline points="599,681.4 622,730.1 646,698.0 670,694.3 694,693.5 718,678.6" stroke="#f79e82"/>
<polyline points="599,685.2 622,725.3 646,656.3 670,668.1 694,680.3 718,671.6" stroke="#f79d81"/>
<polyline points="599,661.0 622,737.3 646,664.8 670,651.3 694,673.6 718,676.0" stroke="#f79c80"/>
<polyline points="599,676.4 622,736.8 646,666.6 670,680.5 694,674.6 718,687.6" stroke="#f79b7e"/>
<polyline points="599,676.9 622,736.4 646,675.4 670,685.7 694,708.0 718,673.6" stroke="#f7987c"/>
<polyline points="599,666.7 622,736.9 646,669.0 670,704.3 694,693.3 718,673.2" stroke="#f6977b"/>
<polyline points="599,680.2 622,724.5 646,676.1 670,691.6 694,667.8 718,674.5" stroke="#f69579"/>
<polyline points="599,665.3 622,723.0 646,677.9 670,668.4 694,684.2 718,671.1" stroke="#f69579"/>
<polyline points="599,676.1 622,736.7 646,672.6 670,652.4 694,688.3 718,669.8" stroke="#f69175"/>
<polyline points="599,675.7 622,720.7 646,677.2 670,666.6 694,680.9 718,657.2" stroke="#f69175"/>
<polyline points="599,675.6 622,735.4 646,664.4 670,667.9 694,662.1 718,686.6" stroke="#f69175"/>
<polyline points="599,671.5 622,737.0 646,697.0 670,684.9 694,665.7 718,675.4" stroke="#f69074"/>
<polyline points="599,683.9 622,735.8 646,704.9 670,668.4 694,673.8 718,678.6" stroke="#f68f73"/>
<polyline points="599,671.8 622,737.8 646,675.5 670,700.6 694,692.9 718,691.9" stroke="#f68e71"/>
<polyline points="599,676.2 622,731.4 646,677.8 670,664.5 694,663.3 718,674.9" stroke="#f58a6e"/>
<polyline points="599,667.0 622,736.1 646,672.8 670,663.7 694,682.2 718,670.7" stroke="#f58a6d"/>
<polyline points="599,659.7 622,736.0 646,704.0 670,690.1 694,677.3 718,658.5" stroke="#f5886c"/>
<polyline points="599,679.8 622,723.5 646,692.9 670,664.1 694,671.6 718,676.9" stroke="#f5876b"/>
<polyline points="599,669.2 622,736.6 646,674.0 670,664.0 694,679.5 718,658.3" stroke="#f5866a"/>
<polyline points="599,691.1 622,736.5 646,670.9 670,681.6 694,687.4 718,684.4" stroke="#f58669"/>
<polyline points="599,681.8 622,731.4 646,671.7 670,675.7 694,669.8 718,680.9" stroke="#f58568"/>
<polyline points="599,683.8 622,737.3 646,684.0 670,675.9 694,680.2 718,671.3" stroke="#f58468"/>
<polyline points="599,672.7 622,727.0 646,664.6 670,679.1 694,669.1 718,675.8" stroke="#f58468"/>
<polyline points="599,689.8 622,727.8 646,668.7 670,691.6 694,673.8 718,680.2" stroke="#f48265"/>
<polyline points="599,678.1 622,736.3 646,684.3 670,685.6 694,686.1 718,677.0" stroke="#f48265"/>
<polyline points="599,681.3 622,735.3 646,680.6 670,671.4 694,674.1 718,666.7" stroke="#f48164"/>
<polyline points="599,666.8 622,735.4 646,691.7 670,688.2 694,673.3 718,661.8" stroke="#f48064"/>
<polyline points="599,670.5 622,737.1 646,698.9 670,687.4 694,666.5 718,688.2" stroke="#f47f62"/>
<polyline points="599,687.4 622,737.7 646,702.5 670,680.8 694,697.6 718,696.7" stroke="#f47e61"/>
<polyline points="599,678.1 622,735.6 646,678.6 670,681.1 694,686.7 718,700.4" stroke="#f47e61"/>
<polyline points="599,677.3 622,735.5 646,668.0 670,693.5 694,700.6 718,668.5" stroke="#f47c5f"/>
<polyline points="599,670.2 622,722.2 646,676.0 670,673.4 694,685.9 718,663.7" stroke="#f47a5e"/>
<polyline points="599,665.1 622,735.1 646,661.1 670,672.0 694,669.4 718,668.2" stroke="#f47a5d"/>
<polyline points="599,676.4 622,726.9 646,680.3 670,655.2 694,681.6 718,673.4" stroke="#f3795c"/>
<polyline points="599,675.9 622,727.1 646,693.5 670,655.2 694,683.5 718,672.8" stroke="#f3785c"/>
<polyline points="599,681.5 622,729.0 646,670.1 670,694.4 694,671.9 718,677.5" stroke="#f3775b"/>
<polyline points="599,691.3 622,736.2 646,692.1 670,696.9 694,664.3 718,670.7" stroke="#f3775a"/>
<polyline points="599,665.4 622,732.7 646,670.5 670,667.4 694,673.2 718,685.4" stroke="#f37659"/>
<polyline points="599,671.9 622,735.5 646,671.5 670,673.0 694,677.8 718,685.3" stroke="#f37558"/>
<polyline points="599,675.5 622,725.7 646,675.2 670,671.0 694,674.1 718,674.5" stroke="#f37558"/>
<polyline points="599,685.7 622,737.5 646,700.8 670,687.0 694,698.8 718,683.0" stroke="#f37256"/>
<polyline points="599,668.9 622,735.7 646,680.2 670,693.5 694,678.4 718,665.1" stroke="#f37255"/>
<polyline points="599,671.2 622,727.9 646,678.7 670,667.8 694,669.6 718,692.0" stroke="#f37053"/>
<polyline points="599,668.8 622,728.8 646,687.2 670,662.9 694,665.7 718,688.3" stroke="#f26c50"/>
<polyline points="599,673.8 622,723.3 646,664.7 670,656.6 694,686.3 718,672.2" stroke="#f26c4f"/>
<polyline points="599,667.0 622,726.8 646,677.2 670,670.9 694,674.2 718,659.5" stroke="#f26a4d"/>
<polyline points="599,677.8 622,730.2 646,698.3 670,678.6 694,680.5 718,681.7" stroke="#f2694c"/>
<polyline points="599,671.4 622,723.6 646,663.3 670,657.1 694,671.3 718,671.3" stroke="#f2684c"/>
<polyline points="599,679.4 622,736.0 646,684.8 670,681.6 694,701.8 718,697.3" stroke="#f2684c"/>
<polyline points="599,672.9 622,736.1 646,679.2 670,681.0 694,695.9 718,669.5" stroke="#f1674b"/>
<polyline points="599,686.0 622,736.9 646,698.9 670,696.6 694,698.0 718,672.7" stroke="#f1674a"/>
<polyline points="599,674.3 622,735.9 646,672.1 670,680.6 694,672.3 718,687.9" stroke="#f1664a"/>
<polyline points="599,673.2 622,735.9 646,698.2 670,668.0 694,663.1 718,688.0" stroke="#f06348"/>
<polyline points="599,672.9 622,735.7 646,680.2 670,678.6 694,699.0 718,686.9" stroke="#f06347"/>
<polyline points="599,673.4 622,735.8 646,685.7 670,673.1 694,696.1 718,692.6" stroke="#f06347"/>
<polyline points="599,674.3 622,736.1 646,679.4 670,670.0 694,675.3 718,679.4" stroke="#f06247"/>
<polyline points="599,684.1 622,736.1 646,697.8 670,671.4 694,692.1 718,687.0" stroke="#f06146"/>
<polyline points="599,683.1 622,735.6 646,674.2 670,680.7 694,672.3 718,678.9" stroke="#f06045"/>
<polyline points="599,689.0 622,736.0 646,693.4 670,668.6 694,668.5 718,661.2" stroke="#ef5f45"/>
<polyline points="599,663.4 622,736.5 646,678.6 670,678.5 694,678.5 718,675.8" stroke="#ef5e44"/>
<polyline points="599,672.5 622,734.9 646,679.0 670,662.7 694,662.2 718,672.9" stroke="#ef5e43"/>
<polyline points="599,663.5 622,736.2 646,662.3 670,661.0 694,662.3 718,664.2" stroke="#ef5d43"/>
<polyline points="599,672.5 622,728.1 646,691.5 670,675.9 694,674.5 718,671.0" stroke="#ef5d43"/>
<polyline points="599,670.9 622,733.1 646,670.6 670,667.3 694,676.9 718,674.2" stroke="#ef5d43"/>
<polyline points="599,663.7 622,732.3 646,664.8 670,669.0 694,688.0 718,682.4" stroke="#ef5b42"/>
<polyline points="599,674.3 622,735.5 646,678.5 670,695.6 694,678.2 718,669.0" stroke="#ee5b41"/>
<polyline points="599,665.2 622,735.6 646,670.5 670,667.3 694,671.6 718,673.6" stroke="#ee583f"/>
<polyline points="599,688.1 622,736.7 646,680.3 670,682.0 694,670.3 718,693.2" stroke="#ee583f"/>
<polyline points="599,688.1 622,733.2 646,683.3 670,694.9 694,665.9 718,671.5" stroke="#ee573e"/>
<polyline points="599,669.9 622,735.6 646,671.3 670,671.8 694,674.5 718,667.9" stroke="#ee573e"/>
<polyline points="599,681.2 622,737.1 646,691.4 670,693.1 694,677.8 718,688.1" stroke="#ed543c"/>
<polyline points="599,673.7 622,734.3 646,683.4 670,681.4 694,669.6 718,669.4" stroke="#ed543c"/>
<polyline points="599,666.8 622,735.6 646,686.3 670,660.1 694,663.4 718,671.4" stroke="#ed543c"/>
<polyline points="599,683.6 622,736.5 646,684.2 670,684.6 694,675.1 718,674.1" stroke="#ed533b"/>
<polyline points="599,670.6 622,736.2 646,680.2 670,665.9 694,673.6 718,674.6" stroke="#ed533b"/>
<polyline points="599,666.5 622,726.6 646,674.7 670,665.9 694,674.2 718,665.5" stroke="#ed533b"/>
<polyline points="599,684.9 622,736.0 646,691.5 670,694.2 694,669.9 718,687.0" stroke="#ed533b"/>
<polyline points="599,678.0 622,736.2 646,671.7 670,671.4 694,687.1 718,682.4" stroke="#ec523a"/>
<polyline points="599,673.8 622,735.0 646,667.4 670,671.4 694,672.2 718,663.0" stroke="#ec523a"/>
<polyline points="599,677.6 622,735.5 646,675.5 670,681.2 694,663.6 718,672.4" stroke="#ec523a"/>
<polyline points="599,675.9 622,730.7 646,675.9 670,681.9 694,673.6 718,672.5" stroke="#ec513a"/>
<polyline points="599,671.2 622,735.7 646,694.9 670,675.2 694,665.5 718,692.9" stroke="#ec5139"/>
<polyline points="599,671.3 622,732.8 646,674.2 670,693.8 694,676.6 718,662.6" stroke="#ec5139"/>
<polyline points="599,684.3 622,736.1 646,665.6 670,693.6 694,669.5 718,694.7" stroke="#ec5039"/>
<polyline points="599,680.9 622,735.0 646,688.7 670,683.0 694,675.7 718,673.7" stroke="#ec5039"/>
<polyline points="599,673.3 622,725.9 646,666.2 670,676.4 694,677.4 718,677.0" stroke="#ec4f38"/>
<polyline points="599,678.8 622,726.0 646,674.3 670,673.1 694,679.1 718,673.8" stroke="#ec4f38"/>
<polyline points="599,670.2 622,726.8 646,677.4 670,671.4 694,673.3 718,690.1" stroke="#eb4e37"/>
<polyline points="599,674.9 622,736.3 646,679.4 670,671.6 694,682.8 718,672.1" stroke="#eb4d36"/>
<polyline points="599,682.7 622,735.6 646,674.0 670,677.6 694,684.0 718,685.0" stroke="#eb4c36"/>
<polyline points="599,679.2 622,735.9 646,680.7 670,673.6 694,675.7 718,681.3" stroke="#eb4c35"/>
<polyline points="599,665.4 622,729.5 646,669.6 670,666.4 694,664.4 718,668.1" stroke="#eb4b34"/>
<polyline points="599,678.8 622,736.3 646,676.1 670,678.2 694,683.4 718,663.8" stroke="#ea4933"/>
<polyline points="599,672.5 622,735.0 646,685.3 670,680.2 694,685.2 718,675.4" stroke="#ea4832"/>
<polyline points="599,686.2 622,735.5 646,684.6 670,668.4 694,671.9 718,681.0" stroke="#ea4732"/>
<polyline points="599,671.3 622,734.5 646,686.9 670,677.6 694,667.1 718,674.9" stroke="#ea4732"/>
<polyline points="599,677.4 622,733.7 646,683.2 670,662.8 694,686.0 718,674.2" stroke="#ea4631"/>
<polyline points="599,678.6 622,736.8 646,684.0 670,681.2 694,688.7 718,676.7" stroke="#e94631"/>
<polyline points="599,665.9 622,734.6 646,671.3 670,674.1 694,672.6 718,685.5" stroke="#e94631"/>
<polyline points="599,677.5 622,736.0 646,670.8 670,674.5 694,673.4 718,680.4" stroke="#e94530"/>
<polyline points="599,673.1 622,732.4 646,665.2 670,674.5 694,679.7 718,673.5" stroke="#e9442f"/>
<polyline points="599,676.9 622,730.4 646,668.4 670,668.6 694,670.1 718,664.3" stroke="#e9442f"/>
<polyline points="599,678.3 622,736.7 646,680.2 670,678.3 694,691.8 718,676.9" stroke="#e9442f"/>
<polyline points="599,683.4 622,736.5 646,679.3 670,673.7 694,676.0 718,675.3" stroke="#e9432e"/>
<polyline points="599,671.9 622,735.7 646,686.5 670,676.2 694,670.2 718,669.3" stroke="#e9432e"/>
<polyline points="599,669.2 622,736.1 646,669.9 670,668.7 694,675.9 718,680.9" stroke="#e9422e"/>
<polyline points="599,678.8 622,736.3 646,668.0 670,686.0 694,678.5 718,671.7" stroke="#e9422e"/>
<polyline points="599,683.4 622,729.8 646,675.0 670,664.4 694,678.3 718,688.1" stroke="#e9422e"/>
<polyline points="599,674.3 622,730.2 646,668.3 670,670.9 694,671.6 718,683.6" stroke="#e8412d"/>
<polyline points="599,669.9 622,733.2 646,675.6 670,681.2 694,674.5 718,677.7" stroke="#e8402c"/>
<polyline points="599,679.0 622,736.0 646,677.8 670,681.5 694,680.3 718,667.9" stroke="#e73f2c"/>
<polyline points="599,673.0 622,736.2 646,666.5 670,667.1 694,687.5 718,683.4" stroke="#e63e2b"/>
<polyline points="599,671.9 622,735.4 646,674.5 670,688.3 694,682.1 718,673.3" stroke="#e63e2b"/>
<polyline points="599,672.0 622,734.1 646,673.1 670,680.6 694,673.8 718,673.7" stroke="#e63e2b"/>
<polyline points="599,672.3 622,735.6 646,691.1 670,670.8 694,675.7 718,682.0" stroke="#e63d2b"/>
<polyline points="599,677.7 622,736.2 646,670.1 670,679.4 694,672.0 718,675.5" stroke="#e43b2a"/>
<polyline points="599,675.7 622,735.5 646,668.4 670,680.9 694,673.2 718,677.2" stroke="#e33b2a"/>
<polyline points="599,681.6 622,733.3 646,689.1 670,665.6 694,668.5 718,684.3" stroke="#e33b2a"/>
<polyline points="599,672.4 622,731.8 646,675.2 670,684.8 694,671.8 718,674.4" stroke="#e33b2a"/>
<polyline points="599,676.8 622,735.7 646,666.3 670,670.0 694,668.7 718,671.4" stroke="#e33b2a"/>
<polyline points="599,678.7 622,733.2 646,690.4 670,671.1 694,674.3 718,678.1" stroke="#e23a29"/>
<polyline points="599,671.6 622,735.7 646,676.5 670,681.6 694,679.3 718,672.5" stroke="#e13929"/>
<polyline points="599,679.3 622,734.2 646,690.1 670,676.5 694,683.0 718,690.1" stroke="#e13829"/>
<polyline points="599,676.0 622,736.2 646,677.3 670,670.7 694,691.6 718,683.0" stroke="#e03828"/>
<polyline points="599,669.4 622,735.9 646,675.3 670,671.7 694,685.9 718,672.7" stroke="#df3728"/>
<polyline points="599,671.5 622,731.1 646,669.9 670,672.4 694,673.3 718,680.0" stroke="#df3628"/>
<polyline points="599,684.2 622,735.5 646,687.6 670,688.3 694,691.2 718,683.8" stroke="#df3628"/>
<polyline points="599,675.6 622,728.4 646,671.9 670,686.0 694,677.8 718,682.4" stroke="#de3527"/>
<polyline points="599,676.5 622,733.8 646,673.4 670,678.5 694,675.7 718,672.5" stroke="#de3527"/>
<polyline points="599,670.7 622,734.4 646,687.5 670,673.9 694,681.1 718,677.2" stroke="#dd3527"/>
<polyline points="599,667.9 622,733.6 646,667.1 670,671.1 694,688.0 718,678.4" stroke="#dd3527"/>
<polyline points="599,671.2 622,736.1 646,679.9 670,688.5 694,670.2 718,678.7" stroke="#dd3427"/>
<polyline points="599,672.5 622,734.0 646,681.3 670,681.5 694,690.7 718,673.2" stroke="#dd3427"/>
<polyline points="599,667.9 622,735.5 646,680.2 670,668.6 694,675.0 718,672.2" stroke="#dd3427"/>
<polyline points="599,668.0 622,733.4 646,678.8 670,669.3 694,670.4 718,666.6" stroke="#dc3326"/>
<polyline points="599,678.8 622,735.6 646,683.5 670,676.8 694,679.8 718,677.2" stroke="#dc3326"/>
<polyline points="599,673.3 622,735.7 646,680.7 670,680.7 694,689.6 718,676.0" stroke="#db3226"/>
<polyline points="599,683.2 622,735.6 646,674.9 670,668.8 694,673.5 718,672.1" stroke="#da3225"/>
<polyline points="599,672.0 622,735.8 646,673.2 670,666.3 694,669.3 718,671.8" stroke="#d93125"/>
<polyline points="599,680.0 622,735.9 646,674.1 670,682.3 694,689.9 718,675.4" stroke="#d93025"/>
<polyline points="599,678.0 622,735.5 646,673.8 670,676.0 694,677.2 718,673.5" stroke="#d83025"/>
<polyline points="599,668.5 622,735.9 646,667.8 670,675.5 694,672.5 718,680.4" stroke="#d83025"/>
<polyline points="599,677.1 622,736.4 646,688.1 670,673.5 694,673.3 718,679.2" stroke="#d72f24"/>
<polyline points="599,678.4 622,734.4 646,675.6 670,677.1 694,689.4 718,685.7" stroke="#d72e24"/>
<polyline points="599,674.1 622,735.4 646,673.2 670,671.4 694,672.0 718,672.4" stroke="#d72e24"/>
<polyline points="599,683.1 622,736.0 646,687.8 670,678.1 694,685.1 718,679.0" stroke="#d62e24"/>
<polyline points="599,680.1 622,735.5 646,683.1 670,678.4 694,676.7 718,676.9" stroke="#d62d24"/>
<polyline points="599,672.0 622,733.4 646,675.3 670,686.8 694,678.6 718,674.8" stroke="#d62d23"/>
<polyline points="599,683.0 622,736.3 646,679.6 670,673.1 694,677.8 718,682.0" stroke="#d62d23"/>
<polyline points="599,675.2 622,736.4 646,679.9 670,673.5 694,682.4 718,685.3" stroke="#d52c23"/>
<polyline points="599,671.5 622,733.5 646,677.5 670,673.6 694,671.0 718,671.8" stroke="#d42b22"/>
<polyline points="599,678.4 622,735.6 646,676.6 670,686.5 694,682.9 718,672.7" stroke="#d32a22"/>
<polyline points="599,670.1 622,736.4 646,685.9 670,678.8 694,684.2 718,687.1" stroke="#d32a22"/>
<polyline points="599,677.5 622,735.4 646,672.7 670,679.4 694,685.6 718,672.2" stroke="#d22a22"/>
<polyline points="599,672.7 622,731.8 646,679.0 670,678.6 694,673.1 718,669.0" stroke="#d22922"/>
<polyline points="599,676.1 622,735.6 646,673.8 670,673.0 694,688.1 718,678.5" stroke="#d22922"/>
<polyline points="599,674.2 622,732.6 646,676.4 670,673.4 694,675.3 718,682.0" stroke="#d02821"/>
<polyline points="599,680.5 622,736.0 646,672.7 670,674.1 694,686.7 718,673.9" stroke="#d02721"/>
<polyline points="599,673.7 622,732.3 646,679.5 670,673.8 694,673.2 718,674.7" stroke="#cf2620"/>
<polyline points="599,669.5 622,735.0 646,668.9 670,680.2 694,668.9 718,681.8" stroke="#cf2620"/>
<polyline points="599,670.4 622,732.8 646,676.7 670,678.9 694,681.8 718,674.7" stroke="#ce2520"/>
<polyline points="599,672.4 622,735.6 646,678.2 670,682.8 694,675.1 718,681.9" stroke="#ce2520"/>
<polyline points="599,674.3 622,736.3 646,672.0 670,678.7 694,685.7 718,680.3" stroke="#ce2520"/>
<polyline points="599,676.9 622,730.4 646,672.2 670,672.6 694,672.3 718,677.0" stroke="#cd241f"/>
<polyline points="599,678.1 622,735.8 646,670.5 670,675.1 694,687.0 718,685.8" stroke="#cd241f"/>
<polyline points="599,676.0 622,736.1 646,678.1 670,676.3 694,673.6 718,673.0" stroke="#cc231f"/>
<polyline points="599,673.7 622,734.4 646,672.7 670,667.6 694,672.0 718,668.8" stroke="#cc231f"/>
<polyline points="599,672.1 622,735.5 646,674.9 670,680.8 694,675.3 718,684.8" stroke="#cb221e"/>
<polyline points="599,680.2 622,734.3 646,681.2 670,676.9 694,675.5 718,682.8" stroke="#ca211e"/>
<polyline points="599,678.2 622,735.9 646,675.9 670,672.0 694,675.1 718,675.2" stroke="#c9201d"/>
<polyline points="599,674.0 622,734.5 646,672.2 670,677.8 694,676.5 718,675.2" stroke="#c71f1d"/>
<polyline points="599,672.6 622,734.7 646,677.8 670,679.2 694,673.3 718,674.6" stroke="#c61e1c"/>
<polyline points="599,672.3 622,730.9 646,677.1 670,668.6 694,674.5 718,670.4" stroke="#c31d1c"/>
<polyline points="599,673.2 622,735.6 646,677.0 670,674.3 694,673.2 718,672.1" stroke="#c31d1c"/>
<polyline points="599,673.9 622,733.2 646,683.3 670,679.9 694,674.5 718,676.6" stroke="#c31d1c"/>
<polyline points="599,678.8 622,731.4 646,675.2 670,668.7 694,671.3 718,672.6" stroke="#c21d1c"/>
<polyline points="599,673.2 622,735.5 646,672.6 670,668.9 694,674.7 718,669.8" stroke="#c01c1b"/>
<polyline points="599,675.8 622,734.9 646,678.9 670,675.1 694,674.7 718,678.0" stroke="#c01c1b"/>
<polyline points="599,672.8 622,735.7 646,670.3 670,668.9 694,678.0 718,671.1" stroke="#bf1c1b"/>
<polyline points="599,677.7 622,735.4 646,674.4 670,674.1 694,673.2 718,682.0" stroke="#bf1c1b"/>
<polyline points="599,680.1 622,735.1 646,678.2 670,681.0 694,674.6 718,684.0" stroke="#bf1c1b"/>
<polyline points="599,675.3 622,734.6 646,675.5 670,674.8 694,674.8 718,678.0" stroke="#bd1b1b"/>
<polyline points="599,674.4 622,735.5 646,671.4 670,675.1 694,670.5 718,675.1" stroke="#bd1b1b"/>
<polyline points="599,678.1 622,734.6 646,673.1 670,676.6 694,674.1 718,675.2" stroke="#bc1b1a"/>
<polyline points="599,679.9 622,735.8 646,683.5 670,677.3 694,684.1 718,675.4" stroke="#bc1b1a"/>
<polyline points="599,671.8 622,733.4 646,675.5 670,674.9 694,672.6 718,675.6" stroke="#bb1a1a"/>
<polyline points="599,675.2 622,735.4 646,675.8 670,679.8 694,674.8 718,673.4" stroke="#ba1a1a"/>
<polyline points="599,672.8 622,735.5 646,675.4 670,679.1 694,684.1 718,679.6" stroke="#ba1a1a"/>
<polyline points="599,675.3 622,735.8 646,671.0 670,674.0 694,684.3 718,673.7" stroke="#b91a1a"/>
<polyline points="599,676.8 622,735.5 646,681.9 670,679.7 694,679.8 718,674.7" stroke="#b81919"/>
<polyline points="599,679.1 622,733.4 646,670.9 670,678.1 694,674.5 718,675.0" stroke="#b61819"/>
<polyline points="599,677.5 622,735.0 646,672.8 670,674.1 694,670.9 718,672.4" stroke="#b51819"/>
<polyline points="599,674.8 622,734.6 646,677.9 670,677.2 694,674.7 718,675.6" stroke="#b41819"/>
<polyline points="599,671.7 622,734.6 646,676.1 670,669.9 694,673.0 718,672.6" stroke="#b41818"/>
<polyline points="599,676.8 622,735.5 646,673.6 670,678.6 694,674.0 718,673.9" stroke="#b41818"/>
<polyline points="599,672.9 622,735.5 646,674.8 670,675.6 694,675.1 718,673.3" stroke="#b21718"/>
<polyline points="599,674.2 622,732.0 646,672.3 670,673.3 694,675.8 718,677.8" stroke="#b11718"/>
<polyline points="599,679.9 622,736.0 646,682.7 670,679.5 694,677.8 718,677.5" stroke="#b11718"/>
<polyline points="599,673.7 622,731.9 646,679.3 670,674.7 694,672.4 718,674.3" stroke="#b01618"/>
<polyline points="599,672.9 622,734.5 646,674.1 670,672.5 694,674.9 718,673.4" stroke="#ae1617"/>
<polyline points="599,676.5 622,736.0 646,682.3 670,677.1 694,676.5 718,676.4" stroke="#ae1617"/>
<polyline points="599,673.9 622,734.7 646,671.9 670,677.3 694,674.7 718,673.5" stroke="#ad1517"/>
<polyline points="599,677.7 622,733.7 646,677.7 670,672.1 694,674.8 718,682.3" stroke="#ad1517"/>
<polyline points="599,673.0 622,735.9 646,675.3 670,679.1 694,674.3 718,671.1" stroke="#ac1517"/>
<polyline points="599,675.0 622,735.4 646,675.2 670,672.9 694,673.6 718,674.5" stroke="#ab1416"/>
<polyline points="599,678.3 622,732.4 646,677.1 670,676.3 694,675.5 718,672.9" stroke="#a81316"/>
<polyline points="599,675.8 622,735.5 646,674.5 670,680.2 694,676.7 718,677.3" stroke="#a71316"/>
</g>
<polyline points="598.6,679.3 622.5,732.9 646.3,679.3 670.2,678.8 694.0,678.5 717.9,678.0" fill="none" stroke="#111" stroke-width="1.6" stroke-linejoin="round"/>
<line x1="594.50" y1="638.10" x2="594.50" y2="737.90" stroke="#555" stroke-width="1"/>
<line x1="590.00" y1="638.10" x2="594.50" y2="638.10" stroke="#555" stroke-width="1"/>
<text class="ns" x="581.60" y="638.10" font-size="12.5" text-anchor="middle" font-family='"Liberation Sans", sans-serif' fill="#333" transform="rotate(-90 581.60 638.10)" dy="4.4">2</text>
<line x1="590.00" y1="663.05" x2="594.50" y2="663.05" stroke="#555" stroke-width="1"/>
<text class="ns" x="581.60" y="663.05" font-size="12.5" text-anchor="middle" font-family='"Liberation Sans", sans-serif' fill="#333" transform="rotate(-90 581.60 663.05)" dy="4.4">1</text>
<line x1="590.00" y1="688.00" x2="594.50" y2="688.00" stroke="#555" stroke-width="1"/>
<text class="ns" x="581.60" y="688.00" font-size="12.5" text-anchor="middle" font-family='"Liberation Sans", sans-serif' fill="#333" transform="rotate(-90 581.60 688.00)" dy="4.4">0</text>
<line x1="590.00" y1="712.95" x2="594.50" y2="712.95" stroke="#555" stroke-width="1"/>
<text class="ns" x="581.60" y="712.95" font-size="12.5" text-anchor="middle" font-family='"Liberation Sans", sans-serif' fill="#333" transform="rotate(-90 581.60 712.95)" dy="4.4">−1</text>
<line x1="590.00" y1="737.90" x2="594.50" y2="737.90" stroke="#555" stroke-width="1"/>
<text class="ns" x="581.60" y="737.90" font-size="12.5" text-anchor="middle" font-family='"Liberation Sans", sans-serif' fill="#333" transform="rotate(-90 581.60 737.90)" dy="4.4">−2</text>
<line x1="598.60" y1="742.70" x2="717.90" y2="742.70" stroke="#555" stroke-width="1"/>
<line x1="598.60" y1="742.70" x2="598.60" y2="747.20" stroke="#555" stroke-width="1"/>
<text x="603.10" y="754.70" font-size="10.4" text-anchor="end" font-family='"Liberation Sans", sans-serif' fill="#1a1a1a" transform="rotate(-42 603.10 754.70)">WS-2h</text>
<line x1="622.46" y1="742.70" x2="622.46" y2="747.20" stroke="#555" stroke-width="1"/>
<text x="626.96" y="754.70" font-size="10.4" text-anchor="end" font-family='"Liberation Sans", sans-serif' fill="#1a1a1a" transform="rotate(-42 626.96 754.70)">WS-4h</text>
<line x1="646.32" y1="742.70" x2="646.32" y2="747.20" stroke="#555" stroke-width="1"/>
<text x="650.82" y="754.70" font-size="10.4" text-anchor="end" font-family='"Liberation Sans", sans-serif' fill="#1a1a1a" transform="rotate(-42 650.82 754.70)">WS-6h</text>
<line x1="670.18" y1="742.70" x2="670.18" y2="747.20" stroke="#555" stroke-width="1"/>
<text x="674.68" y="754.70" font-size="10.4" text-anchor="end" font-family='"Liberation Sans", sans-serif' fill="#1a1a1a" transform="rotate(-42 674.68 754.70)">WS-8h</text>
<line x1="694.04" y1="742.70" x2="694.04" y2="747.20" stroke="#555" stroke-width="1"/>
<text x="698.54" y="754.70" font-size="10.4" text-anchor="end" font-family='"Liberation Sans", sans-serif' fill="#1a1a1a" transform="rotate(-42 698.54 754.70)">WS-10h</text>
<line x1="717.90" y1="742.70" x2="717.90" y2="747.20" stroke="#555" stroke-width="1"/>
<text x="722.40" y="754.70" font-size="10.4" text-anchor="end" font-family='"Liberation Sans", sans-serif' fill="#1a1a1a" transform="rotate(-42 722.40 754.70)">WS-12h</text>
<text x="656.60" y="635.52" font-size="13.1" text-anchor="middle" font-family='"Liberation Sans", sans-serif' fill="#1a1a1a">Cluster9</text>
<text x="565.20" y="687.00" font-size="13.2" text-anchor="middle" font-family='"Liberation Sans", sans-serif' fill="#1a1a1a" transform="rotate(-90 565.20 687.00)" dy="4.75">Expression change</text>
<polygon points="770.2,645.6 782.2,650.5 794.1,641.4 806.1,665.0 818.1,664.6 830.0,681.6 842.0,662.1 854.0,681.2 866.0,662.4 877.9,683.1 889.9,664.8 889.9,724.9 877.9,720.3 866.0,737.5 854.0,719.0 842.0,724.5 830.0,716.5 818.1,729.3 806.1,693.9 794.1,681.8 782.2,675.0 770.2,694.1" fill="#fcd5c5" filter="url(#bl)"/>
<polygon points="770.2,654.1 782.2,653.2 794.1,647.3 806.1,669.6 818.1,683.3 830.0,688.6 842.0,680.8 854.0,688.6 866.0,682.7 877.9,690.6 889.9,684.6 889.9,716.9 877.9,716.0 866.0,723.1 854.0,714.4 842.0,714.4 830.0,712.5 818.1,718.1 806.1,689.4 794.1,669.0 782.2,670.0 770.2,680.2" fill="#f7a083" filter="url(#bl)"/>
<g fill="none" stroke-width="1.25" stroke-linejoin="round" stroke-opacity="0.9" filter="url(#bl)">
<polyline points="770,681.5 794,653.6 818,706.6 842,670.2 866,700.1 890,676.6" stroke="#fde4d9"/>
<polyline points="770,672.1 794,683.5 818,719.8 842,703.1 866,688.5 890,711.9" stroke="#fde0d4"/>
<polyline points="770,670.0 794,658.1 818,716.8 842,682.9 866,738.9 890,712.9" stroke="#fcddcf"/>
<polyline points="770,674.6 794,651.3 818,710.0 842,697.5 866,703.4 890,681.2" stroke="#fcdcce"/>
<polyline points="770,657.6 794,646.9 818,665.2 842,719.4 866,726.3 890,701.1" stroke="#fcdacc"/>
<polyline points="770,658.8 794,661.4 818,705.8 842,681.0 866,682.8 890,688.5" stroke="#fcd9cb"/>
<polyline points="770,656.0 794,680.8 818,697.1 842,683.4 866,714.5 890,702.4" stroke="#fcd9ca"/>
<polyline points="770,676.1 794,663.1 818,694.5 842,709.3 866,706.8 890,720.8" stroke="#fcd9ca"/>
<polyline points="770,651.7 794,653.4 818,711.2 842,688.5 866,702.0 890,701.1" stroke="#fcd0be"/>
<polyline points="770,650.9 794,677.5 818,699.6 842,678.7 866,700.6 890,689.0" stroke="#fccfbd"/>
<polyline points="770,672.4 794,651.3 818,712.9 842,712.3 866,710.7 890,702.1" stroke="#fccfbd"/>
<polyline points="770,662.9 794,665.4 818,677.6 842,722.4 866,709.3 890,704.4" stroke="#fccebb"/>
<polyline points="770,658.9 794,651.6 818,717.6 842,673.4 866,709.9 890,711.7" stroke="#fccebb"/>
<polyline points="770,661.5 794,666.7 818,666.6 842,703.2 866,667.8 890,683.5" stroke="#fbcebb"/>
<polyline points="770,666.5 794,656.4 818,712.1 842,715.1 866,676.6 890,702.0" stroke="#fbcebb"/>
<polyline points="770,663.5 794,669.1 818,728.1 842,704.8 866,711.2 890,718.3" stroke="#fbcebb"/>
<polyline points="770,666.1 794,649.8 818,666.8 842,689.4 866,680.2 890,699.0" stroke="#fbcdba"/>
<polyline points="770,681.0 794,654.3 818,715.8 842,692.6 866,723.3 890,713.4" stroke="#fbcdb9"/>
<polyline points="770,665.6 794,642.3 818,706.7 842,683.9 866,694.8 890,706.7" stroke="#fbcbb7"/>
<polyline points="770,659.3 794,663.9 818,673.0 842,672.0 866,674.4 890,705.0" stroke="#fbcab6"/>
<polyline points="770,676.1 794,678.1 818,720.6 842,696.0 866,716.1 890,718.6" stroke="#fbc9b4"/>
<polyline points="770,656.8 794,652.0 818,677.7 842,700.1 866,666.5 890,703.8" stroke="#fbc8b3"/>
<polyline points="770,662.3 794,642.7 818,696.1 842,669.9 866,666.7 890,672.2" stroke="#fbc8b2"/>
<polyline points="770,657.3 794,650.3 818,684.8 842,703.4 866,721.3 890,702.9" stroke="#fbc7b2"/>
<polyline points="770,662.7 794,659.6 818,688.1 842,690.3 866,715.1 890,698.9" stroke="#fbc7b2"/>
<polyline points="770,682.4 794,676.0 818,726.8 842,712.1 866,705.5 890,720.0" stroke="#fbc7b1"/>
<polyline points="770,655.1 794,648.3 818,694.5 842,719.5 866,724.3 890,712.8" stroke="#fbc5af"/>
<polyline points="770,672.6 794,658.9 818,688.1 842,688.6 866,710.7 890,679.4" stroke="#fbc5af"/>
<polyline points="770,662.3 794,647.6 818,690.8 842,690.8 866,700.4 890,670.6" stroke="#fbc2ac"/>
<polyline points="770,686.5 794,656.2 818,726.0 842,702.7 866,731.8 890,715.2" stroke="#fbc2ab"/>
<polyline points="770,663.7 794,670.9 818,695.9 842,717.6 866,727.4 890,710.3" stroke="#fac1aa"/>
<polyline points="770,684.8 794,649.1 818,694.2 842,712.7 866,695.1 890,722.2" stroke="#fabfa8"/>
<polyline points="770,676.7 794,643.5 818,671.2 842,676.6 866,684.9 890,716.2" stroke="#fabda6"/>
<polyline points="770,659.5 794,654.6 818,671.7 842,695.0 866,717.0 890,718.0" stroke="#fabca5"/>
<polyline points="770,683.6 794,672.2 818,696.1 842,706.9 866,713.8 890,710.8" stroke="#fabba4"/>
<polyline points="770,682.2 794,657.3 818,692.9 842,708.0 866,700.7 890,715.8" stroke="#fabaa3"/>
<polyline points="770,683.5 794,647.7 818,718.5 842,711.5 866,700.9 890,714.7" stroke="#fabaa2"/>
<polyline points="770,656.0 794,644.5 818,672.2 842,703.2 866,695.5 890,708.7" stroke="#fab9a2"/>
<polyline points="770,659.7 794,676.5 818,711.6 842,697.9 866,688.9 890,716.5" stroke="#fab8a0"/>
<polyline points="770,662.3 794,657.0 818,699.7 842,707.1 866,699.6 890,710.7" stroke="#fab79f"/>
<polyline points="770,653.5 794,645.9 818,687.4 842,670.3 866,725.6 890,687.0" stroke="#fab79f"/>
<polyline points="770,657.3 794,651.9 818,710.5 842,700.2 866,680.1 890,713.0" stroke="#fab79f"/>
<polyline points="770,664.1 794,651.3 818,691.6 842,707.4 866,704.1 890,721.3" stroke="#f9b69e"/>
<polyline points="770,655.6 794,648.4 818,678.7 842,684.2 866,720.6 890,711.1" stroke="#f9b69d"/>
<polyline points="770,654.0 794,650.9 818,693.4 842,705.1 866,699.6 890,674.3" stroke="#f9b49b"/>
<polyline points="770,662.5 794,653.6 818,696.9 842,671.3 866,672.3 890,695.5" stroke="#f9b39a"/>
<polyline points="770,657.1 794,644.5 818,700.6 842,704.3 866,679.1 890,710.6" stroke="#f9b39a"/>
<polyline points="770,658.9 794,666.4 818,710.3 842,710.4 866,675.4 890,709.0" stroke="#f9b39a"/>
<polyline points="770,677.0 794,655.0 818,711.9 842,703.1 866,711.4 890,713.0" stroke="#f9b299"/>
<polyline points="770,658.4 794,664.1 818,700.8 842,683.8 866,685.1 890,717.9" stroke="#f9b299"/>
<polyline points="770,659.4 794,656.4 818,702.5 842,717.6 866,730.0 890,718.2" stroke="#f9b198"/>
<polyline points="770,657.3 794,657.5 818,713.9 842,709.0 866,681.6 890,690.7" stroke="#f9af96"/>
<polyline points="770,655.3 794,654.7 818,689.5 842,712.4 866,716.6 890,712.3" stroke="#f9af95"/>
<polyline points="770,656.6 794,655.5 818,704.4 842,706.2 866,706.7 890,703.4" stroke="#f9ae94"/>
<polyline points="770,669.3 794,655.1 818,723.0 842,704.2 866,716.9 890,715.7" stroke="#f9ad94"/>
<polyline points="770,665.0 794,661.4 818,713.8 842,706.9 866,693.9 890,715.3" stroke="#f9ac92"/>
<polyline points="770,666.0 794,653.6 818,716.1 842,700.7 866,720.4 890,700.7" stroke="#f8ac92"/>
<polyline points="770,677.9 794,666.1 818,713.7 842,712.1 866,700.1 890,714.8" stroke="#f8ab92"/>
<polyline points="770,666.3 794,656.3 818,688.5 842,707.0 866,714.1 890,710.4" stroke="#f8ab91"/>
<polyline points="770,658.9 794,652.0 818,706.0 842,712.5 866,727.1 890,698.9" stroke="#f8a98f"/>
<polyline points="770,663.9 794,673.8 818,695.8 842,712.8 866,686.1 890,707.6" stroke="#f8a98f"/>
<polyline points="770,661.5 794,664.5 818,704.3 842,697.6 866,696.5 890,709.7" stroke="#f8a98f"/>
<polyline points="770,662.4 794,672.8 818,715.8 842,705.9 866,698.3 890,710.9" stroke="#f8a98f"/>
<polyline points="770,661.8 794,653.1 818,709.2 842,685.1 866,701.3 890,714.0" stroke="#f8a98e"/>
<polyline points="770,659.3 794,653.0 818,693.3 842,676.5 866,682.3 890,698.2" stroke="#f8a78c"/>
<polyline points="770,662.6 794,655.8 818,716.7 842,698.5 866,695.4 890,702.9" stroke="#f8a68b"/>
<polyline points="770,655.7 794,659.7 818,712.6 842,683.7 866,708.7 890,693.0" stroke="#f8a68b"/>
<polyline points="770,677.5 794,663.3 818,707.0 842,710.4 866,704.4 890,709.7" stroke="#f8a48a"/>
<polyline points="770,678.2 794,665.1 818,696.1 842,689.2 866,687.8 890,717.0" stroke="#f8a388"/>
<polyline points="770,667.2 794,654.0 818,704.8 842,707.4 866,711.5 890,683.7" stroke="#f8a287"/>
<polyline points="770,663.5 794,653.5 818,687.0 842,700.6 866,688.7 890,693.9" stroke="#f8a287"/>
<polyline points="770,662.7 794,652.7 818,707.0 842,683.8 866,708.3 890,694.7" stroke="#f8a186"/>
<polyline points="770,651.9 794,651.8 818,699.7 842,696.4 866,702.5 890,686.9" stroke="#f8a186"/>
<polyline points="770,668.5 794,663.6 818,698.0 842,708.5 866,709.5 890,710.4" stroke="#f7a186"/>
<polyline points="770,666.3 794,656.6 818,704.1 842,702.3 866,703.4 890,710.1" stroke="#f7a185"/>
<polyline points="770,662.2 794,662.6 818,705.4 842,706.0 866,704.3 890,709.4" stroke="#f7a085"/>
<polyline points="770,657.7 794,652.6 818,711.8 842,689.9 866,681.3 890,702.8" stroke="#f79f84"/>
<polyline points="770,664.4 794,665.8 818,705.7 842,693.9 866,702.6 890,701.6" stroke="#f79f83"/>
<polyline points="770,661.1 794,646.1 818,694.6 842,696.1 866,687.1 890,710.5" stroke="#f79e82"/>
<polyline points="770,663.9 794,648.7 818,689.7 842,716.4 866,690.7 890,699.6" stroke="#f79e82"/>
<polyline points="770,669.3 794,664.3 818,706.2 842,686.7 866,708.2 890,718.3" stroke="#f79d81"/>
<polyline points="770,677.0 794,662.0 818,705.7 842,712.6 866,691.7 890,711.8" stroke="#f79b7f"/>
<polyline points="770,659.8 794,671.0 818,708.1 842,715.9 866,695.7 890,713.2" stroke="#f79a7e"/>
<polyline points="770,680.7 794,653.2 818,709.0 842,701.6 866,694.1 890,708.2" stroke="#f79a7e"/>
<polyline points="770,667.5 794,653.1 818,695.3 842,709.1 866,687.2 890,709.7" stroke="#f79a7e"/>
<polyline points="770,677.5 794,655.3 818,694.9 842,691.2 866,724.2 890,711.2" stroke="#f7977b"/>
<polyline points="770,660.2 794,650.9 818,688.8 842,695.5 866,697.3 890,708.5" stroke="#f7977b"/>
<polyline points="770,665.6 794,659.7 818,704.8 842,683.7 866,694.9 890,699.0" stroke="#f6977b"/>
<polyline points="770,665.8 794,659.6 818,710.5 842,708.6 866,710.1 890,687.6" stroke="#f6977b"/>
<polyline points="770,670.6 794,659.1 818,714.4 842,691.8 866,701.2 890,714.8" stroke="#f6967a"/>
<polyline points="770,672.2 794,653.4 818,689.4 842,699.6 866,721.1 890,706.8" stroke="#f69579"/>
<polyline points="770,663.9 794,666.1 818,706.2 842,707.8 866,719.5 890,707.7" stroke="#f69578"/>
<polyline points="770,669.7 794,651.0 818,707.3 842,697.7 866,702.3 890,687.5" stroke="#f69478"/>
<polyline points="770,678.0 794,648.5 818,709.9 842,679.0 866,680.7 890,693.7" stroke="#f69478"/>
<polyline points="770,657.0 794,667.2 818,702.1 842,705.4 866,711.8 890,705.5" stroke="#f69477"/>
<polyline points="770,658.0 794,655.4 818,711.9 842,704.6 866,699.8 890,712.5" stroke="#f69175"/>
<polyline points="770,675.5 794,668.1 818,708.0 842,703.5 866,694.3 890,710.1" stroke="#f69175"/>
<polyline points="770,660.1 794,655.1 818,716.8 842,692.2 866,712.8 890,702.2" stroke="#f69073"/>
<polyline points="770,659.7 794,666.0 818,710.6 842,702.6 866,723.6 890,713.2" stroke="#f68e72"/>
<polyline points="770,664.3 794,653.3 818,712.3 842,703.4 866,712.0 890,711.4" stroke="#f68e72"/>
<polyline points="770,663.4 794,654.0 818,706.3 842,692.1 866,706.9 890,714.9" stroke="#f58b6f"/>
<polyline points="770,670.1 794,649.6 818,694.4 842,698.2 866,707.5 890,707.6" stroke="#f58b6e"/>
<polyline points="770,665.6 794,651.6 818,697.3 842,691.1 866,704.0 890,711.9" stroke="#f58a6e"/>
<polyline points="770,658.7 794,651.6 818,703.0 842,700.7 866,697.5 890,684.5" stroke="#f58a6e"/>
<polyline points="770,656.0 794,653.7 818,707.5 842,693.7 866,694.4 890,700.9" stroke="#f5896d"/>
<polyline points="770,655.7 794,649.8 818,683.5 842,685.3 866,702.0 890,708.7" stroke="#f5896d"/>
<polyline points="770,666.7 794,651.9 818,704.3 842,681.1 866,714.2 890,707.7" stroke="#f5896c"/>
<polyline points="770,663.1 794,661.5 818,709.0 842,686.1 866,714.8 890,692.0" stroke="#f5876b"/>
<polyline points="770,660.2 794,666.2 818,701.7 842,694.7 866,684.8 890,694.4" stroke="#f5876b"/>
<polyline points="770,677.4 794,657.0 818,712.4 842,714.1 866,708.3 890,714.5" stroke="#f5876b"/>
<polyline points="770,665.5 794,655.0 818,693.8 842,707.5 866,693.9 890,694.9" stroke="#f5876a"/>
<polyline points="770,659.1 794,658.9 818,706.2 842,709.2 866,701.6 890,687.5" stroke="#f5866a"/>
<polyline points="770,659.9 794,648.0 818,705.9 842,693.4 866,698.4 890,714.3" stroke="#f5866a"/>
<polyline points="770,667.8 794,653.8 818,705.0 842,705.2 866,689.7 890,687.7" stroke="#f5866a"/>
<polyline points="770,667.7 794,650.1 818,689.6 842,693.7 866,701.1 890,696.6" stroke="#f58669"/>
<polyline points="770,658.2 794,655.7 818,713.3 842,705.5 866,713.8 890,703.2" stroke="#f58569"/>
<polyline points="770,661.6 794,654.1 818,708.5 842,681.9 866,712.7 890,710.5" stroke="#f58468"/>
<polyline points="770,660.6 794,654.1 818,707.3 842,682.9 866,689.8 890,708.7" stroke="#f58467"/>
<polyline points="770,663.1 794,657.2 818,695.4 842,707.7 866,698.1 890,707.5" stroke="#f58467"/>
<polyline points="770,675.9 794,656.7 818,698.4 842,695.0 866,688.5 890,703.6" stroke="#f58367"/>
<polyline points="770,656.5 794,658.4 818,710.3 842,703.9 866,709.9 890,687.9" stroke="#f48366"/>
<polyline points="770,678.9 794,667.8 818,693.0 842,702.4 866,698.6 890,706.2" stroke="#f48164"/>
<polyline points="770,658.6 794,650.1 818,704.4 842,699.2 866,703.2 890,707.7" stroke="#f47f63"/>
<polyline points="770,662.9 794,653.9 818,706.8 842,702.7 866,699.2 890,711.7" stroke="#f47e61"/>
<polyline points="770,660.9 794,651.1 818,685.7 842,689.2 866,693.9 890,693.3" stroke="#f47d61"/>
<polyline points="770,665.7 794,652.7 818,714.8 842,713.0 866,707.0 890,708.7" stroke="#f47d60"/>
<polyline points="770,668.6 794,660.1 818,707.5 842,704.3 866,711.7 890,698.8" stroke="#f47d60"/>
<polyline points="770,662.8 794,651.5 818,691.8 842,691.0 866,685.5 890,695.8" stroke="#f47c60"/>
<polyline points="770,672.9 794,649.7 818,711.5 842,704.7 866,718.2 890,703.8" stroke="#f47c5f"/>
<polyline points="770,671.6 794,657.4 818,700.5 842,709.3 866,711.5 890,695.9" stroke="#f47b5f"/>
<polyline points="770,662.9 794,653.6 818,705.9 842,706.7 866,708.4 890,692.6" stroke="#f47a5e"/>
<polyline points="770,661.5 794,666.9 818,693.5 842,712.7 866,693.9 890,704.0" stroke="#f47a5d"/>
<polyline points="770,666.0 794,658.1 818,709.4 842,704.8 866,701.6 890,706.0" stroke="#f3775a"/>
<polyline points="770,672.6 794,653.4 818,711.3 842,708.3 866,717.1 890,707.8" stroke="#f3775a"/>
<polyline points="770,677.0 794,664.8 818,708.3 842,712.4 866,710.4 890,715.3" stroke="#f3775a"/>
<polyline points="770,673.8 794,659.3 818,702.8 842,701.4 866,715.1 890,709.4" stroke="#f3775a"/>
<polyline points="770,661.8 794,655.4 818,703.5 842,705.0 866,689.8 890,693.5" stroke="#f3775a"/>
<polyline points="770,664.1 794,649.1 818,712.5 842,698.1 866,714.9 890,713.2" stroke="#f37558"/>
<polyline points="770,676.5 794,659.4 818,687.4 842,691.4 866,705.5 890,714.8" stroke="#f37558"/>
<polyline points="770,665.1 794,655.6 818,704.5 842,703.6 866,705.4 890,715.1" stroke="#f37558"/>
<polyline points="770,665.0 794,659.1 818,705.5 842,700.2 866,710.2 890,712.0" stroke="#f37356"/>
<polyline points="770,657.4 794,653.1 818,693.9 842,703.7 866,719.6 890,706.6" stroke="#f37356"/>
<polyline points="770,656.2 794,652.0 818,706.2 842,702.5 866,705.3 890,701.5" stroke="#f37255"/>
<polyline points="770,664.2 794,654.7 818,695.1 842,702.1 866,718.7 890,707.0" stroke="#f37154"/>
<polyline points="770,662.1 794,660.5 818,712.2 842,711.6 866,713.5 890,714.7" stroke="#f36f52"/>
<polyline points="770,663.5 794,654.7 818,706.6 842,706.7 866,713.3 890,701.9" stroke="#f26d50"/>
<polyline points="770,659.9 794,665.2 818,712.3 842,695.3 866,707.6 890,710.0" stroke="#f26d50"/>
<polyline points="770,663.9 794,651.7 818,702.2 842,705.6 866,703.4 890,700.9" stroke="#f26d50"/>
<polyline points="770,668.5 794,649.1 818,706.1 842,706.0 866,702.9 890,708.7" stroke="#f26d50"/>
<polyline points="770,661.1 794,657.6 818,708.6 842,699.5 866,694.8 890,705.8" stroke="#f26d50"/>
<polyline points="770,664.7 794,653.8 818,714.5 842,709.7 866,707.1 890,708.9" stroke="#f26c4f"/>
<polyline points="770,665.0 794,661.5 818,692.6 842,703.5 866,702.5 890,690.6" stroke="#f26c4f"/>
<polyline points="770,666.4 794,654.1 818,705.5 842,704.5 866,697.0 890,694.2" stroke="#f26c4f"/>
<polyline points="770,670.4 794,665.0 818,703.0 842,694.1 866,707.4 890,712.3" stroke="#f26b4e"/>
<polyline points="770,663.6 794,655.1 818,710.6 842,699.5 866,690.0 890,709.5" stroke="#f26a4d"/>
<polyline points="770,659.9 794,655.0 818,694.9 842,700.9 866,704.2 890,708.2" stroke="#f26a4d"/>
<polyline points="770,668.3 794,653.5 818,711.7 842,705.5 866,708.4 890,708.1" stroke="#f1664a"/>
<polyline points="770,665.3 794,650.6 818,706.8 842,705.0 866,708.6 890,700.3" stroke="#f1664a"/>
<polyline points="770,664.4 794,654.4 818,710.9 842,699.2 866,708.5 890,706.9" stroke="#f16549"/>
<polyline points="770,674.7 794,653.3 818,708.7 842,710.4 866,708.4 890,713.6" stroke="#f16549"/>
<polyline points="770,661.1 794,663.9 818,706.3 842,705.1 866,701.3 890,706.3" stroke="#f16449"/>
<polyline points="770,661.2 794,654.0 818,703.2 842,703.9 866,699.4 890,706.4" stroke="#f16448"/>
<polyline points="770,660.0 794,651.5 818,705.8 842,701.6 866,711.1 890,712.4" stroke="#f06448"/>
<polyline points="770,664.2 794,657.5 818,705.4 842,708.9 866,712.5 890,708.7" stroke="#f06347"/>
<polyline points="770,659.8 794,651.0 818,691.8 842,699.3 866,701.0 890,706.2" stroke="#f06347"/>
<polyline points="770,661.7 794,652.4 818,706.0 842,700.0 866,701.4 890,705.8" stroke="#f06247"/>
<polyline points="770,664.7 794,656.0 818,708.0 842,705.7 866,710.9 890,708.9" stroke="#f06247"/>
<polyline points="770,662.4 794,653.4 818,702.7 842,706.7 866,705.0 890,713.3" stroke="#f06146"/>
<polyline points="770,660.2 794,651.8 818,701.6 842,697.4 866,709.3 890,701.0" stroke="#f06146"/>
<polyline points="770,658.0 794,652.0 818,709.5 842,703.9 866,709.5 890,703.8" stroke="#f06045"/>
<polyline points="770,668.8 794,657.5 818,699.8 842,701.8 866,708.5 890,711.0" stroke="#ef5f45"/>
<polyline points="770,664.7 794,658.4 818,703.3 842,689.4 866,707.5 890,711.3" stroke="#ef5f45"/>
<polyline points="770,668.1 794,652.1 818,707.6 842,704.0 866,707.9 890,694.4" stroke="#ef5f44"/>
<polyline points="770,658.9 794,652.6 818,697.7 842,689.7 866,696.1 890,694.0" stroke="#ef5e43"/>
<polyline points="770,673.3 794,662.7 818,712.6 842,695.6 866,708.5 890,710.0" stroke="#ef5c42"/>
<polyline points="770,659.8 794,653.4 818,701.6 842,696.9 866,710.3 890,703.9" stroke="#ef5c42"/>
<polyline points="770,669.9 794,652.9 818,707.7 842,706.3 866,713.7 890,707.5" stroke="#ef5c42"/>
<polyline points="770,664.6 794,659.6 818,708.0 842,704.2 866,703.5 890,700.1" stroke="#ef5c42"/>
<polyline points="770,669.8 794,653.9 818,707.6 842,703.7 866,713.2 890,711.1" stroke="#ee5a41"/>
<polyline points="770,670.7 794,653.1 818,698.9 842,700.8 866,706.8 890,704.2" stroke="#ee5a40"/>
<polyline points="770,667.5 794,660.3 818,711.0 842,700.7 866,711.4 890,709.2" stroke="#ee5a40"/>
<polyline points="770,664.8 794,655.8 818,711.9 842,705.8 866,702.3 890,707.2" stroke="#ee5a40"/>
<polyline points="770,658.6 794,652.9 818,696.2 842,690.7 866,696.3 890,697.8" stroke="#ee5940"/>
<polyline points="770,664.1 794,657.6 818,711.8 842,707.8 866,712.8 890,710.6" stroke="#ee593f"/>
<polyline points="770,669.7 794,662.1 818,700.5 842,708.9 866,715.2 890,708.3" stroke="#ee583f"/>
<polyline points="770,663.8 794,650.5 818,693.5 842,692.7 866,695.5 890,709.4" stroke="#ee583f"/>
<polyline points="770,663.7 794,657.7 818,702.3 842,703.7 866,698.4 890,709.6" stroke="#ee583f"/>
<polyline points="770,664.6 794,651.1 818,711.1 842,703.9 866,713.1 890,709.0" stroke="#ee583f"/>
<polyline points="770,663.6 794,650.7 818,700.0 842,693.2 866,701.2 890,701.1" stroke="#ee573e"/>
<polyline points="770,664.3 794,658.5 818,705.7 842,701.2 866,709.9 890,709.1" stroke="#ee573e"/>
<polyline points="770,668.0 794,661.6 818,705.4 842,706.4 866,703.5 890,701.9" stroke="#ed563e"/>
<polyline points="770,669.6 794,652.9 818,704.5 842,700.3 866,712.4 890,706.5" stroke="#ed563e"/>
<polyline points="770,665.1 794,659.8 818,710.2 842,691.5 866,711.7 890,707.3" stroke="#ed563d"/>
<polyline points="770,664.9 794,652.1 818,707.3 842,705.1 866,701.5 890,701.8" stroke="#ed563d"/>
<polyline points="770,660.3 794,653.4 818,703.2 842,702.6 866,695.6 890,695.9" stroke="#ed563d"/>
<polyline points="770,664.9 794,653.4 818,710.3 842,705.2 866,708.5 890,701.5" stroke="#ed563d"/>
<polyline points="770,659.1 794,653.9 818,704.8 842,699.9 866,710.3 890,706.3" stroke="#ed553c"/>
<polyline points="770,659.1 794,652.3 818,697.5 842,694.1 866,706.8 890,710.8" stroke="#ed553c"/>
<polyline points="770,663.9 794,653.7 818,711.5 842,698.3 866,697.4 890,712.1" stroke="#ed543c"/>
<polyline points="770,659.2 794,652.4 818,706.9 842,695.9 866,708.5 890,699.8" stroke="#ed543c"/>
<polyline points="770,662.0 794,651.7 818,698.9 842,692.0 866,706.4 890,696.3" stroke="#ed543c"/>
<polyline points="770,663.6 794,651.7 818,701.3 842,693.3 866,694.8 890,696.8" stroke="#ed543b"/>
<polyline points="770,663.2 794,653.8 818,699.3 842,692.1 866,701.9 890,708.6" stroke="#ed533b"/>
<polyline points="770,659.4 794,657.4 818,709.5 842,703.4 866,707.8 890,705.9" stroke="#ec523a"/>
<polyline points="770,661.3 794,654.7 818,706.5 842,699.7 866,706.5 890,699.2" stroke="#ec523a"/>
<polyline points="770,663.4 794,651.7 818,707.2 842,698.7 866,704.5 890,696.8" stroke="#ec523a"/>
<polyline points="770,663.9 794,652.0 818,705.4 842,703.8 866,712.4 890,708.7" stroke="#ec513a"/>
<polyline points="770,659.5 794,660.9 818,706.9 842,700.2 866,697.8 890,708.4" stroke="#ec5139"/>
<polyline points="770,663.2 794,655.7 818,699.9 842,705.2 866,700.9 890,708.2" stroke="#ec5139"/>
<polyline points="770,663.3 794,652.8 818,707.2 842,703.6 866,695.7 890,709.4" stroke="#ec5039"/>
<polyline points="770,668.6 794,655.7 818,706.5 842,701.4 866,706.8 890,708.5" stroke="#ec5039"/>
<polyline points="770,670.0 794,660.8 818,703.2 842,707.8 866,712.6 890,708.3" stroke="#ec5038"/>
<polyline points="770,666.9 794,652.7 818,701.1 842,705.3 866,699.8 890,708.8" stroke="#ec4f38"/>
<polyline points="770,668.5 794,651.4 818,705.7 842,705.2 866,713.6 890,711.6" stroke="#ec4f38"/>
<polyline points="770,664.0 794,653.7 818,698.8 842,704.2 866,707.5 890,707.6" stroke="#eb4e37"/>
<polyline points="770,663.7 794,657.4 818,709.7 842,694.6 866,708.4 890,708.2" stroke="#eb4e37"/>
<polyline points="770,665.8 794,658.3 818,709.4 842,701.8 866,710.6 890,709.8" stroke="#eb4d36"/>
<polyline points="770,665.5 794,655.1 818,705.6 842,702.1 866,709.7 890,707.5" stroke="#eb4d36"/>
<polyline points="770,661.1 794,655.9 818,699.0 842,694.9 866,698.9 890,703.3" stroke="#eb4d36"/>
<polyline points="770,664.2 794,654.5 818,709.8 842,707.3 866,709.6 890,711.3" stroke="#eb4b35"/>
<polyline points="770,668.1 794,660.1 818,708.5 842,707.3 866,708.2 890,708.8" stroke="#eb4b35"/>
<polyline points="770,661.7 794,653.3 818,699.6 842,703.9 866,710.7 890,706.4" stroke="#eb4b35"/>
<polyline points="770,663.8 794,655.8 818,709.8 842,705.8 866,703.9 890,710.1" stroke="#eb4b34"/>
<polyline points="770,661.1 794,653.5 818,710.1 842,700.4 866,699.7 890,701.8" stroke="#ea4a34"/>
<polyline points="770,662.9 794,655.0 818,710.1 842,700.4 866,706.8 890,708.5" stroke="#ea4a34"/>
<polyline points="770,670.2 794,654.6 818,702.5 842,704.7 866,706.2 890,711.1" stroke="#ea4933"/>
<polyline points="770,660.3 794,655.1 818,699.1 842,696.7 866,701.0 890,701.0" stroke="#ea4933"/>
<polyline points="770,663.7 794,652.5 818,704.6 842,701.7 866,697.5 890,702.9" stroke="#ea4833"/>
<polyline points="770,663.3 794,652.0 818,696.9 842,702.7 866,697.7 890,709.3" stroke="#ea4833"/>
<polyline points="770,662.2 794,651.6 818,709.5 842,706.6 866,710.4 890,711.0" stroke="#ea4832"/>
<polyline points="770,666.8 794,659.6 818,704.3 842,701.1 866,709.8 890,709.5" stroke="#ea4832"/>
<polyline points="770,666.4 794,654.3 818,707.2 842,704.1 866,708.2 890,704.5" stroke="#ea4732"/>
<polyline points="770,662.4 794,654.6 818,698.5 842,695.7 866,707.7 890,702.7" stroke="#ea4631"/>
<polyline points="770,663.7 794,658.4 818,699.4 842,705.4 866,709.5 890,701.2" stroke="#e94631"/>
<polyline points="770,663.2 794,658.7 818,701.9 842,705.0 866,709.6 890,699.6" stroke="#e94631"/>
<polyline points="770,665.5 794,658.0 818,703.8 842,704.2 866,706.3 890,705.2" stroke="#e94630"/>
<polyline points="770,669.3 794,656.0 818,705.0 842,699.6 866,708.0 890,708.1" stroke="#e94530"/>
<polyline points="770,666.0 794,658.8 818,704.9 842,702.6 866,708.8 890,708.9" stroke="#e94530"/>
<polyline points="770,661.4 794,653.8 818,705.3 842,705.1 866,701.4 890,706.0" stroke="#e94530"/>
<polyline points="770,664.3 794,654.2 818,706.3 842,700.7 866,703.7 890,709.1" stroke="#e94530"/>
<polyline points="770,669.0 794,653.1 818,704.3 842,701.3 866,708.3 890,708.7" stroke="#e94530"/>
<polyline points="770,666.7 794,659.1 818,704.7 842,701.4 866,705.7 890,708.4" stroke="#e9442f"/>
<polyline points="770,662.7 794,653.1 818,707.0 842,697.6 866,711.6 890,705.3" stroke="#e9432e"/>
<polyline points="770,663.3 794,654.9 818,705.9 842,698.2 866,698.7 890,701.7" stroke="#e9422e"/>
<polyline points="770,661.9 794,654.4 818,704.0 842,704.5 866,706.6 890,708.0" stroke="#e8422e"/>
<polyline points="770,663.8 794,656.0 818,698.2 842,701.3 866,705.4 890,709.3" stroke="#e8422e"/>
<polyline points="770,661.6 794,652.9 818,706.0 842,697.5 866,705.1 890,709.5" stroke="#e8422e"/>
<polyline points="770,664.2 794,652.8 818,700.5 842,696.8 866,705.6 890,706.3" stroke="#e8422d"/>
<polyline points="770,663.2 794,653.5 818,707.8 842,702.0 866,705.1 890,707.5" stroke="#e8412d"/>
<polyline points="770,665.1 794,653.0 818,709.1 842,702.0 866,710.2 890,709.8" stroke="#e8412d"/>
<polyline points="770,663.5 794,655.4 818,706.5 842,704.3 866,711.5 890,710.0" stroke="#e8412d"/>
<polyline points="770,668.1 794,657.7 818,706.8 842,705.1 866,707.9 890,710.0" stroke="#e8402c"/>
<polyline points="770,662.8 794,653.9 818,699.8 842,700.8 866,706.1 890,707.6" stroke="#e8402c"/>
<polyline points="770,667.8 794,656.6 818,707.1 842,705.4 866,711.3 890,707.7" stroke="#e8402c"/>
<polyline points="770,664.6 794,657.2 818,706.4 842,703.0 866,705.1 890,707.8" stroke="#e8402c"/>
<polyline points="770,661.1 794,653.9 818,699.1 842,706.1 866,704.4 890,708.9" stroke="#e8402c"/>
<polyline points="770,664.9 794,658.0 818,701.0 842,703.2 866,706.9 890,703.6" stroke="#e8402c"/>
<polyline points="770,664.0 794,654.0 818,702.6 842,705.0 866,709.5 890,710.3" stroke="#e73f2c"/>
<polyline points="770,661.2 794,656.3 818,705.9 842,704.4 866,701.4 890,707.5" stroke="#e63e2b"/>
<polyline points="770,665.3 794,656.4 818,704.2 842,702.4 866,704.7 890,706.1" stroke="#e63e2b"/>
</g>
<polyline points="770.2,671.5 794.1,659.1 818.1,700.1 842.0,697.6 866.0,703.8 889.9,702.6" fill="none" stroke="#111" stroke-width="1.6" stroke-linejoin="round"/>
<line x1="766.30" y1="639.20" x2="766.30" y2="738.60" stroke="#555" stroke-width="1"/>
<line x1="761.80" y1="639.20" x2="766.30" y2="639.20" stroke="#555" stroke-width="1"/>
<text class="ns" x="753.20" y="639.20" font-size="12.5" text-anchor="middle" font-family='"Liberation Sans", sans-serif' fill="#333" transform="rotate(-90 753.20 639.20)" dy="4.4">2</text>
<line x1="761.80" y1="664.05" x2="766.30" y2="664.05" stroke="#555" stroke-width="1"/>
<text class="ns" x="753.20" y="664.05" font-size="12.5" text-anchor="middle" font-family='"Liberation Sans", sans-serif' fill="#333" transform="rotate(-90 753.20 664.05)" dy="4.4">1</text>
<line x1="761.80" y1="688.90" x2="766.30" y2="688.90" stroke="#555" stroke-width="1"/>
<text class="ns" x="753.20" y="688.90" font-size="12.5" text-anchor="middle" font-family='"Liberation Sans", sans-serif' fill="#333" transform="rotate(-90 753.20 688.90)" dy="4.4">0</text>
<line x1="761.80" y1="713.75" x2="766.30" y2="713.75" stroke="#555" stroke-width="1"/>
<text class="ns" x="753.20" y="713.75" font-size="12.5" text-anchor="middle" font-family='"Liberation Sans", sans-serif' fill="#333" transform="rotate(-90 753.20 713.75)" dy="4.4">−1</text>
<line x1="761.80" y1="738.60" x2="766.30" y2="738.60" stroke="#555" stroke-width="1"/>
<text class="ns" x="753.20" y="738.60" font-size="12.5" text-anchor="middle" font-family='"Liberation Sans", sans-serif' fill="#333" transform="rotate(-90 753.20 738.60)" dy="4.4">−2</text>
<line x1="770.20" y1="743.10" x2="889.90" y2="743.10" stroke="#555" stroke-width="1"/>
<line x1="770.20" y1="743.10" x2="770.20" y2="747.60" stroke="#555" stroke-width="1"/>
<text x="774.70" y="755.10" font-size="10.4" text-anchor="end" font-family='"Liberation Sans", sans-serif' fill="#1a1a1a" transform="rotate(-42 774.70 755.10)">WS-2h</text>
<line x1="794.14" y1="743.10" x2="794.14" y2="747.60" stroke="#555" stroke-width="1"/>
<text x="798.64" y="755.10" font-size="10.4" text-anchor="end" font-family='"Liberation Sans", sans-serif' fill="#1a1a1a" transform="rotate(-42 798.64 755.10)">WS-4h</text>
<line x1="818.08" y1="743.10" x2="818.08" y2="747.60" stroke="#555" stroke-width="1"/>
<text x="822.58" y="755.10" font-size="10.4" text-anchor="end" font-family='"Liberation Sans", sans-serif' fill="#1a1a1a" transform="rotate(-42 822.58 755.10)">WS-6h</text>
<line x1="842.02" y1="743.10" x2="842.02" y2="747.60" stroke="#555" stroke-width="1"/>
<text x="846.52" y="755.10" font-size="10.4" text-anchor="end" font-family='"Liberation Sans", sans-serif' fill="#1a1a1a" transform="rotate(-42 846.52 755.10)">WS-8h</text>
<line x1="865.96" y1="743.10" x2="865.96" y2="747.60" stroke="#555" stroke-width="1"/>
<text x="870.46" y="755.10" font-size="10.4" text-anchor="end" font-family='"Liberation Sans", sans-serif' fill="#1a1a1a" transform="rotate(-42 870.46 755.10)">WS-10h</text>
<line x1="889.90" y1="743.10" x2="889.90" y2="747.60" stroke="#555" stroke-width="1"/>
<text x="894.40" y="755.10" font-size="10.4" text-anchor="end" font-family='"Liberation Sans", sans-serif' fill="#1a1a1a" transform="rotate(-42 894.40 755.10)">WS-12h</text>
<text x="852.00" y="633.72" font-size="13.1" text-anchor="middle" font-family='"Liberation Sans", sans-serif' fill="#1a1a1a">Cluster10</text>
<text x="737.20" y="687.00" font-size="13.2" text-anchor="middle" font-family='"Liberation Sans", sans-serif' fill="#1a1a1a" transform="rotate(-90 737.20 687.00)" dy="4.75">Expression change</text>
</svg>
</body></html>
